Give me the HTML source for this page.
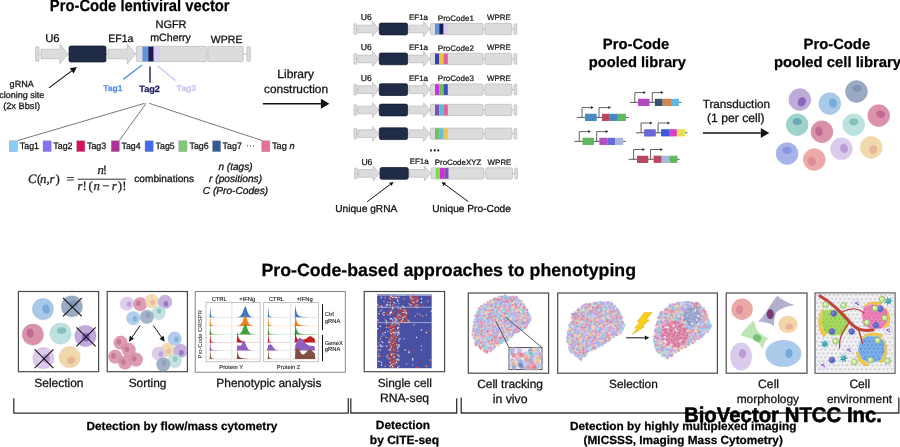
<!DOCTYPE html>
<html><head><meta charset="utf-8"><style>
html,body{margin:0;padding:0;background:#fff;width:900px;height:447px;overflow:hidden}
svg{display:block;will-change:transform}
text{paint-order:stroke;stroke-linejoin:round;text-rendering:geometricPrecision}
</style></head><body>
<svg width="900" height="447" viewBox="0 0 900 447">
<rect width="900" height="447" fill="#fff"/>
<text x="49.87" y="10.70" font-family="Liberation Sans" font-size="16.25" font-weight="bold" font-style="normal" text-anchor="start" fill="#000" stroke="#000" stroke-width="0.25"  textLength="179.73" lengthAdjust="spacingAndGlyphs">Pro-Code lentiviral vector</text>
<line x1="35.5" y1="54" x2="250.3" y2="54" stroke="#a4a4a4" stroke-width="0.8"/>
<rect x="35.5" y="46.685" width="3.5" height="14.629999999999999" rx="1.05" fill="#dcdcdc" stroke="#b2b2b2" stroke-width="0.6"/>
<path d="M41,49.2 L59.9,49.2 L59.9,44.0 L68,54 L59.9,64.0 L59.9,58.8 L41,58.8 Z" fill="#dcdcdc" stroke="#b2b2b2" stroke-width="0.6"/>
<rect x="69" y="45.992" width="37" height="16.016000000000002" rx="1.8" fill="#1f2b47" stroke="#0b1222" stroke-width="0.7"/>
<path d="M108,49.2 L127.25,49.2 L127.25,44.0 L135.5,54 L127.25,64.0 L127.25,58.8 L108,58.8 Z" fill="#dcdcdc" stroke="#b2b2b2" stroke-width="0.6"/>
<rect x="136.3" y="46.3" width="70.5" height="15.4" rx="1.5" fill="#dcdcdc" stroke="#b2b2b2" stroke-width="0.6"/>
<rect x="142.4" y="46.599999999999994" width="5.900000000000006" height="14.8" fill="#5e93de"/>
<rect x="148.3" y="46.599999999999994" width="5.399999999999977" height="14.8" fill="#1c1c4e"/>
<rect x="153.7" y="46.599999999999994" width="5.900000000000006" height="14.8" fill="#d6ccf6"/>
<rect x="207.9" y="46.3" width="35.29999999999998" height="15.4" rx="1.5" fill="#dcdcdc" stroke="#b2b2b2" stroke-width="0.6"/>
<rect x="246.8" y="46.685" width="3.5" height="14.629999999999999" rx="1.05" fill="#dcdcdc" stroke="#b2b2b2" stroke-width="0.6"/>
<text x="45.20" y="42.30" font-family="Liberation Sans" font-size="11.30" font-weight="normal" font-style="normal" text-anchor="start" fill="#111" stroke="#111" stroke-width="0.28"  textLength="14.45" lengthAdjust="spacingAndGlyphs">U6</text>
<text x="108.15" y="42.30" font-family="Liberation Sans" font-size="10.56" font-weight="normal" font-style="normal" text-anchor="start" fill="#111" stroke="#111" stroke-width="0.28"  textLength="25.25" lengthAdjust="spacingAndGlyphs">EF1a</text>
<text x="155.53" y="27.70" font-family="Liberation Sans" font-size="10.93" font-weight="normal" font-style="normal" text-anchor="start" fill="#111" stroke="#111" stroke-width="0.28"  textLength="30.95" lengthAdjust="spacingAndGlyphs">NGFR</text>
<text x="150.26" y="40.80" font-family="Liberation Sans" font-size="10.61" font-weight="normal" font-style="normal" text-anchor="start" fill="#111" stroke="#111" stroke-width="0.28"  textLength="40.68" lengthAdjust="spacingAndGlyphs">mCherry</text>
<text x="210.89" y="43.00" font-family="Liberation Sans" font-size="10.51" font-weight="normal" font-style="normal" text-anchor="start" fill="#111" stroke="#111" stroke-width="0.28"  textLength="31.53" lengthAdjust="spacingAndGlyphs">WPRE</text>
<text x="9.64" y="87.20" font-family="Liberation Sans" font-size="9.08" font-weight="normal" font-style="normal" text-anchor="start" fill="#111" stroke="#111" stroke-width="0.25"  textLength="24.23" lengthAdjust="spacingAndGlyphs">gRNA</text>
<text x="21.80" y="98.30" font-family="Liberation Sans" font-size="9.00" font-weight="normal" font-style="normal" text-anchor="middle" fill="#111" stroke="#111" stroke-width="0.25" >cloning site</text>
<text x="3.15" y="109.40" font-family="Liberation Sans" font-size="9.23" font-weight="normal" font-style="normal" text-anchor="start" fill="#111" stroke="#111" stroke-width="0.26"  textLength="36.92" lengthAdjust="spacingAndGlyphs">(2x BbsI)</text>
<line x1="49" y1="87.9" x2="71.69776333466581" y2="70.89701599661235" stroke="#111" stroke-width="1.15" />
<path d="M76.90,67.00 L73.65,73.50 L69.75,68.30 Z" fill="#111"/>
<line x1="123.3" y1="79.4" x2="142.2" y2="65" stroke="#5e93de" stroke-width="1.4" />
<line x1="150" y1="66.5" x2="150" y2="82.8" stroke="#1c1c4e" stroke-width="1.4" />
<line x1="157.3" y1="65.7" x2="175.5" y2="80.5" stroke="#cfc6f4" stroke-width="1.4" />
<text x="103.21" y="91.20" font-family="Liberation Sans" font-size="8.51" font-weight="bold" font-style="normal" text-anchor="start" fill="#5b90dc" stroke="#5b90dc" stroke-width="0.25"  textLength="19.24" lengthAdjust="spacingAndGlyphs">Tag1</text>
<text x="139.21" y="92.30" font-family="Liberation Sans" font-size="9.19" font-weight="bold" font-style="normal" text-anchor="start" fill="#1f1f5a" stroke="#1f1f5a" stroke-width="0.25"  textLength="20.76" lengthAdjust="spacingAndGlyphs">Tag2</text>
<text x="176.61" y="90.60" font-family="Liberation Sans" font-size="8.55" font-weight="bold" font-style="normal" text-anchor="start" fill="#cbc3f2" stroke="#cbc3f2" stroke-width="0.25"  textLength="19.33" lengthAdjust="spacingAndGlyphs">Tag3</text>
<line x1="144.6" y1="103.3" x2="17.5" y2="140.6" stroke="#555" stroke-width="0.8" />
<line x1="146.2" y1="103.3" x2="119.2" y2="140.6" stroke="#555" stroke-width="0.8" />
<line x1="149.2" y1="103.3" x2="262.5" y2="140.6" stroke="#555" stroke-width="0.8" />
<rect x="9.2" y="140.8" width="8.2" height="10.9" fill="#88ccf4" stroke="#999" stroke-width="0.4"/>
<text x="19.82" y="149.00" font-family="Liberation Sans" font-size="9.30" font-weight="normal" font-style="normal" text-anchor="start" fill="#111" stroke="#111" stroke-width="0.26"  textLength="19.21" lengthAdjust="spacingAndGlyphs">Tag1</text>
<rect x="43" y="140.8" width="8.2" height="10.9" fill="#8a6ff0" stroke="#999" stroke-width="0.4"/>
<text x="53.32" y="149.00" font-family="Liberation Sans" font-size="9.30" font-weight="normal" font-style="normal" text-anchor="start" fill="#111" stroke="#111" stroke-width="0.26"  textLength="19.21" lengthAdjust="spacingAndGlyphs">Tag2</text>
<rect x="76.7" y="140.8" width="8.2" height="10.9" fill="#d8105c" stroke="#999" stroke-width="0.4"/>
<text x="87.02" y="149.00" font-family="Liberation Sans" font-size="9.30" font-weight="normal" font-style="normal" text-anchor="start" fill="#111" stroke="#111" stroke-width="0.26"  textLength="19.21" lengthAdjust="spacingAndGlyphs">Tag3</text>
<rect x="111.2" y="140.8" width="8.2" height="10.9" fill="#b0309a" stroke="#999" stroke-width="0.4"/>
<text x="121.52" y="149.00" font-family="Liberation Sans" font-size="9.21" font-weight="normal" font-style="normal" text-anchor="start" fill="#111" stroke="#111" stroke-width="0.26"  textLength="19.03" lengthAdjust="spacingAndGlyphs">Tag4</text>
<rect x="145" y="140.8" width="8.2" height="10.9" fill="#4468f0" stroke="#999" stroke-width="0.4"/>
<text x="155.62" y="149.00" font-family="Liberation Sans" font-size="9.26" font-weight="normal" font-style="normal" text-anchor="start" fill="#111" stroke="#111" stroke-width="0.26"  textLength="19.12" lengthAdjust="spacingAndGlyphs">Tag5</text>
<rect x="178.8" y="140.8" width="8.2" height="10.9" fill="#80c878" stroke="#999" stroke-width="0.4"/>
<text x="189.52" y="149.00" font-family="Liberation Sans" font-size="9.30" font-weight="normal" font-style="normal" text-anchor="start" fill="#111" stroke="#111" stroke-width="0.26"  textLength="19.21" lengthAdjust="spacingAndGlyphs">Tag6</text>
<rect x="212.5" y="140.8" width="8.2" height="10.9" fill="#305c98" stroke="#999" stroke-width="0.4"/>
<text x="222.62" y="149.00" font-family="Liberation Sans" font-size="9.30" font-weight="normal" font-style="normal" text-anchor="start" fill="#111" stroke="#111" stroke-width="0.26"  textLength="19.21" lengthAdjust="spacingAndGlyphs">Tag7</text>
<text x="250.50" y="148.00" font-family="Liberation Sans" font-size="8.60" font-weight="normal" font-style="normal" text-anchor="middle" fill="#444" stroke="#444" stroke-width="0.05" >···</text>
<rect x="261.7" y="140.8" width="8.2" height="10.9" fill="#e67098" stroke="#999" stroke-width="0.4"/>
<text x="271.9" y="149.0" font-family="Liberation Sans" font-size="9.3" fill="#111" stroke="#111" stroke-width="0.26">Tag <tspan font-style="italic">n</tspan></text>
<text x="28.0" y="182.6" font-family="Liberation Serif" font-size="12.8" font-style="italic" fill="#222" stroke="#222" stroke-width="0.3">C</text><text x="37.0" y="182.6" font-family="Liberation Serif" font-size="12.8" font-style="normal" fill="#222" stroke="#222" stroke-width="0.3">(</text><text x="40.0" y="182.6" font-family="Liberation Serif" font-size="12.8" font-style="italic" fill="#222" stroke="#222" stroke-width="0.3">n</text><text x="46.6" y="182.6" font-family="Liberation Serif" font-size="12.8" font-style="normal" fill="#222" stroke="#222" stroke-width="0.3">,</text><text x="49.6" y="182.6" font-family="Liberation Serif" font-size="12.8" font-style="italic" fill="#222" stroke="#222" stroke-width="0.3">r</text><text x="55.6" y="182.6" font-family="Liberation Serif" font-size="12.8" font-style="normal" fill="#222" stroke="#222" stroke-width="0.3">)</text>
<text x="66.5" y="183.2" font-family="Liberation Serif" font-size="13" fill="#222" stroke="#222" stroke-width="0.3" textLength="8" lengthAdjust="spacingAndGlyphs">=</text>
<line x1="77.5" y1="179.2" x2="126.2" y2="179.2" stroke="#333" stroke-width="1.0" />
<text x="97.6" y="173.6" font-family="Liberation Serif" font-size="12.8" font-style="italic" fill="#222" stroke="#222" stroke-width="0.3">n</text><text x="102.8" y="173.6" font-family="Liberation Serif" font-size="12.8" font-style="normal" fill="#222" stroke="#222" stroke-width="0.3">!</text>
<text x="77.6" y="189.5" font-family="Liberation Serif" font-size="12.8" font-style="italic" fill="#222" stroke="#222" stroke-width="0.3">r</text><text x="82.4" y="189.5" font-family="Liberation Serif" font-size="12.8" font-style="normal" fill="#222" stroke="#222" stroke-width="0.3">!</text><text x="88.4" y="189.5" font-family="Liberation Serif" font-size="12.8" font-style="normal" fill="#222" stroke="#222" stroke-width="0.3">(</text><text x="93.6" y="189.5" font-family="Liberation Serif" font-size="12.8" font-style="italic" fill="#222" stroke="#222" stroke-width="0.3">n</text><text x="102.2" y="189.5" font-family="Liberation Serif" font-size="12.8" font-style="normal" fill="#222" stroke="#222" stroke-width="0.3">−</text><text x="111.8" y="189.5" font-family="Liberation Serif" font-size="12.8" font-style="italic" fill="#222" stroke="#222" stroke-width="0.3">r</text><text x="117.8" y="189.5" font-family="Liberation Serif" font-size="12.8" font-style="normal" fill="#222" stroke="#222" stroke-width="0.3">)</text><text x="122.3" y="189.5" font-family="Liberation Serif" font-size="12.8" font-style="normal" fill="#222" stroke="#222" stroke-width="0.3">!</text>
<text x="134.29" y="181.80" font-family="Liberation Sans" font-size="10.15" font-weight="normal" font-style="normal" text-anchor="start" fill="#111" stroke="#111" stroke-width="0.28"  textLength="59.83" lengthAdjust="spacingAndGlyphs">combinations</text>
<text x="218.40" y="170.10" font-family="Liberation Sans" font-size="10.09" font-weight="normal" font-style="italic" text-anchor="start" fill="#111" stroke="#111" stroke-width="0.28"  textLength="34.21" lengthAdjust="spacingAndGlyphs">n (tags)</text>
<text x="209.10" y="181.80" font-family="Liberation Sans" font-size="10.14" font-weight="normal" font-style="italic" text-anchor="start" fill="#111" stroke="#111" stroke-width="0.28"  textLength="52.95" lengthAdjust="spacingAndGlyphs">r (positions)</text>
<text x="202.79" y="193.90" font-family="Liberation Sans" font-size="10.14" font-weight="normal" font-style="italic" text-anchor="start" fill="#111" stroke="#111" stroke-width="0.28"  textLength="65.38" lengthAdjust="spacingAndGlyphs">C (Pro-Codes)</text>
<text x="277.34" y="78.20" font-family="Liberation Sans" font-size="12.02" font-weight="normal" font-style="normal" text-anchor="start" fill="#111" stroke="#111" stroke-width="0.28"  textLength="36.74" lengthAdjust="spacingAndGlyphs">Library</text>
<text x="264.03" y="92.60" font-family="Liberation Sans" font-size="11.87" font-weight="normal" font-style="normal" text-anchor="start" fill="#111" stroke="#111" stroke-width="0.28"  textLength="64.01" lengthAdjust="spacingAndGlyphs">construction</text>
<line x1="262.9" y1="103.7" x2="320.9" y2="103.7" stroke="#111" stroke-width="1.4" />
<path d="M329.40,103.70 L320.90,108.70 L320.90,98.70 Z" fill="#111"/>
<line x1="353.9" y1="29.0" x2="516.8" y2="29.0" stroke="#a4a4a4" stroke-width="0.8"/>
<rect x="353.9" y="23.6325" width="2.8000000000000114" height="10.735" rx="0.8400000000000034" fill="#dcdcdc" stroke="#b2b2b2" stroke-width="0.6"/>
<path d="M357.9,25.15 L372.53,25.15 L372.53,21.5 L378.8,29.0 L372.53,36.5 L372.53,32.85 L357.9,32.85 Z" fill="#dcdcdc" stroke="#b2b2b2" stroke-width="0.6"/>
<rect x="379.3" y="23.124" width="28.30000000000001" height="11.752" rx="1.8" fill="#1f2b47" stroke="#0b1222" stroke-width="0.7"/>
<path d="M409,25.15 L423.63,25.15 L423.63,21.5 L429.9,29.0 L423.63,36.5 L423.63,32.85 L409,32.85 Z" fill="#dcdcdc" stroke="#b2b2b2" stroke-width="0.6"/>
<rect x="430.3" y="23.35" width="52.89999999999998" height="11.3" rx="1.5" fill="#dcdcdc" stroke="#b2b2b2" stroke-width="0.6"/>
<rect x="435.0" y="23.650000000000002" width="4.300000000000011" height="10.700000000000001" fill="#5e93de"/>
<rect x="439.3" y="23.650000000000002" width="4.300000000000011" height="10.700000000000001" fill="#1c1c4e"/>
<rect x="443.6" y="23.650000000000002" width="4.199999999999989" height="10.700000000000001" fill="#d6ccf6"/>
<rect x="485" y="23.35" width="26.899999999999977" height="11.3" rx="1.5" fill="#dcdcdc" stroke="#b2b2b2" stroke-width="0.6"/>
<rect x="514.1" y="23.6325" width="2.699999999999932" height="10.735" rx="0.8099999999999795" fill="#dcdcdc" stroke="#b2b2b2" stroke-width="0.6"/>
<text x="360.71" y="20.30" font-family="Liberation Sans" font-size="8.61" font-weight="normal" font-style="normal" text-anchor="start" fill="#111" stroke="#111" stroke-width="0.24"  textLength="11.01" lengthAdjust="spacingAndGlyphs">U6</text>
<text x="408.96" y="20.00" font-family="Liberation Sans" font-size="7.97" font-weight="normal" font-style="normal" text-anchor="start" fill="#111" stroke="#111" stroke-width="0.22"  textLength="19.04" lengthAdjust="spacingAndGlyphs">EF1a</text>
<text x="437.86" y="20.70" font-family="Liberation Sans" font-size="8.01" font-weight="normal" font-style="normal" text-anchor="start" fill="#111" stroke="#111" stroke-width="0.22"  textLength="36.06" lengthAdjust="spacingAndGlyphs">ProCode1</text>
<text x="486.92" y="20.10" font-family="Liberation Sans" font-size="7.93" font-weight="normal" font-style="normal" text-anchor="start" fill="#111" stroke="#111" stroke-width="0.22"  textLength="23.80" lengthAdjust="spacingAndGlyphs">WPRE</text>
<line x1="353.9" y1="58.9" x2="516.8" y2="58.9" stroke="#a4a4a4" stroke-width="0.8"/>
<rect x="353.9" y="53.5325" width="2.8000000000000114" height="10.735" rx="0.8400000000000034" fill="#dcdcdc" stroke="#b2b2b2" stroke-width="0.6"/>
<path d="M357.9,55.05 L372.53,55.05 L372.53,51.4 L378.8,58.9 L372.53,66.4 L372.53,62.75 L357.9,62.75 Z" fill="#dcdcdc" stroke="#b2b2b2" stroke-width="0.6"/>
<rect x="379.3" y="53.024" width="28.30000000000001" height="11.752" rx="1.8" fill="#1f2b47" stroke="#0b1222" stroke-width="0.7"/>
<path d="M409,55.05 L423.63,55.05 L423.63,51.4 L429.9,58.9 L423.63,66.4 L423.63,62.75 L409,62.75 Z" fill="#dcdcdc" stroke="#b2b2b2" stroke-width="0.6"/>
<rect x="430.3" y="53.25" width="52.89999999999998" height="11.3" rx="1.5" fill="#dcdcdc" stroke="#b2b2b2" stroke-width="0.6"/>
<rect x="435.0" y="53.55" width="4.300000000000011" height="10.700000000000001" fill="#3045b0"/>
<rect x="439.3" y="53.55" width="4.300000000000011" height="10.700000000000001" fill="#f0c040"/>
<rect x="443.6" y="53.55" width="4.199999999999989" height="10.700000000000001" fill="#e2609a"/>
<rect x="485" y="53.25" width="26.899999999999977" height="11.3" rx="1.5" fill="#dcdcdc" stroke="#b2b2b2" stroke-width="0.6"/>
<rect x="514.1" y="53.5325" width="2.699999999999932" height="10.735" rx="0.8099999999999795" fill="#dcdcdc" stroke="#b2b2b2" stroke-width="0.6"/>
<text x="360.71" y="50.20" font-family="Liberation Sans" font-size="8.61" font-weight="normal" font-style="normal" text-anchor="start" fill="#111" stroke="#111" stroke-width="0.24"  textLength="11.01" lengthAdjust="spacingAndGlyphs">U6</text>
<text x="408.96" y="49.90" font-family="Liberation Sans" font-size="7.97" font-weight="normal" font-style="normal" text-anchor="start" fill="#111" stroke="#111" stroke-width="0.22"  textLength="19.04" lengthAdjust="spacingAndGlyphs">EF1a</text>
<text x="437.86" y="50.60" font-family="Liberation Sans" font-size="8.01" font-weight="normal" font-style="normal" text-anchor="start" fill="#111" stroke="#111" stroke-width="0.22"  textLength="36.06" lengthAdjust="spacingAndGlyphs">ProCode2</text>
<text x="486.92" y="50.00" font-family="Liberation Sans" font-size="7.93" font-weight="normal" font-style="normal" text-anchor="start" fill="#111" stroke="#111" stroke-width="0.22"  textLength="23.80" lengthAdjust="spacingAndGlyphs">WPRE</text>
<line x1="353.9" y1="89.6" x2="516.8" y2="89.6" stroke="#a4a4a4" stroke-width="0.8"/>
<rect x="353.9" y="84.23249999999999" width="2.8000000000000114" height="10.735" rx="0.8400000000000034" fill="#dcdcdc" stroke="#b2b2b2" stroke-width="0.6"/>
<path d="M357.9,85.75 L372.53,85.75 L372.53,82.1 L378.8,89.6 L372.53,97.1 L372.53,93.44999999999999 L357.9,93.44999999999999 Z" fill="#dcdcdc" stroke="#b2b2b2" stroke-width="0.6"/>
<rect x="379.3" y="83.72399999999999" width="28.30000000000001" height="11.752" rx="1.8" fill="#1f2b47" stroke="#0b1222" stroke-width="0.7"/>
<path d="M409,85.75 L423.63,85.75 L423.63,82.1 L429.9,89.6 L423.63,97.1 L423.63,93.44999999999999 L409,93.44999999999999 Z" fill="#dcdcdc" stroke="#b2b2b2" stroke-width="0.6"/>
<rect x="430.3" y="83.94999999999999" width="52.89999999999998" height="11.3" rx="1.5" fill="#dcdcdc" stroke="#b2b2b2" stroke-width="0.6"/>
<rect x="435.0" y="84.24999999999999" width="4.300000000000011" height="10.700000000000001" fill="#cc30e0"/>
<rect x="439.3" y="84.24999999999999" width="4.300000000000011" height="10.700000000000001" fill="#6cc058"/>
<rect x="443.6" y="84.24999999999999" width="4.199999999999989" height="10.700000000000001" fill="#3850b8"/>
<rect x="485" y="83.94999999999999" width="26.899999999999977" height="11.3" rx="1.5" fill="#dcdcdc" stroke="#b2b2b2" stroke-width="0.6"/>
<rect x="514.1" y="84.23249999999999" width="2.699999999999932" height="10.735" rx="0.8099999999999795" fill="#dcdcdc" stroke="#b2b2b2" stroke-width="0.6"/>
<text x="360.71" y="80.90" font-family="Liberation Sans" font-size="8.61" font-weight="normal" font-style="normal" text-anchor="start" fill="#111" stroke="#111" stroke-width="0.24"  textLength="11.01" lengthAdjust="spacingAndGlyphs">U6</text>
<text x="408.96" y="80.60" font-family="Liberation Sans" font-size="7.97" font-weight="normal" font-style="normal" text-anchor="start" fill="#111" stroke="#111" stroke-width="0.22"  textLength="19.04" lengthAdjust="spacingAndGlyphs">EF1a</text>
<text x="437.86" y="81.30" font-family="Liberation Sans" font-size="7.99" font-weight="normal" font-style="normal" text-anchor="start" fill="#111" stroke="#111" stroke-width="0.22"  textLength="35.98" lengthAdjust="spacingAndGlyphs">ProCode3</text>
<text x="486.92" y="80.70" font-family="Liberation Sans" font-size="7.93" font-weight="normal" font-style="normal" text-anchor="start" fill="#111" stroke="#111" stroke-width="0.22"  textLength="23.80" lengthAdjust="spacingAndGlyphs">WPRE</text>
<line x1="353.9" y1="110.0" x2="516.8" y2="110.0" stroke="#a4a4a4" stroke-width="0.8"/>
<rect x="353.9" y="104.6325" width="2.8000000000000114" height="10.735" rx="0.8400000000000034" fill="#dcdcdc" stroke="#b2b2b2" stroke-width="0.6"/>
<path d="M357.9,106.15 L372.53,106.15 L372.53,102.5 L378.8,110.0 L372.53,117.5 L372.53,113.85 L357.9,113.85 Z" fill="#dcdcdc" stroke="#b2b2b2" stroke-width="0.6"/>
<rect x="379.3" y="104.124" width="28.30000000000001" height="11.752" rx="1.8" fill="#1f2b47" stroke="#0b1222" stroke-width="0.7"/>
<path d="M409,106.15 L423.63,106.15 L423.63,102.5 L429.9,110.0 L423.63,117.5 L423.63,113.85 L409,113.85 Z" fill="#dcdcdc" stroke="#b2b2b2" stroke-width="0.6"/>
<rect x="430.3" y="104.35" width="52.89999999999998" height="11.3" rx="1.5" fill="#dcdcdc" stroke="#b2b2b2" stroke-width="0.6"/>
<rect x="435.0" y="104.64999999999999" width="4.300000000000011" height="10.700000000000001" fill="#8050b8"/>
<rect x="439.3" y="104.64999999999999" width="4.300000000000011" height="10.700000000000001" fill="#58c0d0"/>
<rect x="443.6" y="104.64999999999999" width="4.199999999999989" height="10.700000000000001" fill="#e2609a"/>
<rect x="485" y="104.35" width="26.899999999999977" height="11.3" rx="1.5" fill="#dcdcdc" stroke="#b2b2b2" stroke-width="0.6"/>
<rect x="514.1" y="104.6325" width="2.699999999999932" height="10.735" rx="0.8099999999999795" fill="#dcdcdc" stroke="#b2b2b2" stroke-width="0.6"/>
<line x1="353.9" y1="133.7" x2="516.8" y2="133.7" stroke="#a4a4a4" stroke-width="0.8"/>
<rect x="353.9" y="128.33249999999998" width="2.8000000000000114" height="10.735" rx="0.8400000000000034" fill="#dcdcdc" stroke="#b2b2b2" stroke-width="0.6"/>
<path d="M357.9,129.85 L372.53,129.85 L372.53,126.19999999999999 L378.8,133.7 L372.53,141.2 L372.53,137.54999999999998 L357.9,137.54999999999998 Z" fill="#dcdcdc" stroke="#b2b2b2" stroke-width="0.6"/>
<rect x="379.3" y="127.82399999999998" width="28.30000000000001" height="11.752" rx="1.8" fill="#1f2b47" stroke="#0b1222" stroke-width="0.7"/>
<path d="M409,129.85 L423.63,129.85 L423.63,126.19999999999999 L429.9,133.7 L423.63,141.2 L423.63,137.54999999999998 L409,137.54999999999998 Z" fill="#dcdcdc" stroke="#b2b2b2" stroke-width="0.6"/>
<rect x="430.3" y="128.04999999999998" width="52.89999999999998" height="11.3" rx="1.5" fill="#dcdcdc" stroke="#b2b2b2" stroke-width="0.6"/>
<rect x="435.0" y="128.35" width="4.300000000000011" height="10.700000000000001" fill="#70c060"/>
<rect x="439.3" y="128.35" width="4.300000000000011" height="10.700000000000001" fill="#60c0dc"/>
<rect x="443.6" y="128.35" width="4.199999999999989" height="10.700000000000001" fill="#f0c050"/>
<rect x="485" y="128.04999999999998" width="26.899999999999977" height="11.3" rx="1.5" fill="#dcdcdc" stroke="#b2b2b2" stroke-width="0.6"/>
<rect x="514.1" y="128.33249999999998" width="2.699999999999932" height="10.735" rx="0.8099999999999795" fill="#dcdcdc" stroke="#b2b2b2" stroke-width="0.6"/>
<line x1="354.59999999999997" y1="173.4" x2="517.5" y2="173.4" stroke="#a4a4a4" stroke-width="0.8"/>
<rect x="354.59999999999997" y="168.0325" width="2.8000000000000114" height="10.735" rx="0.8400000000000034" fill="#dcdcdc" stroke="#b2b2b2" stroke-width="0.6"/>
<path d="M358.59999999999997,169.55 L373.23,169.55 L373.23,165.9 L379.5,173.4 L373.23,180.9 L373.23,177.25 L358.59999999999997,177.25 Z" fill="#dcdcdc" stroke="#b2b2b2" stroke-width="0.6"/>
<rect x="380.0" y="167.524" width="28.30000000000001" height="11.752" rx="1.8" fill="#1f2b47" stroke="#0b1222" stroke-width="0.7"/>
<path d="M409.7,169.55 L424.33,169.55 L424.33,165.9 L430.59999999999997,173.4 L424.33,180.9 L424.33,177.25 L409.7,177.25 Z" fill="#dcdcdc" stroke="#b2b2b2" stroke-width="0.6"/>
<rect x="431.0" y="167.75" width="52.89999999999998" height="11.3" rx="1.5" fill="#dcdcdc" stroke="#b2b2b2" stroke-width="0.6"/>
<rect x="435.7" y="168.05" width="4.300000000000011" height="10.700000000000001" fill="#78e040"/>
<rect x="440.0" y="168.05" width="4.300000000000011" height="10.700000000000001" fill="#dc28dc"/>
<rect x="444.3" y="168.05" width="4.199999999999989" height="10.700000000000001" fill="#8050b8"/>
<rect x="485.7" y="167.75" width="26.900000000000034" height="11.3" rx="1.5" fill="#dcdcdc" stroke="#b2b2b2" stroke-width="0.6"/>
<rect x="514.8000000000001" y="168.0325" width="2.699999999999932" height="10.735" rx="0.8099999999999795" fill="#dcdcdc" stroke="#b2b2b2" stroke-width="0.6"/>
<text x="361.41" y="164.70" font-family="Liberation Sans" font-size="8.61" font-weight="normal" font-style="normal" text-anchor="start" fill="#111" stroke="#111" stroke-width="0.24"  textLength="11.01" lengthAdjust="spacingAndGlyphs">U6</text>
<text x="409.66" y="164.40" font-family="Liberation Sans" font-size="7.97" font-weight="normal" font-style="normal" text-anchor="start" fill="#111" stroke="#111" stroke-width="0.22"  textLength="19.04" lengthAdjust="spacingAndGlyphs">EF1a</text>
<text x="434.77" y="165.10" font-family="Liberation Sans" font-size="7.89" font-weight="normal" font-style="normal" text-anchor="start" fill="#111" stroke="#111" stroke-width="0.22"  textLength="46.48" lengthAdjust="spacingAndGlyphs">ProCodeXYZ</text>
<text x="487.62" y="164.50" font-family="Liberation Sans" font-size="7.93" font-weight="normal" font-style="normal" text-anchor="start" fill="#111" stroke="#111" stroke-width="0.22"  textLength="23.80" lengthAdjust="spacingAndGlyphs">WPRE</text>
<text x="435.00" y="153.60" font-family="Liberation Sans" font-size="11.00" font-weight="bold" font-style="normal" text-anchor="middle" fill="#111" stroke="#111" stroke-width="0.25" >···</text>
<line x1="367.2" y1="201.7" x2="390.3043795482993" y2="184.3058283248545" stroke="#111" stroke-width="1.0" />
<path d="M393.50,181.90 L391.51,185.90 L389.10,182.71 Z" fill="#111"/>
<line x1="468.3" y1="201.7" x2="444.81294928199975" y2="184.28263654620204" stroke="#111" stroke-width="1.0" />
<path d="M441.60,181.90 L446.00,182.68 L443.62,185.89 Z" fill="#111"/>
<text x="335.29" y="212.00" font-family="Liberation Sans" font-size="10.13" font-weight="normal" font-style="normal" text-anchor="start" fill="#111" stroke="#111" stroke-width="0.28"  textLength="61.95" lengthAdjust="spacingAndGlyphs">Unique gRNA</text>
<text x="432.18" y="212.00" font-family="Liberation Sans" font-size="10.20" font-weight="normal" font-style="normal" text-anchor="start" fill="#111" stroke="#111" stroke-width="0.28"  textLength="78.79" lengthAdjust="spacingAndGlyphs">Unique Pro-Code</text>
<text x="602.87" y="49.20" font-family="Liberation Sans" font-size="14.77" font-weight="bold" font-style="normal" text-anchor="start" fill="#000" stroke="#000" stroke-width="0.25"  textLength="66.48" lengthAdjust="spacingAndGlyphs">Pro-Code</text>
<text x="588.77" y="67.30" font-family="Liberation Sans" font-size="14.70" font-weight="bold" font-style="normal" text-anchor="start" fill="#000" stroke="#000" stroke-width="0.25"  textLength="97.21" lengthAdjust="spacingAndGlyphs">pooled library</text>
<text x="803.56" y="48.50" font-family="Liberation Sans" font-size="14.80" font-weight="bold" font-style="normal" text-anchor="start" fill="#000" stroke="#000" stroke-width="0.25"  textLength="66.58" lengthAdjust="spacingAndGlyphs">Pro-Code</text>
<text x="773.96" y="67.00" font-family="Liberation Sans" font-size="14.86" font-weight="bold" font-style="normal" text-anchor="start" fill="#000" stroke="#000" stroke-width="0.25"  textLength="127.16" lengthAdjust="spacingAndGlyphs">pooled cell library</text>
<line x1="629.8" y1="102.4" x2="681.4" y2="102.4" stroke="#333" stroke-width="0.8" />
<rect x="638" y="98.80000000000001" width="11.5" height="7.2" rx="0.6" fill="#b048c0"/>
<rect x="654.9" y="98.80000000000001" width="7.7000000000000455" height="7.2" fill="#3a5070"/>
<rect x="662.6" y="98.80000000000001" width="8.399999999999977" height="7.2" fill="#d08850"/>
<rect x="671" y="98.80000000000001" width="7.899999999999977" height="7.2" fill="#60b8e4"/>
<path d="M634.8,102.4 L634.8,92.60000000000001 L643.6,92.60000000000001" fill="none" stroke="#222" stroke-width="0.7"/>
<path d="M645.9,92.60000000000001 L643.3000000000001,91.10000000000001 L643.3000000000001,94.10000000000001 Z" fill="#222"/>
<path d="M652.2,102.4 L652.2,92.60000000000001 L661.1,92.60000000000001" fill="none" stroke="#222" stroke-width="0.7"/>
<path d="M663.4,92.60000000000001 L660.8000000000001,91.10000000000001 L660.8000000000001,94.10000000000001 Z" fill="#222"/>
<line x1="577" y1="117.4" x2="628.6" y2="117.4" stroke="#333" stroke-width="0.8" />
<rect x="585" y="113.80000000000001" width="11.700000000000045" height="7.2" rx="0.6" fill="#4a88c0"/>
<rect x="602" y="113.80000000000001" width="7.7999999999999545" height="7.2" fill="#b84860"/>
<rect x="609.8" y="113.80000000000001" width="8.0" height="7.2" fill="#4a88c0"/>
<rect x="617.8" y="113.80000000000001" width="8.100000000000023" height="7.2" fill="#60b860"/>
<path d="M582,117.4 L582,107.60000000000001 L591.3,107.60000000000001" fill="none" stroke="#222" stroke-width="0.7"/>
<path d="M593.5999999999999,107.60000000000001 L591.0,106.10000000000001 L591.0,109.10000000000001 Z" fill="#222"/>
<path d="M599,117.4 L599,107.60000000000001 L608.7,107.60000000000001" fill="none" stroke="#222" stroke-width="0.7"/>
<path d="M611.0,107.60000000000001 L608.4000000000001,106.10000000000001 L608.4000000000001,109.10000000000001 Z" fill="#222"/>
<line x1="574.3" y1="141.4" x2="625.9" y2="141.4" stroke="#333" stroke-width="0.8" />
<rect x="582.5" y="137.8" width="11.5" height="7.2" rx="0.6" fill="#60b860"/>
<rect x="599.4" y="137.8" width="8.0" height="7.2" fill="#b050c0"/>
<rect x="607.4" y="137.8" width="7.7000000000000455" height="7.2" fill="#6868d8"/>
<rect x="615.1" y="137.8" width="8.100000000000023" height="7.2" fill="#a8b8d8"/>
<path d="M579.3,141.4 L579.3,131.6 L588.6,131.6" fill="none" stroke="#222" stroke-width="0.7"/>
<path d="M590.9,131.6 L588.3000000000001,130.1 L588.3000000000001,133.1 Z" fill="#222"/>
<path d="M596.7,141.4 L596.7,131.6 L606,131.6" fill="none" stroke="#222" stroke-width="0.7"/>
<path d="M608.3,131.6 L605.7,130.1 L605.7,133.1 Z" fill="#222"/>
<line x1="636" y1="132.8" x2="687.6" y2="132.8" stroke="#333" stroke-width="0.8" />
<rect x="644.1" y="129.20000000000002" width="11.699999999999932" height="7.2" rx="0.6" fill="#6868d8"/>
<rect x="661.1" y="129.20000000000002" width="7.899999999999977" height="7.2" fill="#3858e0"/>
<rect x="669" y="129.20000000000002" width="7.899999999999977" height="7.2" fill="#d840c0"/>
<rect x="676.9" y="129.20000000000002" width="8.100000000000023" height="7.2" fill="#e8e050"/>
<path d="M641.1,132.8 L641.1,123.00000000000001 L650.2,123.00000000000001" fill="none" stroke="#222" stroke-width="0.7"/>
<path d="M652.5,123.00000000000001 L649.9000000000001,121.50000000000001 L649.9000000000001,124.50000000000001 Z" fill="#222"/>
<path d="M658.1,132.8 L658.1,123.00000000000001 L667.7,123.00000000000001" fill="none" stroke="#222" stroke-width="0.7"/>
<path d="M670.0,123.00000000000001 L667.4000000000001,121.50000000000001 L667.4000000000001,124.50000000000001 Z" fill="#222"/>
<line x1="628.6" y1="159.3" x2="679.6" y2="159.3" stroke="#333" stroke-width="0.8" />
<rect x="637" y="155.70000000000002" width="11.299999999999955" height="7.2" rx="0.6" fill="#b84860"/>
<rect x="653.6" y="155.70000000000002" width="8.100000000000023" height="7.2" fill="#b84860"/>
<rect x="661.7" y="155.70000000000002" width="7.699999999999932" height="7.2" fill="#a8b8d8"/>
<rect x="669.4" y="155.70000000000002" width="8.0" height="7.2" fill="#60b860"/>
<path d="M633.6,159.3 L633.6,149.5 L642.7,149.5" fill="none" stroke="#222" stroke-width="0.7"/>
<path d="M645.0,149.5 L642.4000000000001,148.0 L642.4000000000001,151.0 Z" fill="#222"/>
<path d="M650.6,159.3 L650.6,149.5 L660.6,149.5" fill="none" stroke="#222" stroke-width="0.7"/>
<path d="M662.9,149.5 L660.3000000000001,148.0 L660.3000000000001,151.0 Z" fill="#222"/>
<text x="702.67" y="107.50" font-family="Liberation Sans" font-size="11.73" font-weight="normal" font-style="normal" text-anchor="start" fill="#111" stroke="#111" stroke-width="0.28"  textLength="67.38" lengthAdjust="spacingAndGlyphs">Transduction</text>
<text x="707.07" y="121.70" font-family="Liberation Sans" font-size="12.17" font-weight="normal" font-style="normal" text-anchor="start" fill="#111" stroke="#111" stroke-width="0.28"  textLength="57.51" lengthAdjust="spacingAndGlyphs">(1 per cell)</text>
<line x1="702.9" y1="133.0" x2="760.8" y2="133.0" stroke="#111" stroke-width="1.4" />
<path d="M769.30,133.00 L760.80,138.00 L760.80,128.00 Z" fill="#111"/>
<circle cx="799.8" cy="99.6" r="10.8" fill="#c0aad9" stroke="#c0aad9" stroke-width="0.97" opacity="1"/>
<ellipse cx="801.9" cy="101.8" rx="4.0" ry="4.8" fill="#8a68be" transform="rotate(25 801.9 101.8)" opacity="1"/>
<circle cx="829.8" cy="103.6" r="10.8" fill="#a9c9e8" stroke="#a9c9e8" stroke-width="0.97" opacity="1"/>
<ellipse cx="833.0" cy="103.1" rx="4.0" ry="4.8" fill="#78acd8" transform="rotate(-20 833.0 103.1)" opacity="1"/>
<circle cx="856.5" cy="91.5" r="10.8" fill="#9aaac2" stroke="#9aaac2" stroke-width="0.97" opacity="1"/>
<ellipse cx="857.1" cy="88.5" rx="4.6" ry="3.6" fill="#8494b4" transform="rotate(0 857.1 88.5)" opacity="1"/>
<circle cx="797.2" cy="124.7" r="10.8" fill="#9fd3c9" stroke="#9fd3c9" stroke-width="0.97" opacity="1"/>
<ellipse cx="797.2" cy="121.7" rx="4.6" ry="3.6" fill="#6aaab2" transform="rotate(0 797.2 121.7)" opacity="1"/>
<circle cx="821.9" cy="131.7" r="10.8" fill="#d992aa" stroke="#d992aa" stroke-width="0.97" opacity="1"/>
<ellipse cx="818.9" cy="131.29999999999998" rx="3.8" ry="4.8" fill="#c46a92" transform="rotate(-10 818.9 131.29999999999998)" opacity="1"/>
<circle cx="853.7" cy="124.7" r="10.8" fill="#bde1df" stroke="#bde1df" stroke-width="0.97" opacity="1"/>
<ellipse cx="853.7" cy="121.9" rx="4.6" ry="3.6" fill="#86c2ba" transform="rotate(0 853.7 121.9)" opacity="1"/>
<circle cx="878.7" cy="115.6" r="10.8" fill="#d992aa" stroke="#d992aa" stroke-width="0.97" opacity="1"/>
<ellipse cx="880.7" cy="114.19999999999999" rx="4.6" ry="3.8" fill="#c46a92" transform="rotate(20 880.7 114.19999999999999)" opacity="1"/>
<circle cx="787.1" cy="153.5" r="10.8" fill="#a7b4ea" stroke="#a7b4ea" stroke-width="0.97" opacity="1"/>
<ellipse cx="787.1" cy="150.4" rx="4.6" ry="3.6" fill="#8896e2" transform="rotate(0 787.1 150.4)" opacity="1"/>
<circle cx="814.3" cy="159.5" r="10.8" fill="#eaaaa8" stroke="#eaaaa8" stroke-width="0.97" opacity="1"/>
<ellipse cx="811.6999999999999" cy="161.5" rx="4.0" ry="4.6" fill="#dc8c94" transform="rotate(-30 811.6999999999999 161.5)" opacity="1"/>
<circle cx="841.4" cy="148.8" r="10.8" fill="#dacaeb" stroke="#dacaeb" stroke-width="0.97" opacity="1"/>
<ellipse cx="844.1" cy="148.4" rx="3.8" ry="4.8" fill="#bb9cd4" transform="rotate(-15 844.1 148.4)" opacity="1"/>
<circle cx="871.2" cy="147.4" r="10.8" fill="#f2d9ab" stroke="#f2d9ab" stroke-width="0.97" opacity="1"/>
<ellipse cx="873.2" cy="149.4" rx="4.0" ry="4.6" fill="#eab49c" transform="rotate(30 873.2 149.4)" opacity="1"/>
<text x="261.46" y="276.10" font-family="Liberation Sans" font-size="17.74" font-weight="bold" font-style="normal" text-anchor="start" fill="#000" stroke="#000" stroke-width="0.25"  textLength="374.56" lengthAdjust="spacingAndGlyphs">Pro-Code-based approaches to phenotyping</text>
<rect x="18.4" y="291.5" width="80.19999999999999" height="80.19999999999999" fill="#fff" stroke="#4a4a4a" stroke-width="1.2"/>
<g opacity="1.0"><circle cx="43" cy="309.1" r="10.6" fill="#a9c9e8" stroke="#78acd8" stroke-opacity="0.25" stroke-width="1.06"/><ellipse cx="46.1" cy="309.1" rx="3.6" ry="4.5" fill="#78acd8" transform="rotate(-15 46.1 309.1)"/></g>
<g opacity="1.0"><circle cx="71.9" cy="306.4" r="10.6" fill="#9aaac2" stroke="#8494b4" stroke-opacity="0.25" stroke-width="1.06"/><ellipse cx="73.4" cy="303.7" rx="4.5" ry="3.5" fill="#8494b4" transform="rotate(0 73.4 303.7)"/></g>
<g opacity="1.0"><circle cx="32.9" cy="334.6" r="10.6" fill="#d992aa" stroke="#c46a92" stroke-opacity="0.25" stroke-width="1.06"/><ellipse cx="30.2" cy="333.1" rx="3.6" ry="4.6" fill="#c46a92" transform="rotate(-10 30.2 333.1)"/></g>
<g opacity="1.0"><circle cx="60.6" cy="333.6" r="10.6" fill="#bde1df" stroke="#86c2ba" stroke-opacity="0.25" stroke-width="1.06"/><ellipse cx="61.6" cy="330.6" rx="4.6" ry="3.4" fill="#86c2ba" transform="rotate(0 61.6 330.6)"/></g>
<g opacity="1.0"><circle cx="85.5" cy="336" r="10.6" fill="#c0aad9" stroke="#8a68be" stroke-opacity="0.25" stroke-width="1.06"/><ellipse cx="86.0" cy="337.3" rx="3.8" ry="4.2" fill="#8a68be" transform="rotate(0 86.0 337.3)"/></g>
<g opacity="1.0"><circle cx="43.4" cy="358.2" r="10.6" fill="#dacaeb" stroke="#bb9cd4" stroke-opacity="0.25" stroke-width="1.06"/><ellipse cx="46.1" cy="358.5" rx="3.6" ry="4.4" fill="#bb9cd4" transform="rotate(0 46.1 358.5)"/></g>
<g opacity="1.0"><circle cx="69.7" cy="357.2" r="10.6" fill="#f2d9ab" stroke="#eab49c" stroke-opacity="0.25" stroke-width="1.06"/><ellipse cx="71.2" cy="360.3" rx="4.2" ry="3.5" fill="#eab49c" transform="rotate(-20 71.2 360.3)"/></g>
<line x1="63" y1="297.9" x2="81.9" y2="316.4" stroke="#111" stroke-width="1.1" />
<line x1="81.9" y1="297.9" x2="63" y2="316.4" stroke="#111" stroke-width="1.1" />
<line x1="76.4" y1="327.3" x2="95.7" y2="346.4" stroke="#111" stroke-width="1.1" />
<line x1="95.7" y1="327.3" x2="76.4" y2="346.4" stroke="#111" stroke-width="1.1" />
<line x1="34.7" y1="349.4" x2="53.4" y2="368.1" stroke="#111" stroke-width="1.1" />
<line x1="53.4" y1="349.4" x2="34.7" y2="368.1" stroke="#111" stroke-width="1.1" />
<rect x="107.2" y="291.5" width="80.2" height="80.19999999999999" fill="#fff" stroke="#4a4a4a" stroke-width="1.2"/>
<g opacity="0.9"><circle cx="127" cy="303.7" r="6.9" fill="#dacaeb" stroke="#bb9cd4" stroke-opacity="0.25" stroke-width="0.69"/><ellipse cx="129.1" cy="304.09999999999997" rx="2.3" ry="2.8" fill="#bb9cd4" transform="rotate(0 129.1 304.09999999999997)"/></g>
<g opacity="0.9"><circle cx="140.2" cy="304.1" r="6.9" fill="#d992aa" stroke="#c46a92" stroke-opacity="0.25" stroke-width="0.69"/><ellipse cx="138.39999999999998" cy="303.3" rx="2.3" ry="2.8" fill="#c46a92" transform="rotate(0 138.39999999999998 303.3)"/></g>
<g opacity="0.9"><circle cx="151.8" cy="301" r="6.9" fill="#f2d9ab" stroke="#eab49c" stroke-opacity="0.25" stroke-width="0.69"/><ellipse cx="152.70000000000002" cy="302.3" rx="2.3" ry="2.8" fill="#eab49c" transform="rotate(0 152.70000000000002 302.3)"/></g>
<g opacity="0.9"><circle cx="165.1" cy="301.9" r="6.9" fill="#c0aad9" stroke="#8a68be" stroke-opacity="0.25" stroke-width="0.69"/><ellipse cx="166.0" cy="303.7" rx="2.3" ry="2.8" fill="#8a68be" transform="rotate(0 166.0 303.7)"/></g>
<g opacity="0.9"><circle cx="158.7" cy="312.8" r="6.9" fill="#bde1df" stroke="#86c2ba" stroke-opacity="0.25" stroke-width="0.69"/><ellipse cx="159.1" cy="311.0" rx="2.3" ry="2.8" fill="#86c2ba" transform="rotate(0 159.1 311.0)"/></g>
<g opacity="0.9"><circle cx="133.3" cy="318.2" r="6.9" fill="#a9c9e8" stroke="#78acd8" stroke-opacity="0.25" stroke-width="0.69"/><ellipse cx="135.10000000000002" cy="318.8" rx="2.3" ry="2.8" fill="#78acd8" transform="rotate(0 135.10000000000002 318.8)"/></g>
<g opacity="0.9"><circle cx="146.9" cy="316.8" r="6.9" fill="#9aaac2" stroke="#8494b4" stroke-opacity="0.25" stroke-width="0.69"/><ellipse cx="147.8" cy="315.1" rx="2.3" ry="2.8" fill="#8494b4" transform="rotate(0 147.8 315.1)"/></g>
<line x1="140.2" y1="325.5" x2="131.95218687064772" y2="337.2929257902142" stroke="#111" stroke-width="1.0" />
<path d="M128.80,341.80 L129.90,335.86 L134.00,338.73 Z" fill="#111"/>
<line x1="153.3" y1="325.5" x2="161.54781312935228" y2="337.2929257902142" stroke="#111" stroke-width="1.0" />
<path d="M164.70,341.80 L159.50,338.73 L163.60,335.86 Z" fill="#111"/>
<g opacity="0.9"><circle cx="120.6" cy="342.7" r="6.9" fill="#d992aa" stroke="#c46a92" stroke-opacity="0.25" stroke-width="0.69"/><ellipse cx="118.8" cy="341.9" rx="2.3" ry="2.8" fill="#c46a92" transform="rotate(0 118.8 341.9)"/></g>
<g opacity="0.9"><circle cx="128.8" cy="350" r="6.9" fill="#d992aa" stroke="#c46a92" stroke-opacity="0.25" stroke-width="0.69"/><ellipse cx="127.00000000000001" cy="349.2" rx="2.3" ry="2.8" fill="#c46a92" transform="rotate(0 127.00000000000001 349.2)"/></g>
<g opacity="0.9"><circle cx="115.2" cy="356.7" r="6.9" fill="#d992aa" stroke="#c46a92" stroke-opacity="0.25" stroke-width="0.69"/><ellipse cx="113.4" cy="355.9" rx="2.3" ry="2.8" fill="#c46a92" transform="rotate(0 113.4 355.9)"/></g>
<g opacity="0.9"><circle cx="125.1" cy="362.7" r="6.9" fill="#d992aa" stroke="#c46a92" stroke-opacity="0.25" stroke-width="0.69"/><ellipse cx="123.3" cy="361.9" rx="2.3" ry="2.8" fill="#c46a92" transform="rotate(0 123.3 361.9)"/></g>
<g opacity="0.9"><circle cx="136" cy="359.6" r="6.9" fill="#d992aa" stroke="#c46a92" stroke-opacity="0.25" stroke-width="0.69"/><ellipse cx="134.2" cy="358.8" rx="2.3" ry="2.8" fill="#c46a92" transform="rotate(0 134.2 358.8)"/></g>
<g opacity="0.9"><circle cx="174.7" cy="338.7" r="6.9" fill="#a9c9e8" stroke="#78acd8" stroke-opacity="0.25" stroke-width="0.69"/><ellipse cx="176.5" cy="339.3" rx="2.3" ry="2.8" fill="#78acd8" transform="rotate(0 176.5 339.3)"/></g>
<g opacity="0.9"><circle cx="167.8" cy="350" r="6.9" fill="#f2d9ab" stroke="#eab49c" stroke-opacity="0.25" stroke-width="0.69"/><ellipse cx="168.70000000000002" cy="351.3" rx="2.3" ry="2.8" fill="#eab49c" transform="rotate(0 168.70000000000002 351.3)"/></g>
<g opacity="0.9"><circle cx="180.5" cy="350.9" r="6.9" fill="#c0aad9" stroke="#8a68be" stroke-opacity="0.25" stroke-width="0.69"/><ellipse cx="181.4" cy="352.7" rx="2.3" ry="2.8" fill="#8a68be" transform="rotate(0 181.4 352.7)"/></g>
<g opacity="0.9"><circle cx="158.7" cy="353.6" r="6.9" fill="#dacaeb" stroke="#bb9cd4" stroke-opacity="0.25" stroke-width="0.69"/><ellipse cx="160.79999999999998" cy="354.0" rx="2.3" ry="2.8" fill="#bb9cd4" transform="rotate(0 160.79999999999998 354.0)"/></g>
<g opacity="0.9"><circle cx="174.7" cy="360.9" r="6.9" fill="#bde1df" stroke="#86c2ba" stroke-opacity="0.25" stroke-width="0.69"/><ellipse cx="175.1" cy="359.09999999999997" rx="2.3" ry="2.8" fill="#86c2ba" transform="rotate(0 175.1 359.09999999999997)"/></g>
<g opacity="0.9"><circle cx="163.3" cy="364.5" r="6.9" fill="#9aaac2" stroke="#8494b4" stroke-opacity="0.25" stroke-width="0.69"/><ellipse cx="164.20000000000002" cy="362.8" rx="2.3" ry="2.8" fill="#8494b4" transform="rotate(0 164.20000000000002 362.8)"/></g>
<text x="34.30" y="386.70" font-family="Liberation Sans" font-size="11.95" font-weight="normal" font-style="normal" text-anchor="start" fill="#111" stroke="#111" stroke-width="0.28"  textLength="49.16" lengthAdjust="spacingAndGlyphs">Selection</text>
<text x="128.70" y="386.70" font-family="Liberation Sans" font-size="11.90" font-weight="normal" font-style="normal" text-anchor="start" fill="#111" stroke="#111" stroke-width="0.28"  textLength="37.71" lengthAdjust="spacingAndGlyphs">Sorting</text>
<text x="216.35" y="386.70" font-family="Liberation Sans" font-size="11.89" font-weight="normal" font-style="normal" text-anchor="start" fill="#111" stroke="#111" stroke-width="0.28"  textLength="105.11" lengthAdjust="spacingAndGlyphs">Phenotypic analysis</text>
<text x="377.71" y="386.70" font-family="Liberation Sans" font-size="11.87" font-weight="normal" font-style="normal" text-anchor="start" fill="#111" stroke="#111" stroke-width="0.28"  textLength="54.10" lengthAdjust="spacingAndGlyphs">Single cell</text>
<text x="380.03" y="401.70" font-family="Liberation Sans" font-size="12.10" font-weight="normal" font-style="normal" text-anchor="start" fill="#111" stroke="#111" stroke-width="0.28"  textLength="49.07" lengthAdjust="spacingAndGlyphs">RNA-seq</text>
<text x="477.20" y="388.00" font-family="Liberation Sans" font-size="11.95" font-weight="normal" font-style="normal" text-anchor="start" fill="#111" stroke="#111" stroke-width="0.28"  textLength="65.74" lengthAdjust="spacingAndGlyphs">Cell tracking</text>
<text x="492.74" y="402.80" font-family="Liberation Sans" font-size="12.28" font-weight="normal" font-style="normal" text-anchor="start" fill="#111" stroke="#111" stroke-width="0.28"  textLength="34.81" lengthAdjust="spacingAndGlyphs">in vivo</text>
<text x="609.11" y="388.00" font-family="Liberation Sans" font-size="11.82" font-weight="normal" font-style="normal" text-anchor="start" fill="#111" stroke="#111" stroke-width="0.28"  textLength="48.65" lengthAdjust="spacingAndGlyphs">Selection</text>
<text x="758.09" y="387.60" font-family="Liberation Sans" font-size="12.17" font-weight="normal" font-style="normal" text-anchor="start" fill="#111" stroke="#111" stroke-width="0.28"  textLength="20.97" lengthAdjust="spacingAndGlyphs">Cell</text>
<text x="736.66" y="403.00" font-family="Liberation Sans" font-size="11.94" font-weight="normal" font-style="normal" text-anchor="start" fill="#111" stroke="#111" stroke-width="0.28"  textLength="62.40" lengthAdjust="spacingAndGlyphs">morphology</text>
<text x="849.39" y="387.60" font-family="Liberation Sans" font-size="12.11" font-weight="normal" font-style="normal" text-anchor="start" fill="#111" stroke="#111" stroke-width="0.28"  textLength="20.86" lengthAdjust="spacingAndGlyphs">Cell</text>
<text x="826.93" y="403.00" font-family="Liberation Sans" font-size="11.83" font-weight="normal" font-style="normal" text-anchor="start" fill="#111" stroke="#111" stroke-width="0.28"  textLength="65.11" lengthAdjust="spacingAndGlyphs">environment</text>
<path d="M13.8,398.2 L13.8,413.2 L348.3,413.2 L348.3,398.2" fill="none" stroke="#333" stroke-width="1.3"/>
<path d="M350.8,398.2 L350.8,413.0 L456.7,413.0 L456.7,398.2" fill="none" stroke="#333" stroke-width="1.3"/>
<path d="M461.2,397.6 L461.2,413.0 L898.8,413.0 L898.8,397.6" fill="none" stroke="#333" stroke-width="1.3"/>
<text x="86.47" y="430.00" font-family="Liberation Sans" font-size="11.81" font-weight="bold" font-style="normal" text-anchor="start" fill="#000" stroke="#000" stroke-width="0.25"  textLength="190.96" lengthAdjust="spacingAndGlyphs">Detection by flow/mass cytometry</text>
<text x="375.87" y="429.30" font-family="Liberation Sans" font-size="11.90" font-weight="bold" font-style="normal" text-anchor="start" fill="#000" stroke="#000" stroke-width="0.25"  textLength="54.22" lengthAdjust="spacingAndGlyphs">Detection</text>
<text x="369.86" y="444.00" font-family="Liberation Sans" font-size="11.99" font-weight="bold" font-style="normal" text-anchor="start" fill="#000" stroke="#000" stroke-width="0.25"  textLength="69.26" lengthAdjust="spacingAndGlyphs">by CITE-seq</text>
<text x="569.97" y="429.70" font-family="Liberation Sans" font-size="11.81" font-weight="bold" font-style="normal" text-anchor="start" fill="#000" stroke="#000" stroke-width="0.25"  textLength="226.44" lengthAdjust="spacingAndGlyphs">Detection by highly multiplexed imaging</text>
<text x="583.61" y="444.40" font-family="Liberation Sans" font-size="11.79" font-weight="bold" font-style="normal" text-anchor="start" fill="#000" stroke="#000" stroke-width="0.25"  textLength="199.21" lengthAdjust="spacingAndGlyphs">(MICSSS, Imaging Mass Cytometry)</text>
<rect x="195.2" y="291.5" width="150.10000000000002" height="80.69999999999999" fill="#fff" stroke="#777" stroke-width="0.9"/>
<rect x="206" y="302.6" width="54.10000000000002" height="59.2" fill="none" stroke="#aaa" stroke-width="0.7"/>
<line x1="231.9" y1="302.6" x2="231.9" y2="361.8" stroke="#ccc" stroke-width="0.6" />
<rect x="263.7" y="302.6" width="54.60000000000002" height="59.2" fill="none" stroke="#aaa" stroke-width="0.7"/>
<line x1="290.7" y1="302.6" x2="290.7" y2="361.8" stroke="#ccc" stroke-width="0.6" />
<line x1="208" y1="317.3" x2="231" y2="317.3" stroke="#3a78c0" stroke-width="0.5" stroke-opacity="0.35"/>
<line x1="233" y1="317.3" x2="259" y2="317.3" stroke="#3a78c0" stroke-width="0.5" stroke-opacity="0.35"/>
<line x1="265" y1="317.3" x2="290" y2="317.3" stroke="#3a78c0" stroke-width="0.5" stroke-opacity="0.35"/>
<line x1="292" y1="317.3" x2="317" y2="317.3" stroke="#3a78c0" stroke-width="0.5" stroke-opacity="0.35"/>
<line x1="208" y1="326.0" x2="231" y2="326.0" stroke="#f08020" stroke-width="0.5" stroke-opacity="0.35"/>
<line x1="233" y1="326.0" x2="259" y2="326.0" stroke="#f08020" stroke-width="0.5" stroke-opacity="0.35"/>
<line x1="265" y1="326.0" x2="290" y2="326.0" stroke="#f08020" stroke-width="0.5" stroke-opacity="0.35"/>
<line x1="292" y1="326.0" x2="317" y2="326.0" stroke="#f08020" stroke-width="0.5" stroke-opacity="0.35"/>
<line x1="208" y1="334.4" x2="231" y2="334.4" stroke="#40a040" stroke-width="0.5" stroke-opacity="0.35"/>
<line x1="233" y1="334.4" x2="259" y2="334.4" stroke="#40a040" stroke-width="0.5" stroke-opacity="0.35"/>
<line x1="265" y1="334.4" x2="290" y2="334.4" stroke="#40a040" stroke-width="0.5" stroke-opacity="0.35"/>
<line x1="292" y1="334.4" x2="317" y2="334.4" stroke="#40a040" stroke-width="0.5" stroke-opacity="0.35"/>
<line x1="208" y1="342.5" x2="231" y2="342.5" stroke="#c02020" stroke-width="0.5" stroke-opacity="0.35"/>
<line x1="233" y1="342.5" x2="259" y2="342.5" stroke="#c02020" stroke-width="0.5" stroke-opacity="0.35"/>
<line x1="265" y1="342.5" x2="290" y2="342.5" stroke="#c02020" stroke-width="0.5" stroke-opacity="0.35"/>
<line x1="292" y1="342.5" x2="317" y2="342.5" stroke="#c02020" stroke-width="0.5" stroke-opacity="0.35"/>
<line x1="208" y1="350.4" x2="231" y2="350.4" stroke="#9060c0" stroke-width="0.5" stroke-opacity="0.35"/>
<line x1="233" y1="350.4" x2="259" y2="350.4" stroke="#9060c0" stroke-width="0.5" stroke-opacity="0.35"/>
<line x1="265" y1="350.4" x2="290" y2="350.4" stroke="#9060c0" stroke-width="0.5" stroke-opacity="0.35"/>
<line x1="292" y1="350.4" x2="317" y2="350.4" stroke="#9060c0" stroke-width="0.5" stroke-opacity="0.35"/>
<line x1="208" y1="359.1" x2="231" y2="359.1" stroke="#805040" stroke-width="0.5" stroke-opacity="0.35"/>
<line x1="233" y1="359.1" x2="259" y2="359.1" stroke="#805040" stroke-width="0.5" stroke-opacity="0.35"/>
<line x1="265" y1="359.1" x2="290" y2="359.1" stroke="#805040" stroke-width="0.5" stroke-opacity="0.35"/>
<line x1="292" y1="359.1" x2="317" y2="359.1" stroke="#805040" stroke-width="0.5" stroke-opacity="0.35"/>
<path d="M209.5,317.3 L209.50,317.30 L209.75,316.18 L210.00,310.28 L210.25,306.54 L210.50,311.12 L210.75,313.71 L211.00,315.05 L211.25,315.76 L211.50,316.16 L211.75,316.40 L212.00,316.56 L212.25,316.67 L212.50,316.76 L212.75,316.83 L213.00,316.89 L213.25,316.94 L213.50,316.98 L213.75,317.02 L214.00,317.05 L214.25,317.08 L214.50,317.11 L214.75,317.13 L215.00,317.15 L215.25,317.17 L215.50,317.18 L215.75,317.20 L216.00,317.21 L216.25,317.22 L216.50,317.23 L216.75,317.24 L217.00,317.24 L217.25,317.25 L217.50,317.26 L217.75,317.26 L218.00,317.27 L218.25,317.27 L218.50,317.27 L218.75,317.28 L219.00,317.28 L219.25,317.28 L219.50,317.28 L219.75,317.29 L220.00,317.29 L220.25,317.29 L220.50,317.29 L220.75,317.29 L221.00,317.29 L221.25,317.29 L221.50,317.29 L221.75,317.29 L222.00,317.30 L222,317.3 Z" fill="#3a78c0"/>
<path d="M209.5,326.0 L209.50,326.00 L209.75,324.88 L210.00,318.98 L210.25,315.24 L210.50,319.82 L210.75,322.41 L211.00,323.75 L211.25,324.46 L211.50,324.86 L211.75,325.10 L212.00,325.26 L212.25,325.37 L212.50,325.46 L212.75,325.53 L213.00,325.59 L213.25,325.64 L213.50,325.68 L213.75,325.72 L214.00,325.75 L214.25,325.78 L214.50,325.81 L214.75,325.83 L215.00,325.85 L215.25,325.87 L215.50,325.88 L215.75,325.90 L216.00,325.91 L216.25,325.92 L216.50,325.93 L216.75,325.94 L217.00,325.94 L217.25,325.95 L217.50,325.96 L217.75,325.96 L218.00,325.97 L218.25,325.97 L218.50,325.97 L218.75,325.98 L219.00,325.98 L219.25,325.98 L219.50,325.98 L219.75,325.99 L220.00,325.99 L220.25,325.99 L220.50,325.99 L220.75,325.99 L221.00,325.99 L221.25,325.99 L221.50,325.99 L221.75,325.99 L222.00,326.00 L222,326.0 Z" fill="#f08020"/>
<path d="M209.5,334.4 L209.50,334.40 L209.75,333.28 L210.00,327.38 L210.25,323.64 L210.50,328.22 L210.75,330.81 L211.00,332.15 L211.25,332.86 L211.50,333.26 L211.75,333.50 L212.00,333.66 L212.25,333.77 L212.50,333.86 L212.75,333.93 L213.00,333.99 L213.25,334.04 L213.50,334.08 L213.75,334.12 L214.00,334.15 L214.25,334.18 L214.50,334.21 L214.75,334.23 L215.00,334.25 L215.25,334.27 L215.50,334.28 L215.75,334.30 L216.00,334.31 L216.25,334.32 L216.50,334.33 L216.75,334.34 L217.00,334.34 L217.25,334.35 L217.50,334.36 L217.75,334.36 L218.00,334.37 L218.25,334.37 L218.50,334.37 L218.75,334.38 L219.00,334.38 L219.25,334.38 L219.50,334.38 L219.75,334.39 L220.00,334.39 L220.25,334.39 L220.50,334.39 L220.75,334.39 L221.00,334.39 L221.25,334.39 L221.50,334.39 L221.75,334.39 L222.00,334.40 L222,334.4 Z" fill="#40a040"/>
<path d="M209.5,342.5 L209.50,342.50 L209.75,341.38 L210.00,335.48 L210.25,331.74 L210.50,336.32 L210.75,338.91 L211.00,340.25 L211.25,340.96 L211.50,341.36 L211.75,341.60 L212.00,341.76 L212.25,341.87 L212.50,341.96 L212.75,342.03 L213.00,342.09 L213.25,342.14 L213.50,342.18 L213.75,342.22 L214.00,342.25 L214.25,342.28 L214.50,342.31 L214.75,342.33 L215.00,342.35 L215.25,342.37 L215.50,342.38 L215.75,342.40 L216.00,342.41 L216.25,342.42 L216.50,342.43 L216.75,342.44 L217.00,342.44 L217.25,342.45 L217.50,342.46 L217.75,342.46 L218.00,342.47 L218.25,342.47 L218.50,342.47 L218.75,342.48 L219.00,342.48 L219.25,342.48 L219.50,342.48 L219.75,342.49 L220.00,342.49 L220.25,342.49 L220.50,342.49 L220.75,342.49 L221.00,342.49 L221.25,342.49 L221.50,342.49 L221.75,342.49 L222.00,342.50 L222,342.5 Z" fill="#c02020"/>
<path d="M209.5,350.4 L209.50,350.40 L209.75,349.28 L210.00,343.38 L210.25,339.64 L210.50,344.22 L210.75,346.81 L211.00,348.15 L211.25,348.86 L211.50,349.26 L211.75,349.50 L212.00,349.66 L212.25,349.77 L212.50,349.86 L212.75,349.93 L213.00,349.99 L213.25,350.04 L213.50,350.08 L213.75,350.12 L214.00,350.15 L214.25,350.18 L214.50,350.21 L214.75,350.23 L215.00,350.25 L215.25,350.27 L215.50,350.28 L215.75,350.30 L216.00,350.31 L216.25,350.32 L216.50,350.33 L216.75,350.34 L217.00,350.34 L217.25,350.35 L217.50,350.36 L217.75,350.36 L218.00,350.37 L218.25,350.37 L218.50,350.37 L218.75,350.38 L219.00,350.38 L219.25,350.38 L219.50,350.38 L219.75,350.39 L220.00,350.39 L220.25,350.39 L220.50,350.39 L220.75,350.39 L221.00,350.39 L221.25,350.39 L221.50,350.39 L221.75,350.39 L222.00,350.40 L222,350.4 Z" fill="#9060c0"/>
<path d="M209.5,359.1 L209.50,359.10 L209.75,357.98 L210.00,352.08 L210.25,348.34 L210.50,352.92 L210.75,355.51 L211.00,356.85 L211.25,357.56 L211.50,357.96 L211.75,358.20 L212.00,358.36 L212.25,358.47 L212.50,358.56 L212.75,358.63 L213.00,358.69 L213.25,358.74 L213.50,358.78 L213.75,358.82 L214.00,358.85 L214.25,358.88 L214.50,358.91 L214.75,358.93 L215.00,358.95 L215.25,358.97 L215.50,358.98 L215.75,359.00 L216.00,359.01 L216.25,359.02 L216.50,359.03 L216.75,359.04 L217.00,359.04 L217.25,359.05 L217.50,359.06 L217.75,359.06 L218.00,359.07 L218.25,359.07 L218.50,359.07 L218.75,359.08 L219.00,359.08 L219.25,359.08 L219.50,359.08 L219.75,359.09 L220.00,359.09 L220.25,359.09 L220.50,359.09 L220.75,359.09 L221.00,359.09 L221.25,359.09 L221.50,359.09 L221.75,359.09 L222.00,359.10 L222,359.1 Z" fill="#805040"/>
<path d="M235,317.3 L235.00,317.28 L235.25,317.28 L235.50,317.28 L235.75,317.27 L236.00,317.26 L236.25,317.25 L236.50,317.24 L236.75,317.22 L237.00,317.20 L237.25,317.18 L237.50,317.15 L237.75,317.12 L238.00,317.08 L238.25,317.03 L238.50,316.97 L238.75,316.89 L239.00,316.81 L239.25,316.71 L239.50,316.59 L239.75,316.45 L240.00,316.29 L240.25,316.10 L240.50,315.88 L240.75,315.63 L241.00,315.34 L241.25,315.02 L241.50,314.65 L241.75,314.24 L242.00,313.79 L242.25,313.29 L242.50,312.74 L242.75,312.15 L243.00,311.52 L243.25,310.85 L243.50,310.15 L243.75,309.44 L244.00,308.72 L244.25,308.01 L244.50,307.35 L244.75,306.76 L245.00,306.30 L245.25,306.13 L245.50,306.47 L245.75,306.99 L246.00,307.61 L246.25,308.29 L246.50,309.00 L246.75,309.72 L247.00,310.43 L247.25,311.12 L247.50,311.77 L247.75,312.39 L248.00,312.96 L248.25,313.49 L248.50,313.97 L248.75,314.41 L249.00,314.80 L249.25,315.15 L249.50,315.46 L249.75,315.73 L250.00,315.97 L250.25,316.17 L250.50,316.35 L250.75,316.51 L251.00,316.64 L251.25,316.75 L251.50,316.84 L251.75,316.92 L252.00,316.99 L252.25,317.05 L252.50,317.09 L252.75,317.13 L253.00,317.16 L253.25,317.19 L253.50,317.21 L253.75,317.23 L254.00,317.24 L254.25,317.25 L254.50,317.26 L254.75,317.27 L255.00,317.28 L255,317.3 Z" fill="#3a78c0"/>
<path d="M235,326.0 L235.00,325.98 L235.25,325.98 L235.50,325.98 L235.75,325.97 L236.00,325.96 L236.25,325.95 L236.50,325.94 L236.75,325.92 L237.00,325.90 L237.25,325.88 L237.50,325.85 L237.75,325.82 L238.00,325.78 L238.25,325.73 L238.50,325.67 L238.75,325.59 L239.00,325.51 L239.25,325.41 L239.50,325.29 L239.75,325.15 L240.00,324.99 L240.25,324.80 L240.50,324.58 L240.75,324.33 L241.00,324.04 L241.25,323.72 L241.50,323.35 L241.75,322.94 L242.00,322.49 L242.25,321.99 L242.50,321.44 L242.75,320.85 L243.00,320.22 L243.25,319.55 L243.50,318.85 L243.75,318.14 L244.00,317.42 L244.25,316.71 L244.50,316.05 L244.75,315.46 L245.00,315.00 L245.25,314.83 L245.50,315.17 L245.75,315.69 L246.00,316.31 L246.25,316.99 L246.50,317.70 L246.75,318.42 L247.00,319.13 L247.25,319.82 L247.50,320.47 L247.75,321.09 L248.00,321.66 L248.25,322.19 L248.50,322.67 L248.75,323.11 L249.00,323.50 L249.25,323.85 L249.50,324.16 L249.75,324.43 L250.00,324.67 L250.25,324.87 L250.50,325.05 L250.75,325.21 L251.00,325.34 L251.25,325.45 L251.50,325.54 L251.75,325.62 L252.00,325.69 L252.25,325.75 L252.50,325.79 L252.75,325.83 L253.00,325.86 L253.25,325.89 L253.50,325.91 L253.75,325.93 L254.00,325.94 L254.25,325.95 L254.50,325.96 L254.75,325.97 L255.00,325.98 L255,326.0 Z" fill="#f08020"/>
<path d="M235,334.4 L235.00,334.38 L235.25,334.38 L235.50,334.38 L235.75,334.37 L236.00,334.36 L236.25,334.35 L236.50,334.34 L236.75,334.32 L237.00,334.30 L237.25,334.28 L237.50,334.25 L237.75,334.22 L238.00,334.18 L238.25,334.13 L238.50,334.07 L238.75,333.99 L239.00,333.91 L239.25,333.81 L239.50,333.69 L239.75,333.55 L240.00,333.39 L240.25,333.20 L240.50,332.98 L240.75,332.73 L241.00,332.44 L241.25,332.12 L241.50,331.75 L241.75,331.34 L242.00,330.89 L242.25,330.39 L242.50,329.84 L242.75,329.25 L243.00,328.62 L243.25,327.95 L243.50,327.25 L243.75,326.54 L244.00,325.82 L244.25,325.11 L244.50,324.45 L244.75,323.86 L245.00,323.40 L245.25,323.23 L245.50,323.57 L245.75,324.09 L246.00,324.71 L246.25,325.39 L246.50,326.10 L246.75,326.82 L247.00,327.53 L247.25,328.22 L247.50,328.87 L247.75,329.49 L248.00,330.06 L248.25,330.59 L248.50,331.07 L248.75,331.51 L249.00,331.90 L249.25,332.25 L249.50,332.56 L249.75,332.83 L250.00,333.07 L250.25,333.27 L250.50,333.45 L250.75,333.61 L251.00,333.74 L251.25,333.85 L251.50,333.94 L251.75,334.02 L252.00,334.09 L252.25,334.15 L252.50,334.19 L252.75,334.23 L253.00,334.26 L253.25,334.29 L253.50,334.31 L253.75,334.33 L254.00,334.34 L254.25,334.35 L254.50,334.36 L254.75,334.37 L255.00,334.38 L255,334.4 Z" fill="#40a040"/>
<path d="M236.5,342.5 L236.50,342.50 L236.75,342.50 L237.00,339.30 L237.25,331.50 L237.50,332.70 L237.75,334.53 L238.00,335.85 L238.25,336.81 L238.50,337.52 L238.75,338.07 L239.00,338.50 L239.25,338.86 L239.50,339.16 L239.75,339.43 L240.00,339.68 L240.25,339.91 L240.50,340.13 L240.75,340.33 L241.00,340.53 L241.25,340.71 L241.50,340.89 L241.75,341.06 L242.00,341.21 L242.25,341.36 L242.50,341.50 L242.75,341.62 L243.00,341.73 L243.25,341.84 L243.50,341.93 L243.75,342.01 L244.00,342.09 L244.25,342.15 L244.50,342.21 L244.75,342.25 L245.00,342.30 L245.25,342.33 L245.50,342.36 L245.75,342.39 L246.00,342.41 L246.25,342.43 L246.50,342.44 L246.75,342.45 L247.00,342.46 L247.25,342.47 L247.50,342.48 L247.75,342.48 L248.00,342.49 L248.25,342.49 L248.50,342.49 L248.75,342.49 L249.00,342.50 L249.25,342.50 L249.50,342.50 L249.75,342.50 L250.00,342.50 L250.25,342.50 L250.50,342.50 L250.75,342.50 L251.00,342.50 L251.25,342.50 L251.50,342.50 L251.75,342.50 L252.00,342.50 L252,342.5 Z" fill="#c02020"/>
<path d="M236.5,350.4 L236.50,350.40 L236.75,350.40 L237.00,347.72 L237.25,344.37 L237.50,345.40 L237.75,345.40 L238.00,345.40 L238.25,345.40 L238.50,345.40 L238.75,345.40 L239.00,345.40 L239.25,345.40 L239.50,345.40 L239.75,345.40 L240.00,345.40 L240.25,345.40 L240.50,345.40 L240.75,345.40 L241.00,345.40 L241.25,345.40 L241.50,345.25 L241.75,344.33 L242.00,343.43 L242.25,342.58 L242.50,341.84 L242.75,341.26 L243.00,340.87 L243.25,340.70 L243.50,340.73 L243.75,340.85 L244.00,341.06 L244.25,341.35 L244.50,341.72 L244.75,342.15 L245.00,342.64 L245.25,343.17 L245.50,343.72 L245.75,344.30 L246.00,344.87 L246.25,345.44 L246.50,346.00 L246.75,346.53 L247.00,347.03 L247.25,347.49 L247.50,347.91 L247.75,348.30 L248.00,348.64 L248.25,348.94 L248.50,349.20 L248.75,349.42 L249.00,349.61 L249.25,349.77 L249.50,349.90 L249.75,350.01 L250.00,350.10 L250.25,350.17 L250.50,350.22 L250.75,350.27 L251.00,350.30 L251.25,350.33 L251.50,350.35 L251.75,350.36 L252.00,350.37 L252,350.4 Z" fill="#9060c0"/>
<path d="M236.5,359.1 L236.50,359.10 L236.75,359.10 L237.00,356.50 L237.25,350.42 L237.50,351.36 L237.75,352.86 L238.00,353.99 L238.25,354.85 L238.50,355.51 L238.75,356.01 L239.00,356.40 L239.25,356.72 L239.50,356.97 L239.75,357.17 L240.00,357.34 L240.25,357.48 L240.50,357.61 L240.75,357.71 L241.00,357.81 L241.25,357.89 L241.50,357.96 L241.75,358.03 L242.00,358.10 L242.25,358.15 L242.50,358.21 L242.75,358.26 L243.00,358.31 L243.25,358.35 L243.50,358.39 L243.75,358.43 L244.00,358.47 L244.25,358.50 L244.50,358.53 L244.75,358.56 L245.00,358.59 L245.25,358.62 L245.50,358.65 L245.75,358.67 L246.00,358.69 L246.25,358.72 L246.50,358.74 L246.75,358.76 L247.00,358.78 L247.25,358.79 L247.50,358.81 L247.75,358.83 L248.00,358.84 L248.25,358.85 L248.50,358.87 L248.75,358.88 L249.00,358.89 L249.25,358.90 L249.50,358.91 L249.75,358.92 L250.00,358.93 L250.25,358.94 L250.50,358.95 L250.75,358.96 L251.00,358.97 L251.25,358.97 L251.50,358.98 L251.75,358.99 L252.00,358.99 L252,359.1 Z" fill="#805040"/>
<path d="M267.5,317.3 L267.50,317.30 L267.75,317.30 L268.00,312.70 L268.25,306.60 L268.50,309.87 L268.75,313.14 L269.00,314.80 L269.25,315.67 L269.50,316.14 L269.75,316.42 L270.00,316.59 L270.25,316.70 L270.50,316.79 L270.75,316.86 L271.00,316.91 L271.25,316.96 L271.50,317.00 L271.75,317.04 L272.00,317.07 L272.25,317.10 L272.50,317.12 L272.75,317.14 L273.00,317.16 L273.25,317.18 L273.50,317.19 L273.75,317.20 L274.00,317.21 L274.25,317.22 L274.50,317.23 L274.75,317.24 L275.00,317.25 L275.25,317.25 L275.50,317.26 L275.75,317.26 L276.00,317.27 L276.25,317.27 L276.50,317.28 L276.75,317.28 L277.00,317.28 L277.25,317.28 L277.50,317.29 L277.75,317.29 L278.00,317.29 L278.25,317.29 L278.50,317.29 L278.75,317.29 L279.00,317.29 L279.25,317.29 L279.50,317.29 L279.75,317.30 L280.00,317.30 L280,317.3 Z" fill="#3a78c0"/>
<path d="M267.5,326.0 L267.50,326.00 L267.75,326.00 L268.00,321.40 L268.25,315.30 L268.50,318.57 L268.75,321.84 L269.00,323.50 L269.25,324.37 L269.50,324.84 L269.75,325.12 L270.00,325.29 L270.25,325.40 L270.50,325.49 L270.75,325.56 L271.00,325.61 L271.25,325.66 L271.50,325.70 L271.75,325.74 L272.00,325.77 L272.25,325.80 L272.50,325.82 L272.75,325.84 L273.00,325.86 L273.25,325.88 L273.50,325.89 L273.75,325.90 L274.00,325.91 L274.25,325.92 L274.50,325.93 L274.75,325.94 L275.00,325.95 L275.25,325.95 L275.50,325.96 L275.75,325.96 L276.00,325.97 L276.25,325.97 L276.50,325.98 L276.75,325.98 L277.00,325.98 L277.25,325.98 L277.50,325.99 L277.75,325.99 L278.00,325.99 L278.25,325.99 L278.50,325.99 L278.75,325.99 L279.00,325.99 L279.25,325.99 L279.50,325.99 L279.75,326.00 L280.00,326.00 L280,326.0 Z" fill="#f08020"/>
<path d="M267.5,334.4 L267.50,334.40 L267.75,334.40 L268.00,329.80 L268.25,323.70 L268.50,326.97 L268.75,330.24 L269.00,331.90 L269.25,332.77 L269.50,333.24 L269.75,333.52 L270.00,333.69 L270.25,333.80 L270.50,333.89 L270.75,333.96 L271.00,334.01 L271.25,334.06 L271.50,334.10 L271.75,334.14 L272.00,334.17 L272.25,334.20 L272.50,334.22 L272.75,334.24 L273.00,334.26 L273.25,334.28 L273.50,334.29 L273.75,334.30 L274.00,334.31 L274.25,334.32 L274.50,334.33 L274.75,334.34 L275.00,334.35 L275.25,334.35 L275.50,334.36 L275.75,334.36 L276.00,334.37 L276.25,334.37 L276.50,334.38 L276.75,334.38 L277.00,334.38 L277.25,334.38 L277.50,334.39 L277.75,334.39 L278.00,334.39 L278.25,334.39 L278.50,334.39 L278.75,334.39 L279.00,334.39 L279.25,334.39 L279.50,334.39 L279.75,334.40 L280.00,334.40 L280,334.4 Z" fill="#40a040"/>
<path d="M267.5,342.5 L267.50,342.50 L267.75,342.50 L268.00,337.90 L268.25,331.80 L268.50,335.07 L268.75,338.34 L269.00,340.00 L269.25,340.87 L269.50,341.34 L269.75,341.62 L270.00,341.79 L270.25,341.90 L270.50,341.99 L270.75,342.06 L271.00,342.11 L271.25,342.16 L271.50,342.20 L271.75,342.24 L272.00,342.27 L272.25,342.30 L272.50,342.32 L272.75,342.34 L273.00,342.36 L273.25,342.38 L273.50,342.39 L273.75,342.40 L274.00,342.41 L274.25,342.42 L274.50,342.43 L274.75,342.44 L275.00,342.45 L275.25,342.45 L275.50,342.46 L275.75,342.46 L276.00,342.47 L276.25,342.47 L276.50,342.48 L276.75,342.48 L277.00,342.48 L277.25,342.48 L277.50,342.49 L277.75,342.49 L278.00,342.49 L278.25,342.49 L278.50,342.49 L278.75,342.49 L279.00,342.49 L279.25,342.49 L279.50,342.49 L279.75,342.50 L280.00,342.50 L280,342.5 Z" fill="#c02020"/>
<path d="M267,350.4 L267.00,349.39 L267.25,349.10 L267.50,348.76 L267.75,347.97 L268.00,345.53 L268.25,343.84 L268.50,344.77 L268.75,345.13 L269.00,345.16 L269.25,345.02 L269.50,344.81 L269.75,344.60 L270.00,344.44 L270.25,344.35 L270.50,344.36 L270.75,344.43 L271.00,344.55 L271.25,344.72 L271.50,344.93 L271.75,345.18 L272.00,345.47 L272.25,345.79 L272.50,346.13 L272.75,346.48 L273.00,346.84 L273.25,347.19 L273.50,347.54 L273.75,347.88 L274.00,348.19 L274.25,348.49 L274.50,348.76 L274.75,349.01 L275.00,349.23 L275.25,349.42 L275.50,349.59 L275.75,349.74 L276.00,349.87 L276.25,349.97 L276.50,350.06 L276.75,350.13 L277.00,350.19 L277.25,350.24 L277.50,350.28 L277.75,350.31 L278.00,350.33 L278.25,350.35 L278.50,350.36 L278.75,350.37 L279.00,350.38 L279.25,350.39 L279.50,350.39 L279.75,350.39 L280.00,350.40 L280,350.4 Z" fill="#9060c0"/>
<path d="M267.5,359.1 L267.50,359.10 L267.75,359.10 L268.00,354.50 L268.25,348.40 L268.50,351.67 L268.75,354.94 L269.00,356.60 L269.25,357.47 L269.50,357.94 L269.75,358.22 L270.00,358.39 L270.25,358.50 L270.50,358.59 L270.75,358.66 L271.00,358.71 L271.25,358.76 L271.50,358.80 L271.75,358.84 L272.00,358.87 L272.25,358.90 L272.50,358.92 L272.75,358.94 L273.00,358.96 L273.25,358.98 L273.50,358.99 L273.75,359.00 L274.00,359.01 L274.25,359.02 L274.50,359.03 L274.75,359.04 L275.00,359.05 L275.25,359.05 L275.50,359.06 L275.75,359.06 L276.00,359.07 L276.25,359.07 L276.50,359.08 L276.75,359.08 L277.00,359.08 L277.25,359.08 L277.50,359.09 L277.75,359.09 L278.00,359.09 L278.25,359.09 L278.50,359.09 L278.75,359.09 L279.00,359.09 L279.25,359.09 L279.50,359.09 L279.75,359.10 L280.00,359.10 L280,359.1 Z" fill="#805040"/>
<path d="M294.5,317.3 L294.50,317.30 L294.75,316.18 L295.00,310.58 L295.25,304.58 L295.50,306.69 L295.75,308.43 L296.00,309.85 L296.25,311.01 L296.50,311.97 L296.75,312.76 L297.00,313.41 L297.25,313.94 L297.50,314.39 L297.75,314.76 L298.00,315.07 L298.25,315.33 L298.50,315.55 L298.75,315.74 L299.00,315.89 L299.25,316.03 L299.50,316.14 L299.75,316.24 L300.00,316.33 L300.25,316.41 L300.50,316.47 L300.75,316.53 L301.00,316.58 L301.25,316.63 L301.50,316.67 L301.75,316.71 L302.00,316.75 L302.25,316.78 L302.50,316.81 L302.75,316.84 L303.00,316.86 L303.25,316.89 L303.50,316.91 L303.75,316.93 L304.00,316.95 L304.25,316.97 L304.50,316.98 L304.75,317.00 L305.00,317.02 L305.25,317.03 L305.50,317.04 L305.75,317.06 L306.00,317.07 L306.25,317.08 L306.50,317.09 L306.75,317.10 L307.00,317.11 L307.25,317.12 L307.50,317.13 L307.75,317.14 L308.00,317.15 L308.25,317.15 L308.50,317.16 L308.75,317.17 L309.00,317.17 L309.25,317.18 L309.50,317.19 L309.75,317.19 L310.00,317.20 L310.25,317.20 L310.50,317.21 L310.75,317.21 L311.00,317.22 L311.25,317.22 L311.50,317.22 L311.75,317.23 L312.00,317.23 L312.25,317.23 L312.50,317.24 L312.75,317.24 L313.00,317.24 L313.25,317.25 L313.50,317.25 L313.75,317.25 L314.00,317.25 L314.25,317.26 L314.50,317.26 L314.75,317.26 L315.00,317.26 L315.25,317.26 L315.50,317.27 L315.75,317.27 L316.00,317.27 L316,317.3 Z" fill="#3a78c0"/>
<path d="M294.5,326.0 L294.50,326.00 L294.75,324.88 L295.00,319.28 L295.25,313.28 L295.50,315.39 L295.75,317.13 L296.00,318.55 L296.25,319.71 L296.50,320.67 L296.75,321.46 L297.00,322.11 L297.25,322.64 L297.50,323.09 L297.75,323.46 L298.00,323.77 L298.25,324.03 L298.50,324.25 L298.75,324.44 L299.00,324.59 L299.25,324.73 L299.50,324.84 L299.75,324.94 L300.00,325.03 L300.25,325.11 L300.50,325.17 L300.75,325.23 L301.00,325.28 L301.25,325.33 L301.50,325.37 L301.75,325.41 L302.00,325.45 L302.25,325.48 L302.50,325.51 L302.75,325.54 L303.00,325.56 L303.25,325.59 L303.50,325.61 L303.75,325.63 L304.00,325.65 L304.25,325.67 L304.50,325.68 L304.75,325.70 L305.00,325.72 L305.25,325.73 L305.50,325.74 L305.75,325.76 L306.00,325.77 L306.25,325.78 L306.50,325.79 L306.75,325.80 L307.00,325.81 L307.25,325.82 L307.50,325.83 L307.75,325.84 L308.00,325.85 L308.25,325.85 L308.50,325.86 L308.75,325.87 L309.00,325.87 L309.25,325.88 L309.50,325.89 L309.75,325.89 L310.00,325.90 L310.25,325.90 L310.50,325.91 L310.75,325.91 L311.00,325.92 L311.25,325.92 L311.50,325.92 L311.75,325.93 L312.00,325.93 L312.25,325.93 L312.50,325.94 L312.75,325.94 L313.00,325.94 L313.25,325.95 L313.50,325.95 L313.75,325.95 L314.00,325.95 L314.25,325.96 L314.50,325.96 L314.75,325.96 L315.00,325.96 L315.25,325.96 L315.50,325.97 L315.75,325.97 L316.00,325.97 L316,326.0 Z" fill="#f08020"/>
<path d="M294.5,334.4 L294.50,334.40 L294.75,333.28 L295.00,327.68 L295.25,321.68 L295.50,323.79 L295.75,325.53 L296.00,326.95 L296.25,328.11 L296.50,329.07 L296.75,329.86 L297.00,330.51 L297.25,331.04 L297.50,331.49 L297.75,331.86 L298.00,332.17 L298.25,332.43 L298.50,332.65 L298.75,332.84 L299.00,332.99 L299.25,333.13 L299.50,333.24 L299.75,333.34 L300.00,333.43 L300.25,333.51 L300.50,333.57 L300.75,333.63 L301.00,333.68 L301.25,333.73 L301.50,333.77 L301.75,333.81 L302.00,333.85 L302.25,333.88 L302.50,333.91 L302.75,333.94 L303.00,333.96 L303.25,333.99 L303.50,334.01 L303.75,334.03 L304.00,334.05 L304.25,334.07 L304.50,334.08 L304.75,334.10 L305.00,334.12 L305.25,334.13 L305.50,334.14 L305.75,334.16 L306.00,334.17 L306.25,334.18 L306.50,334.19 L306.75,334.20 L307.00,334.21 L307.25,334.22 L307.50,334.23 L307.75,334.24 L308.00,334.25 L308.25,334.25 L308.50,334.26 L308.75,334.27 L309.00,334.27 L309.25,334.28 L309.50,334.29 L309.75,334.29 L310.00,334.30 L310.25,334.30 L310.50,334.31 L310.75,334.31 L311.00,334.32 L311.25,334.32 L311.50,334.32 L311.75,334.33 L312.00,334.33 L312.25,334.33 L312.50,334.34 L312.75,334.34 L313.00,334.34 L313.25,334.35 L313.50,334.35 L313.75,334.35 L314.00,334.35 L314.25,334.36 L314.50,334.36 L314.75,334.36 L315.00,334.36 L315.25,334.36 L315.50,334.37 L315.75,334.37 L316.00,334.37 L316,334.4 Z" fill="#40a040"/>
<path d="M294.5,342.5 L294.50,342.50 L294.75,341.40 L295.00,335.90 L295.25,329.17 L295.50,331.94 L295.75,333.97 L296.00,335.45 L296.25,336.54 L296.50,337.33 L296.75,337.92 L297.00,338.34 L297.25,338.65 L297.50,338.88 L297.75,339.05 L298.00,339.17 L298.25,339.26 L298.50,339.32 L298.75,339.37 L299.00,339.40 L299.25,339.43 L299.50,339.45 L299.75,339.46 L300.00,339.47 L300.25,339.48 L300.50,339.48 L300.75,339.49 L301.00,339.49 L301.25,339.49 L301.50,339.49 L301.75,339.49 L302.00,339.48 L302.25,339.48 L302.50,339.47 L302.75,339.46 L303.00,339.45 L303.25,339.44 L303.50,339.42 L303.75,339.39 L304.00,339.36 L304.25,339.32 L304.50,339.28 L304.75,339.22 L305.00,339.15 L305.25,339.07 L305.50,338.98 L305.75,338.87 L306.00,338.75 L306.25,338.61 L306.50,338.46 L306.75,338.30 L307.00,338.12 L307.25,337.93 L307.50,337.74 L307.75,337.54 L308.00,337.34 L308.25,337.14 L308.50,336.95 L308.75,336.78 L309.00,336.62 L309.25,336.48 L309.50,336.36 L309.75,336.28 L310.00,336.22 L310.25,336.20 L310.50,336.21 L310.75,336.25 L311.00,336.33 L311.25,336.43 L311.50,336.56 L311.75,336.71 L312.00,336.88 L312.25,337.07 L312.50,337.26 L312.75,337.46 L313.00,337.66 L313.25,337.86 L313.50,338.05 L313.75,338.23 L314.00,338.40 L314.25,338.55 L314.50,338.70 L314.75,338.82 L315.00,342.50 L315.25,342.50 L315.50,342.50 L315.75,342.50 L316.00,342.50 L316,342.5 Z" fill="#c02020"/>
<path d="M294.5,350.4 L294.50,349.25 L294.75,348.97 L295.00,348.63 L295.25,345.25 L295.50,344.82 L295.75,344.35 L296.00,343.83 L296.25,343.29 L296.50,342.71 L296.75,342.13 L297.00,341.55 L297.25,340.98 L297.50,340.46 L297.75,339.99 L298.00,339.58 L298.25,339.26 L298.50,339.04 L298.75,338.92 L299.00,338.90 L299.25,337.62 L299.50,337.67 L299.75,337.74 L300.00,337.84 L300.25,337.96 L300.50,338.10 L300.75,338.26 L301.00,338.44 L301.25,338.64 L301.50,338.86 L301.75,339.09 L302.00,339.33 L302.25,339.58 L302.50,339.85 L302.75,340.12 L303.00,340.39 L303.25,340.67 L303.50,340.95 L303.75,341.23 L304.00,341.51 L304.25,341.78 L304.50,342.05 L304.75,342.32 L305.00,342.58 L305.25,342.83 L305.50,343.07 L305.75,343.30 L306.00,343.52 L306.25,343.73 L306.50,343.93 L306.75,344.12 L307.00,344.30 L307.25,344.47 L307.50,344.62 L307.75,344.77 L308.00,344.90 L308.25,345.03 L308.50,345.14 L308.75,345.24 L309.00,345.34 L309.25,345.43 L309.50,345.51 L309.75,345.58 L310.00,345.64 L310.25,345.70 L310.50,345.75 L310.75,345.79 L311.00,345.83 L311.25,345.87 L311.50,345.90 L311.75,345.93 L312.00,345.95 L312.25,345.97 L312.50,345.99 L312.75,346.01 L313.00,346.02 L313.25,346.04 L313.50,346.05 L313.75,346.05 L314.00,346.06 L314.25,346.07 L314.50,347.37 L314.75,347.38 L315.00,350.38 L315.25,350.38 L315.50,350.39 L315.75,350.39 L316.00,350.39 L316,350.4 Z" fill="#9060c0"/>
<path d="M294.5,359.1 L294.50,359.10 L294.75,359.10 L295.00,359.10 L295.25,351.62 L295.50,351.03 L295.75,350.43 L296.00,349.83 L296.25,349.25 L296.50,348.72 L296.75,348.25 L297.00,347.87 L297.25,347.60 L297.50,347.44 L297.75,347.40 L298.00,347.48 L298.25,347.69 L298.50,348.00 L298.75,348.41 L299.00,348.90 L299.25,349.45 L299.50,350.03 L299.75,350.63 L300.00,351.22 L300.25,351.78 L300.50,352.31 L300.75,352.79 L301.00,353.21 L301.25,353.58 L301.50,353.88 L301.75,354.12 L302.00,354.30 L302.25,354.43 L302.50,354.51 L302.75,354.54 L303.00,354.53 L303.25,354.49 L303.50,354.42 L303.75,354.31 L304.00,354.18 L304.25,354.03 L304.50,353.85 L304.75,353.66 L305.00,353.44 L305.25,353.21 L305.50,352.96 L305.75,352.70 L306.00,352.43 L306.25,352.16 L306.50,351.87 L306.75,351.59 L307.00,351.31 L307.25,351.03 L307.50,350.77 L307.75,350.51 L308.00,350.28 L308.25,350.06 L308.50,349.88 L308.75,349.71 L309.00,349.58 L309.25,349.49 L309.50,349.43 L309.75,349.40 L310.00,349.41 L310.25,349.46 L310.50,349.54 L310.75,349.66 L311.00,349.81 L311.25,349.99 L311.50,350.19 L311.75,350.42 L312.00,350.66 L312.25,350.92 L312.50,351.20 L312.75,351.48 L313.00,351.76 L313.25,352.04 L313.50,352.33 L313.75,352.60 L314.00,352.86 L314.25,353.12 L314.50,353.36 L314.75,353.59 L315.00,353.80 L315.25,359.10 L315.50,359.10 L315.75,359.10 L316.00,359.10 L316,359.1 Z" fill="#805040"/>
<text x="219.20" y="300.70" font-family="Liberation Sans" font-size="5.80" font-weight="normal" font-style="normal" text-anchor="middle" fill="#111" stroke="#111" stroke-width="0.10" >CTRL</text>
<text x="247.30" y="300.70" font-family="Liberation Sans" font-size="5.80" font-weight="normal" font-style="normal" text-anchor="middle" fill="#111" stroke="#111" stroke-width="0.10" >+IFNg</text>
<text x="276.50" y="300.70" font-family="Liberation Sans" font-size="5.80" font-weight="normal" font-style="normal" text-anchor="middle" fill="#111" stroke="#111" stroke-width="0.10" >CTRL</text>
<text x="304.70" y="300.70" font-family="Liberation Sans" font-size="5.80" font-weight="normal" font-style="normal" text-anchor="middle" fill="#111" stroke="#111" stroke-width="0.10" >+IFNg</text>
<text x="324.80" y="316.20" font-family="Liberation Sans" font-size="5.80" font-weight="normal" font-style="normal" text-anchor="start" fill="#111" stroke="#111" stroke-width="0.10" >Ctrl</text>
<text x="324.80" y="323.20" font-family="Liberation Sans" font-size="5.80" font-weight="normal" font-style="normal" text-anchor="start" fill="#111" stroke="#111" stroke-width="0.10" >gRNA</text>
<text x="324.80" y="344.60" font-family="Liberation Sans" font-size="5.80" font-weight="normal" font-style="normal" text-anchor="start" fill="#111" stroke="#111" stroke-width="0.10" >GeneX</text>
<text x="324.80" y="351.40" font-family="Liberation Sans" font-size="5.80" font-weight="normal" font-style="normal" text-anchor="start" fill="#111" stroke="#111" stroke-width="0.10" >gRNA</text>
<text x="231.20" y="369.10" font-family="Liberation Sans" font-size="5.80" font-weight="normal" font-style="normal" text-anchor="middle" fill="#111" stroke="#111" stroke-width="0.10" >Protein Y</text>
<text x="288.60" y="369.10" font-family="Liberation Sans" font-size="5.80" font-weight="normal" font-style="normal" text-anchor="middle" fill="#111" stroke="#111" stroke-width="0.10" >Protein Z</text>
<text x="0" y="0" font-family="Liberation Sans" font-size="5.8" text-anchor="middle" fill="#111" transform="translate(202.2 334.3) rotate(-90)">Pro-Code CRISPR</text>
<line x1="322.5" y1="304.2" x2="322.5" y2="330.2" stroke="#111" stroke-width="1.0" />
<line x1="322.5" y1="334.9" x2="322.5" y2="361.2" stroke="#111" stroke-width="1.0" />
<rect x="364.2" y="291.5" width="80.40000000000003" height="80.19999999999999" fill="#fff" stroke="#4a4a4a" stroke-width="1.2"/>
<rect x="377.1" y="295.6" width="54.599999999999966" height="72.59999999999997" fill="#4850a4"/>
<rect x="377.1" y="294.3" width="54.599999999999966" height="1.3" fill="#6a72b4"/>
<rect x="396" y="294.3" width="10.7" height="1.3" fill="#a9c3e6"/>
<rect x="409" y="294.3" width="22.7" height="1.3" fill="#a9b6e0"/>
<rect x="389.60" y="295.60" width="1.25" height="1.25" fill="#eea58e"/><rect x="390.85" y="295.60" width="1.25" height="1.25" fill="#f6f2f2"/><rect x="393.35" y="295.60" width="1.25" height="1.25" fill="#a8b0dc"/><rect x="398.35" y="295.60" width="1.25" height="1.25" fill="#cf4a3c"/><rect x="409.60" y="295.60" width="1.25" height="1.25" fill="#ec9a84"/><rect x="410.85" y="295.60" width="1.25" height="1.25" fill="#ec9a84"/><rect x="412.10" y="295.60" width="1.25" height="1.25" fill="#cc4236"/><rect x="417.10" y="295.60" width="1.25" height="1.25" fill="#cc4236"/><rect x="429.60" y="295.60" width="1.25" height="1.25" fill="#cf4a3c"/><rect x="380.85" y="296.85" width="1.25" height="1.25" fill="#f6f2f2"/><rect x="384.60" y="296.85" width="1.25" height="1.25" fill="#eea58e"/><rect x="388.35" y="296.85" width="1.25" height="1.25" fill="#cf4a3c"/><rect x="389.60" y="296.85" width="1.25" height="1.25" fill="#cf4a3c"/><rect x="392.10" y="296.85" width="1.25" height="1.25" fill="#f6f2f2"/><rect x="394.60" y="296.85" width="1.25" height="1.25" fill="#f6f2f2"/><rect x="395.85" y="296.85" width="1.25" height="1.25" fill="#f6f2f2"/><rect x="397.10" y="296.85" width="1.25" height="1.25" fill="#eea58e"/><rect x="398.35" y="296.85" width="1.25" height="1.25" fill="#eea58e"/><rect x="409.60" y="296.85" width="1.25" height="1.25" fill="#a8b0dc"/><rect x="410.85" y="296.85" width="1.25" height="1.25" fill="#cc4236"/><rect x="412.10" y="296.85" width="1.25" height="1.25" fill="#cc4236"/><rect x="413.35" y="296.85" width="1.25" height="1.25" fill="#cc4236"/><rect x="414.60" y="296.85" width="1.25" height="1.25" fill="#cc4236"/><rect x="415.85" y="296.85" width="1.25" height="1.25" fill="#cc4236"/><rect x="417.10" y="296.85" width="1.25" height="1.25" fill="#cc4236"/><rect x="384.60" y="298.10" width="1.25" height="1.25" fill="#cf4a3c"/><rect x="389.60" y="298.10" width="1.25" height="1.25" fill="#f6f2f2"/><rect x="392.10" y="298.10" width="1.25" height="1.25" fill="#cf4a3c"/><rect x="394.60" y="298.10" width="1.25" height="1.25" fill="#cf4a3c"/><rect x="403.35" y="298.10" width="1.25" height="1.25" fill="#eea58e"/><rect x="409.60" y="298.10" width="1.25" height="1.25" fill="#cc4236"/><rect x="410.85" y="298.10" width="1.25" height="1.25" fill="#f6f2f2"/><rect x="413.35" y="298.10" width="1.25" height="1.25" fill="#ec9a84"/><rect x="414.60" y="298.10" width="1.25" height="1.25" fill="#cc4236"/><rect x="415.85" y="298.10" width="1.25" height="1.25" fill="#cc4236"/><rect x="420.85" y="298.10" width="1.25" height="1.25" fill="#f6f2f2"/><rect x="397.10" y="299.35" width="1.25" height="1.25" fill="#f6f2f2"/><rect x="409.60" y="299.35" width="1.25" height="1.25" fill="#cc4236"/><rect x="410.85" y="299.35" width="1.25" height="1.25" fill="#cc4236"/><rect x="412.10" y="299.35" width="1.25" height="1.25" fill="#ec9a84"/><rect x="413.35" y="299.35" width="1.25" height="1.25" fill="#cc4236"/><rect x="415.85" y="299.35" width="1.25" height="1.25" fill="#cc4236"/><rect x="417.10" y="299.35" width="1.25" height="1.25" fill="#ec9a84"/><rect x="383.35" y="300.60" width="1.25" height="1.25" fill="#eea58e"/><rect x="389.60" y="300.60" width="1.25" height="1.25" fill="#cf4a3c"/><rect x="392.10" y="300.60" width="1.25" height="1.25" fill="#cf4a3c"/><rect x="397.10" y="300.60" width="1.25" height="1.25" fill="#f6f2f2"/><rect x="410.85" y="300.60" width="1.25" height="1.25" fill="#cc4236"/><rect x="412.10" y="300.60" width="1.25" height="1.25" fill="#cc4236"/><rect x="414.60" y="300.60" width="1.25" height="1.25" fill="#cc4236"/><rect x="415.85" y="300.60" width="1.25" height="1.25" fill="#ec9a84"/><rect x="417.10" y="300.60" width="1.25" height="1.25" fill="#ec9a84"/><rect x="427.10" y="300.60" width="1.25" height="1.25" fill="#eea58e"/><rect x="387.10" y="301.85" width="1.25" height="1.25" fill="#a8b0dc"/><rect x="389.60" y="301.85" width="1.25" height="1.25" fill="#eea58e"/><rect x="393.35" y="301.85" width="1.25" height="1.25" fill="#f6f2f2"/><rect x="412.10" y="301.85" width="1.25" height="1.25" fill="#ec9a84"/><rect x="413.35" y="301.85" width="1.25" height="1.25" fill="#f6f2f2"/><rect x="415.85" y="301.85" width="1.25" height="1.25" fill="#cc4236"/><rect x="417.10" y="301.85" width="1.25" height="1.25" fill="#cc4236"/><rect x="420.85" y="301.85" width="1.25" height="1.25" fill="#f6f2f2"/><rect x="384.60" y="303.10" width="1.25" height="1.25" fill="#cf4a3c"/><rect x="394.60" y="303.10" width="1.25" height="1.25" fill="#eea58e"/><rect x="398.35" y="303.10" width="1.25" height="1.25" fill="#a8b0dc"/><rect x="408.35" y="303.10" width="1.25" height="1.25" fill="#a8b0dc"/><rect x="409.60" y="303.10" width="1.25" height="1.25" fill="#cc4236"/><rect x="412.10" y="303.10" width="1.25" height="1.25" fill="#cc4236"/><rect x="413.35" y="303.10" width="1.25" height="1.25" fill="#cc4236"/><rect x="414.60" y="303.10" width="1.25" height="1.25" fill="#cc4236"/><rect x="377.10" y="304.35" width="1.25" height="1.25" fill="#f6f2f2"/><rect x="378.35" y="304.35" width="1.25" height="1.25" fill="#cf4a3c"/><rect x="385.85" y="304.35" width="1.25" height="1.25" fill="#f6f2f2"/><rect x="387.10" y="304.35" width="1.25" height="1.25" fill="#f6f2f2"/><rect x="389.60" y="304.35" width="1.25" height="1.25" fill="#f6f2f2"/><rect x="392.10" y="304.35" width="1.25" height="1.25" fill="#eea58e"/><rect x="394.60" y="304.35" width="1.25" height="1.25" fill="#cf4a3c"/><rect x="409.60" y="304.35" width="1.25" height="1.25" fill="#f6f2f2"/><rect x="410.85" y="304.35" width="1.25" height="1.25" fill="#a8b0dc"/><rect x="413.35" y="304.35" width="1.25" height="1.25" fill="#cc4236"/><rect x="414.60" y="304.35" width="1.25" height="1.25" fill="#cc4236"/><rect x="415.85" y="304.35" width="1.25" height="1.25" fill="#ec9a84"/><rect x="417.10" y="304.35" width="1.25" height="1.25" fill="#ec9a84"/><rect x="422.10" y="304.35" width="1.25" height="1.25" fill="#cf4a3c"/><rect x="379.60" y="305.60" width="1.25" height="1.25" fill="#cf4a3c"/><rect x="380.85" y="305.60" width="1.25" height="1.25" fill="#f6f2f2"/><rect x="392.10" y="305.60" width="1.25" height="1.25" fill="#cf4a3c"/><rect x="397.10" y="305.60" width="1.25" height="1.25" fill="#eea58e"/><rect x="402.10" y="305.60" width="1.25" height="1.25" fill="#f6f2f2"/><rect x="409.60" y="305.60" width="1.25" height="1.25" fill="#cc4236"/><rect x="410.85" y="305.60" width="1.25" height="1.25" fill="#cc4236"/><rect x="414.60" y="305.60" width="1.25" height="1.25" fill="#ec9a84"/><rect x="415.85" y="305.60" width="1.25" height="1.25" fill="#cc4236"/><rect x="417.10" y="305.60" width="1.25" height="1.25" fill="#cc4236"/><rect x="382.10" y="306.85" width="1.25" height="1.25" fill="#eea58e"/><rect x="384.60" y="306.85" width="1.25" height="1.25" fill="#eea58e"/><rect x="392.10" y="306.85" width="1.25" height="1.25" fill="#f6f2f2"/><rect x="403.35" y="306.85" width="1.25" height="1.25" fill="#f6f2f2"/><rect x="409.60" y="306.85" width="1.25" height="1.25" fill="#cc4236"/><rect x="410.85" y="306.85" width="1.25" height="1.25" fill="#cc4236"/><rect x="413.35" y="306.85" width="1.25" height="1.25" fill="#cc4236"/><rect x="415.85" y="306.85" width="1.25" height="1.25" fill="#a8b0dc"/><rect x="417.10" y="306.85" width="1.25" height="1.25" fill="#ec9a84"/><rect x="389.60" y="308.10" width="1.25" height="1.25" fill="#cf4a3c"/><rect x="390.85" y="308.10" width="1.25" height="1.25" fill="#cf4a3c"/><rect x="392.10" y="308.10" width="1.25" height="1.25" fill="#f6f2f2"/><rect x="397.10" y="308.10" width="1.25" height="1.25" fill="#a8b0dc"/><rect x="399.60" y="308.10" width="1.25" height="1.25" fill="#f6f2f2"/><rect x="400.85" y="308.10" width="1.25" height="1.25" fill="#cc4236"/><rect x="403.35" y="308.10" width="1.25" height="1.25" fill="#cc4236"/><rect x="380.85" y="309.35" width="1.25" height="1.25" fill="#a8b0dc"/><rect x="393.35" y="309.35" width="1.25" height="1.25" fill="#cf4a3c"/><rect x="398.35" y="309.35" width="1.25" height="1.25" fill="#cc4236"/><rect x="399.60" y="309.35" width="1.25" height="1.25" fill="#cc4236"/><rect x="400.85" y="309.35" width="1.25" height="1.25" fill="#cc4236"/><rect x="402.10" y="309.35" width="1.25" height="1.25" fill="#cc4236"/><rect x="403.35" y="309.35" width="1.25" height="1.25" fill="#ec9a84"/><rect x="404.60" y="309.35" width="1.25" height="1.25" fill="#ec9a84"/><rect x="405.85" y="309.35" width="1.25" height="1.25" fill="#cc4236"/><rect x="379.60" y="310.60" width="1.25" height="1.25" fill="#a8b0dc"/><rect x="380.85" y="310.60" width="1.25" height="1.25" fill="#cf4a3c"/><rect x="388.35" y="310.60" width="1.25" height="1.25" fill="#cf4a3c"/><rect x="390.85" y="310.60" width="1.25" height="1.25" fill="#eea58e"/><rect x="394.60" y="310.60" width="1.25" height="1.25" fill="#cf4a3c"/><rect x="398.35" y="310.60" width="1.25" height="1.25" fill="#cc4236"/><rect x="399.60" y="310.60" width="1.25" height="1.25" fill="#cc4236"/><rect x="404.60" y="310.60" width="1.25" height="1.25" fill="#ec9a84"/><rect x="405.85" y="310.60" width="1.25" height="1.25" fill="#cc4236"/><rect x="430.85" y="310.60" width="1.25" height="1.25" fill="#f6f2f2"/><rect x="383.35" y="311.85" width="1.25" height="1.25" fill="#f6f2f2"/><rect x="385.85" y="311.85" width="1.25" height="1.25" fill="#cf4a3c"/><rect x="389.60" y="311.85" width="1.25" height="1.25" fill="#f6f2f2"/><rect x="390.85" y="311.85" width="1.25" height="1.25" fill="#f6f2f2"/><rect x="393.35" y="311.85" width="1.25" height="1.25" fill="#cf4a3c"/><rect x="398.35" y="311.85" width="1.25" height="1.25" fill="#cc4236"/><rect x="400.85" y="311.85" width="1.25" height="1.25" fill="#cc4236"/><rect x="402.10" y="311.85" width="1.25" height="1.25" fill="#ec9a84"/><rect x="403.35" y="311.85" width="1.25" height="1.25" fill="#f6f2f2"/><rect x="404.60" y="311.85" width="1.25" height="1.25" fill="#ec9a84"/><rect x="405.85" y="311.85" width="1.25" height="1.25" fill="#ec9a84"/><rect x="378.35" y="313.10" width="1.25" height="1.25" fill="#f6f2f2"/><rect x="382.10" y="313.10" width="1.25" height="1.25" fill="#eea58e"/><rect x="385.85" y="313.10" width="1.25" height="1.25" fill="#cf4a3c"/><rect x="389.60" y="313.10" width="1.25" height="1.25" fill="#f6f2f2"/><rect x="392.10" y="313.10" width="1.25" height="1.25" fill="#cf4a3c"/><rect x="393.35" y="313.10" width="1.25" height="1.25" fill="#cf4a3c"/><rect x="397.10" y="313.10" width="1.25" height="1.25" fill="#ec9a84"/><rect x="398.35" y="313.10" width="1.25" height="1.25" fill="#cc4236"/><rect x="402.10" y="313.10" width="1.25" height="1.25" fill="#cc4236"/><rect x="404.60" y="313.10" width="1.25" height="1.25" fill="#cc4236"/><rect x="405.85" y="313.10" width="1.25" height="1.25" fill="#f6f2f2"/><rect x="417.10" y="313.10" width="1.25" height="1.25" fill="#eea58e"/><rect x="383.35" y="314.35" width="1.25" height="1.25" fill="#f6f2f2"/><rect x="387.10" y="314.35" width="1.25" height="1.25" fill="#eea58e"/><rect x="389.60" y="314.35" width="1.25" height="1.25" fill="#eea58e"/><rect x="398.35" y="314.35" width="1.25" height="1.25" fill="#f6f2f2"/><rect x="399.60" y="314.35" width="1.25" height="1.25" fill="#ec9a84"/><rect x="400.85" y="314.35" width="1.25" height="1.25" fill="#cc4236"/><rect x="402.10" y="314.35" width="1.25" height="1.25" fill="#cc4236"/><rect x="404.60" y="314.35" width="1.25" height="1.25" fill="#cc4236"/><rect x="405.85" y="314.35" width="1.25" height="1.25" fill="#cc4236"/><rect x="419.60" y="314.35" width="1.25" height="1.25" fill="#eea58e"/><rect x="425.85" y="314.35" width="1.25" height="1.25" fill="#a8b0dc"/><rect x="395.85" y="315.60" width="1.25" height="1.25" fill="#cf4a3c"/><rect x="397.10" y="315.60" width="1.25" height="1.25" fill="#ec9a84"/><rect x="398.35" y="315.60" width="1.25" height="1.25" fill="#cc4236"/><rect x="399.60" y="315.60" width="1.25" height="1.25" fill="#ec9a84"/><rect x="400.85" y="315.60" width="1.25" height="1.25" fill="#cc4236"/><rect x="402.10" y="315.60" width="1.25" height="1.25" fill="#cc4236"/><rect x="403.35" y="315.60" width="1.25" height="1.25" fill="#cc4236"/><rect x="404.60" y="315.60" width="1.25" height="1.25" fill="#f6f2f2"/><rect x="405.85" y="315.60" width="1.25" height="1.25" fill="#cc4236"/><rect x="414.60" y="315.60" width="1.25" height="1.25" fill="#eea58e"/><rect x="422.10" y="315.60" width="1.25" height="1.25" fill="#eea58e"/><rect x="393.35" y="316.85" width="1.25" height="1.25" fill="#a8b0dc"/><rect x="395.85" y="316.85" width="1.25" height="1.25" fill="#cf4a3c"/><rect x="397.10" y="316.85" width="1.25" height="1.25" fill="#cc4236"/><rect x="398.35" y="316.85" width="1.25" height="1.25" fill="#cc4236"/><rect x="400.85" y="316.85" width="1.25" height="1.25" fill="#cc4236"/><rect x="402.10" y="316.85" width="1.25" height="1.25" fill="#a8b0dc"/><rect x="403.35" y="316.85" width="1.25" height="1.25" fill="#f6f2f2"/><rect x="404.60" y="316.85" width="1.25" height="1.25" fill="#cc4236"/><rect x="405.85" y="316.85" width="1.25" height="1.25" fill="#cc4236"/><rect x="383.35" y="318.10" width="1.25" height="1.25" fill="#cf4a3c"/><rect x="389.60" y="318.10" width="1.25" height="1.25" fill="#f6f2f2"/><rect x="390.85" y="318.10" width="1.25" height="1.25" fill="#f6f2f2"/><rect x="394.60" y="318.10" width="1.25" height="1.25" fill="#f6f2f2"/><rect x="395.85" y="318.10" width="1.25" height="1.25" fill="#a8b0dc"/><rect x="397.10" y="318.10" width="1.25" height="1.25" fill="#cc4236"/><rect x="398.35" y="318.10" width="1.25" height="1.25" fill="#ec9a84"/><rect x="399.60" y="318.10" width="1.25" height="1.25" fill="#ec9a84"/><rect x="402.10" y="318.10" width="1.25" height="1.25" fill="#a8b0dc"/><rect x="405.85" y="318.10" width="1.25" height="1.25" fill="#cc4236"/><rect x="377.10" y="319.35" width="1.25" height="1.25" fill="#f6f2f2"/><rect x="384.60" y="319.35" width="1.25" height="1.25" fill="#a8b0dc"/><rect x="392.10" y="319.35" width="1.25" height="1.25" fill="#f6f2f2"/><rect x="395.85" y="319.35" width="1.25" height="1.25" fill="#f6f2f2"/><rect x="397.10" y="319.35" width="1.25" height="1.25" fill="#cc4236"/><rect x="399.60" y="319.35" width="1.25" height="1.25" fill="#cc4236"/><rect x="400.85" y="319.35" width="1.25" height="1.25" fill="#cc4236"/><rect x="402.10" y="319.35" width="1.25" height="1.25" fill="#f6f2f2"/><rect x="404.60" y="319.35" width="1.25" height="1.25" fill="#cc4236"/><rect x="405.85" y="319.35" width="1.25" height="1.25" fill="#cc4236"/><rect x="407.10" y="319.35" width="1.25" height="1.25" fill="#a8b0dc"/><rect x="378.35" y="320.60" width="1.25" height="1.25" fill="#cf4a3c"/><rect x="385.85" y="320.60" width="1.25" height="1.25" fill="#f6f2f2"/><rect x="389.60" y="320.60" width="1.25" height="1.25" fill="#cf4a3c"/><rect x="393.35" y="320.60" width="1.25" height="1.25" fill="#cf4a3c"/><rect x="394.60" y="320.60" width="1.25" height="1.25" fill="#f6f2f2"/><rect x="397.10" y="320.60" width="1.25" height="1.25" fill="#ec9a84"/><rect x="399.60" y="320.60" width="1.25" height="1.25" fill="#cc4236"/><rect x="400.85" y="320.60" width="1.25" height="1.25" fill="#f6f2f2"/><rect x="402.10" y="320.60" width="1.25" height="1.25" fill="#cc4236"/><rect x="403.35" y="320.60" width="1.25" height="1.25" fill="#cc4236"/><rect x="405.85" y="320.60" width="1.25" height="1.25" fill="#cc4236"/><rect x="408.35" y="320.60" width="1.25" height="1.25" fill="#f6f2f2"/><rect x="392.10" y="321.85" width="1.25" height="1.25" fill="#f6f2f2"/><rect x="393.35" y="321.85" width="1.25" height="1.25" fill="#f6f2f2"/><rect x="394.60" y="321.85" width="1.25" height="1.25" fill="#eea58e"/><rect x="399.60" y="321.85" width="1.25" height="1.25" fill="#cc4236"/><rect x="400.85" y="321.85" width="1.25" height="1.25" fill="#cc4236"/><rect x="402.10" y="321.85" width="1.25" height="1.25" fill="#cc4236"/><rect x="403.35" y="321.85" width="1.25" height="1.25" fill="#ec9a84"/><rect x="404.60" y="321.85" width="1.25" height="1.25" fill="#ec9a84"/><rect x="405.85" y="321.85" width="1.25" height="1.25" fill="#cc4236"/><rect x="407.10" y="321.85" width="1.25" height="1.25" fill="#eea58e"/><rect x="385.85" y="323.10" width="1.25" height="1.25" fill="#eea58e"/><rect x="390.85" y="323.10" width="1.25" height="1.25" fill="#cc4236"/><rect x="392.10" y="323.10" width="1.25" height="1.25" fill="#a8b0dc"/><rect x="393.35" y="323.10" width="1.25" height="1.25" fill="#cc4236"/><rect x="394.60" y="323.10" width="1.25" height="1.25" fill="#cc4236"/><rect x="395.85" y="323.10" width="1.25" height="1.25" fill="#a8b0dc"/><rect x="397.10" y="323.10" width="1.25" height="1.25" fill="#eea58e"/><rect x="398.35" y="323.10" width="1.25" height="1.25" fill="#eea58e"/><rect x="389.60" y="324.35" width="1.25" height="1.25" fill="#cc4236"/><rect x="390.85" y="324.35" width="1.25" height="1.25" fill="#a8b0dc"/><rect x="392.10" y="324.35" width="1.25" height="1.25" fill="#ec9a84"/><rect x="393.35" y="324.35" width="1.25" height="1.25" fill="#cc4236"/><rect x="394.60" y="324.35" width="1.25" height="1.25" fill="#ec9a84"/><rect x="397.10" y="324.35" width="1.25" height="1.25" fill="#cf4a3c"/><rect x="398.35" y="324.35" width="1.25" height="1.25" fill="#eea58e"/><rect x="413.35" y="324.35" width="1.25" height="1.25" fill="#eea58e"/><rect x="379.60" y="325.60" width="1.25" height="1.25" fill="#f6f2f2"/><rect x="389.60" y="325.60" width="1.25" height="1.25" fill="#cc4236"/><rect x="392.10" y="325.60" width="1.25" height="1.25" fill="#cc4236"/><rect x="393.35" y="325.60" width="1.25" height="1.25" fill="#cc4236"/><rect x="394.60" y="325.60" width="1.25" height="1.25" fill="#cc4236"/><rect x="385.85" y="326.85" width="1.25" height="1.25" fill="#eea58e"/><rect x="388.35" y="326.85" width="1.25" height="1.25" fill="#eea58e"/><rect x="389.60" y="326.85" width="1.25" height="1.25" fill="#cc4236"/><rect x="390.85" y="326.85" width="1.25" height="1.25" fill="#cc4236"/><rect x="392.10" y="326.85" width="1.25" height="1.25" fill="#cc4236"/><rect x="393.35" y="326.85" width="1.25" height="1.25" fill="#cc4236"/><rect x="397.10" y="326.85" width="1.25" height="1.25" fill="#f6f2f2"/><rect x="398.35" y="326.85" width="1.25" height="1.25" fill="#eea58e"/><rect x="377.10" y="328.10" width="1.25" height="1.25" fill="#f6f2f2"/><rect x="389.60" y="328.10" width="1.25" height="1.25" fill="#cc4236"/><rect x="392.10" y="328.10" width="1.25" height="1.25" fill="#ec9a84"/><rect x="393.35" y="328.10" width="1.25" height="1.25" fill="#ec9a84"/><rect x="397.10" y="328.10" width="1.25" height="1.25" fill="#f6f2f2"/><rect x="389.60" y="329.35" width="1.25" height="1.25" fill="#ec9a84"/><rect x="390.85" y="329.35" width="1.25" height="1.25" fill="#ec9a84"/><rect x="393.35" y="329.35" width="1.25" height="1.25" fill="#cc4236"/><rect x="394.60" y="329.35" width="1.25" height="1.25" fill="#cc4236"/><rect x="395.85" y="329.35" width="1.25" height="1.25" fill="#cf4a3c"/><rect x="420.85" y="329.35" width="1.25" height="1.25" fill="#f6f2f2"/><rect x="387.10" y="330.60" width="1.25" height="1.25" fill="#a8b0dc"/><rect x="389.60" y="330.60" width="1.25" height="1.25" fill="#cc4236"/><rect x="390.85" y="330.60" width="1.25" height="1.25" fill="#cc4236"/><rect x="392.10" y="330.60" width="1.25" height="1.25" fill="#cc4236"/><rect x="393.35" y="330.60" width="1.25" height="1.25" fill="#cc4236"/><rect x="394.60" y="330.60" width="1.25" height="1.25" fill="#cc4236"/><rect x="397.10" y="330.60" width="1.25" height="1.25" fill="#cf4a3c"/><rect x="398.35" y="330.60" width="1.25" height="1.25" fill="#a8b0dc"/><rect x="428.35" y="330.60" width="1.25" height="1.25" fill="#cf4a3c"/><rect x="382.10" y="331.85" width="1.25" height="1.25" fill="#cf4a3c"/><rect x="384.60" y="331.85" width="1.25" height="1.25" fill="#f6f2f2"/><rect x="389.60" y="331.85" width="1.25" height="1.25" fill="#ec9a84"/><rect x="392.10" y="331.85" width="1.25" height="1.25" fill="#a8b0dc"/><rect x="393.35" y="331.85" width="1.25" height="1.25" fill="#f6f2f2"/><rect x="394.60" y="331.85" width="1.25" height="1.25" fill="#ec9a84"/><rect x="395.85" y="331.85" width="1.25" height="1.25" fill="#a8b0dc"/><rect x="397.10" y="331.85" width="1.25" height="1.25" fill="#f6f2f2"/><rect x="398.35" y="331.85" width="1.25" height="1.25" fill="#eea58e"/><rect x="425.85" y="331.85" width="1.25" height="1.25" fill="#f6f2f2"/><rect x="382.10" y="333.10" width="1.25" height="1.25" fill="#a8b0dc"/><rect x="389.60" y="333.10" width="1.25" height="1.25" fill="#cc4236"/><rect x="390.85" y="333.10" width="1.25" height="1.25" fill="#f6f2f2"/><rect x="392.10" y="333.10" width="1.25" height="1.25" fill="#cc4236"/><rect x="393.35" y="333.10" width="1.25" height="1.25" fill="#a8b0dc"/><rect x="394.60" y="333.10" width="1.25" height="1.25" fill="#ec9a84"/><rect x="398.35" y="333.10" width="1.25" height="1.25" fill="#f6f2f2"/><rect x="383.35" y="334.35" width="1.25" height="1.25" fill="#a8b0dc"/><rect x="392.10" y="334.35" width="1.25" height="1.25" fill="#cc4236"/><rect x="394.60" y="334.35" width="1.25" height="1.25" fill="#ec9a84"/><rect x="397.10" y="334.35" width="1.25" height="1.25" fill="#f6f2f2"/><rect x="380.85" y="335.60" width="1.25" height="1.25" fill="#a8b0dc"/><rect x="389.60" y="335.60" width="1.25" height="1.25" fill="#cc4236"/><rect x="390.85" y="335.60" width="1.25" height="1.25" fill="#cc4236"/><rect x="392.10" y="335.60" width="1.25" height="1.25" fill="#cc4236"/><rect x="393.35" y="335.60" width="1.25" height="1.25" fill="#ec9a84"/><rect x="394.60" y="335.60" width="1.25" height="1.25" fill="#cc4236"/><rect x="398.35" y="335.60" width="1.25" height="1.25" fill="#cf4a3c"/><rect x="385.85" y="336.85" width="1.25" height="1.25" fill="#eea58e"/><rect x="390.85" y="336.85" width="1.25" height="1.25" fill="#ec9a84"/><rect x="392.10" y="336.85" width="1.25" height="1.25" fill="#cc4236"/><rect x="393.35" y="336.85" width="1.25" height="1.25" fill="#cc4236"/><rect x="395.85" y="336.85" width="1.25" height="1.25" fill="#eea58e"/><rect x="415.85" y="336.85" width="1.25" height="1.25" fill="#f6f2f2"/><rect x="379.60" y="338.10" width="1.25" height="1.25" fill="#eea58e"/><rect x="389.60" y="338.10" width="1.25" height="1.25" fill="#ec9a84"/><rect x="390.85" y="338.10" width="1.25" height="1.25" fill="#cc4236"/><rect x="392.10" y="338.10" width="1.25" height="1.25" fill="#ec9a84"/><rect x="393.35" y="338.10" width="1.25" height="1.25" fill="#cc4236"/><rect x="398.35" y="338.10" width="1.25" height="1.25" fill="#eea58e"/><rect x="399.60" y="338.10" width="1.25" height="1.25" fill="#a8b0dc"/><rect x="403.35" y="338.10" width="1.25" height="1.25" fill="#eea58e"/><rect x="388.35" y="339.35" width="1.25" height="1.25" fill="#cf4a3c"/><rect x="390.85" y="339.35" width="1.25" height="1.25" fill="#ec9a84"/><rect x="392.10" y="339.35" width="1.25" height="1.25" fill="#cc4236"/><rect x="393.35" y="339.35" width="1.25" height="1.25" fill="#cc4236"/><rect x="394.60" y="339.35" width="1.25" height="1.25" fill="#a8b0dc"/><rect x="398.35" y="339.35" width="1.25" height="1.25" fill="#eea58e"/><rect x="380.85" y="340.60" width="1.25" height="1.25" fill="#eea58e"/><rect x="388.35" y="340.60" width="1.25" height="1.25" fill="#eea58e"/><rect x="390.85" y="340.60" width="1.25" height="1.25" fill="#cc4236"/><rect x="393.35" y="340.60" width="1.25" height="1.25" fill="#cc4236"/><rect x="394.60" y="340.60" width="1.25" height="1.25" fill="#cc4236"/><rect x="398.35" y="340.60" width="1.25" height="1.25" fill="#eea58e"/><rect x="378.35" y="341.85" width="1.25" height="1.25" fill="#a8b0dc"/><rect x="382.10" y="341.85" width="1.25" height="1.25" fill="#f6f2f2"/><rect x="388.35" y="341.85" width="1.25" height="1.25" fill="#f6f2f2"/><rect x="389.60" y="341.85" width="1.25" height="1.25" fill="#ec9a84"/><rect x="390.85" y="341.85" width="1.25" height="1.25" fill="#cc4236"/><rect x="392.10" y="341.85" width="1.25" height="1.25" fill="#cc4236"/><rect x="393.35" y="341.85" width="1.25" height="1.25" fill="#ec9a84"/><rect x="394.60" y="341.85" width="1.25" height="1.25" fill="#cc4236"/><rect x="389.60" y="343.10" width="1.25" height="1.25" fill="#cc4236"/><rect x="392.10" y="343.10" width="1.25" height="1.25" fill="#ec9a84"/><rect x="393.35" y="343.10" width="1.25" height="1.25" fill="#cc4236"/><rect x="394.60" y="343.10" width="1.25" height="1.25" fill="#cc4236"/><rect x="395.85" y="343.10" width="1.25" height="1.25" fill="#cf4a3c"/><rect x="379.60" y="344.35" width="1.25" height="1.25" fill="#f6f2f2"/><rect x="389.60" y="344.35" width="1.25" height="1.25" fill="#ec9a84"/><rect x="390.85" y="344.35" width="1.25" height="1.25" fill="#cc4236"/><rect x="392.10" y="344.35" width="1.25" height="1.25" fill="#cc4236"/><rect x="393.35" y="344.35" width="1.25" height="1.25" fill="#cc4236"/><rect x="394.60" y="344.35" width="1.25" height="1.25" fill="#cc4236"/><rect x="395.85" y="344.35" width="1.25" height="1.25" fill="#eea58e"/><rect x="397.10" y="344.35" width="1.25" height="1.25" fill="#eea58e"/><rect x="398.35" y="344.35" width="1.25" height="1.25" fill="#f6f2f2"/><rect x="377.10" y="345.60" width="1.25" height="1.25" fill="#a8b0dc"/><rect x="379.60" y="345.60" width="1.25" height="1.25" fill="#a8b0dc"/><rect x="380.85" y="345.60" width="1.25" height="1.25" fill="#f6f2f2"/><rect x="382.10" y="345.60" width="1.25" height="1.25" fill="#a8b0dc"/><rect x="385.85" y="345.60" width="1.25" height="1.25" fill="#f6f2f2"/><rect x="387.10" y="345.60" width="1.25" height="1.25" fill="#cf4a3c"/><rect x="390.85" y="345.60" width="1.25" height="1.25" fill="#ec9a84"/><rect x="392.10" y="345.60" width="1.25" height="1.25" fill="#cc4236"/><rect x="393.35" y="345.60" width="1.25" height="1.25" fill="#cc4236"/><rect x="394.60" y="345.60" width="1.25" height="1.25" fill="#cc4236"/><rect x="398.35" y="345.60" width="1.25" height="1.25" fill="#f6f2f2"/><rect x="420.85" y="345.60" width="1.25" height="1.25" fill="#eea58e"/><rect x="377.10" y="346.85" width="1.25" height="1.25" fill="#cf4a3c"/><rect x="380.85" y="346.85" width="1.25" height="1.25" fill="#cf4a3c"/><rect x="389.60" y="346.85" width="1.25" height="1.25" fill="#cc4236"/><rect x="390.85" y="346.85" width="1.25" height="1.25" fill="#a8b0dc"/><rect x="393.35" y="346.85" width="1.25" height="1.25" fill="#cc4236"/><rect x="394.60" y="346.85" width="1.25" height="1.25" fill="#cc4236"/><rect x="397.10" y="346.85" width="1.25" height="1.25" fill="#f6f2f2"/><rect x="389.60" y="348.10" width="1.25" height="1.25" fill="#ec9a84"/><rect x="390.85" y="348.10" width="1.25" height="1.25" fill="#cc4236"/><rect x="392.10" y="348.10" width="1.25" height="1.25" fill="#cc4236"/><rect x="393.35" y="348.10" width="1.25" height="1.25" fill="#cc4236"/><rect x="394.60" y="348.10" width="1.25" height="1.25" fill="#cc4236"/><rect x="397.10" y="348.10" width="1.25" height="1.25" fill="#eea58e"/><rect x="377.10" y="349.35" width="1.25" height="1.25" fill="#eea58e"/><rect x="379.60" y="349.35" width="1.25" height="1.25" fill="#f6f2f2"/><rect x="387.10" y="349.35" width="1.25" height="1.25" fill="#cf4a3c"/><rect x="388.35" y="349.35" width="1.25" height="1.25" fill="#eea58e"/><rect x="389.60" y="349.35" width="1.25" height="1.25" fill="#f6f2f2"/><rect x="390.85" y="349.35" width="1.25" height="1.25" fill="#cc4236"/><rect x="392.10" y="349.35" width="1.25" height="1.25" fill="#cc4236"/><rect x="393.35" y="349.35" width="1.25" height="1.25" fill="#ec9a84"/><rect x="404.60" y="349.35" width="1.25" height="1.25" fill="#f6f2f2"/><rect x="413.35" y="349.35" width="1.25" height="1.25" fill="#cf4a3c"/><rect x="420.85" y="349.35" width="1.25" height="1.25" fill="#eea58e"/><rect x="390.85" y="350.60" width="1.25" height="1.25" fill="#cc4236"/><rect x="393.35" y="350.60" width="1.25" height="1.25" fill="#cc4236"/><rect x="394.60" y="350.60" width="1.25" height="1.25" fill="#cc4236"/><rect x="397.10" y="350.60" width="1.25" height="1.25" fill="#a8b0dc"/><rect x="398.35" y="350.60" width="1.25" height="1.25" fill="#cf4a3c"/><rect x="408.35" y="350.60" width="1.25" height="1.25" fill="#eea58e"/><rect x="389.60" y="351.85" width="1.25" height="1.25" fill="#cc4236"/><rect x="408.35" y="351.85" width="1.25" height="1.25" fill="#f6f2f2"/><rect x="378.35" y="353.10" width="1.25" height="1.25" fill="#a8b0dc"/><rect x="389.60" y="353.10" width="1.25" height="1.25" fill="#cc4236"/><rect x="390.85" y="353.10" width="1.25" height="1.25" fill="#ec9a84"/><rect x="392.10" y="353.10" width="1.25" height="1.25" fill="#ec9a84"/><rect x="393.35" y="353.10" width="1.25" height="1.25" fill="#ec9a84"/><rect x="394.60" y="353.10" width="1.25" height="1.25" fill="#cc4236"/><rect x="395.85" y="353.10" width="1.25" height="1.25" fill="#cf4a3c"/><rect x="387.10" y="354.35" width="1.25" height="1.25" fill="#eea58e"/><rect x="389.60" y="354.35" width="1.25" height="1.25" fill="#cc4236"/><rect x="390.85" y="354.35" width="1.25" height="1.25" fill="#f6f2f2"/><rect x="393.35" y="354.35" width="1.25" height="1.25" fill="#cc4236"/><rect x="397.10" y="354.35" width="1.25" height="1.25" fill="#f6f2f2"/><rect x="398.35" y="354.35" width="1.25" height="1.25" fill="#cf4a3c"/><rect x="378.35" y="355.60" width="1.25" height="1.25" fill="#f6f2f2"/><rect x="379.60" y="355.60" width="1.25" height="1.25" fill="#cf4a3c"/><rect x="382.10" y="355.60" width="1.25" height="1.25" fill="#cf4a3c"/><rect x="385.85" y="355.60" width="1.25" height="1.25" fill="#a8b0dc"/><rect x="389.60" y="355.60" width="1.25" height="1.25" fill="#cc4236"/><rect x="392.10" y="355.60" width="1.25" height="1.25" fill="#cc4236"/><rect x="393.35" y="355.60" width="1.25" height="1.25" fill="#ec9a84"/><rect x="394.60" y="355.60" width="1.25" height="1.25" fill="#cc4236"/><rect x="398.35" y="355.60" width="1.25" height="1.25" fill="#f6f2f2"/><rect x="387.10" y="356.85" width="1.25" height="1.25" fill="#eea58e"/><rect x="389.60" y="356.85" width="1.25" height="1.25" fill="#cc4236"/><rect x="390.85" y="356.85" width="1.25" height="1.25" fill="#cc4236"/><rect x="393.35" y="356.85" width="1.25" height="1.25" fill="#f6f2f2"/><rect x="394.60" y="356.85" width="1.25" height="1.25" fill="#cc4236"/><rect x="388.35" y="358.10" width="1.25" height="1.25" fill="#eea58e"/><rect x="389.60" y="358.10" width="1.25" height="1.25" fill="#ec9a84"/><rect x="392.10" y="358.10" width="1.25" height="1.25" fill="#cc4236"/><rect x="393.35" y="358.10" width="1.25" height="1.25" fill="#cc4236"/><rect x="394.60" y="358.10" width="1.25" height="1.25" fill="#cc4236"/><rect x="397.10" y="358.10" width="1.25" height="1.25" fill="#eea58e"/><rect x="412.10" y="358.10" width="1.25" height="1.25" fill="#f6f2f2"/><rect x="389.60" y="359.35" width="1.25" height="1.25" fill="#cc4236"/><rect x="390.85" y="359.35" width="1.25" height="1.25" fill="#cc4236"/><rect x="394.60" y="359.35" width="1.25" height="1.25" fill="#cc4236"/><rect x="395.85" y="359.35" width="1.25" height="1.25" fill="#f6f2f2"/><rect x="397.10" y="359.35" width="1.25" height="1.25" fill="#f6f2f2"/><rect x="398.35" y="359.35" width="1.25" height="1.25" fill="#f6f2f2"/><rect x="412.10" y="359.35" width="1.25" height="1.25" fill="#f6f2f2"/><rect x="429.60" y="359.35" width="1.25" height="1.25" fill="#eea58e"/><rect x="378.35" y="360.60" width="1.25" height="1.25" fill="#f6f2f2"/><rect x="389.60" y="360.60" width="1.25" height="1.25" fill="#cc4236"/><rect x="390.85" y="360.60" width="1.25" height="1.25" fill="#cc4236"/><rect x="392.10" y="360.60" width="1.25" height="1.25" fill="#cc4236"/><rect x="393.35" y="360.60" width="1.25" height="1.25" fill="#ec9a84"/><rect x="395.85" y="360.60" width="1.25" height="1.25" fill="#cf4a3c"/><rect x="397.10" y="360.60" width="1.25" height="1.25" fill="#cf4a3c"/><rect x="377.10" y="361.85" width="1.25" height="1.25" fill="#cf4a3c"/><rect x="380.85" y="361.85" width="1.25" height="1.25" fill="#f6f2f2"/><rect x="389.60" y="361.85" width="1.25" height="1.25" fill="#f6f2f2"/><rect x="390.85" y="361.85" width="1.25" height="1.25" fill="#cc4236"/><rect x="392.10" y="361.85" width="1.25" height="1.25" fill="#cc4236"/><rect x="393.35" y="361.85" width="1.25" height="1.25" fill="#cc4236"/><rect x="394.60" y="361.85" width="1.25" height="1.25" fill="#cc4236"/><rect x="395.85" y="361.85" width="1.25" height="1.25" fill="#f6f2f2"/><rect x="397.10" y="361.85" width="1.25" height="1.25" fill="#cf4a3c"/><rect x="417.10" y="361.85" width="1.25" height="1.25" fill="#cf4a3c"/><rect x="389.60" y="363.10" width="1.25" height="1.25" fill="#cc4236"/><rect x="390.85" y="363.10" width="1.25" height="1.25" fill="#cc4236"/><rect x="392.10" y="363.10" width="1.25" height="1.25" fill="#ec9a84"/><rect x="393.35" y="363.10" width="1.25" height="1.25" fill="#a8b0dc"/><rect x="394.60" y="363.10" width="1.25" height="1.25" fill="#ec9a84"/><rect x="405.85" y="363.10" width="1.25" height="1.25" fill="#a8b0dc"/><rect x="380.85" y="364.35" width="1.25" height="1.25" fill="#f6f2f2"/><rect x="384.60" y="364.35" width="1.25" height="1.25" fill="#cf4a3c"/><rect x="388.35" y="364.35" width="1.25" height="1.25" fill="#cf4a3c"/><rect x="390.85" y="364.35" width="1.25" height="1.25" fill="#f6f2f2"/><rect x="392.10" y="364.35" width="1.25" height="1.25" fill="#cc4236"/><rect x="393.35" y="364.35" width="1.25" height="1.25" fill="#cc4236"/><rect x="394.60" y="364.35" width="1.25" height="1.25" fill="#cc4236"/><rect x="397.10" y="364.35" width="1.25" height="1.25" fill="#cf4a3c"/><rect x="412.10" y="364.35" width="1.25" height="1.25" fill="#a8b0dc"/><rect x="384.60" y="365.60" width="1.25" height="1.25" fill="#a8b0dc"/><rect x="389.60" y="365.60" width="1.25" height="1.25" fill="#f6f2f2"/><rect x="392.10" y="365.60" width="1.25" height="1.25" fill="#f6f2f2"/><rect x="398.35" y="365.60" width="1.25" height="1.25" fill="#eea58e"/><rect x="424.60" y="365.60" width="1.25" height="1.25" fill="#cf4a3c"/><rect x="425.85" y="365.60" width="1.25" height="1.25" fill="#eea58e"/><rect x="389.60" y="366.85" width="1.25" height="1.25" fill="#cc4236"/><rect x="390.85" y="366.85" width="1.25" height="1.25" fill="#cc4236"/><rect x="392.10" y="366.85" width="1.25" height="1.25" fill="#a8b0dc"/><rect x="393.35" y="366.85" width="1.25" height="1.25" fill="#cc4236"/><rect x="394.60" y="366.85" width="1.25" height="1.25" fill="#cc4236"/><rect x="397.10" y="366.85" width="1.25" height="1.25" fill="#f6f2f2"/><rect x="415.85" y="366.85" width="1.25" height="1.25" fill="#cf4a3c"/><rect x="417.10" y="366.85" width="1.25" height="1.25" fill="#cf4a3c"/>
<line x1="377.1" y1="307.2" x2="431.7" y2="307.2" stroke="#b4bbe2" stroke-width="0.8" />
<line x1="377.1" y1="322.6" x2="431.7" y2="322.6" stroke="#b4bbe2" stroke-width="0.8" />
<rect x="468.3" y="293.0" width="80.30000000000001" height="80.19999999999999" fill="#fff" stroke="#4a4a4a" stroke-width="1.2"/>
<path d="M471.8,330.6 L475.4,314.5 L480.7,305.5 L489.7,300.2 L504.0,295.1 L518.3,297.5 L527.3,307.3 L531.7,319.8 L525.5,327.9 L514.7,334.2 L508.5,340.4 L496.8,346.7 L486.1,353.9 L475.4,344.9 L471.8,336.0 Z" fill="#f0ecf2"/><circle cx="505.19" cy="295.40" r="0.95" fill="#a994dc" fill-opacity="0.7" stroke="#a994dc" stroke-width="0.45"/><circle cx="499.19" cy="296.85" r="0.95" fill="#9cbcf0" fill-opacity="0.7" stroke="#9cbcf0" stroke-width="0.45"/><circle cx="501.86" cy="296.69" r="0.95" fill="#e0707e" fill-opacity="0.7" stroke="#e0707e" stroke-width="0.45"/><circle cx="503.71" cy="296.90" r="0.95" fill="#7ccfca" fill-opacity="0.7" stroke="#7ccfca" stroke-width="0.45"/><circle cx="505.77" cy="297.35" r="0.95" fill="#8ca6ea" fill-opacity="0.7" stroke="#8ca6ea" stroke-width="0.45"/><circle cx="507.95" cy="296.87" r="0.95" fill="#7ccfca" fill-opacity="0.7" stroke="#7ccfca" stroke-width="0.45"/><circle cx="510.54" cy="297.12" r="0.95" fill="#a994dc" fill-opacity="0.7" stroke="#a994dc" stroke-width="0.45"/><circle cx="512.90" cy="296.74" r="0.95" fill="#e88aa0" fill-opacity="0.7" stroke="#e88aa0" stroke-width="0.45"/><circle cx="514.36" cy="297.09" r="0.95" fill="#9cbcf0" fill-opacity="0.7" stroke="#9cbcf0" stroke-width="0.45"/><circle cx="516.53" cy="297.21" r="0.95" fill="#e0707e" fill-opacity="0.7" stroke="#e0707e" stroke-width="0.45"/><circle cx="493.90" cy="298.93" r="0.95" fill="#e0707e" fill-opacity="0.7" stroke="#e0707e" stroke-width="0.45"/><circle cx="495.74" cy="298.92" r="0.95" fill="#e0707e" fill-opacity="0.7" stroke="#e0707e" stroke-width="0.45"/><circle cx="497.85" cy="299.16" r="0.95" fill="#e0707e" fill-opacity="0.7" stroke="#e0707e" stroke-width="0.45"/><circle cx="500.56" cy="299.06" r="0.95" fill="#a994dc" fill-opacity="0.7" stroke="#a994dc" stroke-width="0.45"/><circle cx="502.49" cy="299.09" r="0.95" fill="#a994dc" fill-opacity="0.7" stroke="#a994dc" stroke-width="0.45"/><circle cx="505.07" cy="298.74" r="0.95" fill="#a994dc" fill-opacity="0.7" stroke="#a994dc" stroke-width="0.45"/><circle cx="507.37" cy="298.80" r="0.95" fill="#7ccfca" fill-opacity="0.7" stroke="#7ccfca" stroke-width="0.45"/><circle cx="509.26" cy="298.54" r="0.95" fill="#a994dc" fill-opacity="0.7" stroke="#a994dc" stroke-width="0.45"/><circle cx="511.26" cy="298.75" r="0.95" fill="#a994dc" fill-opacity="0.7" stroke="#a994dc" stroke-width="0.45"/><circle cx="513.85" cy="299.05" r="0.95" fill="#e0707e" fill-opacity="0.7" stroke="#e0707e" stroke-width="0.45"/><circle cx="515.68" cy="299.04" r="0.95" fill="#9cbcf0" fill-opacity="0.7" stroke="#9cbcf0" stroke-width="0.45"/><circle cx="517.88" cy="299.20" r="0.95" fill="#c0a4e4" fill-opacity="0.7" stroke="#c0a4e4" stroke-width="0.45"/><circle cx="490.48" cy="300.62" r="0.95" fill="#e88aa0" fill-opacity="0.7" stroke="#e88aa0" stroke-width="0.45"/><circle cx="493.01" cy="300.53" r="0.95" fill="#7ccfca" fill-opacity="0.7" stroke="#7ccfca" stroke-width="0.45"/><circle cx="494.89" cy="300.88" r="0.95" fill="#9cbcf0" fill-opacity="0.7" stroke="#9cbcf0" stroke-width="0.45"/><circle cx="497.07" cy="300.75" r="0.95" fill="#8ca6ea" fill-opacity="0.7" stroke="#8ca6ea" stroke-width="0.45"/><circle cx="499.37" cy="300.63" r="0.95" fill="#e0707e" fill-opacity="0.7" stroke="#e0707e" stroke-width="0.45"/><circle cx="501.10" cy="300.77" r="0.95" fill="#a994dc" fill-opacity="0.7" stroke="#a994dc" stroke-width="0.45"/><circle cx="503.98" cy="301.14" r="0.95" fill="#e0707e" fill-opacity="0.7" stroke="#e0707e" stroke-width="0.45"/><circle cx="506.27" cy="300.88" r="0.95" fill="#a994dc" fill-opacity="0.7" stroke="#a994dc" stroke-width="0.45"/><circle cx="507.78" cy="300.88" r="0.95" fill="#e0707e" fill-opacity="0.7" stroke="#e0707e" stroke-width="0.45"/><circle cx="510.66" cy="300.68" r="0.95" fill="#e0707e" fill-opacity="0.7" stroke="#e0707e" stroke-width="0.45"/><circle cx="512.75" cy="300.78" r="0.95" fill="#e0707e" fill-opacity="0.7" stroke="#e0707e" stroke-width="0.45"/><circle cx="514.67" cy="300.57" r="0.95" fill="#9cbcf0" fill-opacity="0.7" stroke="#9cbcf0" stroke-width="0.45"/><circle cx="516.95" cy="301.21" r="0.95" fill="#7ccfca" fill-opacity="0.7" stroke="#7ccfca" stroke-width="0.45"/><circle cx="519.19" cy="300.72" r="0.95" fill="#e88aa0" fill-opacity="0.7" stroke="#e88aa0" stroke-width="0.45"/><circle cx="521.21" cy="300.70" r="0.95" fill="#7ccfca" fill-opacity="0.7" stroke="#7ccfca" stroke-width="0.45"/><circle cx="487.57" cy="302.55" r="0.95" fill="#e88aa0" fill-opacity="0.7" stroke="#e88aa0" stroke-width="0.45"/><circle cx="489.63" cy="303.02" r="0.95" fill="#e88aa0" fill-opacity="0.7" stroke="#e88aa0" stroke-width="0.45"/><circle cx="491.58" cy="302.80" r="0.95" fill="#f2c898" fill-opacity="0.7" stroke="#f2c898" stroke-width="0.45"/><circle cx="494.15" cy="302.98" r="0.95" fill="#f2c898" fill-opacity="0.7" stroke="#f2c898" stroke-width="0.45"/><circle cx="495.99" cy="303.03" r="0.95" fill="#a994dc" fill-opacity="0.7" stroke="#a994dc" stroke-width="0.45"/><circle cx="498.03" cy="302.84" r="0.95" fill="#c0a4e4" fill-opacity="0.7" stroke="#c0a4e4" stroke-width="0.45"/><circle cx="500.41" cy="303.05" r="0.95" fill="#8ca6ea" fill-opacity="0.7" stroke="#8ca6ea" stroke-width="0.45"/><circle cx="502.21" cy="302.46" r="0.95" fill="#a994dc" fill-opacity="0.7" stroke="#a994dc" stroke-width="0.45"/><circle cx="504.83" cy="302.62" r="0.95" fill="#a994dc" fill-opacity="0.7" stroke="#a994dc" stroke-width="0.45"/><circle cx="507.19" cy="302.38" r="0.95" fill="#e0707e" fill-opacity="0.7" stroke="#e0707e" stroke-width="0.45"/><circle cx="509.09" cy="302.95" r="0.95" fill="#7ccfca" fill-opacity="0.7" stroke="#7ccfca" stroke-width="0.45"/><circle cx="511.03" cy="302.56" r="0.95" fill="#c0a4e4" fill-opacity="0.7" stroke="#c0a4e4" stroke-width="0.45"/><circle cx="513.75" cy="302.44" r="0.95" fill="#f2c898" fill-opacity="0.7" stroke="#f2c898" stroke-width="0.45"/><circle cx="515.41" cy="302.98" r="0.95" fill="#9cbcf0" fill-opacity="0.7" stroke="#9cbcf0" stroke-width="0.45"/><circle cx="518.08" cy="302.91" r="0.95" fill="#c0a4e4" fill-opacity="0.7" stroke="#c0a4e4" stroke-width="0.45"/><circle cx="520.49" cy="303.03" r="0.95" fill="#c0a4e4" fill-opacity="0.7" stroke="#c0a4e4" stroke-width="0.45"/><circle cx="522.31" cy="303.04" r="0.95" fill="#f2c898" fill-opacity="0.7" stroke="#f2c898" stroke-width="0.45"/><circle cx="484.09" cy="304.48" r="0.95" fill="#8ca6ea" fill-opacity="0.7" stroke="#8ca6ea" stroke-width="0.45"/><circle cx="486.33" cy="304.80" r="0.95" fill="#e88aa0" fill-opacity="0.7" stroke="#e88aa0" stroke-width="0.45"/><circle cx="488.17" cy="304.61" r="0.95" fill="#8ca6ea" fill-opacity="0.7" stroke="#8ca6ea" stroke-width="0.45"/><circle cx="490.90" cy="304.83" r="0.95" fill="#e88aa0" fill-opacity="0.7" stroke="#e88aa0" stroke-width="0.45"/><circle cx="492.40" cy="304.37" r="0.95" fill="#8ca6ea" fill-opacity="0.7" stroke="#8ca6ea" stroke-width="0.45"/><circle cx="495.07" cy="304.38" r="0.95" fill="#a994dc" fill-opacity="0.7" stroke="#a994dc" stroke-width="0.45"/><circle cx="497.26" cy="304.62" r="0.95" fill="#7ccfca" fill-opacity="0.7" stroke="#7ccfca" stroke-width="0.45"/><circle cx="499.39" cy="304.60" r="0.95" fill="#7ccfca" fill-opacity="0.7" stroke="#7ccfca" stroke-width="0.45"/><circle cx="501.15" cy="304.44" r="0.95" fill="#8ca6ea" fill-opacity="0.7" stroke="#8ca6ea" stroke-width="0.45"/><circle cx="503.83" cy="304.87" r="0.95" fill="#a994dc" fill-opacity="0.7" stroke="#a994dc" stroke-width="0.45"/><circle cx="505.55" cy="304.73" r="0.95" fill="#9cbcf0" fill-opacity="0.7" stroke="#9cbcf0" stroke-width="0.45"/><circle cx="508.40" cy="304.38" r="0.95" fill="#9cbcf0" fill-opacity="0.7" stroke="#9cbcf0" stroke-width="0.45"/><circle cx="509.97" cy="304.82" r="0.95" fill="#c0a4e4" fill-opacity="0.7" stroke="#c0a4e4" stroke-width="0.45"/><circle cx="512.49" cy="305.02" r="0.95" fill="#e0707e" fill-opacity="0.7" stroke="#e0707e" stroke-width="0.45"/><circle cx="515.03" cy="304.38" r="0.95" fill="#a994dc" fill-opacity="0.7" stroke="#a994dc" stroke-width="0.45"/><circle cx="516.62" cy="304.78" r="0.95" fill="#a994dc" fill-opacity="0.7" stroke="#a994dc" stroke-width="0.45"/><circle cx="519.43" cy="304.71" r="0.95" fill="#f2c898" fill-opacity="0.7" stroke="#f2c898" stroke-width="0.45"/><circle cx="521.11" cy="304.71" r="0.95" fill="#a994dc" fill-opacity="0.7" stroke="#a994dc" stroke-width="0.45"/><circle cx="523.77" cy="304.50" r="0.95" fill="#7ccfca" fill-opacity="0.7" stroke="#7ccfca" stroke-width="0.45"/><circle cx="480.97" cy="306.27" r="0.95" fill="#e88aa0" fill-opacity="0.7" stroke="#e88aa0" stroke-width="0.45"/><circle cx="482.83" cy="306.49" r="0.95" fill="#7ccfca" fill-opacity="0.7" stroke="#7ccfca" stroke-width="0.45"/><circle cx="485.36" cy="306.53" r="0.95" fill="#f2c898" fill-opacity="0.7" stroke="#f2c898" stroke-width="0.45"/><circle cx="487.40" cy="306.25" r="0.95" fill="#c0a4e4" fill-opacity="0.7" stroke="#c0a4e4" stroke-width="0.45"/><circle cx="489.66" cy="306.30" r="0.95" fill="#9cbcf0" fill-opacity="0.7" stroke="#9cbcf0" stroke-width="0.45"/><circle cx="491.48" cy="306.37" r="0.95" fill="#e0707e" fill-opacity="0.7" stroke="#e0707e" stroke-width="0.45"/><circle cx="494.14" cy="306.75" r="0.95" fill="#9cbcf0" fill-opacity="0.7" stroke="#9cbcf0" stroke-width="0.45"/><circle cx="495.90" cy="306.76" r="0.95" fill="#e0707e" fill-opacity="0.7" stroke="#e0707e" stroke-width="0.45"/><circle cx="498.32" cy="306.83" r="0.95" fill="#9cbcf0" fill-opacity="0.7" stroke="#9cbcf0" stroke-width="0.45"/><circle cx="500.77" cy="306.47" r="0.95" fill="#e88aa0" fill-opacity="0.7" stroke="#e88aa0" stroke-width="0.45"/><circle cx="502.67" cy="306.64" r="0.95" fill="#7ccfca" fill-opacity="0.7" stroke="#7ccfca" stroke-width="0.45"/><circle cx="504.72" cy="306.26" r="0.95" fill="#e88aa0" fill-opacity="0.7" stroke="#e88aa0" stroke-width="0.45"/><circle cx="506.75" cy="306.34" r="0.95" fill="#c0a4e4" fill-opacity="0.7" stroke="#c0a4e4" stroke-width="0.45"/><circle cx="509.51" cy="306.57" r="0.95" fill="#e0707e" fill-opacity="0.7" stroke="#e0707e" stroke-width="0.45"/><circle cx="511.00" cy="306.56" r="0.95" fill="#9cbcf0" fill-opacity="0.7" stroke="#9cbcf0" stroke-width="0.45"/><circle cx="513.46" cy="306.55" r="0.95" fill="#f2c898" fill-opacity="0.7" stroke="#f2c898" stroke-width="0.45"/><circle cx="515.52" cy="306.31" r="0.95" fill="#e0707e" fill-opacity="0.7" stroke="#e0707e" stroke-width="0.45"/><circle cx="518.30" cy="306.88" r="0.95" fill="#c0a4e4" fill-opacity="0.7" stroke="#c0a4e4" stroke-width="0.45"/><circle cx="519.92" cy="306.39" r="0.95" fill="#a994dc" fill-opacity="0.7" stroke="#a994dc" stroke-width="0.45"/><circle cx="522.65" cy="306.78" r="0.95" fill="#f2c898" fill-opacity="0.7" stroke="#f2c898" stroke-width="0.45"/><circle cx="524.23" cy="306.90" r="0.95" fill="#e0707e" fill-opacity="0.7" stroke="#e0707e" stroke-width="0.45"/><circle cx="479.23" cy="308.26" r="0.95" fill="#e88aa0" fill-opacity="0.7" stroke="#e88aa0" stroke-width="0.45"/><circle cx="481.76" cy="308.62" r="0.95" fill="#9cbcf0" fill-opacity="0.7" stroke="#9cbcf0" stroke-width="0.45"/><circle cx="484.23" cy="308.66" r="0.95" fill="#a994dc" fill-opacity="0.7" stroke="#a994dc" stroke-width="0.45"/><circle cx="485.85" cy="308.39" r="0.95" fill="#8ca6ea" fill-opacity="0.7" stroke="#8ca6ea" stroke-width="0.45"/><circle cx="488.49" cy="308.67" r="0.95" fill="#7ccfca" fill-opacity="0.7" stroke="#7ccfca" stroke-width="0.45"/><circle cx="490.72" cy="308.24" r="0.95" fill="#f2c898" fill-opacity="0.7" stroke="#f2c898" stroke-width="0.45"/><circle cx="493.05" cy="308.61" r="0.95" fill="#9cbcf0" fill-opacity="0.7" stroke="#9cbcf0" stroke-width="0.45"/><circle cx="495.08" cy="308.31" r="0.95" fill="#c0a4e4" fill-opacity="0.7" stroke="#c0a4e4" stroke-width="0.45"/><circle cx="496.75" cy="308.72" r="0.95" fill="#9cbcf0" fill-opacity="0.7" stroke="#9cbcf0" stroke-width="0.45"/><circle cx="499.04" cy="308.12" r="0.95" fill="#e0707e" fill-opacity="0.7" stroke="#e0707e" stroke-width="0.45"/><circle cx="501.85" cy="308.67" r="0.95" fill="#f2c898" fill-opacity="0.7" stroke="#f2c898" stroke-width="0.45"/><circle cx="504.02" cy="308.49" r="0.95" fill="#c0a4e4" fill-opacity="0.7" stroke="#c0a4e4" stroke-width="0.45"/><circle cx="505.54" cy="308.29" r="0.95" fill="#e88aa0" fill-opacity="0.7" stroke="#e88aa0" stroke-width="0.45"/><circle cx="508.10" cy="308.72" r="0.95" fill="#e88aa0" fill-opacity="0.7" stroke="#e88aa0" stroke-width="0.45"/><circle cx="510.10" cy="308.42" r="0.95" fill="#a994dc" fill-opacity="0.7" stroke="#a994dc" stroke-width="0.45"/><circle cx="512.61" cy="308.80" r="0.95" fill="#f2c898" fill-opacity="0.7" stroke="#f2c898" stroke-width="0.45"/><circle cx="514.44" cy="308.50" r="0.95" fill="#9cbcf0" fill-opacity="0.7" stroke="#9cbcf0" stroke-width="0.45"/><circle cx="516.65" cy="308.28" r="0.95" fill="#e0707e" fill-opacity="0.7" stroke="#e0707e" stroke-width="0.45"/><circle cx="519.33" cy="308.17" r="0.95" fill="#7ccfca" fill-opacity="0.7" stroke="#7ccfca" stroke-width="0.45"/><circle cx="521.38" cy="308.78" r="0.95" fill="#f2c898" fill-opacity="0.7" stroke="#f2c898" stroke-width="0.45"/><circle cx="523.60" cy="308.45" r="0.95" fill="#e0707e" fill-opacity="0.7" stroke="#e0707e" stroke-width="0.45"/><circle cx="525.69" cy="308.56" r="0.95" fill="#9cbcf0" fill-opacity="0.7" stroke="#9cbcf0" stroke-width="0.45"/><circle cx="478.62" cy="310.22" r="0.95" fill="#9cbcf0" fill-opacity="0.7" stroke="#9cbcf0" stroke-width="0.45"/><circle cx="480.45" cy="310.12" r="0.95" fill="#8ca6ea" fill-opacity="0.7" stroke="#8ca6ea" stroke-width="0.45"/><circle cx="482.78" cy="310.57" r="0.95" fill="#9cbcf0" fill-opacity="0.7" stroke="#9cbcf0" stroke-width="0.45"/><circle cx="485.37" cy="310.55" r="0.95" fill="#a994dc" fill-opacity="0.7" stroke="#a994dc" stroke-width="0.45"/><circle cx="486.85" cy="310.57" r="0.95" fill="#e88aa0" fill-opacity="0.7" stroke="#e88aa0" stroke-width="0.45"/><circle cx="489.56" cy="310.65" r="0.95" fill="#e0707e" fill-opacity="0.7" stroke="#e0707e" stroke-width="0.45"/><circle cx="491.91" cy="310.07" r="0.95" fill="#e0707e" fill-opacity="0.7" stroke="#e0707e" stroke-width="0.45"/><circle cx="493.70" cy="310.63" r="0.95" fill="#e88aa0" fill-opacity="0.7" stroke="#e88aa0" stroke-width="0.45"/><circle cx="496.32" cy="310.54" r="0.95" fill="#7ccfca" fill-opacity="0.7" stroke="#7ccfca" stroke-width="0.45"/><circle cx="498.26" cy="310.37" r="0.95" fill="#e88aa0" fill-opacity="0.7" stroke="#e88aa0" stroke-width="0.45"/><circle cx="500.58" cy="310.57" r="0.95" fill="#a994dc" fill-opacity="0.7" stroke="#a994dc" stroke-width="0.45"/><circle cx="502.29" cy="310.66" r="0.95" fill="#7ccfca" fill-opacity="0.7" stroke="#7ccfca" stroke-width="0.45"/><circle cx="504.66" cy="310.26" r="0.95" fill="#7ccfca" fill-opacity="0.7" stroke="#7ccfca" stroke-width="0.45"/><circle cx="506.81" cy="310.55" r="0.95" fill="#a994dc" fill-opacity="0.7" stroke="#a994dc" stroke-width="0.45"/><circle cx="508.83" cy="310.45" r="0.95" fill="#e88aa0" fill-opacity="0.7" stroke="#e88aa0" stroke-width="0.45"/><circle cx="511.02" cy="310.05" r="0.95" fill="#7ccfca" fill-opacity="0.7" stroke="#7ccfca" stroke-width="0.45"/><circle cx="513.86" cy="310.36" r="0.95" fill="#a994dc" fill-opacity="0.7" stroke="#a994dc" stroke-width="0.45"/><circle cx="516.16" cy="310.50" r="0.95" fill="#f2c898" fill-opacity="0.7" stroke="#f2c898" stroke-width="0.45"/><circle cx="518.02" cy="310.11" r="0.95" fill="#f2c898" fill-opacity="0.7" stroke="#f2c898" stroke-width="0.45"/><circle cx="520.06" cy="310.02" r="0.95" fill="#7ccfca" fill-opacity="0.7" stroke="#7ccfca" stroke-width="0.45"/><circle cx="522.58" cy="310.09" r="0.95" fill="#7ccfca" fill-opacity="0.7" stroke="#7ccfca" stroke-width="0.45"/><circle cx="524.70" cy="310.13" r="0.95" fill="#9cbcf0" fill-opacity="0.7" stroke="#9cbcf0" stroke-width="0.45"/><circle cx="527.04" cy="310.11" r="0.95" fill="#e0707e" fill-opacity="0.7" stroke="#e0707e" stroke-width="0.45"/><circle cx="477.29" cy="311.93" r="0.95" fill="#7ccfca" fill-opacity="0.7" stroke="#7ccfca" stroke-width="0.45"/><circle cx="479.75" cy="312.26" r="0.95" fill="#e88aa0" fill-opacity="0.7" stroke="#e88aa0" stroke-width="0.45"/><circle cx="481.47" cy="311.93" r="0.95" fill="#f2c898" fill-opacity="0.7" stroke="#f2c898" stroke-width="0.45"/><circle cx="483.89" cy="312.63" r="0.95" fill="#9cbcf0" fill-opacity="0.7" stroke="#9cbcf0" stroke-width="0.45"/><circle cx="486.07" cy="312.09" r="0.95" fill="#f2c898" fill-opacity="0.7" stroke="#f2c898" stroke-width="0.45"/><circle cx="488.14" cy="312.34" r="0.95" fill="#f2c898" fill-opacity="0.7" stroke="#f2c898" stroke-width="0.45"/><circle cx="490.39" cy="312.57" r="0.95" fill="#e88aa0" fill-opacity="0.7" stroke="#e88aa0" stroke-width="0.45"/><circle cx="492.79" cy="312.25" r="0.95" fill="#7ccfca" fill-opacity="0.7" stroke="#7ccfca" stroke-width="0.45"/><circle cx="494.61" cy="312.12" r="0.95" fill="#9cbcf0" fill-opacity="0.7" stroke="#9cbcf0" stroke-width="0.45"/><circle cx="496.73" cy="312.06" r="0.95" fill="#8ca6ea" fill-opacity="0.7" stroke="#8ca6ea" stroke-width="0.45"/><circle cx="499.50" cy="312.15" r="0.95" fill="#f2c898" fill-opacity="0.7" stroke="#f2c898" stroke-width="0.45"/><circle cx="501.74" cy="312.53" r="0.95" fill="#c0a4e4" fill-opacity="0.7" stroke="#c0a4e4" stroke-width="0.45"/><circle cx="503.85" cy="312.62" r="0.95" fill="#8ca6ea" fill-opacity="0.7" stroke="#8ca6ea" stroke-width="0.45"/><circle cx="506.14" cy="312.23" r="0.95" fill="#e88aa0" fill-opacity="0.7" stroke="#e88aa0" stroke-width="0.45"/><circle cx="507.78" cy="312.41" r="0.95" fill="#7ccfca" fill-opacity="0.7" stroke="#7ccfca" stroke-width="0.45"/><circle cx="510.55" cy="311.94" r="0.95" fill="#e88aa0" fill-opacity="0.7" stroke="#e88aa0" stroke-width="0.45"/><circle cx="512.59" cy="312.34" r="0.95" fill="#c0a4e4" fill-opacity="0.7" stroke="#c0a4e4" stroke-width="0.45"/><circle cx="514.74" cy="312.48" r="0.95" fill="#c0a4e4" fill-opacity="0.7" stroke="#c0a4e4" stroke-width="0.45"/><circle cx="517.29" cy="312.58" r="0.95" fill="#e88aa0" fill-opacity="0.7" stroke="#e88aa0" stroke-width="0.45"/><circle cx="519.13" cy="312.56" r="0.95" fill="#e0707e" fill-opacity="0.7" stroke="#e0707e" stroke-width="0.45"/><circle cx="521.67" cy="311.94" r="0.95" fill="#f2c898" fill-opacity="0.7" stroke="#f2c898" stroke-width="0.45"/><circle cx="523.33" cy="311.99" r="0.95" fill="#8ca6ea" fill-opacity="0.7" stroke="#8ca6ea" stroke-width="0.45"/><circle cx="525.92" cy="312.41" r="0.95" fill="#9cbcf0" fill-opacity="0.7" stroke="#9cbcf0" stroke-width="0.45"/><circle cx="527.75" cy="312.67" r="0.95" fill="#a994dc" fill-opacity="0.7" stroke="#a994dc" stroke-width="0.45"/><circle cx="476.08" cy="314.48" r="0.95" fill="#f2c898" fill-opacity="0.7" stroke="#f2c898" stroke-width="0.45"/><circle cx="478.39" cy="313.91" r="0.95" fill="#8ca6ea" fill-opacity="0.7" stroke="#8ca6ea" stroke-width="0.45"/><circle cx="480.39" cy="314.62" r="0.95" fill="#9cbcf0" fill-opacity="0.7" stroke="#9cbcf0" stroke-width="0.45"/><circle cx="482.71" cy="313.84" r="0.95" fill="#9cbcf0" fill-opacity="0.7" stroke="#9cbcf0" stroke-width="0.45"/><circle cx="484.90" cy="314.44" r="0.95" fill="#f2c898" fill-opacity="0.7" stroke="#f2c898" stroke-width="0.45"/><circle cx="487.53" cy="314.33" r="0.95" fill="#9cbcf0" fill-opacity="0.7" stroke="#9cbcf0" stroke-width="0.45"/><circle cx="489.26" cy="314.51" r="0.95" fill="#e0707e" fill-opacity="0.7" stroke="#e0707e" stroke-width="0.45"/><circle cx="491.40" cy="313.92" r="0.95" fill="#a994dc" fill-opacity="0.7" stroke="#a994dc" stroke-width="0.45"/><circle cx="493.64" cy="314.05" r="0.95" fill="#8ca6ea" fill-opacity="0.7" stroke="#8ca6ea" stroke-width="0.45"/><circle cx="496.32" cy="313.97" r="0.95" fill="#9cbcf0" fill-opacity="0.7" stroke="#9cbcf0" stroke-width="0.45"/><circle cx="498.41" cy="314.02" r="0.95" fill="#8ca6ea" fill-opacity="0.7" stroke="#8ca6ea" stroke-width="0.45"/><circle cx="500.46" cy="314.34" r="0.95" fill="#9cbcf0" fill-opacity="0.7" stroke="#9cbcf0" stroke-width="0.45"/><circle cx="502.53" cy="314.18" r="0.95" fill="#f2c898" fill-opacity="0.7" stroke="#f2c898" stroke-width="0.45"/><circle cx="504.64" cy="314.06" r="0.95" fill="#e0707e" fill-opacity="0.7" stroke="#e0707e" stroke-width="0.45"/><circle cx="506.75" cy="313.86" r="0.95" fill="#8ca6ea" fill-opacity="0.7" stroke="#8ca6ea" stroke-width="0.45"/><circle cx="509.04" cy="314.28" r="0.95" fill="#7ccfca" fill-opacity="0.7" stroke="#7ccfca" stroke-width="0.45"/><circle cx="511.35" cy="314.10" r="0.95" fill="#8ca6ea" fill-opacity="0.7" stroke="#8ca6ea" stroke-width="0.45"/><circle cx="513.72" cy="314.39" r="0.95" fill="#8ca6ea" fill-opacity="0.7" stroke="#8ca6ea" stroke-width="0.45"/><circle cx="515.45" cy="314.23" r="0.95" fill="#8ca6ea" fill-opacity="0.7" stroke="#8ca6ea" stroke-width="0.45"/><circle cx="517.85" cy="314.52" r="0.95" fill="#9cbcf0" fill-opacity="0.7" stroke="#9cbcf0" stroke-width="0.45"/><circle cx="520.54" cy="314.02" r="0.95" fill="#c0a4e4" fill-opacity="0.7" stroke="#c0a4e4" stroke-width="0.45"/><circle cx="522.67" cy="313.84" r="0.95" fill="#7ccfca" fill-opacity="0.7" stroke="#7ccfca" stroke-width="0.45"/><circle cx="524.29" cy="314.11" r="0.95" fill="#e0707e" fill-opacity="0.7" stroke="#e0707e" stroke-width="0.45"/><circle cx="526.89" cy="313.92" r="0.95" fill="#c0a4e4" fill-opacity="0.7" stroke="#c0a4e4" stroke-width="0.45"/><circle cx="529.19" cy="314.49" r="0.95" fill="#7ccfca" fill-opacity="0.7" stroke="#7ccfca" stroke-width="0.45"/><circle cx="475.47" cy="315.84" r="0.95" fill="#8ca6ea" fill-opacity="0.7" stroke="#8ca6ea" stroke-width="0.45"/><circle cx="477.55" cy="315.91" r="0.95" fill="#e0707e" fill-opacity="0.7" stroke="#e0707e" stroke-width="0.45"/><circle cx="479.40" cy="316.12" r="0.95" fill="#8ca6ea" fill-opacity="0.7" stroke="#8ca6ea" stroke-width="0.45"/><circle cx="481.50" cy="316.51" r="0.95" fill="#c0a4e4" fill-opacity="0.7" stroke="#c0a4e4" stroke-width="0.45"/><circle cx="483.80" cy="315.85" r="0.95" fill="#e0707e" fill-opacity="0.7" stroke="#e0707e" stroke-width="0.45"/><circle cx="485.81" cy="315.76" r="0.95" fill="#9cbcf0" fill-opacity="0.7" stroke="#9cbcf0" stroke-width="0.45"/><circle cx="488.67" cy="316.51" r="0.95" fill="#8ca6ea" fill-opacity="0.7" stroke="#8ca6ea" stroke-width="0.45"/><circle cx="490.49" cy="316.50" r="0.95" fill="#a994dc" fill-opacity="0.7" stroke="#a994dc" stroke-width="0.45"/><circle cx="492.31" cy="316.40" r="0.95" fill="#e0707e" fill-opacity="0.7" stroke="#e0707e" stroke-width="0.45"/><circle cx="495.10" cy="315.91" r="0.95" fill="#e0707e" fill-opacity="0.7" stroke="#e0707e" stroke-width="0.45"/><circle cx="497.01" cy="315.99" r="0.95" fill="#c0a4e4" fill-opacity="0.7" stroke="#c0a4e4" stroke-width="0.45"/><circle cx="499.41" cy="316.37" r="0.95" fill="#8ca6ea" fill-opacity="0.7" stroke="#8ca6ea" stroke-width="0.45"/><circle cx="501.56" cy="315.99" r="0.95" fill="#e0707e" fill-opacity="0.7" stroke="#e0707e" stroke-width="0.45"/><circle cx="504.05" cy="315.80" r="0.95" fill="#9cbcf0" fill-opacity="0.7" stroke="#9cbcf0" stroke-width="0.45"/><circle cx="505.54" cy="316.09" r="0.95" fill="#f2c898" fill-opacity="0.7" stroke="#f2c898" stroke-width="0.45"/><circle cx="507.92" cy="316.33" r="0.95" fill="#7ccfca" fill-opacity="0.7" stroke="#7ccfca" stroke-width="0.45"/><circle cx="510.12" cy="315.83" r="0.95" fill="#c0a4e4" fill-opacity="0.7" stroke="#c0a4e4" stroke-width="0.45"/><circle cx="512.45" cy="315.90" r="0.95" fill="#9cbcf0" fill-opacity="0.7" stroke="#9cbcf0" stroke-width="0.45"/><circle cx="514.98" cy="315.95" r="0.95" fill="#c0a4e4" fill-opacity="0.7" stroke="#c0a4e4" stroke-width="0.45"/><circle cx="516.78" cy="316.40" r="0.95" fill="#e88aa0" fill-opacity="0.7" stroke="#e88aa0" stroke-width="0.45"/><circle cx="519.35" cy="315.87" r="0.95" fill="#e88aa0" fill-opacity="0.7" stroke="#e88aa0" stroke-width="0.45"/><circle cx="520.92" cy="316.20" r="0.95" fill="#9cbcf0" fill-opacity="0.7" stroke="#9cbcf0" stroke-width="0.45"/><circle cx="523.79" cy="315.82" r="0.95" fill="#f2c898" fill-opacity="0.7" stroke="#f2c898" stroke-width="0.45"/><circle cx="525.46" cy="316.40" r="0.95" fill="#e88aa0" fill-opacity="0.7" stroke="#e88aa0" stroke-width="0.45"/><circle cx="527.88" cy="315.82" r="0.95" fill="#a994dc" fill-opacity="0.7" stroke="#a994dc" stroke-width="0.45"/><circle cx="530.18" cy="316.43" r="0.95" fill="#c0a4e4" fill-opacity="0.7" stroke="#c0a4e4" stroke-width="0.45"/><circle cx="476.15" cy="318.14" r="0.95" fill="#e88aa0" fill-opacity="0.7" stroke="#e88aa0" stroke-width="0.45"/><circle cx="478.17" cy="318.01" r="0.95" fill="#9cbcf0" fill-opacity="0.7" stroke="#9cbcf0" stroke-width="0.45"/><circle cx="480.85" cy="318.33" r="0.95" fill="#9cbcf0" fill-opacity="0.7" stroke="#9cbcf0" stroke-width="0.45"/><circle cx="483.13" cy="317.97" r="0.95" fill="#7ccfca" fill-opacity="0.7" stroke="#7ccfca" stroke-width="0.45"/><circle cx="485.31" cy="317.79" r="0.95" fill="#f2c898" fill-opacity="0.7" stroke="#f2c898" stroke-width="0.45"/><circle cx="487.14" cy="318.45" r="0.95" fill="#e0707e" fill-opacity="0.7" stroke="#e0707e" stroke-width="0.45"/><circle cx="489.17" cy="318.01" r="0.95" fill="#a994dc" fill-opacity="0.7" stroke="#a994dc" stroke-width="0.45"/><circle cx="491.31" cy="317.96" r="0.95" fill="#e88aa0" fill-opacity="0.7" stroke="#e88aa0" stroke-width="0.45"/><circle cx="493.93" cy="317.77" r="0.95" fill="#7ccfca" fill-opacity="0.7" stroke="#7ccfca" stroke-width="0.45"/><circle cx="496.21" cy="317.73" r="0.95" fill="#9cbcf0" fill-opacity="0.7" stroke="#9cbcf0" stroke-width="0.45"/><circle cx="497.83" cy="318.00" r="0.95" fill="#7ccfca" fill-opacity="0.7" stroke="#7ccfca" stroke-width="0.45"/><circle cx="500.16" cy="317.68" r="0.95" fill="#c0a4e4" fill-opacity="0.7" stroke="#c0a4e4" stroke-width="0.45"/><circle cx="502.97" cy="318.15" r="0.95" fill="#7ccfca" fill-opacity="0.7" stroke="#7ccfca" stroke-width="0.45"/><circle cx="504.77" cy="317.73" r="0.95" fill="#e0707e" fill-opacity="0.7" stroke="#e0707e" stroke-width="0.45"/><circle cx="507.35" cy="317.69" r="0.95" fill="#7ccfca" fill-opacity="0.7" stroke="#7ccfca" stroke-width="0.45"/><circle cx="509.45" cy="317.74" r="0.95" fill="#7ccfca" fill-opacity="0.7" stroke="#7ccfca" stroke-width="0.45"/><circle cx="511.60" cy="317.97" r="0.95" fill="#f2c898" fill-opacity="0.7" stroke="#f2c898" stroke-width="0.45"/><circle cx="513.32" cy="318.08" r="0.95" fill="#8ca6ea" fill-opacity="0.7" stroke="#8ca6ea" stroke-width="0.45"/><circle cx="515.63" cy="317.75" r="0.95" fill="#9cbcf0" fill-opacity="0.7" stroke="#9cbcf0" stroke-width="0.45"/><circle cx="517.90" cy="317.96" r="0.95" fill="#c0a4e4" fill-opacity="0.7" stroke="#c0a4e4" stroke-width="0.45"/><circle cx="520.24" cy="318.02" r="0.95" fill="#f2c898" fill-opacity="0.7" stroke="#f2c898" stroke-width="0.45"/><circle cx="522.77" cy="317.78" r="0.95" fill="#e88aa0" fill-opacity="0.7" stroke="#e88aa0" stroke-width="0.45"/><circle cx="524.64" cy="318.25" r="0.95" fill="#7ccfca" fill-opacity="0.7" stroke="#7ccfca" stroke-width="0.45"/><circle cx="526.59" cy="318.20" r="0.95" fill="#e88aa0" fill-opacity="0.7" stroke="#e88aa0" stroke-width="0.45"/><circle cx="528.61" cy="318.28" r="0.95" fill="#9cbcf0" fill-opacity="0.7" stroke="#9cbcf0" stroke-width="0.45"/><circle cx="530.99" cy="318.24" r="0.95" fill="#f2c898" fill-opacity="0.7" stroke="#f2c898" stroke-width="0.45"/><circle cx="475.10" cy="319.61" r="0.95" fill="#9cbcf0" fill-opacity="0.7" stroke="#9cbcf0" stroke-width="0.45"/><circle cx="477.61" cy="320.20" r="0.95" fill="#a994dc" fill-opacity="0.7" stroke="#a994dc" stroke-width="0.45"/><circle cx="479.45" cy="319.66" r="0.95" fill="#8ca6ea" fill-opacity="0.7" stroke="#8ca6ea" stroke-width="0.45"/><circle cx="482.04" cy="319.88" r="0.95" fill="#a994dc" fill-opacity="0.7" stroke="#a994dc" stroke-width="0.45"/><circle cx="484.07" cy="320.33" r="0.95" fill="#9cbcf0" fill-opacity="0.7" stroke="#9cbcf0" stroke-width="0.45"/><circle cx="486.49" cy="319.82" r="0.95" fill="#7ccfca" fill-opacity="0.7" stroke="#7ccfca" stroke-width="0.45"/><circle cx="488.37" cy="320.13" r="0.95" fill="#c0a4e4" fill-opacity="0.7" stroke="#c0a4e4" stroke-width="0.45"/><circle cx="490.14" cy="319.75" r="0.95" fill="#9cbcf0" fill-opacity="0.7" stroke="#9cbcf0" stroke-width="0.45"/><circle cx="492.38" cy="319.99" r="0.95" fill="#e0707e" fill-opacity="0.7" stroke="#e0707e" stroke-width="0.45"/><circle cx="495.16" cy="319.69" r="0.95" fill="#e0707e" fill-opacity="0.7" stroke="#e0707e" stroke-width="0.45"/><circle cx="496.75" cy="319.59" r="0.95" fill="#f2c898" fill-opacity="0.7" stroke="#f2c898" stroke-width="0.45"/><circle cx="499.35" cy="319.62" r="0.95" fill="#8ca6ea" fill-opacity="0.7" stroke="#8ca6ea" stroke-width="0.45"/><circle cx="501.19" cy="320.29" r="0.95" fill="#e0707e" fill-opacity="0.7" stroke="#e0707e" stroke-width="0.45"/><circle cx="504.07" cy="319.79" r="0.95" fill="#a994dc" fill-opacity="0.7" stroke="#a994dc" stroke-width="0.45"/><circle cx="505.89" cy="319.70" r="0.95" fill="#8ca6ea" fill-opacity="0.7" stroke="#8ca6ea" stroke-width="0.45"/><circle cx="507.91" cy="320.25" r="0.95" fill="#a994dc" fill-opacity="0.7" stroke="#a994dc" stroke-width="0.45"/><circle cx="510.21" cy="320.09" r="0.95" fill="#f2c898" fill-opacity="0.7" stroke="#f2c898" stroke-width="0.45"/><circle cx="512.66" cy="320.06" r="0.95" fill="#c0a4e4" fill-opacity="0.7" stroke="#c0a4e4" stroke-width="0.45"/><circle cx="515.03" cy="320.25" r="0.95" fill="#7ccfca" fill-opacity="0.7" stroke="#7ccfca" stroke-width="0.45"/><circle cx="516.95" cy="320.30" r="0.95" fill="#e0707e" fill-opacity="0.7" stroke="#e0707e" stroke-width="0.45"/><circle cx="519.15" cy="319.59" r="0.95" fill="#e88aa0" fill-opacity="0.7" stroke="#e88aa0" stroke-width="0.45"/><circle cx="521.45" cy="320.07" r="0.95" fill="#e88aa0" fill-opacity="0.7" stroke="#e88aa0" stroke-width="0.45"/><circle cx="523.12" cy="319.91" r="0.95" fill="#9cbcf0" fill-opacity="0.7" stroke="#9cbcf0" stroke-width="0.45"/><circle cx="525.88" cy="320.07" r="0.95" fill="#f2c898" fill-opacity="0.7" stroke="#f2c898" stroke-width="0.45"/><circle cx="527.93" cy="320.14" r="0.95" fill="#8ca6ea" fill-opacity="0.7" stroke="#8ca6ea" stroke-width="0.45"/><circle cx="530.28" cy="320.06" r="0.95" fill="#e88aa0" fill-opacity="0.7" stroke="#e88aa0" stroke-width="0.45"/><circle cx="474.12" cy="322.21" r="0.95" fill="#8ca6ea" fill-opacity="0.7" stroke="#8ca6ea" stroke-width="0.45"/><circle cx="476.57" cy="322.04" r="0.95" fill="#a994dc" fill-opacity="0.7" stroke="#a994dc" stroke-width="0.45"/><circle cx="478.10" cy="322.10" r="0.95" fill="#a994dc" fill-opacity="0.7" stroke="#a994dc" stroke-width="0.45"/><circle cx="480.56" cy="321.74" r="0.95" fill="#e0707e" fill-opacity="0.7" stroke="#e0707e" stroke-width="0.45"/><circle cx="482.81" cy="322.22" r="0.95" fill="#c0a4e4" fill-opacity="0.7" stroke="#c0a4e4" stroke-width="0.45"/><circle cx="484.90" cy="322.02" r="0.95" fill="#a994dc" fill-opacity="0.7" stroke="#a994dc" stroke-width="0.45"/><circle cx="487.05" cy="321.99" r="0.95" fill="#c0a4e4" fill-opacity="0.7" stroke="#c0a4e4" stroke-width="0.45"/><circle cx="489.07" cy="321.78" r="0.95" fill="#8ca6ea" fill-opacity="0.7" stroke="#8ca6ea" stroke-width="0.45"/><circle cx="491.71" cy="321.85" r="0.95" fill="#9cbcf0" fill-opacity="0.7" stroke="#9cbcf0" stroke-width="0.45"/><circle cx="493.54" cy="321.61" r="0.95" fill="#c0a4e4" fill-opacity="0.7" stroke="#c0a4e4" stroke-width="0.45"/><circle cx="495.74" cy="321.90" r="0.95" fill="#e0707e" fill-opacity="0.7" stroke="#e0707e" stroke-width="0.45"/><circle cx="498.53" cy="321.61" r="0.95" fill="#a994dc" fill-opacity="0.7" stroke="#a994dc" stroke-width="0.45"/><circle cx="500.45" cy="321.90" r="0.95" fill="#f2c898" fill-opacity="0.7" stroke="#f2c898" stroke-width="0.45"/><circle cx="502.64" cy="322.03" r="0.95" fill="#9cbcf0" fill-opacity="0.7" stroke="#9cbcf0" stroke-width="0.45"/><circle cx="504.84" cy="321.70" r="0.95" fill="#e0707e" fill-opacity="0.7" stroke="#e0707e" stroke-width="0.45"/><circle cx="506.83" cy="321.58" r="0.95" fill="#a994dc" fill-opacity="0.7" stroke="#a994dc" stroke-width="0.45"/><circle cx="509.14" cy="322.17" r="0.95" fill="#a994dc" fill-opacity="0.7" stroke="#a994dc" stroke-width="0.45"/><circle cx="511.39" cy="322.06" r="0.95" fill="#8ca6ea" fill-opacity="0.7" stroke="#8ca6ea" stroke-width="0.45"/><circle cx="513.96" cy="321.59" r="0.95" fill="#8ca6ea" fill-opacity="0.7" stroke="#8ca6ea" stroke-width="0.45"/><circle cx="515.67" cy="321.58" r="0.95" fill="#a994dc" fill-opacity="0.7" stroke="#a994dc" stroke-width="0.45"/><circle cx="518.28" cy="321.96" r="0.95" fill="#e88aa0" fill-opacity="0.7" stroke="#e88aa0" stroke-width="0.45"/><circle cx="520.42" cy="321.93" r="0.95" fill="#7ccfca" fill-opacity="0.7" stroke="#7ccfca" stroke-width="0.45"/><circle cx="522.51" cy="322.08" r="0.95" fill="#a994dc" fill-opacity="0.7" stroke="#a994dc" stroke-width="0.45"/><circle cx="524.28" cy="322.18" r="0.95" fill="#8ca6ea" fill-opacity="0.7" stroke="#8ca6ea" stroke-width="0.45"/><circle cx="526.65" cy="321.73" r="0.95" fill="#e0707e" fill-opacity="0.7" stroke="#e0707e" stroke-width="0.45"/><circle cx="528.93" cy="322.19" r="0.95" fill="#8ca6ea" fill-opacity="0.7" stroke="#8ca6ea" stroke-width="0.45"/><circle cx="475.29" cy="324.18" r="0.95" fill="#9cbcf0" fill-opacity="0.7" stroke="#9cbcf0" stroke-width="0.45"/><circle cx="476.98" cy="323.74" r="0.95" fill="#f2c898" fill-opacity="0.7" stroke="#f2c898" stroke-width="0.45"/><circle cx="479.44" cy="324.16" r="0.95" fill="#a994dc" fill-opacity="0.7" stroke="#a994dc" stroke-width="0.45"/><circle cx="481.82" cy="323.96" r="0.95" fill="#e0707e" fill-opacity="0.7" stroke="#e0707e" stroke-width="0.45"/><circle cx="484.25" cy="324.17" r="0.95" fill="#c0a4e4" fill-opacity="0.7" stroke="#c0a4e4" stroke-width="0.45"/><circle cx="486.00" cy="323.55" r="0.95" fill="#f2c898" fill-opacity="0.7" stroke="#f2c898" stroke-width="0.45"/><circle cx="487.99" cy="323.84" r="0.95" fill="#8ca6ea" fill-opacity="0.7" stroke="#8ca6ea" stroke-width="0.45"/><circle cx="490.62" cy="323.94" r="0.95" fill="#9cbcf0" fill-opacity="0.7" stroke="#9cbcf0" stroke-width="0.45"/><circle cx="492.65" cy="323.63" r="0.95" fill="#c0a4e4" fill-opacity="0.7" stroke="#c0a4e4" stroke-width="0.45"/><circle cx="495.28" cy="323.75" r="0.95" fill="#f2c898" fill-opacity="0.7" stroke="#f2c898" stroke-width="0.45"/><circle cx="497.41" cy="324.20" r="0.95" fill="#7ccfca" fill-opacity="0.7" stroke="#7ccfca" stroke-width="0.45"/><circle cx="499.21" cy="323.92" r="0.95" fill="#f2c898" fill-opacity="0.7" stroke="#f2c898" stroke-width="0.45"/><circle cx="501.36" cy="324.06" r="0.95" fill="#8ca6ea" fill-opacity="0.7" stroke="#8ca6ea" stroke-width="0.45"/><circle cx="503.41" cy="323.45" r="0.95" fill="#c0a4e4" fill-opacity="0.7" stroke="#c0a4e4" stroke-width="0.45"/><circle cx="505.75" cy="323.85" r="0.95" fill="#a994dc" fill-opacity="0.7" stroke="#a994dc" stroke-width="0.45"/><circle cx="507.93" cy="324.01" r="0.95" fill="#a994dc" fill-opacity="0.7" stroke="#a994dc" stroke-width="0.45"/><circle cx="510.27" cy="323.73" r="0.95" fill="#8ca6ea" fill-opacity="0.7" stroke="#8ca6ea" stroke-width="0.45"/><circle cx="512.21" cy="323.57" r="0.95" fill="#8ca6ea" fill-opacity="0.7" stroke="#8ca6ea" stroke-width="0.45"/><circle cx="514.66" cy="323.60" r="0.95" fill="#f2c898" fill-opacity="0.7" stroke="#f2c898" stroke-width="0.45"/><circle cx="516.63" cy="323.48" r="0.95" fill="#c0a4e4" fill-opacity="0.7" stroke="#c0a4e4" stroke-width="0.45"/><circle cx="518.91" cy="323.78" r="0.95" fill="#7ccfca" fill-opacity="0.7" stroke="#7ccfca" stroke-width="0.45"/><circle cx="521.54" cy="323.80" r="0.95" fill="#a994dc" fill-opacity="0.7" stroke="#a994dc" stroke-width="0.45"/><circle cx="523.56" cy="323.61" r="0.95" fill="#e0707e" fill-opacity="0.7" stroke="#e0707e" stroke-width="0.45"/><circle cx="525.86" cy="323.84" r="0.95" fill="#8ca6ea" fill-opacity="0.7" stroke="#8ca6ea" stroke-width="0.45"/><circle cx="527.67" cy="323.43" r="0.95" fill="#c0a4e4" fill-opacity="0.7" stroke="#c0a4e4" stroke-width="0.45"/><circle cx="473.83" cy="325.59" r="0.95" fill="#a994dc" fill-opacity="0.7" stroke="#a994dc" stroke-width="0.45"/><circle cx="475.91" cy="325.66" r="0.95" fill="#9cbcf0" fill-opacity="0.7" stroke="#9cbcf0" stroke-width="0.45"/><circle cx="478.30" cy="325.94" r="0.95" fill="#a994dc" fill-opacity="0.7" stroke="#a994dc" stroke-width="0.45"/><circle cx="480.72" cy="325.93" r="0.95" fill="#e88aa0" fill-opacity="0.7" stroke="#e88aa0" stroke-width="0.45"/><circle cx="482.40" cy="326.08" r="0.95" fill="#a994dc" fill-opacity="0.7" stroke="#a994dc" stroke-width="0.45"/><circle cx="485.37" cy="325.66" r="0.95" fill="#a994dc" fill-opacity="0.7" stroke="#a994dc" stroke-width="0.45"/><circle cx="487.14" cy="325.99" r="0.95" fill="#c0a4e4" fill-opacity="0.7" stroke="#c0a4e4" stroke-width="0.45"/><circle cx="489.27" cy="325.91" r="0.95" fill="#e0707e" fill-opacity="0.7" stroke="#e0707e" stroke-width="0.45"/><circle cx="491.77" cy="325.82" r="0.95" fill="#e88aa0" fill-opacity="0.7" stroke="#e88aa0" stroke-width="0.45"/><circle cx="493.53" cy="325.72" r="0.95" fill="#e88aa0" fill-opacity="0.7" stroke="#e88aa0" stroke-width="0.45"/><circle cx="496.03" cy="325.71" r="0.95" fill="#c0a4e4" fill-opacity="0.7" stroke="#c0a4e4" stroke-width="0.45"/><circle cx="498.47" cy="325.36" r="0.95" fill="#e88aa0" fill-opacity="0.7" stroke="#e88aa0" stroke-width="0.45"/><circle cx="500.38" cy="325.42" r="0.95" fill="#f2c898" fill-opacity="0.7" stroke="#f2c898" stroke-width="0.45"/><circle cx="502.34" cy="325.46" r="0.95" fill="#f2c898" fill-opacity="0.7" stroke="#f2c898" stroke-width="0.45"/><circle cx="504.93" cy="325.64" r="0.95" fill="#8ca6ea" fill-opacity="0.7" stroke="#8ca6ea" stroke-width="0.45"/><circle cx="506.91" cy="325.84" r="0.95" fill="#f2c898" fill-opacity="0.7" stroke="#f2c898" stroke-width="0.45"/><circle cx="509.32" cy="326.06" r="0.95" fill="#f2c898" fill-opacity="0.7" stroke="#f2c898" stroke-width="0.45"/><circle cx="511.53" cy="325.79" r="0.95" fill="#e0707e" fill-opacity="0.7" stroke="#e0707e" stroke-width="0.45"/><circle cx="513.55" cy="325.57" r="0.95" fill="#8ca6ea" fill-opacity="0.7" stroke="#8ca6ea" stroke-width="0.45"/><circle cx="515.70" cy="325.80" r="0.95" fill="#c0a4e4" fill-opacity="0.7" stroke="#c0a4e4" stroke-width="0.45"/><circle cx="518.23" cy="325.91" r="0.95" fill="#a994dc" fill-opacity="0.7" stroke="#a994dc" stroke-width="0.45"/><circle cx="520.22" cy="325.33" r="0.95" fill="#9cbcf0" fill-opacity="0.7" stroke="#9cbcf0" stroke-width="0.45"/><circle cx="522.05" cy="325.34" r="0.95" fill="#f2c898" fill-opacity="0.7" stroke="#f2c898" stroke-width="0.45"/><circle cx="524.29" cy="325.69" r="0.95" fill="#c0a4e4" fill-opacity="0.7" stroke="#c0a4e4" stroke-width="0.45"/><circle cx="527.12" cy="325.70" r="0.95" fill="#a994dc" fill-opacity="0.7" stroke="#a994dc" stroke-width="0.45"/><circle cx="473.00" cy="327.91" r="0.95" fill="#f2c898" fill-opacity="0.7" stroke="#f2c898" stroke-width="0.45"/><circle cx="474.72" cy="327.95" r="0.95" fill="#f2c898" fill-opacity="0.7" stroke="#f2c898" stroke-width="0.45"/><circle cx="477.67" cy="327.80" r="0.95" fill="#f2c898" fill-opacity="0.7" stroke="#f2c898" stroke-width="0.45"/><circle cx="479.18" cy="327.53" r="0.95" fill="#8ca6ea" fill-opacity="0.7" stroke="#8ca6ea" stroke-width="0.45"/><circle cx="481.44" cy="327.55" r="0.95" fill="#e88aa0" fill-opacity="0.7" stroke="#e88aa0" stroke-width="0.45"/><circle cx="483.84" cy="327.48" r="0.95" fill="#9cbcf0" fill-opacity="0.7" stroke="#9cbcf0" stroke-width="0.45"/><circle cx="486.01" cy="327.86" r="0.95" fill="#8ca6ea" fill-opacity="0.7" stroke="#8ca6ea" stroke-width="0.45"/><circle cx="488.62" cy="327.79" r="0.95" fill="#f2c898" fill-opacity="0.7" stroke="#f2c898" stroke-width="0.45"/><circle cx="490.21" cy="327.96" r="0.95" fill="#7ccfca" fill-opacity="0.7" stroke="#7ccfca" stroke-width="0.45"/><circle cx="492.63" cy="327.26" r="0.95" fill="#c0a4e4" fill-opacity="0.7" stroke="#c0a4e4" stroke-width="0.45"/><circle cx="494.92" cy="327.40" r="0.95" fill="#a994dc" fill-opacity="0.7" stroke="#a994dc" stroke-width="0.45"/><circle cx="497.31" cy="327.93" r="0.95" fill="#9cbcf0" fill-opacity="0.7" stroke="#9cbcf0" stroke-width="0.45"/><circle cx="499.53" cy="327.57" r="0.95" fill="#c0a4e4" fill-opacity="0.7" stroke="#c0a4e4" stroke-width="0.45"/><circle cx="501.69" cy="327.40" r="0.95" fill="#a994dc" fill-opacity="0.7" stroke="#a994dc" stroke-width="0.45"/><circle cx="503.87" cy="327.93" r="0.95" fill="#e88aa0" fill-opacity="0.7" stroke="#e88aa0" stroke-width="0.45"/><circle cx="505.65" cy="327.66" r="0.95" fill="#7ccfca" fill-opacity="0.7" stroke="#7ccfca" stroke-width="0.45"/><circle cx="507.99" cy="327.31" r="0.95" fill="#9cbcf0" fill-opacity="0.7" stroke="#9cbcf0" stroke-width="0.45"/><circle cx="510.19" cy="327.35" r="0.95" fill="#a994dc" fill-opacity="0.7" stroke="#a994dc" stroke-width="0.45"/><circle cx="512.25" cy="327.67" r="0.95" fill="#9cbcf0" fill-opacity="0.7" stroke="#9cbcf0" stroke-width="0.45"/><circle cx="515.06" cy="327.83" r="0.95" fill="#c0a4e4" fill-opacity="0.7" stroke="#c0a4e4" stroke-width="0.45"/><circle cx="517.27" cy="327.91" r="0.95" fill="#e0707e" fill-opacity="0.7" stroke="#e0707e" stroke-width="0.45"/><circle cx="519.28" cy="327.95" r="0.95" fill="#c0a4e4" fill-opacity="0.7" stroke="#c0a4e4" stroke-width="0.45"/><circle cx="521.02" cy="327.24" r="0.95" fill="#e88aa0" fill-opacity="0.7" stroke="#e88aa0" stroke-width="0.45"/><circle cx="523.68" cy="327.53" r="0.95" fill="#c0a4e4" fill-opacity="0.7" stroke="#c0a4e4" stroke-width="0.45"/><circle cx="525.51" cy="327.70" r="0.95" fill="#e0707e" fill-opacity="0.7" stroke="#e0707e" stroke-width="0.45"/><circle cx="473.78" cy="329.39" r="0.95" fill="#8ca6ea" fill-opacity="0.7" stroke="#8ca6ea" stroke-width="0.45"/><circle cx="476.42" cy="329.54" r="0.95" fill="#8ca6ea" fill-opacity="0.7" stroke="#8ca6ea" stroke-width="0.45"/><circle cx="478.53" cy="329.63" r="0.95" fill="#8ca6ea" fill-opacity="0.7" stroke="#8ca6ea" stroke-width="0.45"/><circle cx="480.26" cy="329.41" r="0.95" fill="#7ccfca" fill-opacity="0.7" stroke="#7ccfca" stroke-width="0.45"/><circle cx="482.66" cy="329.84" r="0.95" fill="#e88aa0" fill-opacity="0.7" stroke="#e88aa0" stroke-width="0.45"/><circle cx="484.85" cy="329.69" r="0.95" fill="#8ca6ea" fill-opacity="0.7" stroke="#8ca6ea" stroke-width="0.45"/><circle cx="487.54" cy="329.86" r="0.95" fill="#8ca6ea" fill-opacity="0.7" stroke="#8ca6ea" stroke-width="0.45"/><circle cx="489.03" cy="329.56" r="0.95" fill="#c0a4e4" fill-opacity="0.7" stroke="#c0a4e4" stroke-width="0.45"/><circle cx="491.37" cy="329.40" r="0.95" fill="#9cbcf0" fill-opacity="0.7" stroke="#9cbcf0" stroke-width="0.45"/><circle cx="493.62" cy="329.51" r="0.95" fill="#8ca6ea" fill-opacity="0.7" stroke="#8ca6ea" stroke-width="0.45"/><circle cx="496.38" cy="329.57" r="0.95" fill="#a994dc" fill-opacity="0.7" stroke="#a994dc" stroke-width="0.45"/><circle cx="498.47" cy="329.62" r="0.95" fill="#8ca6ea" fill-opacity="0.7" stroke="#8ca6ea" stroke-width="0.45"/><circle cx="500.74" cy="329.39" r="0.95" fill="#8ca6ea" fill-opacity="0.7" stroke="#8ca6ea" stroke-width="0.45"/><circle cx="502.33" cy="329.65" r="0.95" fill="#9cbcf0" fill-opacity="0.7" stroke="#9cbcf0" stroke-width="0.45"/><circle cx="504.47" cy="329.43" r="0.95" fill="#f2c898" fill-opacity="0.7" stroke="#f2c898" stroke-width="0.45"/><circle cx="506.88" cy="329.24" r="0.95" fill="#e0707e" fill-opacity="0.7" stroke="#e0707e" stroke-width="0.45"/><circle cx="508.88" cy="329.84" r="0.95" fill="#e0707e" fill-opacity="0.7" stroke="#e0707e" stroke-width="0.45"/><circle cx="511.03" cy="329.92" r="0.95" fill="#e88aa0" fill-opacity="0.7" stroke="#e88aa0" stroke-width="0.45"/><circle cx="513.68" cy="329.86" r="0.95" fill="#a994dc" fill-opacity="0.7" stroke="#a994dc" stroke-width="0.45"/><circle cx="515.61" cy="329.81" r="0.95" fill="#e0707e" fill-opacity="0.7" stroke="#e0707e" stroke-width="0.45"/><circle cx="518.01" cy="329.23" r="0.95" fill="#c0a4e4" fill-opacity="0.7" stroke="#c0a4e4" stroke-width="0.45"/><circle cx="520.13" cy="329.31" r="0.95" fill="#9cbcf0" fill-opacity="0.7" stroke="#9cbcf0" stroke-width="0.45"/><circle cx="522.75" cy="329.25" r="0.95" fill="#8ca6ea" fill-opacity="0.7" stroke="#8ca6ea" stroke-width="0.45"/><circle cx="473.09" cy="331.10" r="0.95" fill="#8ca6ea" fill-opacity="0.7" stroke="#8ca6ea" stroke-width="0.45"/><circle cx="475.17" cy="331.63" r="0.95" fill="#e88aa0" fill-opacity="0.7" stroke="#e88aa0" stroke-width="0.45"/><circle cx="476.95" cy="331.13" r="0.95" fill="#a994dc" fill-opacity="0.7" stroke="#a994dc" stroke-width="0.45"/><circle cx="479.33" cy="331.59" r="0.95" fill="#e88aa0" fill-opacity="0.7" stroke="#e88aa0" stroke-width="0.45"/><circle cx="481.65" cy="331.30" r="0.95" fill="#e0707e" fill-opacity="0.7" stroke="#e0707e" stroke-width="0.45"/><circle cx="483.92" cy="331.86" r="0.95" fill="#9cbcf0" fill-opacity="0.7" stroke="#9cbcf0" stroke-width="0.45"/><circle cx="486.37" cy="331.56" r="0.95" fill="#e88aa0" fill-opacity="0.7" stroke="#e88aa0" stroke-width="0.45"/><circle cx="488.04" cy="331.45" r="0.95" fill="#e0707e" fill-opacity="0.7" stroke="#e0707e" stroke-width="0.45"/><circle cx="490.78" cy="331.14" r="0.95" fill="#c0a4e4" fill-opacity="0.7" stroke="#c0a4e4" stroke-width="0.45"/><circle cx="493.01" cy="331.36" r="0.95" fill="#e0707e" fill-opacity="0.7" stroke="#e0707e" stroke-width="0.45"/><circle cx="495.25" cy="331.82" r="0.95" fill="#9cbcf0" fill-opacity="0.7" stroke="#9cbcf0" stroke-width="0.45"/><circle cx="497.02" cy="331.43" r="0.95" fill="#a994dc" fill-opacity="0.7" stroke="#a994dc" stroke-width="0.45"/><circle cx="499.00" cy="331.66" r="0.95" fill="#c0a4e4" fill-opacity="0.7" stroke="#c0a4e4" stroke-width="0.45"/><circle cx="501.39" cy="331.21" r="0.95" fill="#9cbcf0" fill-opacity="0.7" stroke="#9cbcf0" stroke-width="0.45"/><circle cx="503.31" cy="331.61" r="0.95" fill="#e0707e" fill-opacity="0.7" stroke="#e0707e" stroke-width="0.45"/><circle cx="505.70" cy="331.56" r="0.95" fill="#9cbcf0" fill-opacity="0.7" stroke="#9cbcf0" stroke-width="0.45"/><circle cx="508.43" cy="331.48" r="0.95" fill="#8ca6ea" fill-opacity="0.7" stroke="#8ca6ea" stroke-width="0.45"/><circle cx="510.13" cy="331.09" r="0.95" fill="#f2c898" fill-opacity="0.7" stroke="#f2c898" stroke-width="0.45"/><circle cx="512.63" cy="331.26" r="0.95" fill="#c0a4e4" fill-opacity="0.7" stroke="#c0a4e4" stroke-width="0.45"/><circle cx="515.00" cy="331.60" r="0.95" fill="#e88aa0" fill-opacity="0.7" stroke="#e88aa0" stroke-width="0.45"/><circle cx="517.22" cy="331.69" r="0.95" fill="#a994dc" fill-opacity="0.7" stroke="#a994dc" stroke-width="0.45"/><circle cx="518.78" cy="331.34" r="0.95" fill="#e0707e" fill-opacity="0.7" stroke="#e0707e" stroke-width="0.45"/><circle cx="473.63" cy="333.08" r="0.95" fill="#f2c898" fill-opacity="0.7" stroke="#f2c898" stroke-width="0.45"/><circle cx="475.89" cy="333.53" r="0.95" fill="#8ca6ea" fill-opacity="0.7" stroke="#8ca6ea" stroke-width="0.45"/><circle cx="478.20" cy="333.03" r="0.95" fill="#8ca6ea" fill-opacity="0.7" stroke="#8ca6ea" stroke-width="0.45"/><circle cx="480.82" cy="333.70" r="0.95" fill="#e0707e" fill-opacity="0.7" stroke="#e0707e" stroke-width="0.45"/><circle cx="483.03" cy="333.18" r="0.95" fill="#7ccfca" fill-opacity="0.7" stroke="#7ccfca" stroke-width="0.45"/><circle cx="485.22" cy="333.23" r="0.95" fill="#9cbcf0" fill-opacity="0.7" stroke="#9cbcf0" stroke-width="0.45"/><circle cx="486.94" cy="333.56" r="0.95" fill="#c0a4e4" fill-opacity="0.7" stroke="#c0a4e4" stroke-width="0.45"/><circle cx="489.67" cy="333.59" r="0.95" fill="#c0a4e4" fill-opacity="0.7" stroke="#c0a4e4" stroke-width="0.45"/><circle cx="491.88" cy="333.66" r="0.95" fill="#f2c898" fill-opacity="0.7" stroke="#f2c898" stroke-width="0.45"/><circle cx="493.71" cy="333.44" r="0.95" fill="#a994dc" fill-opacity="0.7" stroke="#a994dc" stroke-width="0.45"/><circle cx="495.99" cy="333.53" r="0.95" fill="#e88aa0" fill-opacity="0.7" stroke="#e88aa0" stroke-width="0.45"/><circle cx="498.17" cy="333.08" r="0.95" fill="#8ca6ea" fill-opacity="0.7" stroke="#8ca6ea" stroke-width="0.45"/><circle cx="500.74" cy="333.24" r="0.95" fill="#f2c898" fill-opacity="0.7" stroke="#f2c898" stroke-width="0.45"/><circle cx="502.97" cy="333.37" r="0.95" fill="#e88aa0" fill-opacity="0.7" stroke="#e88aa0" stroke-width="0.45"/><circle cx="504.87" cy="333.24" r="0.95" fill="#9cbcf0" fill-opacity="0.7" stroke="#9cbcf0" stroke-width="0.45"/><circle cx="506.88" cy="333.19" r="0.95" fill="#f2c898" fill-opacity="0.7" stroke="#f2c898" stroke-width="0.45"/><circle cx="509.48" cy="333.61" r="0.95" fill="#a994dc" fill-opacity="0.7" stroke="#a994dc" stroke-width="0.45"/><circle cx="511.36" cy="333.53" r="0.95" fill="#f2c898" fill-opacity="0.7" stroke="#f2c898" stroke-width="0.45"/><circle cx="513.38" cy="332.98" r="0.95" fill="#a994dc" fill-opacity="0.7" stroke="#a994dc" stroke-width="0.45"/><circle cx="515.47" cy="333.17" r="0.95" fill="#9cbcf0" fill-opacity="0.7" stroke="#9cbcf0" stroke-width="0.45"/><circle cx="472.56" cy="335.04" r="0.95" fill="#c0a4e4" fill-opacity="0.7" stroke="#c0a4e4" stroke-width="0.45"/><circle cx="475.34" cy="335.41" r="0.95" fill="#e0707e" fill-opacity="0.7" stroke="#e0707e" stroke-width="0.45"/><circle cx="477.35" cy="335.65" r="0.95" fill="#e88aa0" fill-opacity="0.7" stroke="#e88aa0" stroke-width="0.45"/><circle cx="479.34" cy="335.34" r="0.95" fill="#7ccfca" fill-opacity="0.7" stroke="#7ccfca" stroke-width="0.45"/><circle cx="481.82" cy="335.14" r="0.95" fill="#a994dc" fill-opacity="0.7" stroke="#a994dc" stroke-width="0.45"/><circle cx="484.17" cy="335.58" r="0.95" fill="#e0707e" fill-opacity="0.7" stroke="#e0707e" stroke-width="0.45"/><circle cx="485.81" cy="335.25" r="0.95" fill="#f2c898" fill-opacity="0.7" stroke="#f2c898" stroke-width="0.45"/><circle cx="488.49" cy="335.38" r="0.95" fill="#e88aa0" fill-opacity="0.7" stroke="#e88aa0" stroke-width="0.45"/><circle cx="490.83" cy="335.04" r="0.95" fill="#e88aa0" fill-opacity="0.7" stroke="#e88aa0" stroke-width="0.45"/><circle cx="492.46" cy="335.47" r="0.95" fill="#a994dc" fill-opacity="0.7" stroke="#a994dc" stroke-width="0.45"/><circle cx="494.82" cy="335.62" r="0.95" fill="#8ca6ea" fill-opacity="0.7" stroke="#8ca6ea" stroke-width="0.45"/><circle cx="497.21" cy="335.14" r="0.95" fill="#8ca6ea" fill-opacity="0.7" stroke="#8ca6ea" stroke-width="0.45"/><circle cx="499.40" cy="334.91" r="0.95" fill="#f2c898" fill-opacity="0.7" stroke="#f2c898" stroke-width="0.45"/><circle cx="501.85" cy="335.54" r="0.95" fill="#9cbcf0" fill-opacity="0.7" stroke="#9cbcf0" stroke-width="0.45"/><circle cx="503.65" cy="335.10" r="0.95" fill="#c0a4e4" fill-opacity="0.7" stroke="#c0a4e4" stroke-width="0.45"/><circle cx="505.82" cy="335.68" r="0.95" fill="#9cbcf0" fill-opacity="0.7" stroke="#9cbcf0" stroke-width="0.45"/><circle cx="508.23" cy="335.47" r="0.95" fill="#c0a4e4" fill-opacity="0.7" stroke="#c0a4e4" stroke-width="0.45"/><circle cx="510.65" cy="334.94" r="0.95" fill="#9cbcf0" fill-opacity="0.7" stroke="#9cbcf0" stroke-width="0.45"/><circle cx="512.59" cy="334.93" r="0.95" fill="#a994dc" fill-opacity="0.7" stroke="#a994dc" stroke-width="0.45"/><circle cx="474.18" cy="337.42" r="0.95" fill="#c0a4e4" fill-opacity="0.7" stroke="#c0a4e4" stroke-width="0.45"/><circle cx="476.18" cy="337.20" r="0.95" fill="#f2c898" fill-opacity="0.7" stroke="#f2c898" stroke-width="0.45"/><circle cx="478.79" cy="337.07" r="0.95" fill="#f2c898" fill-opacity="0.7" stroke="#f2c898" stroke-width="0.45"/><circle cx="480.97" cy="336.88" r="0.95" fill="#c0a4e4" fill-opacity="0.7" stroke="#c0a4e4" stroke-width="0.45"/><circle cx="482.92" cy="337.24" r="0.95" fill="#e88aa0" fill-opacity="0.7" stroke="#e88aa0" stroke-width="0.45"/><circle cx="485.29" cy="336.93" r="0.95" fill="#c0a4e4" fill-opacity="0.7" stroke="#c0a4e4" stroke-width="0.45"/><circle cx="487.36" cy="337.35" r="0.95" fill="#7ccfca" fill-opacity="0.7" stroke="#7ccfca" stroke-width="0.45"/><circle cx="489.77" cy="337.45" r="0.95" fill="#8ca6ea" fill-opacity="0.7" stroke="#8ca6ea" stroke-width="0.45"/><circle cx="491.87" cy="337.16" r="0.95" fill="#7ccfca" fill-opacity="0.7" stroke="#7ccfca" stroke-width="0.45"/><circle cx="494.16" cy="337.41" r="0.95" fill="#e0707e" fill-opacity="0.7" stroke="#e0707e" stroke-width="0.45"/><circle cx="496.23" cy="337.16" r="0.95" fill="#e0707e" fill-opacity="0.7" stroke="#e0707e" stroke-width="0.45"/><circle cx="498.37" cy="337.58" r="0.95" fill="#c0a4e4" fill-opacity="0.7" stroke="#c0a4e4" stroke-width="0.45"/><circle cx="500.41" cy="337.49" r="0.95" fill="#e0707e" fill-opacity="0.7" stroke="#e0707e" stroke-width="0.45"/><circle cx="502.24" cy="337.58" r="0.95" fill="#e0707e" fill-opacity="0.7" stroke="#e0707e" stroke-width="0.45"/><circle cx="504.41" cy="337.60" r="0.95" fill="#f2c898" fill-opacity="0.7" stroke="#f2c898" stroke-width="0.45"/><circle cx="506.75" cy="337.55" r="0.95" fill="#a994dc" fill-opacity="0.7" stroke="#a994dc" stroke-width="0.45"/><circle cx="509.58" cy="336.99" r="0.95" fill="#f2c898" fill-opacity="0.7" stroke="#f2c898" stroke-width="0.45"/><circle cx="511.35" cy="336.86" r="0.95" fill="#c0a4e4" fill-opacity="0.7" stroke="#c0a4e4" stroke-width="0.45"/><circle cx="475.33" cy="338.81" r="0.95" fill="#c0a4e4" fill-opacity="0.7" stroke="#c0a4e4" stroke-width="0.45"/><circle cx="477.14" cy="338.84" r="0.95" fill="#f2c898" fill-opacity="0.7" stroke="#f2c898" stroke-width="0.45"/><circle cx="479.35" cy="339.48" r="0.95" fill="#e88aa0" fill-opacity="0.7" stroke="#e88aa0" stroke-width="0.45"/><circle cx="481.64" cy="339.24" r="0.95" fill="#9cbcf0" fill-opacity="0.7" stroke="#9cbcf0" stroke-width="0.45"/><circle cx="483.50" cy="338.93" r="0.95" fill="#9cbcf0" fill-opacity="0.7" stroke="#9cbcf0" stroke-width="0.45"/><circle cx="486.29" cy="339.37" r="0.95" fill="#e88aa0" fill-opacity="0.7" stroke="#e88aa0" stroke-width="0.45"/><circle cx="488.15" cy="339.17" r="0.95" fill="#7ccfca" fill-opacity="0.7" stroke="#7ccfca" stroke-width="0.45"/><circle cx="490.83" cy="339.45" r="0.95" fill="#7ccfca" fill-opacity="0.7" stroke="#7ccfca" stroke-width="0.45"/><circle cx="492.59" cy="339.49" r="0.95" fill="#a994dc" fill-opacity="0.7" stroke="#a994dc" stroke-width="0.45"/><circle cx="494.72" cy="339.07" r="0.95" fill="#e88aa0" fill-opacity="0.7" stroke="#e88aa0" stroke-width="0.45"/><circle cx="497.06" cy="338.97" r="0.95" fill="#c0a4e4" fill-opacity="0.7" stroke="#c0a4e4" stroke-width="0.45"/><circle cx="498.98" cy="339.14" r="0.95" fill="#8ca6ea" fill-opacity="0.7" stroke="#8ca6ea" stroke-width="0.45"/><circle cx="501.30" cy="339.06" r="0.95" fill="#8ca6ea" fill-opacity="0.7" stroke="#8ca6ea" stroke-width="0.45"/><circle cx="503.77" cy="339.24" r="0.95" fill="#9cbcf0" fill-opacity="0.7" stroke="#9cbcf0" stroke-width="0.45"/><circle cx="505.92" cy="339.26" r="0.95" fill="#c0a4e4" fill-opacity="0.7" stroke="#c0a4e4" stroke-width="0.45"/><circle cx="508.12" cy="339.02" r="0.95" fill="#7ccfca" fill-opacity="0.7" stroke="#7ccfca" stroke-width="0.45"/><circle cx="476.21" cy="341.33" r="0.95" fill="#7ccfca" fill-opacity="0.7" stroke="#7ccfca" stroke-width="0.45"/><circle cx="478.17" cy="340.82" r="0.95" fill="#8ca6ea" fill-opacity="0.7" stroke="#8ca6ea" stroke-width="0.45"/><circle cx="480.82" cy="340.98" r="0.95" fill="#f2c898" fill-opacity="0.7" stroke="#f2c898" stroke-width="0.45"/><circle cx="482.76" cy="341.35" r="0.95" fill="#c0a4e4" fill-opacity="0.7" stroke="#c0a4e4" stroke-width="0.45"/><circle cx="485.06" cy="341.33" r="0.95" fill="#c0a4e4" fill-opacity="0.7" stroke="#c0a4e4" stroke-width="0.45"/><circle cx="487.56" cy="341.33" r="0.95" fill="#c0a4e4" fill-opacity="0.7" stroke="#c0a4e4" stroke-width="0.45"/><circle cx="489.09" cy="341.01" r="0.95" fill="#8ca6ea" fill-opacity="0.7" stroke="#8ca6ea" stroke-width="0.45"/><circle cx="491.98" cy="340.89" r="0.95" fill="#e0707e" fill-opacity="0.7" stroke="#e0707e" stroke-width="0.45"/><circle cx="494.07" cy="341.38" r="0.95" fill="#f2c898" fill-opacity="0.7" stroke="#f2c898" stroke-width="0.45"/><circle cx="495.66" cy="340.86" r="0.95" fill="#e0707e" fill-opacity="0.7" stroke="#e0707e" stroke-width="0.45"/><circle cx="498.53" cy="341.18" r="0.95" fill="#e88aa0" fill-opacity="0.7" stroke="#e88aa0" stroke-width="0.45"/><circle cx="500.59" cy="340.93" r="0.95" fill="#7ccfca" fill-opacity="0.7" stroke="#7ccfca" stroke-width="0.45"/><circle cx="502.88" cy="340.94" r="0.95" fill="#9cbcf0" fill-opacity="0.7" stroke="#9cbcf0" stroke-width="0.45"/><circle cx="504.70" cy="340.85" r="0.95" fill="#9cbcf0" fill-opacity="0.7" stroke="#9cbcf0" stroke-width="0.45"/><circle cx="507.27" cy="340.81" r="0.95" fill="#7ccfca" fill-opacity="0.7" stroke="#7ccfca" stroke-width="0.45"/><circle cx="475.41" cy="343.29" r="0.95" fill="#e88aa0" fill-opacity="0.7" stroke="#e88aa0" stroke-width="0.45"/><circle cx="477.51" cy="342.81" r="0.95" fill="#8ca6ea" fill-opacity="0.7" stroke="#8ca6ea" stroke-width="0.45"/><circle cx="479.61" cy="342.84" r="0.95" fill="#a994dc" fill-opacity="0.7" stroke="#a994dc" stroke-width="0.45"/><circle cx="481.37" cy="342.67" r="0.95" fill="#e0707e" fill-opacity="0.7" stroke="#e0707e" stroke-width="0.45"/><circle cx="483.90" cy="342.94" r="0.95" fill="#7ccfca" fill-opacity="0.7" stroke="#7ccfca" stroke-width="0.45"/><circle cx="486.08" cy="343.31" r="0.95" fill="#c0a4e4" fill-opacity="0.7" stroke="#c0a4e4" stroke-width="0.45"/><circle cx="488.69" cy="342.77" r="0.95" fill="#e88aa0" fill-opacity="0.7" stroke="#e88aa0" stroke-width="0.45"/><circle cx="490.73" cy="343.12" r="0.95" fill="#f2c898" fill-opacity="0.7" stroke="#f2c898" stroke-width="0.45"/><circle cx="492.38" cy="343.15" r="0.95" fill="#e88aa0" fill-opacity="0.7" stroke="#e88aa0" stroke-width="0.45"/><circle cx="495.07" cy="343.01" r="0.95" fill="#a994dc" fill-opacity="0.7" stroke="#a994dc" stroke-width="0.45"/><circle cx="497.32" cy="343.23" r="0.95" fill="#e0707e" fill-opacity="0.7" stroke="#e0707e" stroke-width="0.45"/><circle cx="499.65" cy="343.10" r="0.95" fill="#8ca6ea" fill-opacity="0.7" stroke="#8ca6ea" stroke-width="0.45"/><circle cx="501.66" cy="342.73" r="0.95" fill="#7ccfca" fill-opacity="0.7" stroke="#7ccfca" stroke-width="0.45"/><circle cx="475.83" cy="344.95" r="0.95" fill="#e0707e" fill-opacity="0.7" stroke="#e0707e" stroke-width="0.45"/><circle cx="478.61" cy="344.92" r="0.95" fill="#8ca6ea" fill-opacity="0.7" stroke="#8ca6ea" stroke-width="0.45"/><circle cx="480.88" cy="345.26" r="0.95" fill="#f2c898" fill-opacity="0.7" stroke="#f2c898" stroke-width="0.45"/><circle cx="482.87" cy="344.92" r="0.95" fill="#8ca6ea" fill-opacity="0.7" stroke="#8ca6ea" stroke-width="0.45"/><circle cx="485.00" cy="345.19" r="0.95" fill="#8ca6ea" fill-opacity="0.7" stroke="#8ca6ea" stroke-width="0.45"/><circle cx="487.08" cy="344.57" r="0.95" fill="#f2c898" fill-opacity="0.7" stroke="#f2c898" stroke-width="0.45"/><circle cx="489.61" cy="344.77" r="0.95" fill="#7ccfca" fill-opacity="0.7" stroke="#7ccfca" stroke-width="0.45"/><circle cx="491.56" cy="344.53" r="0.95" fill="#c0a4e4" fill-opacity="0.7" stroke="#c0a4e4" stroke-width="0.45"/><circle cx="493.96" cy="344.68" r="0.95" fill="#e88aa0" fill-opacity="0.7" stroke="#e88aa0" stroke-width="0.45"/><circle cx="495.68" cy="344.88" r="0.95" fill="#f2c898" fill-opacity="0.7" stroke="#f2c898" stroke-width="0.45"/><circle cx="498.27" cy="345.25" r="0.95" fill="#f2c898" fill-opacity="0.7" stroke="#f2c898" stroke-width="0.45"/><circle cx="479.46" cy="346.49" r="0.95" fill="#e0707e" fill-opacity="0.7" stroke="#e0707e" stroke-width="0.45"/><circle cx="481.83" cy="346.89" r="0.95" fill="#8ca6ea" fill-opacity="0.7" stroke="#8ca6ea" stroke-width="0.45"/><circle cx="483.77" cy="346.69" r="0.95" fill="#8ca6ea" fill-opacity="0.7" stroke="#8ca6ea" stroke-width="0.45"/><circle cx="485.76" cy="346.44" r="0.95" fill="#7ccfca" fill-opacity="0.7" stroke="#7ccfca" stroke-width="0.45"/><circle cx="487.96" cy="347.09" r="0.95" fill="#c0a4e4" fill-opacity="0.7" stroke="#c0a4e4" stroke-width="0.45"/><circle cx="490.45" cy="347.05" r="0.95" fill="#9cbcf0" fill-opacity="0.7" stroke="#9cbcf0" stroke-width="0.45"/><circle cx="492.49" cy="346.67" r="0.95" fill="#f2c898" fill-opacity="0.7" stroke="#f2c898" stroke-width="0.45"/><circle cx="494.57" cy="346.91" r="0.95" fill="#a994dc" fill-opacity="0.7" stroke="#a994dc" stroke-width="0.45"/><circle cx="480.58" cy="348.51" r="0.95" fill="#e0707e" fill-opacity="0.7" stroke="#e0707e" stroke-width="0.45"/><circle cx="483.18" cy="348.74" r="0.95" fill="#f2c898" fill-opacity="0.7" stroke="#f2c898" stroke-width="0.45"/><circle cx="484.79" cy="348.45" r="0.95" fill="#7ccfca" fill-opacity="0.7" stroke="#7ccfca" stroke-width="0.45"/><circle cx="487.51" cy="348.39" r="0.95" fill="#9cbcf0" fill-opacity="0.7" stroke="#9cbcf0" stroke-width="0.45"/><circle cx="489.50" cy="348.30" r="0.95" fill="#a994dc" fill-opacity="0.7" stroke="#a994dc" stroke-width="0.45"/><circle cx="491.95" cy="348.68" r="0.95" fill="#e88aa0" fill-opacity="0.7" stroke="#e88aa0" stroke-width="0.45"/><circle cx="493.58" cy="348.73" r="0.95" fill="#9cbcf0" fill-opacity="0.7" stroke="#9cbcf0" stroke-width="0.45"/><circle cx="484.03" cy="350.96" r="0.95" fill="#e88aa0" fill-opacity="0.7" stroke="#e88aa0" stroke-width="0.45"/><circle cx="485.91" cy="350.54" r="0.95" fill="#e0707e" fill-opacity="0.7" stroke="#e0707e" stroke-width="0.45"/><circle cx="487.99" cy="350.91" r="0.95" fill="#c0a4e4" fill-opacity="0.7" stroke="#c0a4e4" stroke-width="0.45"/><circle cx="490.69" cy="350.67" r="0.95" fill="#e0707e" fill-opacity="0.7" stroke="#e0707e" stroke-width="0.45"/><circle cx="485.23" cy="352.31" r="0.95" fill="#f2c898" fill-opacity="0.7" stroke="#f2c898" stroke-width="0.45"/><circle cx="487.01" cy="352.25" r="0.95" fill="#e0707e" fill-opacity="0.7" stroke="#e0707e" stroke-width="0.45"/>
<line x1="496" y1="321.6" x2="509" y2="347.6" stroke="#333" stroke-width="0.8" />
<line x1="505.8" y1="317.2" x2="542" y2="347.6" stroke="#333" stroke-width="0.8" />
<rect x="509" y="347.6" width="33" height="22" fill="#f3eef3" stroke="#444" stroke-width="0.9"/>
<circle cx="518.02" cy="359.46" r="2.6" fill="#e0707e" fill-opacity="0.7" stroke="#fff" stroke-opacity="0.5" stroke-width="0.4"/><circle cx="538.02" cy="358.18" r="2.6" fill="#6a78b8" fill-opacity="0.7" stroke="#fff" stroke-opacity="0.5" stroke-width="0.4"/><circle cx="512.93" cy="349.74" r="2.6" fill="#c0a4e4" fill-opacity="0.7" stroke="#fff" stroke-opacity="0.5" stroke-width="0.4"/><circle cx="518.65" cy="353.79" r="2.6" fill="#c0a4e4" fill-opacity="0.7" stroke="#fff" stroke-opacity="0.5" stroke-width="0.4"/><circle cx="526.96" cy="359.56" r="2.6" fill="#9cbcf0" fill-opacity="0.7" stroke="#fff" stroke-opacity="0.5" stroke-width="0.4"/><circle cx="529.85" cy="352.26" r="2.6" fill="#7ccfca" fill-opacity="0.7" stroke="#fff" stroke-opacity="0.5" stroke-width="0.4"/><circle cx="536.61" cy="359.07" r="2.6" fill="#e88aa0" fill-opacity="0.7" stroke="#fff" stroke-opacity="0.5" stroke-width="0.4"/><circle cx="530.81" cy="350.67" r="2.6" fill="#6a78b8" fill-opacity="0.7" stroke="#fff" stroke-opacity="0.5" stroke-width="0.4"/><circle cx="512.26" cy="363.78" r="2.6" fill="#a994dc" fill-opacity="0.7" stroke="#fff" stroke-opacity="0.5" stroke-width="0.4"/><circle cx="524.95" cy="362.65" r="2.6" fill="#9cbcf0" fill-opacity="0.7" stroke="#fff" stroke-opacity="0.5" stroke-width="0.4"/><circle cx="532.07" cy="366.36" r="2.6" fill="#9cbcf0" fill-opacity="0.7" stroke="#fff" stroke-opacity="0.5" stroke-width="0.4"/><circle cx="532.48" cy="360.06" r="2.6" fill="#7ccfca" fill-opacity="0.7" stroke="#fff" stroke-opacity="0.5" stroke-width="0.4"/><circle cx="536.93" cy="351.28" r="2.6" fill="#7ccfca" fill-opacity="0.7" stroke="#fff" stroke-opacity="0.5" stroke-width="0.4"/><circle cx="525.60" cy="354.22" r="2.6" fill="#9cbcf0" fill-opacity="0.7" stroke="#fff" stroke-opacity="0.5" stroke-width="0.4"/><circle cx="533.98" cy="365.15" r="2.6" fill="#9cbcf0" fill-opacity="0.7" stroke="#fff" stroke-opacity="0.5" stroke-width="0.4"/><circle cx="525.96" cy="356.56" r="2.6" fill="#e0707e" fill-opacity="0.7" stroke="#fff" stroke-opacity="0.5" stroke-width="0.4"/><circle cx="526.76" cy="356.96" r="2.6" fill="#f2c898" fill-opacity="0.7" stroke="#fff" stroke-opacity="0.5" stroke-width="0.4"/><circle cx="537.67" cy="361.98" r="2.6" fill="#e88aa0" fill-opacity="0.7" stroke="#fff" stroke-opacity="0.5" stroke-width="0.4"/><circle cx="536.26" cy="367.64" r="2.6" fill="#7ccfca" fill-opacity="0.7" stroke="#fff" stroke-opacity="0.5" stroke-width="0.4"/><circle cx="531.61" cy="355.47" r="2.6" fill="#8a8ec8" fill-opacity="0.7" stroke="#fff" stroke-opacity="0.5" stroke-width="0.4"/><circle cx="537.69" cy="359.91" r="2.6" fill="#f2c898" fill-opacity="0.7" stroke="#fff" stroke-opacity="0.5" stroke-width="0.4"/><circle cx="529.67" cy="367.58" r="2.6" fill="#a994dc" fill-opacity="0.7" stroke="#fff" stroke-opacity="0.5" stroke-width="0.4"/><circle cx="519.41" cy="350.66" r="2.6" fill="#c0a4e4" fill-opacity="0.7" stroke="#fff" stroke-opacity="0.5" stroke-width="0.4"/><circle cx="513.61" cy="364.15" r="2.6" fill="#9cbcf0" fill-opacity="0.7" stroke="#fff" stroke-opacity="0.5" stroke-width="0.4"/><circle cx="537.46" cy="349.87" r="2.6" fill="#9cbcf0" fill-opacity="0.7" stroke="#fff" stroke-opacity="0.5" stroke-width="0.4"/><circle cx="533.68" cy="365.47" r="2.6" fill="#e88aa0" fill-opacity="0.7" stroke="#fff" stroke-opacity="0.5" stroke-width="0.4"/><circle cx="528.85" cy="363.44" r="2.6" fill="#9cbcf0" fill-opacity="0.7" stroke="#fff" stroke-opacity="0.5" stroke-width="0.4"/><circle cx="532.19" cy="355.56" r="2.6" fill="#a994dc" fill-opacity="0.7" stroke="#fff" stroke-opacity="0.5" stroke-width="0.4"/><circle cx="525.91" cy="367.77" r="2.6" fill="#a994dc" fill-opacity="0.7" stroke="#fff" stroke-opacity="0.5" stroke-width="0.4"/><circle cx="511.21" cy="351.48" r="2.6" fill="#8a8ec8" fill-opacity="0.7" stroke="#fff" stroke-opacity="0.5" stroke-width="0.4"/><circle cx="511.93" cy="353.11" r="2.6" fill="#9cbcf0" fill-opacity="0.7" stroke="#fff" stroke-opacity="0.5" stroke-width="0.4"/><circle cx="519.60" cy="354.32" r="2.6" fill="#e88aa0" fill-opacity="0.7" stroke="#fff" stroke-opacity="0.5" stroke-width="0.4"/><circle cx="539.91" cy="355.72" r="2.6" fill="#e0707e" fill-opacity="0.7" stroke="#fff" stroke-opacity="0.5" stroke-width="0.4"/><circle cx="539.28" cy="365.91" r="2.6" fill="#9cbcf0" fill-opacity="0.7" stroke="#fff" stroke-opacity="0.5" stroke-width="0.4"/><circle cx="522.11" cy="365.42" r="2.6" fill="#9cbcf0" fill-opacity="0.7" stroke="#fff" stroke-opacity="0.5" stroke-width="0.4"/><circle cx="529.99" cy="360.40" r="2.6" fill="#8a8ec8" fill-opacity="0.7" stroke="#fff" stroke-opacity="0.5" stroke-width="0.4"/><circle cx="514.03" cy="367.30" r="2.6" fill="#8a8ec8" fill-opacity="0.7" stroke="#fff" stroke-opacity="0.5" stroke-width="0.4"/><circle cx="519.00" cy="361.11" r="2.6" fill="#f2c898" fill-opacity="0.7" stroke="#fff" stroke-opacity="0.5" stroke-width="0.4"/><circle cx="538.62" cy="357.51" r="2.6" fill="#a994dc" fill-opacity="0.7" stroke="#fff" stroke-opacity="0.5" stroke-width="0.4"/><circle cx="526.37" cy="359.54" r="2.6" fill="#e88aa0" fill-opacity="0.7" stroke="#fff" stroke-opacity="0.5" stroke-width="0.4"/><circle cx="534.26" cy="367.57" r="2.6" fill="#e0707e" fill-opacity="0.7" stroke="#fff" stroke-opacity="0.5" stroke-width="0.4"/><circle cx="511.59" cy="360.77" r="2.6" fill="#7ccfca" fill-opacity="0.7" stroke="#fff" stroke-opacity="0.5" stroke-width="0.4"/><circle cx="512.77" cy="360.98" r="2.6" fill="#c0a4e4" fill-opacity="0.7" stroke="#fff" stroke-opacity="0.5" stroke-width="0.4"/><circle cx="521.41" cy="366.29" r="2.6" fill="#6a78b8" fill-opacity="0.7" stroke="#fff" stroke-opacity="0.5" stroke-width="0.4"/><circle cx="531.86" cy="363.01" r="2.6" fill="#e88aa0" fill-opacity="0.7" stroke="#fff" stroke-opacity="0.5" stroke-width="0.4"/><circle cx="528.39" cy="366.97" r="2.6" fill="#e88aa0" fill-opacity="0.7" stroke="#fff" stroke-opacity="0.5" stroke-width="0.4"/><circle cx="539.42" cy="354.10" r="2.6" fill="#c0a4e4" fill-opacity="0.7" stroke="#fff" stroke-opacity="0.5" stroke-width="0.4"/><circle cx="519.81" cy="360.51" r="2.6" fill="#7ccfca" fill-opacity="0.7" stroke="#fff" stroke-opacity="0.5" stroke-width="0.4"/><circle cx="521.74" cy="355.22" r="2.6" fill="#e0707e" fill-opacity="0.7" stroke="#fff" stroke-opacity="0.5" stroke-width="0.4"/><circle cx="535.89" cy="354.33" r="2.6" fill="#9cbcf0" fill-opacity="0.7" stroke="#fff" stroke-opacity="0.5" stroke-width="0.4"/><circle cx="514.09" cy="364.38" r="2.6" fill="#6a78b8" fill-opacity="0.7" stroke="#fff" stroke-opacity="0.5" stroke-width="0.4"/><circle cx="531.17" cy="351.91" r="2.6" fill="#8a8ec8" fill-opacity="0.7" stroke="#fff" stroke-opacity="0.5" stroke-width="0.4"/><circle cx="517.56" cy="364.21" r="2.6" fill="#f2c898" fill-opacity="0.7" stroke="#fff" stroke-opacity="0.5" stroke-width="0.4"/><circle cx="520.67" cy="361.91" r="2.6" fill="#8ca6ea" fill-opacity="0.7" stroke="#fff" stroke-opacity="0.5" stroke-width="0.4"/><circle cx="514.00" cy="355.39" r="2.6" fill="#e0707e" fill-opacity="0.7" stroke="#fff" stroke-opacity="0.5" stroke-width="0.4"/><circle cx="530.91" cy="353.61" r="2.6" fill="#7ccfca" fill-opacity="0.7" stroke="#fff" stroke-opacity="0.5" stroke-width="0.4"/><circle cx="513.36" cy="363.08" r="2.6" fill="#f2c898" fill-opacity="0.7" stroke="#fff" stroke-opacity="0.5" stroke-width="0.4"/><circle cx="537.10" cy="357.76" r="2.6" fill="#f2c898" fill-opacity="0.7" stroke="#fff" stroke-opacity="0.5" stroke-width="0.4"/><circle cx="534.22" cy="350.12" r="2.6" fill="#f2c898" fill-opacity="0.7" stroke="#fff" stroke-opacity="0.5" stroke-width="0.4"/><circle cx="520.30" cy="364.80" r="2.6" fill="#6a78b8" fill-opacity="0.7" stroke="#fff" stroke-opacity="0.5" stroke-width="0.4"/>
<rect x="557.7" y="293.0" width="159.69999999999993" height="80.19999999999999" fill="#fff" stroke="#4a4a4a" stroke-width="1.2"/>
<path d="M566.1,337.4 L572.2,313.2 L584.2,304.1 L600.3,300.7 L612.0,303.0 L618.5,309.0 L625.5,325.3 L620.0,334.0 L602.4,345.4 L590.0,352.0 L580.2,360.5 L569.1,351.5 Z" fill="#f0ecf2"/><circle cx="593.98" cy="302.93" r="0.95" fill="#c0a4e4" fill-opacity="0.7" stroke="#c0a4e4" stroke-width="0.45"/><circle cx="595.76" cy="302.88" r="0.95" fill="#8ca6ea" fill-opacity="0.7" stroke="#8ca6ea" stroke-width="0.45"/><circle cx="598.01" cy="302.59" r="0.95" fill="#9cbcf0" fill-opacity="0.7" stroke="#9cbcf0" stroke-width="0.45"/><circle cx="600.55" cy="302.37" r="0.95" fill="#a994dc" fill-opacity="0.7" stroke="#a994dc" stroke-width="0.45"/><circle cx="602.36" cy="302.79" r="0.95" fill="#7ccfca" fill-opacity="0.7" stroke="#7ccfca" stroke-width="0.45"/><circle cx="604.21" cy="302.64" r="0.95" fill="#a994dc" fill-opacity="0.7" stroke="#a994dc" stroke-width="0.45"/><circle cx="606.87" cy="302.50" r="0.95" fill="#a994dc" fill-opacity="0.7" stroke="#a994dc" stroke-width="0.45"/><circle cx="609.00" cy="302.48" r="0.95" fill="#a994dc" fill-opacity="0.7" stroke="#a994dc" stroke-width="0.45"/><circle cx="611.59" cy="302.96" r="0.95" fill="#9cbcf0" fill-opacity="0.7" stroke="#9cbcf0" stroke-width="0.45"/><circle cx="584.05" cy="304.81" r="0.95" fill="#e88aa0" fill-opacity="0.7" stroke="#e88aa0" stroke-width="0.45"/><circle cx="586.24" cy="304.25" r="0.95" fill="#a994dc" fill-opacity="0.7" stroke="#a994dc" stroke-width="0.45"/><circle cx="588.19" cy="304.47" r="0.95" fill="#c0a4e4" fill-opacity="0.7" stroke="#c0a4e4" stroke-width="0.45"/><circle cx="589.96" cy="304.31" r="0.95" fill="#e0707e" fill-opacity="0.7" stroke="#e0707e" stroke-width="0.45"/><circle cx="592.39" cy="304.24" r="0.95" fill="#f2c898" fill-opacity="0.7" stroke="#f2c898" stroke-width="0.45"/><circle cx="594.79" cy="304.24" r="0.95" fill="#8ca6ea" fill-opacity="0.7" stroke="#8ca6ea" stroke-width="0.45"/><circle cx="597.07" cy="304.16" r="0.95" fill="#c0a4e4" fill-opacity="0.7" stroke="#c0a4e4" stroke-width="0.45"/><circle cx="599.07" cy="304.85" r="0.95" fill="#e88aa0" fill-opacity="0.7" stroke="#e88aa0" stroke-width="0.45"/><circle cx="601.46" cy="304.23" r="0.95" fill="#8ca6ea" fill-opacity="0.7" stroke="#8ca6ea" stroke-width="0.45"/><circle cx="603.23" cy="304.63" r="0.95" fill="#a994dc" fill-opacity="0.7" stroke="#a994dc" stroke-width="0.45"/><circle cx="606.03" cy="304.84" r="0.95" fill="#c0a4e4" fill-opacity="0.7" stroke="#c0a4e4" stroke-width="0.45"/><circle cx="607.90" cy="304.14" r="0.95" fill="#7ccfca" fill-opacity="0.7" stroke="#7ccfca" stroke-width="0.45"/><circle cx="610.35" cy="304.28" r="0.95" fill="#c0a4e4" fill-opacity="0.7" stroke="#c0a4e4" stroke-width="0.45"/><circle cx="612.28" cy="304.48" r="0.95" fill="#a994dc" fill-opacity="0.7" stroke="#a994dc" stroke-width="0.45"/><circle cx="582.37" cy="306.39" r="0.95" fill="#8ca6ea" fill-opacity="0.7" stroke="#8ca6ea" stroke-width="0.45"/><circle cx="584.53" cy="306.58" r="0.95" fill="#9cbcf0" fill-opacity="0.7" stroke="#9cbcf0" stroke-width="0.45"/><circle cx="587.04" cy="306.41" r="0.95" fill="#c0a4e4" fill-opacity="0.7" stroke="#c0a4e4" stroke-width="0.45"/><circle cx="589.31" cy="306.14" r="0.95" fill="#e0707e" fill-opacity="0.7" stroke="#e0707e" stroke-width="0.45"/><circle cx="591.42" cy="306.07" r="0.95" fill="#7ccfca" fill-opacity="0.7" stroke="#7ccfca" stroke-width="0.45"/><circle cx="593.35" cy="306.63" r="0.95" fill="#9cbcf0" fill-opacity="0.7" stroke="#9cbcf0" stroke-width="0.45"/><circle cx="596.04" cy="306.80" r="0.95" fill="#7ccfca" fill-opacity="0.7" stroke="#7ccfca" stroke-width="0.45"/><circle cx="597.94" cy="306.17" r="0.95" fill="#e0707e" fill-opacity="0.7" stroke="#e0707e" stroke-width="0.45"/><circle cx="600.59" cy="306.49" r="0.95" fill="#e88aa0" fill-opacity="0.7" stroke="#e88aa0" stroke-width="0.45"/><circle cx="602.63" cy="306.50" r="0.95" fill="#f2c898" fill-opacity="0.7" stroke="#f2c898" stroke-width="0.45"/><circle cx="604.81" cy="306.73" r="0.95" fill="#c0a4e4" fill-opacity="0.7" stroke="#c0a4e4" stroke-width="0.45"/><circle cx="606.41" cy="306.72" r="0.95" fill="#7ccfca" fill-opacity="0.7" stroke="#7ccfca" stroke-width="0.45"/><circle cx="609.17" cy="306.56" r="0.95" fill="#e0707e" fill-opacity="0.7" stroke="#e0707e" stroke-width="0.45"/><circle cx="611.02" cy="306.19" r="0.95" fill="#7ccfca" fill-opacity="0.7" stroke="#7ccfca" stroke-width="0.45"/><circle cx="613.13" cy="306.54" r="0.95" fill="#9cbcf0" fill-opacity="0.7" stroke="#9cbcf0" stroke-width="0.45"/><circle cx="615.26" cy="306.05" r="0.95" fill="#c0a4e4" fill-opacity="0.7" stroke="#c0a4e4" stroke-width="0.45"/><circle cx="578.94" cy="308.69" r="0.95" fill="#9cbcf0" fill-opacity="0.7" stroke="#9cbcf0" stroke-width="0.45"/><circle cx="581.62" cy="308.19" r="0.95" fill="#c0a4e4" fill-opacity="0.7" stroke="#c0a4e4" stroke-width="0.45"/><circle cx="583.49" cy="308.61" r="0.95" fill="#f2c898" fill-opacity="0.7" stroke="#f2c898" stroke-width="0.45"/><circle cx="585.72" cy="307.97" r="0.95" fill="#e0707e" fill-opacity="0.7" stroke="#e0707e" stroke-width="0.45"/><circle cx="588.32" cy="308.03" r="0.95" fill="#e88aa0" fill-opacity="0.7" stroke="#e88aa0" stroke-width="0.45"/><circle cx="590.19" cy="308.51" r="0.95" fill="#f2c898" fill-opacity="0.7" stroke="#f2c898" stroke-width="0.45"/><circle cx="592.86" cy="307.98" r="0.95" fill="#e0707e" fill-opacity="0.7" stroke="#e0707e" stroke-width="0.45"/><circle cx="594.65" cy="308.62" r="0.95" fill="#e88aa0" fill-opacity="0.7" stroke="#e88aa0" stroke-width="0.45"/><circle cx="596.78" cy="307.98" r="0.95" fill="#e0707e" fill-opacity="0.7" stroke="#e0707e" stroke-width="0.45"/><circle cx="598.75" cy="307.96" r="0.95" fill="#a994dc" fill-opacity="0.7" stroke="#a994dc" stroke-width="0.45"/><circle cx="600.97" cy="308.43" r="0.95" fill="#a994dc" fill-opacity="0.7" stroke="#a994dc" stroke-width="0.45"/><circle cx="603.28" cy="308.06" r="0.95" fill="#7ccfca" fill-opacity="0.7" stroke="#7ccfca" stroke-width="0.45"/><circle cx="605.49" cy="308.49" r="0.95" fill="#9cbcf0" fill-opacity="0.7" stroke="#9cbcf0" stroke-width="0.45"/><circle cx="607.95" cy="308.46" r="0.95" fill="#c0a4e4" fill-opacity="0.7" stroke="#c0a4e4" stroke-width="0.45"/><circle cx="610.44" cy="308.16" r="0.95" fill="#a994dc" fill-opacity="0.7" stroke="#a994dc" stroke-width="0.45"/><circle cx="612.61" cy="308.11" r="0.95" fill="#c0a4e4" fill-opacity="0.7" stroke="#c0a4e4" stroke-width="0.45"/><circle cx="614.18" cy="308.10" r="0.95" fill="#8ca6ea" fill-opacity="0.7" stroke="#8ca6ea" stroke-width="0.45"/><circle cx="617.06" cy="308.60" r="0.95" fill="#7ccfca" fill-opacity="0.7" stroke="#7ccfca" stroke-width="0.45"/><circle cx="577.91" cy="310.17" r="0.95" fill="#e0707e" fill-opacity="0.7" stroke="#e0707e" stroke-width="0.45"/><circle cx="580.18" cy="310.49" r="0.95" fill="#7ccfca" fill-opacity="0.7" stroke="#7ccfca" stroke-width="0.45"/><circle cx="582.27" cy="310.37" r="0.95" fill="#f2c898" fill-opacity="0.7" stroke="#f2c898" stroke-width="0.45"/><circle cx="585.14" cy="309.94" r="0.95" fill="#9cbcf0" fill-opacity="0.7" stroke="#9cbcf0" stroke-width="0.45"/><circle cx="586.93" cy="310.47" r="0.95" fill="#7ccfca" fill-opacity="0.7" stroke="#7ccfca" stroke-width="0.45"/><circle cx="589.22" cy="310.63" r="0.95" fill="#c0a4e4" fill-opacity="0.7" stroke="#c0a4e4" stroke-width="0.45"/><circle cx="591.74" cy="310.58" r="0.95" fill="#e0707e" fill-opacity="0.7" stroke="#e0707e" stroke-width="0.45"/><circle cx="593.87" cy="310.34" r="0.95" fill="#a994dc" fill-opacity="0.7" stroke="#a994dc" stroke-width="0.45"/><circle cx="595.92" cy="310.51" r="0.95" fill="#8ca6ea" fill-opacity="0.7" stroke="#8ca6ea" stroke-width="0.45"/><circle cx="597.81" cy="309.90" r="0.95" fill="#7ccfca" fill-opacity="0.7" stroke="#7ccfca" stroke-width="0.45"/><circle cx="600.46" cy="310.28" r="0.95" fill="#8ca6ea" fill-opacity="0.7" stroke="#8ca6ea" stroke-width="0.45"/><circle cx="602.07" cy="310.54" r="0.95" fill="#8ca6ea" fill-opacity="0.7" stroke="#8ca6ea" stroke-width="0.45"/><circle cx="604.37" cy="310.14" r="0.95" fill="#f2c898" fill-opacity="0.7" stroke="#f2c898" stroke-width="0.45"/><circle cx="606.54" cy="310.02" r="0.95" fill="#7ccfca" fill-opacity="0.7" stroke="#7ccfca" stroke-width="0.45"/><circle cx="609.29" cy="310.46" r="0.95" fill="#c0a4e4" fill-opacity="0.7" stroke="#c0a4e4" stroke-width="0.45"/><circle cx="611.30" cy="310.45" r="0.95" fill="#7ccfca" fill-opacity="0.7" stroke="#7ccfca" stroke-width="0.45"/><circle cx="613.36" cy="310.51" r="0.95" fill="#e0707e" fill-opacity="0.7" stroke="#e0707e" stroke-width="0.45"/><circle cx="615.79" cy="310.65" r="0.95" fill="#a994dc" fill-opacity="0.7" stroke="#a994dc" stroke-width="0.45"/><circle cx="618.13" cy="310.09" r="0.95" fill="#e88aa0" fill-opacity="0.7" stroke="#e88aa0" stroke-width="0.45"/><circle cx="574.80" cy="312.39" r="0.95" fill="#9cbcf0" fill-opacity="0.7" stroke="#9cbcf0" stroke-width="0.45"/><circle cx="577.33" cy="312.54" r="0.95" fill="#7ccfca" fill-opacity="0.7" stroke="#7ccfca" stroke-width="0.45"/><circle cx="578.98" cy="312.14" r="0.95" fill="#e88aa0" fill-opacity="0.7" stroke="#e88aa0" stroke-width="0.45"/><circle cx="581.81" cy="312.54" r="0.95" fill="#7ccfca" fill-opacity="0.7" stroke="#7ccfca" stroke-width="0.45"/><circle cx="583.84" cy="312.17" r="0.95" fill="#8ca6ea" fill-opacity="0.7" stroke="#8ca6ea" stroke-width="0.45"/><circle cx="585.88" cy="312.10" r="0.95" fill="#f2c898" fill-opacity="0.7" stroke="#f2c898" stroke-width="0.45"/><circle cx="588.34" cy="312.58" r="0.95" fill="#7ccfca" fill-opacity="0.7" stroke="#7ccfca" stroke-width="0.45"/><circle cx="590.25" cy="311.99" r="0.95" fill="#e0707e" fill-opacity="0.7" stroke="#e0707e" stroke-width="0.45"/><circle cx="592.34" cy="312.33" r="0.95" fill="#a994dc" fill-opacity="0.7" stroke="#a994dc" stroke-width="0.45"/><circle cx="594.66" cy="312.57" r="0.95" fill="#e88aa0" fill-opacity="0.7" stroke="#e88aa0" stroke-width="0.45"/><circle cx="596.90" cy="311.98" r="0.95" fill="#e88aa0" fill-opacity="0.7" stroke="#e88aa0" stroke-width="0.45"/><circle cx="599.12" cy="312.44" r="0.95" fill="#a994dc" fill-opacity="0.7" stroke="#a994dc" stroke-width="0.45"/><circle cx="601.04" cy="311.81" r="0.95" fill="#e88aa0" fill-opacity="0.7" stroke="#e88aa0" stroke-width="0.45"/><circle cx="603.79" cy="312.24" r="0.95" fill="#f2c898" fill-opacity="0.7" stroke="#f2c898" stroke-width="0.45"/><circle cx="605.42" cy="311.83" r="0.95" fill="#a994dc" fill-opacity="0.7" stroke="#a994dc" stroke-width="0.45"/><circle cx="608.06" cy="312.49" r="0.95" fill="#f2c898" fill-opacity="0.7" stroke="#f2c898" stroke-width="0.45"/><circle cx="610.27" cy="311.92" r="0.95" fill="#e88aa0" fill-opacity="0.7" stroke="#e88aa0" stroke-width="0.45"/><circle cx="611.97" cy="312.48" r="0.95" fill="#e0707e" fill-opacity="0.7" stroke="#e0707e" stroke-width="0.45"/><circle cx="614.56" cy="312.06" r="0.95" fill="#c0a4e4" fill-opacity="0.7" stroke="#c0a4e4" stroke-width="0.45"/><circle cx="617.04" cy="311.96" r="0.95" fill="#9cbcf0" fill-opacity="0.7" stroke="#9cbcf0" stroke-width="0.45"/><circle cx="619.21" cy="312.28" r="0.95" fill="#8ca6ea" fill-opacity="0.7" stroke="#8ca6ea" stroke-width="0.45"/><circle cx="571.98" cy="314.08" r="0.95" fill="#a994dc" fill-opacity="0.7" stroke="#a994dc" stroke-width="0.45"/><circle cx="573.82" cy="314.21" r="0.95" fill="#e0707e" fill-opacity="0.7" stroke="#e0707e" stroke-width="0.45"/><circle cx="575.84" cy="314.04" r="0.95" fill="#e0707e" fill-opacity="0.7" stroke="#e0707e" stroke-width="0.45"/><circle cx="577.88" cy="314.31" r="0.95" fill="#9cbcf0" fill-opacity="0.7" stroke="#9cbcf0" stroke-width="0.45"/><circle cx="580.72" cy="313.83" r="0.95" fill="#a994dc" fill-opacity="0.7" stroke="#a994dc" stroke-width="0.45"/><circle cx="582.25" cy="314.10" r="0.95" fill="#e88aa0" fill-opacity="0.7" stroke="#e88aa0" stroke-width="0.45"/><circle cx="584.46" cy="313.79" r="0.95" fill="#c0a4e4" fill-opacity="0.7" stroke="#c0a4e4" stroke-width="0.45"/><circle cx="586.94" cy="313.77" r="0.95" fill="#a994dc" fill-opacity="0.7" stroke="#a994dc" stroke-width="0.45"/><circle cx="589.08" cy="313.75" r="0.95" fill="#a994dc" fill-opacity="0.7" stroke="#a994dc" stroke-width="0.45"/><circle cx="591.28" cy="314.02" r="0.95" fill="#8ca6ea" fill-opacity="0.7" stroke="#8ca6ea" stroke-width="0.45"/><circle cx="593.79" cy="313.92" r="0.95" fill="#c0a4e4" fill-opacity="0.7" stroke="#c0a4e4" stroke-width="0.45"/><circle cx="595.76" cy="313.90" r="0.95" fill="#a994dc" fill-opacity="0.7" stroke="#a994dc" stroke-width="0.45"/><circle cx="597.79" cy="313.71" r="0.95" fill="#e88aa0" fill-opacity="0.7" stroke="#e88aa0" stroke-width="0.45"/><circle cx="600.42" cy="314.13" r="0.95" fill="#9cbcf0" fill-opacity="0.7" stroke="#9cbcf0" stroke-width="0.45"/><circle cx="602.12" cy="314.33" r="0.95" fill="#e88aa0" fill-opacity="0.7" stroke="#e88aa0" stroke-width="0.45"/><circle cx="604.29" cy="314.33" r="0.95" fill="#7ccfca" fill-opacity="0.7" stroke="#7ccfca" stroke-width="0.45"/><circle cx="606.85" cy="313.72" r="0.95" fill="#a994dc" fill-opacity="0.7" stroke="#a994dc" stroke-width="0.45"/><circle cx="608.99" cy="313.75" r="0.95" fill="#a994dc" fill-opacity="0.7" stroke="#a994dc" stroke-width="0.45"/><circle cx="611.41" cy="314.41" r="0.95" fill="#7ccfca" fill-opacity="0.7" stroke="#7ccfca" stroke-width="0.45"/><circle cx="613.08" cy="313.72" r="0.95" fill="#f2c898" fill-opacity="0.7" stroke="#f2c898" stroke-width="0.45"/><circle cx="615.68" cy="314.41" r="0.95" fill="#c0a4e4" fill-opacity="0.7" stroke="#c0a4e4" stroke-width="0.45"/><circle cx="617.89" cy="314.09" r="0.95" fill="#e0707e" fill-opacity="0.7" stroke="#e0707e" stroke-width="0.45"/><circle cx="620.37" cy="314.06" r="0.95" fill="#7ccfca" fill-opacity="0.7" stroke="#7ccfca" stroke-width="0.45"/><circle cx="572.76" cy="315.79" r="0.95" fill="#e88aa0" fill-opacity="0.7" stroke="#e88aa0" stroke-width="0.45"/><circle cx="574.83" cy="315.93" r="0.95" fill="#8ca6ea" fill-opacity="0.7" stroke="#8ca6ea" stroke-width="0.45"/><circle cx="577.43" cy="315.64" r="0.95" fill="#e0707e" fill-opacity="0.7" stroke="#e0707e" stroke-width="0.45"/><circle cx="579.19" cy="316.01" r="0.95" fill="#a994dc" fill-opacity="0.7" stroke="#a994dc" stroke-width="0.45"/><circle cx="581.90" cy="315.96" r="0.95" fill="#a994dc" fill-opacity="0.7" stroke="#a994dc" stroke-width="0.45"/><circle cx="583.59" cy="316.18" r="0.95" fill="#e0707e" fill-opacity="0.7" stroke="#e0707e" stroke-width="0.45"/><circle cx="585.97" cy="315.66" r="0.95" fill="#7ccfca" fill-opacity="0.7" stroke="#7ccfca" stroke-width="0.45"/><circle cx="587.94" cy="316.08" r="0.95" fill="#c0a4e4" fill-opacity="0.7" stroke="#c0a4e4" stroke-width="0.45"/><circle cx="590.09" cy="315.98" r="0.95" fill="#7ccfca" fill-opacity="0.7" stroke="#7ccfca" stroke-width="0.45"/><circle cx="592.39" cy="315.95" r="0.95" fill="#c0a4e4" fill-opacity="0.7" stroke="#c0a4e4" stroke-width="0.45"/><circle cx="594.94" cy="315.67" r="0.95" fill="#9cbcf0" fill-opacity="0.7" stroke="#9cbcf0" stroke-width="0.45"/><circle cx="597.30" cy="315.62" r="0.95" fill="#8ca6ea" fill-opacity="0.7" stroke="#8ca6ea" stroke-width="0.45"/><circle cx="599.19" cy="316.00" r="0.95" fill="#e88aa0" fill-opacity="0.7" stroke="#e88aa0" stroke-width="0.45"/><circle cx="601.41" cy="316.28" r="0.95" fill="#e0707e" fill-opacity="0.7" stroke="#e0707e" stroke-width="0.45"/><circle cx="603.90" cy="315.74" r="0.95" fill="#7ccfca" fill-opacity="0.7" stroke="#7ccfca" stroke-width="0.45"/><circle cx="605.68" cy="315.67" r="0.95" fill="#8ca6ea" fill-opacity="0.7" stroke="#8ca6ea" stroke-width="0.45"/><circle cx="607.52" cy="316.27" r="0.95" fill="#f2c898" fill-opacity="0.7" stroke="#f2c898" stroke-width="0.45"/><circle cx="610.19" cy="316.04" r="0.95" fill="#a994dc" fill-opacity="0.7" stroke="#a994dc" stroke-width="0.45"/><circle cx="612.57" cy="315.92" r="0.95" fill="#e88aa0" fill-opacity="0.7" stroke="#e88aa0" stroke-width="0.45"/><circle cx="614.60" cy="315.95" r="0.95" fill="#7ccfca" fill-opacity="0.7" stroke="#7ccfca" stroke-width="0.45"/><circle cx="616.70" cy="316.24" r="0.95" fill="#e88aa0" fill-opacity="0.7" stroke="#e88aa0" stroke-width="0.45"/><circle cx="618.51" cy="316.25" r="0.95" fill="#e88aa0" fill-opacity="0.7" stroke="#e88aa0" stroke-width="0.45"/><circle cx="621.32" cy="316.27" r="0.95" fill="#c0a4e4" fill-opacity="0.7" stroke="#c0a4e4" stroke-width="0.45"/><circle cx="572.00" cy="317.61" r="0.95" fill="#e88aa0" fill-opacity="0.7" stroke="#e88aa0" stroke-width="0.45"/><circle cx="574.15" cy="318.22" r="0.95" fill="#a994dc" fill-opacity="0.7" stroke="#a994dc" stroke-width="0.45"/><circle cx="575.93" cy="317.81" r="0.95" fill="#e0707e" fill-opacity="0.7" stroke="#e0707e" stroke-width="0.45"/><circle cx="577.92" cy="318.08" r="0.95" fill="#a994dc" fill-opacity="0.7" stroke="#a994dc" stroke-width="0.45"/><circle cx="580.67" cy="318.12" r="0.95" fill="#e88aa0" fill-opacity="0.7" stroke="#e88aa0" stroke-width="0.45"/><circle cx="582.60" cy="317.69" r="0.95" fill="#e88aa0" fill-opacity="0.7" stroke="#e88aa0" stroke-width="0.45"/><circle cx="584.94" cy="318.04" r="0.95" fill="#e88aa0" fill-opacity="0.7" stroke="#e88aa0" stroke-width="0.45"/><circle cx="587.34" cy="318.28" r="0.95" fill="#8ca6ea" fill-opacity="0.7" stroke="#8ca6ea" stroke-width="0.45"/><circle cx="589.39" cy="317.62" r="0.95" fill="#f2c898" fill-opacity="0.7" stroke="#f2c898" stroke-width="0.45"/><circle cx="591.40" cy="318.13" r="0.95" fill="#c0a4e4" fill-opacity="0.7" stroke="#c0a4e4" stroke-width="0.45"/><circle cx="593.98" cy="318.23" r="0.95" fill="#7ccfca" fill-opacity="0.7" stroke="#7ccfca" stroke-width="0.45"/><circle cx="595.75" cy="318.14" r="0.95" fill="#e88aa0" fill-opacity="0.7" stroke="#e88aa0" stroke-width="0.45"/><circle cx="597.78" cy="317.70" r="0.95" fill="#a994dc" fill-opacity="0.7" stroke="#a994dc" stroke-width="0.45"/><circle cx="599.92" cy="317.53" r="0.95" fill="#a994dc" fill-opacity="0.7" stroke="#a994dc" stroke-width="0.45"/><circle cx="602.08" cy="317.94" r="0.95" fill="#f2c898" fill-opacity="0.7" stroke="#f2c898" stroke-width="0.45"/><circle cx="604.73" cy="318.11" r="0.95" fill="#c0a4e4" fill-opacity="0.7" stroke="#c0a4e4" stroke-width="0.45"/><circle cx="606.47" cy="318.22" r="0.95" fill="#7ccfca" fill-opacity="0.7" stroke="#7ccfca" stroke-width="0.45"/><circle cx="609.35" cy="318.06" r="0.95" fill="#f2c898" fill-opacity="0.7" stroke="#f2c898" stroke-width="0.45"/><circle cx="611.30" cy="318.21" r="0.95" fill="#9cbcf0" fill-opacity="0.7" stroke="#9cbcf0" stroke-width="0.45"/><circle cx="613.24" cy="317.85" r="0.95" fill="#e88aa0" fill-opacity="0.7" stroke="#e88aa0" stroke-width="0.45"/><circle cx="615.98" cy="317.70" r="0.95" fill="#a994dc" fill-opacity="0.7" stroke="#a994dc" stroke-width="0.45"/><circle cx="617.59" cy="317.87" r="0.95" fill="#e88aa0" fill-opacity="0.7" stroke="#e88aa0" stroke-width="0.45"/><circle cx="620.12" cy="317.78" r="0.95" fill="#e0707e" fill-opacity="0.7" stroke="#e0707e" stroke-width="0.45"/><circle cx="622.12" cy="317.81" r="0.95" fill="#9cbcf0" fill-opacity="0.7" stroke="#9cbcf0" stroke-width="0.45"/><circle cx="572.74" cy="319.56" r="0.95" fill="#f2c898" fill-opacity="0.7" stroke="#f2c898" stroke-width="0.45"/><circle cx="574.93" cy="319.81" r="0.95" fill="#e88aa0" fill-opacity="0.7" stroke="#e88aa0" stroke-width="0.45"/><circle cx="577.47" cy="319.88" r="0.95" fill="#e88aa0" fill-opacity="0.7" stroke="#e88aa0" stroke-width="0.45"/><circle cx="579.67" cy="320.11" r="0.95" fill="#e88aa0" fill-opacity="0.7" stroke="#e88aa0" stroke-width="0.45"/><circle cx="581.49" cy="319.54" r="0.95" fill="#e0707e" fill-opacity="0.7" stroke="#e0707e" stroke-width="0.45"/><circle cx="583.41" cy="319.67" r="0.95" fill="#e88aa0" fill-opacity="0.7" stroke="#e88aa0" stroke-width="0.45"/><circle cx="586.23" cy="319.66" r="0.95" fill="#7ccfca" fill-opacity="0.7" stroke="#7ccfca" stroke-width="0.45"/><circle cx="587.92" cy="319.70" r="0.95" fill="#e0707e" fill-opacity="0.7" stroke="#e0707e" stroke-width="0.45"/><circle cx="590.70" cy="319.90" r="0.95" fill="#e88aa0" fill-opacity="0.7" stroke="#e88aa0" stroke-width="0.45"/><circle cx="592.29" cy="319.94" r="0.95" fill="#f2c898" fill-opacity="0.7" stroke="#f2c898" stroke-width="0.45"/><circle cx="594.47" cy="319.78" r="0.95" fill="#e88aa0" fill-opacity="0.7" stroke="#e88aa0" stroke-width="0.45"/><circle cx="596.99" cy="320.07" r="0.95" fill="#f2c898" fill-opacity="0.7" stroke="#f2c898" stroke-width="0.45"/><circle cx="599.44" cy="319.90" r="0.95" fill="#9cbcf0" fill-opacity="0.7" stroke="#9cbcf0" stroke-width="0.45"/><circle cx="601.21" cy="319.89" r="0.95" fill="#e88aa0" fill-opacity="0.7" stroke="#e88aa0" stroke-width="0.45"/><circle cx="603.15" cy="319.96" r="0.95" fill="#f2c898" fill-opacity="0.7" stroke="#f2c898" stroke-width="0.45"/><circle cx="605.72" cy="319.64" r="0.95" fill="#7ccfca" fill-opacity="0.7" stroke="#7ccfca" stroke-width="0.45"/><circle cx="607.71" cy="319.93" r="0.95" fill="#e0707e" fill-opacity="0.7" stroke="#e0707e" stroke-width="0.45"/><circle cx="609.93" cy="320.06" r="0.95" fill="#7ccfca" fill-opacity="0.7" stroke="#7ccfca" stroke-width="0.45"/><circle cx="611.96" cy="319.90" r="0.95" fill="#c0a4e4" fill-opacity="0.7" stroke="#c0a4e4" stroke-width="0.45"/><circle cx="614.14" cy="319.50" r="0.95" fill="#e88aa0" fill-opacity="0.7" stroke="#e88aa0" stroke-width="0.45"/><circle cx="616.59" cy="319.80" r="0.95" fill="#a994dc" fill-opacity="0.7" stroke="#a994dc" stroke-width="0.45"/><circle cx="618.91" cy="319.63" r="0.95" fill="#9cbcf0" fill-opacity="0.7" stroke="#9cbcf0" stroke-width="0.45"/><circle cx="620.96" cy="319.95" r="0.95" fill="#9cbcf0" fill-opacity="0.7" stroke="#9cbcf0" stroke-width="0.45"/><circle cx="571.91" cy="321.88" r="0.95" fill="#9cbcf0" fill-opacity="0.7" stroke="#9cbcf0" stroke-width="0.45"/><circle cx="573.49" cy="321.76" r="0.95" fill="#e0707e" fill-opacity="0.7" stroke="#e0707e" stroke-width="0.45"/><circle cx="576.06" cy="322.09" r="0.95" fill="#7ccfca" fill-opacity="0.7" stroke="#7ccfca" stroke-width="0.45"/><circle cx="577.88" cy="321.41" r="0.95" fill="#f2c898" fill-opacity="0.7" stroke="#f2c898" stroke-width="0.45"/><circle cx="580.16" cy="321.90" r="0.95" fill="#f2c898" fill-opacity="0.7" stroke="#f2c898" stroke-width="0.45"/><circle cx="582.83" cy="321.36" r="0.95" fill="#7ccfca" fill-opacity="0.7" stroke="#7ccfca" stroke-width="0.45"/><circle cx="585.07" cy="321.38" r="0.95" fill="#e88aa0" fill-opacity="0.7" stroke="#e88aa0" stroke-width="0.45"/><circle cx="586.83" cy="321.71" r="0.95" fill="#8ca6ea" fill-opacity="0.7" stroke="#8ca6ea" stroke-width="0.45"/><circle cx="588.96" cy="321.48" r="0.95" fill="#e88aa0" fill-opacity="0.7" stroke="#e88aa0" stroke-width="0.45"/><circle cx="591.38" cy="321.87" r="0.95" fill="#e0707e" fill-opacity="0.7" stroke="#e0707e" stroke-width="0.45"/><circle cx="593.40" cy="321.47" r="0.95" fill="#9cbcf0" fill-opacity="0.7" stroke="#9cbcf0" stroke-width="0.45"/><circle cx="595.73" cy="321.80" r="0.95" fill="#e0707e" fill-opacity="0.7" stroke="#e0707e" stroke-width="0.45"/><circle cx="598.30" cy="321.86" r="0.95" fill="#8ca6ea" fill-opacity="0.7" stroke="#8ca6ea" stroke-width="0.45"/><circle cx="600.54" cy="321.86" r="0.95" fill="#c0a4e4" fill-opacity="0.7" stroke="#c0a4e4" stroke-width="0.45"/><circle cx="602.59" cy="321.39" r="0.95" fill="#a994dc" fill-opacity="0.7" stroke="#a994dc" stroke-width="0.45"/><circle cx="604.65" cy="321.86" r="0.95" fill="#8ca6ea" fill-opacity="0.7" stroke="#8ca6ea" stroke-width="0.45"/><circle cx="606.85" cy="321.54" r="0.95" fill="#e0707e" fill-opacity="0.7" stroke="#e0707e" stroke-width="0.45"/><circle cx="609.22" cy="321.83" r="0.95" fill="#a994dc" fill-opacity="0.7" stroke="#a994dc" stroke-width="0.45"/><circle cx="611.02" cy="321.70" r="0.95" fill="#e0707e" fill-opacity="0.7" stroke="#e0707e" stroke-width="0.45"/><circle cx="613.36" cy="321.63" r="0.95" fill="#8ca6ea" fill-opacity="0.7" stroke="#8ca6ea" stroke-width="0.45"/><circle cx="615.67" cy="322.05" r="0.95" fill="#a994dc" fill-opacity="0.7" stroke="#a994dc" stroke-width="0.45"/><circle cx="617.47" cy="321.63" r="0.95" fill="#e88aa0" fill-opacity="0.7" stroke="#e88aa0" stroke-width="0.45"/><circle cx="619.66" cy="322.09" r="0.95" fill="#7ccfca" fill-opacity="0.7" stroke="#7ccfca" stroke-width="0.45"/><circle cx="622.48" cy="322.01" r="0.95" fill="#e0707e" fill-opacity="0.7" stroke="#e0707e" stroke-width="0.45"/><circle cx="570.85" cy="323.45" r="0.95" fill="#8ca6ea" fill-opacity="0.7" stroke="#8ca6ea" stroke-width="0.45"/><circle cx="572.77" cy="323.82" r="0.95" fill="#e88aa0" fill-opacity="0.7" stroke="#e88aa0" stroke-width="0.45"/><circle cx="575.05" cy="323.53" r="0.95" fill="#9cbcf0" fill-opacity="0.7" stroke="#9cbcf0" stroke-width="0.45"/><circle cx="576.76" cy="323.29" r="0.95" fill="#e0707e" fill-opacity="0.7" stroke="#e0707e" stroke-width="0.45"/><circle cx="579.34" cy="323.39" r="0.95" fill="#c0a4e4" fill-opacity="0.7" stroke="#c0a4e4" stroke-width="0.45"/><circle cx="581.83" cy="324.04" r="0.95" fill="#9cbcf0" fill-opacity="0.7" stroke="#9cbcf0" stroke-width="0.45"/><circle cx="583.52" cy="323.72" r="0.95" fill="#9cbcf0" fill-opacity="0.7" stroke="#9cbcf0" stroke-width="0.45"/><circle cx="586.23" cy="323.90" r="0.95" fill="#c0a4e4" fill-opacity="0.7" stroke="#c0a4e4" stroke-width="0.45"/><circle cx="588.21" cy="323.75" r="0.95" fill="#e88aa0" fill-opacity="0.7" stroke="#e88aa0" stroke-width="0.45"/><circle cx="590.41" cy="323.51" r="0.95" fill="#7ccfca" fill-opacity="0.7" stroke="#7ccfca" stroke-width="0.45"/><circle cx="592.10" cy="323.51" r="0.95" fill="#7ccfca" fill-opacity="0.7" stroke="#7ccfca" stroke-width="0.45"/><circle cx="594.80" cy="323.72" r="0.95" fill="#e0707e" fill-opacity="0.7" stroke="#e0707e" stroke-width="0.45"/><circle cx="596.79" cy="323.84" r="0.95" fill="#f2c898" fill-opacity="0.7" stroke="#f2c898" stroke-width="0.45"/><circle cx="599.36" cy="323.78" r="0.95" fill="#e0707e" fill-opacity="0.7" stroke="#e0707e" stroke-width="0.45"/><circle cx="601.51" cy="323.36" r="0.95" fill="#a994dc" fill-opacity="0.7" stroke="#a994dc" stroke-width="0.45"/><circle cx="603.75" cy="323.63" r="0.95" fill="#9cbcf0" fill-opacity="0.7" stroke="#9cbcf0" stroke-width="0.45"/><circle cx="605.39" cy="323.56" r="0.95" fill="#f2c898" fill-opacity="0.7" stroke="#f2c898" stroke-width="0.45"/><circle cx="607.51" cy="323.97" r="0.95" fill="#8ca6ea" fill-opacity="0.7" stroke="#8ca6ea" stroke-width="0.45"/><circle cx="609.84" cy="323.29" r="0.95" fill="#e88aa0" fill-opacity="0.7" stroke="#e88aa0" stroke-width="0.45"/><circle cx="612.55" cy="323.52" r="0.95" fill="#c0a4e4" fill-opacity="0.7" stroke="#c0a4e4" stroke-width="0.45"/><circle cx="614.86" cy="324.07" r="0.95" fill="#7ccfca" fill-opacity="0.7" stroke="#7ccfca" stroke-width="0.45"/><circle cx="616.52" cy="323.86" r="0.95" fill="#f2c898" fill-opacity="0.7" stroke="#f2c898" stroke-width="0.45"/><circle cx="618.68" cy="323.53" r="0.95" fill="#a994dc" fill-opacity="0.7" stroke="#a994dc" stroke-width="0.45"/><circle cx="621.47" cy="324.05" r="0.95" fill="#8ca6ea" fill-opacity="0.7" stroke="#8ca6ea" stroke-width="0.45"/><circle cx="623.09" cy="323.36" r="0.95" fill="#9cbcf0" fill-opacity="0.7" stroke="#9cbcf0" stroke-width="0.45"/><circle cx="569.31" cy="325.29" r="0.95" fill="#8ca6ea" fill-opacity="0.7" stroke="#8ca6ea" stroke-width="0.45"/><circle cx="571.32" cy="325.38" r="0.95" fill="#f2c898" fill-opacity="0.7" stroke="#f2c898" stroke-width="0.45"/><circle cx="573.98" cy="325.44" r="0.95" fill="#e88aa0" fill-opacity="0.7" stroke="#e88aa0" stroke-width="0.45"/><circle cx="575.90" cy="325.69" r="0.95" fill="#7ccfca" fill-opacity="0.7" stroke="#7ccfca" stroke-width="0.45"/><circle cx="578.16" cy="325.83" r="0.95" fill="#e0707e" fill-opacity="0.7" stroke="#e0707e" stroke-width="0.45"/><circle cx="580.67" cy="325.81" r="0.95" fill="#7ccfca" fill-opacity="0.7" stroke="#7ccfca" stroke-width="0.45"/><circle cx="582.35" cy="325.25" r="0.95" fill="#c0a4e4" fill-opacity="0.7" stroke="#c0a4e4" stroke-width="0.45"/><circle cx="585.17" cy="325.38" r="0.95" fill="#e88aa0" fill-opacity="0.7" stroke="#e88aa0" stroke-width="0.45"/><circle cx="586.95" cy="325.54" r="0.95" fill="#e88aa0" fill-opacity="0.7" stroke="#e88aa0" stroke-width="0.45"/><circle cx="589.48" cy="325.72" r="0.95" fill="#e0707e" fill-opacity="0.7" stroke="#e0707e" stroke-width="0.45"/><circle cx="591.01" cy="325.43" r="0.95" fill="#c0a4e4" fill-opacity="0.7" stroke="#c0a4e4" stroke-width="0.45"/><circle cx="593.57" cy="325.38" r="0.95" fill="#9cbcf0" fill-opacity="0.7" stroke="#9cbcf0" stroke-width="0.45"/><circle cx="596.11" cy="325.20" r="0.95" fill="#7ccfca" fill-opacity="0.7" stroke="#7ccfca" stroke-width="0.45"/><circle cx="597.61" cy="325.23" r="0.95" fill="#8ca6ea" fill-opacity="0.7" stroke="#8ca6ea" stroke-width="0.45"/><circle cx="600.46" cy="325.24" r="0.95" fill="#f2c898" fill-opacity="0.7" stroke="#f2c898" stroke-width="0.45"/><circle cx="602.16" cy="325.34" r="0.95" fill="#f2c898" fill-opacity="0.7" stroke="#f2c898" stroke-width="0.45"/><circle cx="604.27" cy="325.26" r="0.95" fill="#e0707e" fill-opacity="0.7" stroke="#e0707e" stroke-width="0.45"/><circle cx="606.50" cy="325.27" r="0.95" fill="#c0a4e4" fill-opacity="0.7" stroke="#c0a4e4" stroke-width="0.45"/><circle cx="608.62" cy="325.45" r="0.95" fill="#f2c898" fill-opacity="0.7" stroke="#f2c898" stroke-width="0.45"/><circle cx="611.36" cy="325.74" r="0.95" fill="#c0a4e4" fill-opacity="0.7" stroke="#c0a4e4" stroke-width="0.45"/><circle cx="613.21" cy="325.91" r="0.95" fill="#f2c898" fill-opacity="0.7" stroke="#f2c898" stroke-width="0.45"/><circle cx="615.68" cy="325.87" r="0.95" fill="#e0707e" fill-opacity="0.7" stroke="#e0707e" stroke-width="0.45"/><circle cx="618.08" cy="325.35" r="0.95" fill="#e88aa0" fill-opacity="0.7" stroke="#e88aa0" stroke-width="0.45"/><circle cx="619.87" cy="325.92" r="0.95" fill="#8ca6ea" fill-opacity="0.7" stroke="#8ca6ea" stroke-width="0.45"/><circle cx="621.90" cy="325.28" r="0.95" fill="#9cbcf0" fill-opacity="0.7" stroke="#9cbcf0" stroke-width="0.45"/><circle cx="624.50" cy="325.23" r="0.95" fill="#7ccfca" fill-opacity="0.7" stroke="#7ccfca" stroke-width="0.45"/><circle cx="570.12" cy="327.10" r="0.95" fill="#8ca6ea" fill-opacity="0.7" stroke="#8ca6ea" stroke-width="0.45"/><circle cx="572.41" cy="327.76" r="0.95" fill="#9cbcf0" fill-opacity="0.7" stroke="#9cbcf0" stroke-width="0.45"/><circle cx="574.97" cy="327.60" r="0.95" fill="#9cbcf0" fill-opacity="0.7" stroke="#9cbcf0" stroke-width="0.45"/><circle cx="576.77" cy="327.37" r="0.95" fill="#8ca6ea" fill-opacity="0.7" stroke="#8ca6ea" stroke-width="0.45"/><circle cx="579.12" cy="327.29" r="0.95" fill="#9cbcf0" fill-opacity="0.7" stroke="#9cbcf0" stroke-width="0.45"/><circle cx="581.67" cy="327.27" r="0.95" fill="#e0707e" fill-opacity="0.7" stroke="#e0707e" stroke-width="0.45"/><circle cx="583.92" cy="327.76" r="0.95" fill="#e0707e" fill-opacity="0.7" stroke="#e0707e" stroke-width="0.45"/><circle cx="585.59" cy="327.40" r="0.95" fill="#a994dc" fill-opacity="0.7" stroke="#a994dc" stroke-width="0.45"/><circle cx="587.83" cy="327.84" r="0.95" fill="#9cbcf0" fill-opacity="0.7" stroke="#9cbcf0" stroke-width="0.45"/><circle cx="589.92" cy="327.36" r="0.95" fill="#a994dc" fill-opacity="0.7" stroke="#a994dc" stroke-width="0.45"/><circle cx="592.11" cy="327.78" r="0.95" fill="#f2c898" fill-opacity="0.7" stroke="#f2c898" stroke-width="0.45"/><circle cx="594.83" cy="327.59" r="0.95" fill="#f2c898" fill-opacity="0.7" stroke="#f2c898" stroke-width="0.45"/><circle cx="596.68" cy="327.10" r="0.95" fill="#e88aa0" fill-opacity="0.7" stroke="#e88aa0" stroke-width="0.45"/><circle cx="599.37" cy="327.43" r="0.95" fill="#c0a4e4" fill-opacity="0.7" stroke="#c0a4e4" stroke-width="0.45"/><circle cx="601.09" cy="327.54" r="0.95" fill="#c0a4e4" fill-opacity="0.7" stroke="#c0a4e4" stroke-width="0.45"/><circle cx="603.40" cy="327.26" r="0.95" fill="#e88aa0" fill-opacity="0.7" stroke="#e88aa0" stroke-width="0.45"/><circle cx="605.39" cy="327.50" r="0.95" fill="#c0a4e4" fill-opacity="0.7" stroke="#c0a4e4" stroke-width="0.45"/><circle cx="608.05" cy="327.21" r="0.95" fill="#c0a4e4" fill-opacity="0.7" stroke="#c0a4e4" stroke-width="0.45"/><circle cx="610.22" cy="327.39" r="0.95" fill="#a994dc" fill-opacity="0.7" stroke="#a994dc" stroke-width="0.45"/><circle cx="612.09" cy="327.88" r="0.95" fill="#c0a4e4" fill-opacity="0.7" stroke="#c0a4e4" stroke-width="0.45"/><circle cx="614.22" cy="327.78" r="0.95" fill="#f2c898" fill-opacity="0.7" stroke="#f2c898" stroke-width="0.45"/><circle cx="617.02" cy="327.33" r="0.95" fill="#a994dc" fill-opacity="0.7" stroke="#a994dc" stroke-width="0.45"/><circle cx="619.28" cy="327.67" r="0.95" fill="#7ccfca" fill-opacity="0.7" stroke="#7ccfca" stroke-width="0.45"/><circle cx="621.18" cy="327.76" r="0.95" fill="#8ca6ea" fill-opacity="0.7" stroke="#8ca6ea" stroke-width="0.45"/><circle cx="623.33" cy="327.62" r="0.95" fill="#c0a4e4" fill-opacity="0.7" stroke="#c0a4e4" stroke-width="0.45"/><circle cx="569.72" cy="329.18" r="0.95" fill="#f2c898" fill-opacity="0.7" stroke="#f2c898" stroke-width="0.45"/><circle cx="571.88" cy="329.42" r="0.95" fill="#8ca6ea" fill-opacity="0.7" stroke="#8ca6ea" stroke-width="0.45"/><circle cx="574.12" cy="329.62" r="0.95" fill="#e88aa0" fill-opacity="0.7" stroke="#e88aa0" stroke-width="0.45"/><circle cx="575.94" cy="329.35" r="0.95" fill="#a994dc" fill-opacity="0.7" stroke="#a994dc" stroke-width="0.45"/><circle cx="578.24" cy="329.59" r="0.95" fill="#f2c898" fill-opacity="0.7" stroke="#f2c898" stroke-width="0.45"/><circle cx="580.08" cy="329.38" r="0.95" fill="#c0a4e4" fill-opacity="0.7" stroke="#c0a4e4" stroke-width="0.45"/><circle cx="582.39" cy="329.42" r="0.95" fill="#e88aa0" fill-opacity="0.7" stroke="#e88aa0" stroke-width="0.45"/><circle cx="585.02" cy="329.71" r="0.95" fill="#9cbcf0" fill-opacity="0.7" stroke="#9cbcf0" stroke-width="0.45"/><circle cx="586.88" cy="329.16" r="0.95" fill="#f2c898" fill-opacity="0.7" stroke="#f2c898" stroke-width="0.45"/><circle cx="589.55" cy="329.14" r="0.95" fill="#a994dc" fill-opacity="0.7" stroke="#a994dc" stroke-width="0.45"/><circle cx="591.25" cy="329.54" r="0.95" fill="#7ccfca" fill-opacity="0.7" stroke="#7ccfca" stroke-width="0.45"/><circle cx="593.57" cy="329.79" r="0.95" fill="#f2c898" fill-opacity="0.7" stroke="#f2c898" stroke-width="0.45"/><circle cx="595.60" cy="329.05" r="0.95" fill="#c0a4e4" fill-opacity="0.7" stroke="#c0a4e4" stroke-width="0.45"/><circle cx="598.17" cy="329.75" r="0.95" fill="#7ccfca" fill-opacity="0.7" stroke="#7ccfca" stroke-width="0.45"/><circle cx="600.48" cy="329.24" r="0.95" fill="#8ca6ea" fill-opacity="0.7" stroke="#8ca6ea" stroke-width="0.45"/><circle cx="602.07" cy="329.07" r="0.95" fill="#8ca6ea" fill-opacity="0.7" stroke="#8ca6ea" stroke-width="0.45"/><circle cx="604.98" cy="329.32" r="0.95" fill="#c0a4e4" fill-opacity="0.7" stroke="#c0a4e4" stroke-width="0.45"/><circle cx="607.20" cy="329.61" r="0.95" fill="#7ccfca" fill-opacity="0.7" stroke="#7ccfca" stroke-width="0.45"/><circle cx="609.22" cy="329.24" r="0.95" fill="#e88aa0" fill-opacity="0.7" stroke="#e88aa0" stroke-width="0.45"/><circle cx="611.34" cy="329.53" r="0.95" fill="#9cbcf0" fill-opacity="0.7" stroke="#9cbcf0" stroke-width="0.45"/><circle cx="613.55" cy="329.05" r="0.95" fill="#e88aa0" fill-opacity="0.7" stroke="#e88aa0" stroke-width="0.45"/><circle cx="615.96" cy="329.65" r="0.95" fill="#c0a4e4" fill-opacity="0.7" stroke="#c0a4e4" stroke-width="0.45"/><circle cx="617.63" cy="329.41" r="0.95" fill="#e0707e" fill-opacity="0.7" stroke="#e0707e" stroke-width="0.45"/><circle cx="619.64" cy="329.23" r="0.95" fill="#9cbcf0" fill-opacity="0.7" stroke="#9cbcf0" stroke-width="0.45"/><circle cx="622.56" cy="329.46" r="0.95" fill="#7ccfca" fill-opacity="0.7" stroke="#7ccfca" stroke-width="0.45"/><circle cx="568.27" cy="331.08" r="0.95" fill="#c0a4e4" fill-opacity="0.7" stroke="#c0a4e4" stroke-width="0.45"/><circle cx="570.20" cy="331.13" r="0.95" fill="#e88aa0" fill-opacity="0.7" stroke="#e88aa0" stroke-width="0.45"/><circle cx="572.68" cy="331.04" r="0.95" fill="#f2c898" fill-opacity="0.7" stroke="#f2c898" stroke-width="0.45"/><circle cx="574.95" cy="331.11" r="0.95" fill="#8ca6ea" fill-opacity="0.7" stroke="#8ca6ea" stroke-width="0.45"/><circle cx="577.44" cy="331.05" r="0.95" fill="#8ca6ea" fill-opacity="0.7" stroke="#8ca6ea" stroke-width="0.45"/><circle cx="578.93" cy="331.55" r="0.95" fill="#9cbcf0" fill-opacity="0.7" stroke="#9cbcf0" stroke-width="0.45"/><circle cx="581.22" cy="331.57" r="0.95" fill="#7ccfca" fill-opacity="0.7" stroke="#7ccfca" stroke-width="0.45"/><circle cx="583.69" cy="331.01" r="0.95" fill="#e88aa0" fill-opacity="0.7" stroke="#e88aa0" stroke-width="0.45"/><circle cx="586.25" cy="331.69" r="0.95" fill="#8ca6ea" fill-opacity="0.7" stroke="#8ca6ea" stroke-width="0.45"/><circle cx="588.10" cy="331.09" r="0.95" fill="#a994dc" fill-opacity="0.7" stroke="#a994dc" stroke-width="0.45"/><circle cx="590.09" cy="331.47" r="0.95" fill="#7ccfca" fill-opacity="0.7" stroke="#7ccfca" stroke-width="0.45"/><circle cx="592.88" cy="331.36" r="0.95" fill="#e0707e" fill-opacity="0.7" stroke="#e0707e" stroke-width="0.45"/><circle cx="595.02" cy="331.16" r="0.95" fill="#c0a4e4" fill-opacity="0.7" stroke="#c0a4e4" stroke-width="0.45"/><circle cx="596.69" cy="331.54" r="0.95" fill="#8ca6ea" fill-opacity="0.7" stroke="#8ca6ea" stroke-width="0.45"/><circle cx="599.43" cy="331.49" r="0.95" fill="#e0707e" fill-opacity="0.7" stroke="#e0707e" stroke-width="0.45"/><circle cx="601.45" cy="330.93" r="0.95" fill="#c0a4e4" fill-opacity="0.7" stroke="#c0a4e4" stroke-width="0.45"/><circle cx="603.25" cy="331.27" r="0.95" fill="#f2c898" fill-opacity="0.7" stroke="#f2c898" stroke-width="0.45"/><circle cx="605.65" cy="331.58" r="0.95" fill="#9cbcf0" fill-opacity="0.7" stroke="#9cbcf0" stroke-width="0.45"/><circle cx="608.02" cy="331.29" r="0.95" fill="#e88aa0" fill-opacity="0.7" stroke="#e88aa0" stroke-width="0.45"/><circle cx="610.00" cy="331.03" r="0.95" fill="#c0a4e4" fill-opacity="0.7" stroke="#c0a4e4" stroke-width="0.45"/><circle cx="612.36" cy="331.31" r="0.95" fill="#c0a4e4" fill-opacity="0.7" stroke="#c0a4e4" stroke-width="0.45"/><circle cx="614.24" cy="331.63" r="0.95" fill="#8ca6ea" fill-opacity="0.7" stroke="#8ca6ea" stroke-width="0.45"/><circle cx="616.78" cy="331.66" r="0.95" fill="#c0a4e4" fill-opacity="0.7" stroke="#c0a4e4" stroke-width="0.45"/><circle cx="619.05" cy="331.21" r="0.95" fill="#9cbcf0" fill-opacity="0.7" stroke="#9cbcf0" stroke-width="0.45"/><circle cx="621.39" cy="331.38" r="0.95" fill="#9cbcf0" fill-opacity="0.7" stroke="#9cbcf0" stroke-width="0.45"/><circle cx="567.55" cy="333.11" r="0.95" fill="#9cbcf0" fill-opacity="0.7" stroke="#9cbcf0" stroke-width="0.45"/><circle cx="569.56" cy="333.51" r="0.95" fill="#c0a4e4" fill-opacity="0.7" stroke="#c0a4e4" stroke-width="0.45"/><circle cx="571.29" cy="332.89" r="0.95" fill="#7ccfca" fill-opacity="0.7" stroke="#7ccfca" stroke-width="0.45"/><circle cx="573.78" cy="333.01" r="0.95" fill="#9cbcf0" fill-opacity="0.7" stroke="#9cbcf0" stroke-width="0.45"/><circle cx="575.61" cy="333.08" r="0.95" fill="#a994dc" fill-opacity="0.7" stroke="#a994dc" stroke-width="0.45"/><circle cx="578.31" cy="333.55" r="0.95" fill="#e0707e" fill-opacity="0.7" stroke="#e0707e" stroke-width="0.45"/><circle cx="580.00" cy="333.14" r="0.95" fill="#7ccfca" fill-opacity="0.7" stroke="#7ccfca" stroke-width="0.45"/><circle cx="582.44" cy="333.60" r="0.95" fill="#8ca6ea" fill-opacity="0.7" stroke="#8ca6ea" stroke-width="0.45"/><circle cx="584.86" cy="333.00" r="0.95" fill="#c0a4e4" fill-opacity="0.7" stroke="#c0a4e4" stroke-width="0.45"/><circle cx="587.39" cy="332.95" r="0.95" fill="#f2c898" fill-opacity="0.7" stroke="#f2c898" stroke-width="0.45"/><circle cx="589.56" cy="333.49" r="0.95" fill="#f2c898" fill-opacity="0.7" stroke="#f2c898" stroke-width="0.45"/><circle cx="591.15" cy="332.88" r="0.95" fill="#e88aa0" fill-opacity="0.7" stroke="#e88aa0" stroke-width="0.45"/><circle cx="593.21" cy="333.52" r="0.95" fill="#f2c898" fill-opacity="0.7" stroke="#f2c898" stroke-width="0.45"/><circle cx="595.64" cy="333.04" r="0.95" fill="#e0707e" fill-opacity="0.7" stroke="#e0707e" stroke-width="0.45"/><circle cx="597.65" cy="332.89" r="0.95" fill="#c0a4e4" fill-opacity="0.7" stroke="#c0a4e4" stroke-width="0.45"/><circle cx="600.17" cy="333.01" r="0.95" fill="#9cbcf0" fill-opacity="0.7" stroke="#9cbcf0" stroke-width="0.45"/><circle cx="602.01" cy="333.51" r="0.95" fill="#9cbcf0" fill-opacity="0.7" stroke="#9cbcf0" stroke-width="0.45"/><circle cx="604.38" cy="333.01" r="0.95" fill="#9cbcf0" fill-opacity="0.7" stroke="#9cbcf0" stroke-width="0.45"/><circle cx="606.53" cy="333.09" r="0.95" fill="#e0707e" fill-opacity="0.7" stroke="#e0707e" stroke-width="0.45"/><circle cx="609.14" cy="333.38" r="0.95" fill="#f2c898" fill-opacity="0.7" stroke="#f2c898" stroke-width="0.45"/><circle cx="611.32" cy="332.98" r="0.95" fill="#9cbcf0" fill-opacity="0.7" stroke="#9cbcf0" stroke-width="0.45"/><circle cx="613.16" cy="333.56" r="0.95" fill="#8ca6ea" fill-opacity="0.7" stroke="#8ca6ea" stroke-width="0.45"/><circle cx="615.80" cy="333.20" r="0.95" fill="#e88aa0" fill-opacity="0.7" stroke="#e88aa0" stroke-width="0.45"/><circle cx="618.20" cy="333.25" r="0.95" fill="#f2c898" fill-opacity="0.7" stroke="#f2c898" stroke-width="0.45"/><circle cx="620.35" cy="333.17" r="0.95" fill="#c0a4e4" fill-opacity="0.7" stroke="#c0a4e4" stroke-width="0.45"/><circle cx="568.20" cy="335.02" r="0.95" fill="#a994dc" fill-opacity="0.7" stroke="#a994dc" stroke-width="0.45"/><circle cx="570.36" cy="334.99" r="0.95" fill="#8ca6ea" fill-opacity="0.7" stroke="#8ca6ea" stroke-width="0.45"/><circle cx="572.78" cy="334.83" r="0.95" fill="#e0707e" fill-opacity="0.7" stroke="#e0707e" stroke-width="0.45"/><circle cx="574.85" cy="334.93" r="0.95" fill="#f2c898" fill-opacity="0.7" stroke="#f2c898" stroke-width="0.45"/><circle cx="577.32" cy="334.85" r="0.95" fill="#9cbcf0" fill-opacity="0.7" stroke="#9cbcf0" stroke-width="0.45"/><circle cx="579.04" cy="335.06" r="0.95" fill="#f2c898" fill-opacity="0.7" stroke="#f2c898" stroke-width="0.45"/><circle cx="581.86" cy="335.55" r="0.95" fill="#e88aa0" fill-opacity="0.7" stroke="#e88aa0" stroke-width="0.45"/><circle cx="583.80" cy="334.80" r="0.95" fill="#c0a4e4" fill-opacity="0.7" stroke="#c0a4e4" stroke-width="0.45"/><circle cx="586.09" cy="335.45" r="0.95" fill="#8ca6ea" fill-opacity="0.7" stroke="#8ca6ea" stroke-width="0.45"/><circle cx="588.22" cy="334.86" r="0.95" fill="#8ca6ea" fill-opacity="0.7" stroke="#8ca6ea" stroke-width="0.45"/><circle cx="590.14" cy="334.75" r="0.95" fill="#f2c898" fill-opacity="0.7" stroke="#f2c898" stroke-width="0.45"/><circle cx="592.36" cy="335.23" r="0.95" fill="#e88aa0" fill-opacity="0.7" stroke="#e88aa0" stroke-width="0.45"/><circle cx="594.84" cy="335.43" r="0.95" fill="#7ccfca" fill-opacity="0.7" stroke="#7ccfca" stroke-width="0.45"/><circle cx="596.90" cy="335.33" r="0.95" fill="#e88aa0" fill-opacity="0.7" stroke="#e88aa0" stroke-width="0.45"/><circle cx="599.50" cy="334.95" r="0.95" fill="#e88aa0" fill-opacity="0.7" stroke="#e88aa0" stroke-width="0.45"/><circle cx="601.26" cy="335.45" r="0.95" fill="#f2c898" fill-opacity="0.7" stroke="#f2c898" stroke-width="0.45"/><circle cx="603.16" cy="335.26" r="0.95" fill="#8ca6ea" fill-opacity="0.7" stroke="#8ca6ea" stroke-width="0.45"/><circle cx="605.52" cy="335.34" r="0.95" fill="#a994dc" fill-opacity="0.7" stroke="#a994dc" stroke-width="0.45"/><circle cx="607.91" cy="335.04" r="0.95" fill="#e0707e" fill-opacity="0.7" stroke="#e0707e" stroke-width="0.45"/><circle cx="610.42" cy="335.21" r="0.95" fill="#e88aa0" fill-opacity="0.7" stroke="#e88aa0" stroke-width="0.45"/><circle cx="612.40" cy="334.90" r="0.95" fill="#a994dc" fill-opacity="0.7" stroke="#a994dc" stroke-width="0.45"/><circle cx="614.64" cy="334.94" r="0.95" fill="#8ca6ea" fill-opacity="0.7" stroke="#8ca6ea" stroke-width="0.45"/><circle cx="616.86" cy="335.14" r="0.95" fill="#a994dc" fill-opacity="0.7" stroke="#a994dc" stroke-width="0.45"/><circle cx="567.19" cy="337.30" r="0.95" fill="#c0a4e4" fill-opacity="0.7" stroke="#c0a4e4" stroke-width="0.45"/><circle cx="569.66" cy="337.46" r="0.95" fill="#7ccfca" fill-opacity="0.7" stroke="#7ccfca" stroke-width="0.45"/><circle cx="571.95" cy="336.68" r="0.95" fill="#e0707e" fill-opacity="0.7" stroke="#e0707e" stroke-width="0.45"/><circle cx="573.81" cy="337.07" r="0.95" fill="#c0a4e4" fill-opacity="0.7" stroke="#c0a4e4" stroke-width="0.45"/><circle cx="576.15" cy="337.25" r="0.95" fill="#7ccfca" fill-opacity="0.7" stroke="#7ccfca" stroke-width="0.45"/><circle cx="578.60" cy="337.04" r="0.95" fill="#f2c898" fill-opacity="0.7" stroke="#f2c898" stroke-width="0.45"/><circle cx="580.32" cy="337.07" r="0.95" fill="#e88aa0" fill-opacity="0.7" stroke="#e88aa0" stroke-width="0.45"/><circle cx="582.96" cy="337.07" r="0.95" fill="#c0a4e4" fill-opacity="0.7" stroke="#c0a4e4" stroke-width="0.45"/><circle cx="584.87" cy="337.31" r="0.95" fill="#a994dc" fill-opacity="0.7" stroke="#a994dc" stroke-width="0.45"/><circle cx="586.68" cy="337.16" r="0.95" fill="#f2c898" fill-opacity="0.7" stroke="#f2c898" stroke-width="0.45"/><circle cx="589.20" cy="337.24" r="0.95" fill="#e0707e" fill-opacity="0.7" stroke="#e0707e" stroke-width="0.45"/><circle cx="591.23" cy="337.22" r="0.95" fill="#8ca6ea" fill-opacity="0.7" stroke="#8ca6ea" stroke-width="0.45"/><circle cx="593.47" cy="337.12" r="0.95" fill="#8ca6ea" fill-opacity="0.7" stroke="#8ca6ea" stroke-width="0.45"/><circle cx="595.44" cy="337.25" r="0.95" fill="#e0707e" fill-opacity="0.7" stroke="#e0707e" stroke-width="0.45"/><circle cx="597.63" cy="336.97" r="0.95" fill="#f2c898" fill-opacity="0.7" stroke="#f2c898" stroke-width="0.45"/><circle cx="600.17" cy="337.22" r="0.95" fill="#9cbcf0" fill-opacity="0.7" stroke="#9cbcf0" stroke-width="0.45"/><circle cx="602.20" cy="337.41" r="0.95" fill="#a994dc" fill-opacity="0.7" stroke="#a994dc" stroke-width="0.45"/><circle cx="604.23" cy="336.74" r="0.95" fill="#7ccfca" fill-opacity="0.7" stroke="#7ccfca" stroke-width="0.45"/><circle cx="607.06" cy="337.30" r="0.95" fill="#e0707e" fill-opacity="0.7" stroke="#e0707e" stroke-width="0.45"/><circle cx="609.19" cy="337.40" r="0.95" fill="#e0707e" fill-opacity="0.7" stroke="#e0707e" stroke-width="0.45"/><circle cx="611.31" cy="337.39" r="0.95" fill="#f2c898" fill-opacity="0.7" stroke="#f2c898" stroke-width="0.45"/><circle cx="613.68" cy="336.93" r="0.95" fill="#9cbcf0" fill-opacity="0.7" stroke="#9cbcf0" stroke-width="0.45"/><circle cx="567.93" cy="338.91" r="0.95" fill="#8ca6ea" fill-opacity="0.7" stroke="#8ca6ea" stroke-width="0.45"/><circle cx="570.41" cy="339.21" r="0.95" fill="#f2c898" fill-opacity="0.7" stroke="#f2c898" stroke-width="0.45"/><circle cx="572.92" cy="339.22" r="0.95" fill="#8ca6ea" fill-opacity="0.7" stroke="#8ca6ea" stroke-width="0.45"/><circle cx="575.15" cy="339.32" r="0.95" fill="#f2c898" fill-opacity="0.7" stroke="#f2c898" stroke-width="0.45"/><circle cx="576.97" cy="338.80" r="0.95" fill="#e0707e" fill-opacity="0.7" stroke="#e0707e" stroke-width="0.45"/><circle cx="579.23" cy="339.09" r="0.95" fill="#c0a4e4" fill-opacity="0.7" stroke="#c0a4e4" stroke-width="0.45"/><circle cx="581.73" cy="338.81" r="0.95" fill="#f2c898" fill-opacity="0.7" stroke="#f2c898" stroke-width="0.45"/><circle cx="583.65" cy="339.22" r="0.95" fill="#8ca6ea" fill-opacity="0.7" stroke="#8ca6ea" stroke-width="0.45"/><circle cx="585.77" cy="338.72" r="0.95" fill="#f2c898" fill-opacity="0.7" stroke="#f2c898" stroke-width="0.45"/><circle cx="588.08" cy="338.83" r="0.95" fill="#e0707e" fill-opacity="0.7" stroke="#e0707e" stroke-width="0.45"/><circle cx="590.23" cy="338.93" r="0.95" fill="#c0a4e4" fill-opacity="0.7" stroke="#c0a4e4" stroke-width="0.45"/><circle cx="592.85" cy="339.22" r="0.95" fill="#c0a4e4" fill-opacity="0.7" stroke="#c0a4e4" stroke-width="0.45"/><circle cx="594.89" cy="338.96" r="0.95" fill="#a994dc" fill-opacity="0.7" stroke="#a994dc" stroke-width="0.45"/><circle cx="597.15" cy="339.04" r="0.95" fill="#e88aa0" fill-opacity="0.7" stroke="#e88aa0" stroke-width="0.45"/><circle cx="599.37" cy="338.82" r="0.95" fill="#a994dc" fill-opacity="0.7" stroke="#a994dc" stroke-width="0.45"/><circle cx="601.27" cy="338.82" r="0.95" fill="#8ca6ea" fill-opacity="0.7" stroke="#8ca6ea" stroke-width="0.45"/><circle cx="603.87" cy="339.12" r="0.95" fill="#a994dc" fill-opacity="0.7" stroke="#a994dc" stroke-width="0.45"/><circle cx="605.34" cy="338.66" r="0.95" fill="#8ca6ea" fill-opacity="0.7" stroke="#8ca6ea" stroke-width="0.45"/><circle cx="607.57" cy="338.83" r="0.95" fill="#f2c898" fill-opacity="0.7" stroke="#f2c898" stroke-width="0.45"/><circle cx="610.00" cy="339.10" r="0.95" fill="#8ca6ea" fill-opacity="0.7" stroke="#8ca6ea" stroke-width="0.45"/><circle cx="567.51" cy="341.14" r="0.95" fill="#8ca6ea" fill-opacity="0.7" stroke="#8ca6ea" stroke-width="0.45"/><circle cx="569.17" cy="340.96" r="0.95" fill="#f2c898" fill-opacity="0.7" stroke="#f2c898" stroke-width="0.45"/><circle cx="571.54" cy="340.60" r="0.95" fill="#c0a4e4" fill-opacity="0.7" stroke="#c0a4e4" stroke-width="0.45"/><circle cx="573.97" cy="341.08" r="0.95" fill="#a994dc" fill-opacity="0.7" stroke="#a994dc" stroke-width="0.45"/><circle cx="575.76" cy="340.97" r="0.95" fill="#7ccfca" fill-opacity="0.7" stroke="#7ccfca" stroke-width="0.45"/><circle cx="578.07" cy="340.94" r="0.95" fill="#e88aa0" fill-opacity="0.7" stroke="#e88aa0" stroke-width="0.45"/><circle cx="580.15" cy="341.29" r="0.95" fill="#f2c898" fill-opacity="0.7" stroke="#f2c898" stroke-width="0.45"/><circle cx="582.76" cy="340.95" r="0.95" fill="#a994dc" fill-opacity="0.7" stroke="#a994dc" stroke-width="0.45"/><circle cx="584.85" cy="340.67" r="0.95" fill="#9cbcf0" fill-opacity="0.7" stroke="#9cbcf0" stroke-width="0.45"/><circle cx="586.80" cy="341.04" r="0.95" fill="#a994dc" fill-opacity="0.7" stroke="#a994dc" stroke-width="0.45"/><circle cx="588.94" cy="341.13" r="0.95" fill="#9cbcf0" fill-opacity="0.7" stroke="#9cbcf0" stroke-width="0.45"/><circle cx="591.08" cy="340.67" r="0.95" fill="#7ccfca" fill-opacity="0.7" stroke="#7ccfca" stroke-width="0.45"/><circle cx="593.32" cy="340.54" r="0.95" fill="#e0707e" fill-opacity="0.7" stroke="#e0707e" stroke-width="0.45"/><circle cx="596.09" cy="341.20" r="0.95" fill="#c0a4e4" fill-opacity="0.7" stroke="#c0a4e4" stroke-width="0.45"/><circle cx="598.10" cy="341.27" r="0.95" fill="#c0a4e4" fill-opacity="0.7" stroke="#c0a4e4" stroke-width="0.45"/><circle cx="600.27" cy="341.27" r="0.95" fill="#f2c898" fill-opacity="0.7" stroke="#f2c898" stroke-width="0.45"/><circle cx="602.67" cy="340.62" r="0.95" fill="#f2c898" fill-opacity="0.7" stroke="#f2c898" stroke-width="0.45"/><circle cx="604.80" cy="340.70" r="0.95" fill="#e88aa0" fill-opacity="0.7" stroke="#e88aa0" stroke-width="0.45"/><circle cx="606.50" cy="340.70" r="0.95" fill="#a994dc" fill-opacity="0.7" stroke="#a994dc" stroke-width="0.45"/><circle cx="608.72" cy="340.54" r="0.95" fill="#e88aa0" fill-opacity="0.7" stroke="#e88aa0" stroke-width="0.45"/><circle cx="568.29" cy="343.06" r="0.95" fill="#7ccfca" fill-opacity="0.7" stroke="#7ccfca" stroke-width="0.45"/><circle cx="570.31" cy="342.82" r="0.95" fill="#f2c898" fill-opacity="0.7" stroke="#f2c898" stroke-width="0.45"/><circle cx="572.63" cy="342.73" r="0.95" fill="#e0707e" fill-opacity="0.7" stroke="#e0707e" stroke-width="0.45"/><circle cx="575.11" cy="342.58" r="0.95" fill="#8ca6ea" fill-opacity="0.7" stroke="#8ca6ea" stroke-width="0.45"/><circle cx="577.38" cy="342.60" r="0.95" fill="#c0a4e4" fill-opacity="0.7" stroke="#c0a4e4" stroke-width="0.45"/><circle cx="579.01" cy="342.89" r="0.95" fill="#7ccfca" fill-opacity="0.7" stroke="#7ccfca" stroke-width="0.45"/><circle cx="581.37" cy="342.67" r="0.95" fill="#7ccfca" fill-opacity="0.7" stroke="#7ccfca" stroke-width="0.45"/><circle cx="583.44" cy="342.92" r="0.95" fill="#c0a4e4" fill-opacity="0.7" stroke="#c0a4e4" stroke-width="0.45"/><circle cx="586.26" cy="343.02" r="0.95" fill="#a994dc" fill-opacity="0.7" stroke="#a994dc" stroke-width="0.45"/><circle cx="588.37" cy="343.17" r="0.95" fill="#c0a4e4" fill-opacity="0.7" stroke="#c0a4e4" stroke-width="0.45"/><circle cx="590.49" cy="342.49" r="0.95" fill="#c0a4e4" fill-opacity="0.7" stroke="#c0a4e4" stroke-width="0.45"/><circle cx="592.19" cy="342.60" r="0.95" fill="#e88aa0" fill-opacity="0.7" stroke="#e88aa0" stroke-width="0.45"/><circle cx="594.77" cy="343.03" r="0.95" fill="#a994dc" fill-opacity="0.7" stroke="#a994dc" stroke-width="0.45"/><circle cx="596.60" cy="343.09" r="0.95" fill="#8ca6ea" fill-opacity="0.7" stroke="#8ca6ea" stroke-width="0.45"/><circle cx="599.03" cy="342.70" r="0.95" fill="#a994dc" fill-opacity="0.7" stroke="#a994dc" stroke-width="0.45"/><circle cx="601.49" cy="342.98" r="0.95" fill="#7ccfca" fill-opacity="0.7" stroke="#7ccfca" stroke-width="0.45"/><circle cx="603.27" cy="342.72" r="0.95" fill="#8ca6ea" fill-opacity="0.7" stroke="#8ca6ea" stroke-width="0.45"/><circle cx="605.31" cy="342.59" r="0.95" fill="#a994dc" fill-opacity="0.7" stroke="#a994dc" stroke-width="0.45"/><circle cx="569.42" cy="344.65" r="0.95" fill="#c0a4e4" fill-opacity="0.7" stroke="#c0a4e4" stroke-width="0.45"/><circle cx="571.51" cy="344.63" r="0.95" fill="#e0707e" fill-opacity="0.7" stroke="#e0707e" stroke-width="0.45"/><circle cx="573.48" cy="344.93" r="0.95" fill="#c0a4e4" fill-opacity="0.7" stroke="#c0a4e4" stroke-width="0.45"/><circle cx="575.63" cy="344.45" r="0.95" fill="#8ca6ea" fill-opacity="0.7" stroke="#8ca6ea" stroke-width="0.45"/><circle cx="577.84" cy="344.56" r="0.95" fill="#e0707e" fill-opacity="0.7" stroke="#e0707e" stroke-width="0.45"/><circle cx="580.15" cy="344.41" r="0.95" fill="#e88aa0" fill-opacity="0.7" stroke="#e88aa0" stroke-width="0.45"/><circle cx="582.69" cy="344.79" r="0.95" fill="#7ccfca" fill-opacity="0.7" stroke="#7ccfca" stroke-width="0.45"/><circle cx="584.88" cy="344.60" r="0.95" fill="#f2c898" fill-opacity="0.7" stroke="#f2c898" stroke-width="0.45"/><circle cx="586.62" cy="344.65" r="0.95" fill="#e88aa0" fill-opacity="0.7" stroke="#e88aa0" stroke-width="0.45"/><circle cx="589.38" cy="344.91" r="0.95" fill="#e88aa0" fill-opacity="0.7" stroke="#e88aa0" stroke-width="0.45"/><circle cx="591.65" cy="344.37" r="0.95" fill="#a994dc" fill-opacity="0.7" stroke="#a994dc" stroke-width="0.45"/><circle cx="593.54" cy="344.47" r="0.95" fill="#e88aa0" fill-opacity="0.7" stroke="#e88aa0" stroke-width="0.45"/><circle cx="595.86" cy="344.72" r="0.95" fill="#f2c898" fill-opacity="0.7" stroke="#f2c898" stroke-width="0.45"/><circle cx="598.16" cy="344.68" r="0.95" fill="#8ca6ea" fill-opacity="0.7" stroke="#8ca6ea" stroke-width="0.45"/><circle cx="600.33" cy="344.81" r="0.95" fill="#9cbcf0" fill-opacity="0.7" stroke="#9cbcf0" stroke-width="0.45"/><circle cx="602.48" cy="344.91" r="0.95" fill="#a994dc" fill-opacity="0.7" stroke="#a994dc" stroke-width="0.45"/><circle cx="570.17" cy="346.82" r="0.95" fill="#c0a4e4" fill-opacity="0.7" stroke="#c0a4e4" stroke-width="0.45"/><circle cx="572.51" cy="347.03" r="0.95" fill="#8ca6ea" fill-opacity="0.7" stroke="#8ca6ea" stroke-width="0.45"/><circle cx="574.95" cy="346.36" r="0.95" fill="#8ca6ea" fill-opacity="0.7" stroke="#8ca6ea" stroke-width="0.45"/><circle cx="577.18" cy="347.03" r="0.95" fill="#f2c898" fill-opacity="0.7" stroke="#f2c898" stroke-width="0.45"/><circle cx="579.09" cy="346.49" r="0.95" fill="#e88aa0" fill-opacity="0.7" stroke="#e88aa0" stroke-width="0.45"/><circle cx="581.43" cy="346.90" r="0.95" fill="#7ccfca" fill-opacity="0.7" stroke="#7ccfca" stroke-width="0.45"/><circle cx="583.80" cy="346.62" r="0.95" fill="#e88aa0" fill-opacity="0.7" stroke="#e88aa0" stroke-width="0.45"/><circle cx="586.29" cy="346.25" r="0.95" fill="#8ca6ea" fill-opacity="0.7" stroke="#8ca6ea" stroke-width="0.45"/><circle cx="587.84" cy="346.47" r="0.95" fill="#8ca6ea" fill-opacity="0.7" stroke="#8ca6ea" stroke-width="0.45"/><circle cx="590.10" cy="346.57" r="0.95" fill="#7ccfca" fill-opacity="0.7" stroke="#7ccfca" stroke-width="0.45"/><circle cx="592.69" cy="346.86" r="0.95" fill="#9cbcf0" fill-opacity="0.7" stroke="#9cbcf0" stroke-width="0.45"/><circle cx="594.38" cy="346.77" r="0.95" fill="#e0707e" fill-opacity="0.7" stroke="#e0707e" stroke-width="0.45"/><circle cx="597.07" cy="346.54" r="0.95" fill="#9cbcf0" fill-opacity="0.7" stroke="#9cbcf0" stroke-width="0.45"/><circle cx="599.27" cy="346.48" r="0.95" fill="#7ccfca" fill-opacity="0.7" stroke="#7ccfca" stroke-width="0.45"/><circle cx="569.21" cy="348.17" r="0.95" fill="#9cbcf0" fill-opacity="0.7" stroke="#9cbcf0" stroke-width="0.45"/><circle cx="571.97" cy="348.46" r="0.95" fill="#e88aa0" fill-opacity="0.7" stroke="#e88aa0" stroke-width="0.45"/><circle cx="573.65" cy="348.61" r="0.95" fill="#e0707e" fill-opacity="0.7" stroke="#e0707e" stroke-width="0.45"/><circle cx="576.27" cy="348.62" r="0.95" fill="#7ccfca" fill-opacity="0.7" stroke="#7ccfca" stroke-width="0.45"/><circle cx="578.33" cy="348.80" r="0.95" fill="#8ca6ea" fill-opacity="0.7" stroke="#8ca6ea" stroke-width="0.45"/><circle cx="580.65" cy="348.16" r="0.95" fill="#f2c898" fill-opacity="0.7" stroke="#f2c898" stroke-width="0.45"/><circle cx="582.96" cy="348.57" r="0.95" fill="#e0707e" fill-opacity="0.7" stroke="#e0707e" stroke-width="0.45"/><circle cx="585.17" cy="348.51" r="0.95" fill="#9cbcf0" fill-opacity="0.7" stroke="#9cbcf0" stroke-width="0.45"/><circle cx="586.64" cy="348.22" r="0.95" fill="#8ca6ea" fill-opacity="0.7" stroke="#8ca6ea" stroke-width="0.45"/><circle cx="589.28" cy="348.89" r="0.95" fill="#f2c898" fill-opacity="0.7" stroke="#f2c898" stroke-width="0.45"/><circle cx="591.53" cy="348.69" r="0.95" fill="#9cbcf0" fill-opacity="0.7" stroke="#9cbcf0" stroke-width="0.45"/><circle cx="593.42" cy="348.42" r="0.95" fill="#e0707e" fill-opacity="0.7" stroke="#e0707e" stroke-width="0.45"/><circle cx="595.47" cy="348.75" r="0.95" fill="#8ca6ea" fill-opacity="0.7" stroke="#8ca6ea" stroke-width="0.45"/><circle cx="570.38" cy="350.41" r="0.95" fill="#8ca6ea" fill-opacity="0.7" stroke="#8ca6ea" stroke-width="0.45"/><circle cx="572.30" cy="350.23" r="0.95" fill="#9cbcf0" fill-opacity="0.7" stroke="#9cbcf0" stroke-width="0.45"/><circle cx="575.16" cy="350.82" r="0.95" fill="#f2c898" fill-opacity="0.7" stroke="#f2c898" stroke-width="0.45"/><circle cx="576.93" cy="350.28" r="0.95" fill="#8ca6ea" fill-opacity="0.7" stroke="#8ca6ea" stroke-width="0.45"/><circle cx="579.13" cy="350.16" r="0.95" fill="#e88aa0" fill-opacity="0.7" stroke="#e88aa0" stroke-width="0.45"/><circle cx="581.40" cy="350.15" r="0.95" fill="#c0a4e4" fill-opacity="0.7" stroke="#c0a4e4" stroke-width="0.45"/><circle cx="583.50" cy="350.26" r="0.95" fill="#e0707e" fill-opacity="0.7" stroke="#e0707e" stroke-width="0.45"/><circle cx="586.14" cy="350.69" r="0.95" fill="#c0a4e4" fill-opacity="0.7" stroke="#c0a4e4" stroke-width="0.45"/><circle cx="588.11" cy="350.76" r="0.95" fill="#8ca6ea" fill-opacity="0.7" stroke="#8ca6ea" stroke-width="0.45"/><circle cx="590.61" cy="350.08" r="0.95" fill="#9cbcf0" fill-opacity="0.7" stroke="#9cbcf0" stroke-width="0.45"/><circle cx="592.25" cy="350.12" r="0.95" fill="#f2c898" fill-opacity="0.7" stroke="#f2c898" stroke-width="0.45"/><circle cx="571.28" cy="352.55" r="0.95" fill="#7ccfca" fill-opacity="0.7" stroke="#7ccfca" stroke-width="0.45"/><circle cx="573.66" cy="352.16" r="0.95" fill="#a994dc" fill-opacity="0.7" stroke="#a994dc" stroke-width="0.45"/><circle cx="575.71" cy="352.78" r="0.95" fill="#e88aa0" fill-opacity="0.7" stroke="#e88aa0" stroke-width="0.45"/><circle cx="578.58" cy="352.53" r="0.95" fill="#c0a4e4" fill-opacity="0.7" stroke="#c0a4e4" stroke-width="0.45"/><circle cx="580.05" cy="352.32" r="0.95" fill="#e0707e" fill-opacity="0.7" stroke="#e0707e" stroke-width="0.45"/><circle cx="582.91" cy="352.29" r="0.95" fill="#e0707e" fill-opacity="0.7" stroke="#e0707e" stroke-width="0.45"/><circle cx="584.83" cy="352.39" r="0.95" fill="#a994dc" fill-opacity="0.7" stroke="#a994dc" stroke-width="0.45"/><circle cx="586.96" cy="352.06" r="0.95" fill="#e88aa0" fill-opacity="0.7" stroke="#e88aa0" stroke-width="0.45"/><circle cx="574.80" cy="354.35" r="0.95" fill="#c0a4e4" fill-opacity="0.7" stroke="#c0a4e4" stroke-width="0.45"/><circle cx="576.79" cy="353.96" r="0.95" fill="#e88aa0" fill-opacity="0.7" stroke="#e88aa0" stroke-width="0.45"/><circle cx="579.07" cy="354.64" r="0.95" fill="#8ca6ea" fill-opacity="0.7" stroke="#8ca6ea" stroke-width="0.45"/><circle cx="581.67" cy="354.57" r="0.95" fill="#c0a4e4" fill-opacity="0.7" stroke="#c0a4e4" stroke-width="0.45"/><circle cx="583.68" cy="354.03" r="0.95" fill="#e0707e" fill-opacity="0.7" stroke="#e0707e" stroke-width="0.45"/><circle cx="586.28" cy="354.39" r="0.95" fill="#7ccfca" fill-opacity="0.7" stroke="#7ccfca" stroke-width="0.45"/><circle cx="575.96" cy="356.13" r="0.95" fill="#9cbcf0" fill-opacity="0.7" stroke="#9cbcf0" stroke-width="0.45"/><circle cx="577.99" cy="356.25" r="0.95" fill="#a994dc" fill-opacity="0.7" stroke="#a994dc" stroke-width="0.45"/><circle cx="580.71" cy="356.21" r="0.95" fill="#7ccfca" fill-opacity="0.7" stroke="#7ccfca" stroke-width="0.45"/><circle cx="582.80" cy="356.24" r="0.95" fill="#9cbcf0" fill-opacity="0.7" stroke="#9cbcf0" stroke-width="0.45"/><circle cx="584.91" cy="356.02" r="0.95" fill="#a994dc" fill-opacity="0.7" stroke="#a994dc" stroke-width="0.45"/><circle cx="579.06" cy="358.29" r="0.95" fill="#9cbcf0" fill-opacity="0.7" stroke="#9cbcf0" stroke-width="0.45"/><circle cx="581.12" cy="358.50" r="0.95" fill="#8ca6ea" fill-opacity="0.7" stroke="#8ca6ea" stroke-width="0.45"/><circle cx="580.74" cy="359.74" r="0.95" fill="#e88aa0" fill-opacity="0.7" stroke="#e88aa0" stroke-width="0.45"/>
<path d="M652.7,337.4 L658.8,313.2 L670.8,304.1 L686.9,300.7 L698.6,303.0 L705.1,309.0 L712.1,325.3 L706.6,334.0 L689.0,345.4 L676.6,352.0 L666.8,360.5 L655.7,351.5 Z" fill="#f0ecf2"/><circle cx="677.76" cy="302.83" r="0.95" fill="#a994dc" fill-opacity="0.7" stroke="#a994dc" stroke-width="0.45"/><circle cx="679.89" cy="302.85" r="0.95" fill="#9cbcf0" fill-opacity="0.7" stroke="#9cbcf0" stroke-width="0.45"/><circle cx="682.27" cy="302.35" r="0.95" fill="#9cbcf0" fill-opacity="0.7" stroke="#9cbcf0" stroke-width="0.45"/><circle cx="684.92" cy="302.33" r="0.95" fill="#c0a4e4" fill-opacity="0.7" stroke="#c0a4e4" stroke-width="0.45"/><circle cx="686.73" cy="302.28" r="0.95" fill="#8ca6ea" fill-opacity="0.7" stroke="#8ca6ea" stroke-width="0.45"/><circle cx="688.83" cy="302.29" r="0.95" fill="#8ca6ea" fill-opacity="0.7" stroke="#8ca6ea" stroke-width="0.45"/><circle cx="691.33" cy="302.83" r="0.95" fill="#e0707e" fill-opacity="0.7" stroke="#e0707e" stroke-width="0.45"/><circle cx="693.12" cy="302.96" r="0.95" fill="#c0a4e4" fill-opacity="0.7" stroke="#c0a4e4" stroke-width="0.45"/><circle cx="695.77" cy="303.00" r="0.95" fill="#8ca6ea" fill-opacity="0.7" stroke="#8ca6ea" stroke-width="0.45"/><circle cx="697.55" cy="302.94" r="0.95" fill="#e0707e" fill-opacity="0.7" stroke="#e0707e" stroke-width="0.45"/><circle cx="670.47" cy="304.51" r="0.95" fill="#9cbcf0" fill-opacity="0.7" stroke="#9cbcf0" stroke-width="0.45"/><circle cx="672.75" cy="304.49" r="0.95" fill="#e88aa0" fill-opacity="0.7" stroke="#e88aa0" stroke-width="0.45"/><circle cx="674.46" cy="304.48" r="0.95" fill="#8ca6ea" fill-opacity="0.7" stroke="#8ca6ea" stroke-width="0.45"/><circle cx="676.67" cy="304.13" r="0.95" fill="#e88aa0" fill-opacity="0.7" stroke="#e88aa0" stroke-width="0.45"/><circle cx="679.22" cy="304.79" r="0.95" fill="#8ca6ea" fill-opacity="0.7" stroke="#8ca6ea" stroke-width="0.45"/><circle cx="681.68" cy="304.73" r="0.95" fill="#f2c898" fill-opacity="0.7" stroke="#f2c898" stroke-width="0.45"/><circle cx="683.50" cy="304.39" r="0.95" fill="#9cbcf0" fill-opacity="0.7" stroke="#9cbcf0" stroke-width="0.45"/><circle cx="685.90" cy="304.65" r="0.95" fill="#e88aa0" fill-opacity="0.7" stroke="#e88aa0" stroke-width="0.45"/><circle cx="687.73" cy="304.37" r="0.95" fill="#8ca6ea" fill-opacity="0.7" stroke="#8ca6ea" stroke-width="0.45"/><circle cx="690.29" cy="304.87" r="0.95" fill="#9cbcf0" fill-opacity="0.7" stroke="#9cbcf0" stroke-width="0.45"/><circle cx="692.08" cy="304.37" r="0.95" fill="#9cbcf0" fill-opacity="0.7" stroke="#9cbcf0" stroke-width="0.45"/><circle cx="694.88" cy="304.42" r="0.95" fill="#e0707e" fill-opacity="0.7" stroke="#e0707e" stroke-width="0.45"/><circle cx="696.71" cy="304.63" r="0.95" fill="#e0707e" fill-opacity="0.7" stroke="#e0707e" stroke-width="0.45"/><circle cx="699.13" cy="304.36" r="0.95" fill="#8ca6ea" fill-opacity="0.7" stroke="#8ca6ea" stroke-width="0.45"/><circle cx="669.46" cy="306.26" r="0.95" fill="#a994dc" fill-opacity="0.7" stroke="#a994dc" stroke-width="0.45"/><circle cx="671.22" cy="306.70" r="0.95" fill="#a994dc" fill-opacity="0.7" stroke="#a994dc" stroke-width="0.45"/><circle cx="673.42" cy="306.75" r="0.95" fill="#9cbcf0" fill-opacity="0.7" stroke="#9cbcf0" stroke-width="0.45"/><circle cx="675.60" cy="306.24" r="0.95" fill="#f2c898" fill-opacity="0.7" stroke="#f2c898" stroke-width="0.45"/><circle cx="678.23" cy="306.64" r="0.95" fill="#f2c898" fill-opacity="0.7" stroke="#f2c898" stroke-width="0.45"/><circle cx="679.99" cy="306.69" r="0.95" fill="#f2c898" fill-opacity="0.7" stroke="#f2c898" stroke-width="0.45"/><circle cx="682.29" cy="306.67" r="0.95" fill="#8ca6ea" fill-opacity="0.7" stroke="#8ca6ea" stroke-width="0.45"/><circle cx="684.51" cy="306.57" r="0.95" fill="#9cbcf0" fill-opacity="0.7" stroke="#9cbcf0" stroke-width="0.45"/><circle cx="687.14" cy="306.67" r="0.95" fill="#7ccfca" fill-opacity="0.7" stroke="#7ccfca" stroke-width="0.45"/><circle cx="688.62" cy="306.19" r="0.95" fill="#a994dc" fill-opacity="0.7" stroke="#a994dc" stroke-width="0.45"/><circle cx="690.87" cy="306.41" r="0.95" fill="#a994dc" fill-opacity="0.7" stroke="#a994dc" stroke-width="0.45"/><circle cx="693.74" cy="306.12" r="0.95" fill="#e0707e" fill-opacity="0.7" stroke="#e0707e" stroke-width="0.45"/><circle cx="695.89" cy="306.56" r="0.95" fill="#e0707e" fill-opacity="0.7" stroke="#e0707e" stroke-width="0.45"/><circle cx="698.03" cy="306.71" r="0.95" fill="#8ca6ea" fill-opacity="0.7" stroke="#8ca6ea" stroke-width="0.45"/><circle cx="700.29" cy="306.56" r="0.95" fill="#e0707e" fill-opacity="0.7" stroke="#e0707e" stroke-width="0.45"/><circle cx="665.66" cy="308.71" r="0.95" fill="#e88aa0" fill-opacity="0.7" stroke="#e88aa0" stroke-width="0.45"/><circle cx="668.14" cy="308.54" r="0.95" fill="#7ccfca" fill-opacity="0.7" stroke="#7ccfca" stroke-width="0.45"/><circle cx="670.35" cy="308.22" r="0.95" fill="#f2c898" fill-opacity="0.7" stroke="#f2c898" stroke-width="0.45"/><circle cx="672.69" cy="308.34" r="0.95" fill="#8ca6ea" fill-opacity="0.7" stroke="#8ca6ea" stroke-width="0.45"/><circle cx="675.10" cy="308.70" r="0.95" fill="#7ccfca" fill-opacity="0.7" stroke="#7ccfca" stroke-width="0.45"/><circle cx="676.68" cy="308.13" r="0.95" fill="#7ccfca" fill-opacity="0.7" stroke="#7ccfca" stroke-width="0.45"/><circle cx="678.84" cy="308.57" r="0.95" fill="#e88aa0" fill-opacity="0.7" stroke="#e88aa0" stroke-width="0.45"/><circle cx="681.46" cy="308.31" r="0.95" fill="#a994dc" fill-opacity="0.7" stroke="#a994dc" stroke-width="0.45"/><circle cx="683.43" cy="308.71" r="0.95" fill="#e0707e" fill-opacity="0.7" stroke="#e0707e" stroke-width="0.45"/><circle cx="685.85" cy="308.74" r="0.95" fill="#c0a4e4" fill-opacity="0.7" stroke="#c0a4e4" stroke-width="0.45"/><circle cx="688.19" cy="308.54" r="0.95" fill="#7c8ec0" fill-opacity="0.7" stroke="#7c8ec0" stroke-width="0.45"/><circle cx="690.24" cy="308.34" r="0.95" fill="#7c8ec0" fill-opacity="0.7" stroke="#7c8ec0" stroke-width="0.45"/><circle cx="692.12" cy="308.46" r="0.95" fill="#7c8ec0" fill-opacity="0.7" stroke="#7c8ec0" stroke-width="0.45"/><circle cx="694.55" cy="308.27" r="0.95" fill="#7c8ec0" fill-opacity="0.7" stroke="#7c8ec0" stroke-width="0.45"/><circle cx="696.82" cy="308.06" r="0.95" fill="#7c8ec0" fill-opacity="0.7" stroke="#7c8ec0" stroke-width="0.45"/><circle cx="699.20" cy="308.36" r="0.95" fill="#a994dc" fill-opacity="0.7" stroke="#a994dc" stroke-width="0.45"/><circle cx="700.98" cy="308.52" r="0.95" fill="#7ccfca" fill-opacity="0.7" stroke="#7ccfca" stroke-width="0.45"/><circle cx="703.56" cy="307.97" r="0.95" fill="#7ccfca" fill-opacity="0.7" stroke="#7ccfca" stroke-width="0.45"/><circle cx="665.07" cy="310.39" r="0.95" fill="#c0a4e4" fill-opacity="0.7" stroke="#c0a4e4" stroke-width="0.45"/><circle cx="666.89" cy="310.15" r="0.95" fill="#e0707e" fill-opacity="0.7" stroke="#e0707e" stroke-width="0.45"/><circle cx="669.40" cy="310.21" r="0.95" fill="#e88aa0" fill-opacity="0.7" stroke="#e88aa0" stroke-width="0.45"/><circle cx="671.59" cy="310.61" r="0.95" fill="#e0707e" fill-opacity="0.7" stroke="#e0707e" stroke-width="0.45"/><circle cx="673.25" cy="310.64" r="0.95" fill="#e0707e" fill-opacity="0.7" stroke="#e0707e" stroke-width="0.45"/><circle cx="675.79" cy="310.25" r="0.95" fill="#7ccfca" fill-opacity="0.7" stroke="#7ccfca" stroke-width="0.45"/><circle cx="677.84" cy="310.39" r="0.95" fill="#e88aa0" fill-opacity="0.7" stroke="#e88aa0" stroke-width="0.45"/><circle cx="680.43" cy="310.46" r="0.95" fill="#a994dc" fill-opacity="0.7" stroke="#a994dc" stroke-width="0.45"/><circle cx="682.36" cy="310.11" r="0.95" fill="#9cbcf0" fill-opacity="0.7" stroke="#9cbcf0" stroke-width="0.45"/><circle cx="684.89" cy="310.23" r="0.95" fill="#8ca6ea" fill-opacity="0.7" stroke="#8ca6ea" stroke-width="0.45"/><circle cx="686.80" cy="310.39" r="0.95" fill="#7c8ec0" fill-opacity="0.7" stroke="#7c8ec0" stroke-width="0.45"/><circle cx="689.38" cy="309.96" r="0.95" fill="#7c8ec0" fill-opacity="0.7" stroke="#7c8ec0" stroke-width="0.45"/><circle cx="691.26" cy="310.03" r="0.95" fill="#7c8ec0" fill-opacity="0.7" stroke="#7c8ec0" stroke-width="0.45"/><circle cx="693.40" cy="309.90" r="0.95" fill="#7c8ec0" fill-opacity="0.7" stroke="#7c8ec0" stroke-width="0.45"/><circle cx="695.71" cy="310.07" r="0.95" fill="#e8dde6" fill-opacity="0.7" stroke="#e8dde6" stroke-width="0.45"/><circle cx="697.41" cy="310.22" r="0.95" fill="#7c8ec0" fill-opacity="0.7" stroke="#7c8ec0" stroke-width="0.45"/><circle cx="699.62" cy="309.87" r="0.95" fill="#e88aa0" fill-opacity="0.7" stroke="#e88aa0" stroke-width="0.45"/><circle cx="702.39" cy="310.33" r="0.95" fill="#a994dc" fill-opacity="0.7" stroke="#a994dc" stroke-width="0.45"/><circle cx="704.01" cy="310.52" r="0.95" fill="#e0707e" fill-opacity="0.7" stroke="#e0707e" stroke-width="0.45"/><circle cx="661.16" cy="312.31" r="0.95" fill="#e0707e" fill-opacity="0.7" stroke="#e0707e" stroke-width="0.45"/><circle cx="664.05" cy="312.13" r="0.95" fill="#e88aa0" fill-opacity="0.7" stroke="#e88aa0" stroke-width="0.45"/><circle cx="665.70" cy="312.34" r="0.95" fill="#f2c898" fill-opacity="0.7" stroke="#f2c898" stroke-width="0.45"/><circle cx="668.49" cy="312.01" r="0.95" fill="#c0a4e4" fill-opacity="0.7" stroke="#c0a4e4" stroke-width="0.45"/><circle cx="670.15" cy="311.91" r="0.95" fill="#e88aa0" fill-opacity="0.7" stroke="#e88aa0" stroke-width="0.45"/><circle cx="672.42" cy="312.34" r="0.95" fill="#a994dc" fill-opacity="0.7" stroke="#a994dc" stroke-width="0.45"/><circle cx="674.55" cy="312.01" r="0.95" fill="#e88aa0" fill-opacity="0.7" stroke="#e88aa0" stroke-width="0.45"/><circle cx="676.82" cy="311.95" r="0.95" fill="#f2c898" fill-opacity="0.7" stroke="#f2c898" stroke-width="0.45"/><circle cx="678.85" cy="312.43" r="0.95" fill="#c0a4e4" fill-opacity="0.7" stroke="#c0a4e4" stroke-width="0.45"/><circle cx="681.02" cy="312.44" r="0.95" fill="#f2c898" fill-opacity="0.7" stroke="#f2c898" stroke-width="0.45"/><circle cx="683.62" cy="311.85" r="0.95" fill="#e0707e" fill-opacity="0.7" stroke="#e0707e" stroke-width="0.45"/><circle cx="686.01" cy="312.44" r="0.95" fill="#7c8ec0" fill-opacity="0.7" stroke="#7c8ec0" stroke-width="0.45"/><circle cx="688.20" cy="312.56" r="0.95" fill="#7c8ec0" fill-opacity="0.7" stroke="#7c8ec0" stroke-width="0.45"/><circle cx="690.08" cy="311.96" r="0.95" fill="#7c8ec0" fill-opacity="0.7" stroke="#7c8ec0" stroke-width="0.45"/><circle cx="692.03" cy="311.98" r="0.95" fill="#7c8ec0" fill-opacity="0.7" stroke="#7c8ec0" stroke-width="0.45"/><circle cx="694.64" cy="312.52" r="0.95" fill="#7c8ec0" fill-opacity="0.7" stroke="#7c8ec0" stroke-width="0.45"/><circle cx="696.75" cy="312.00" r="0.95" fill="#7c8ec0" fill-opacity="0.7" stroke="#7c8ec0" stroke-width="0.45"/><circle cx="698.96" cy="312.31" r="0.95" fill="#7c8ec0" fill-opacity="0.7" stroke="#7c8ec0" stroke-width="0.45"/><circle cx="701.44" cy="312.10" r="0.95" fill="#a994dc" fill-opacity="0.7" stroke="#a994dc" stroke-width="0.45"/><circle cx="702.99" cy="312.09" r="0.95" fill="#c0a4e4" fill-opacity="0.7" stroke="#c0a4e4" stroke-width="0.45"/><circle cx="705.43" cy="311.79" r="0.95" fill="#e0707e" fill-opacity="0.7" stroke="#e0707e" stroke-width="0.45"/><circle cx="660.46" cy="314.19" r="0.95" fill="#8ca6ea" fill-opacity="0.7" stroke="#8ca6ea" stroke-width="0.45"/><circle cx="662.24" cy="314.05" r="0.95" fill="#8ca6ea" fill-opacity="0.7" stroke="#8ca6ea" stroke-width="0.45"/><circle cx="664.84" cy="313.86" r="0.95" fill="#8ca6ea" fill-opacity="0.7" stroke="#8ca6ea" stroke-width="0.45"/><circle cx="666.65" cy="313.97" r="0.95" fill="#e0707e" fill-opacity="0.7" stroke="#e0707e" stroke-width="0.45"/><circle cx="669.54" cy="314.18" r="0.95" fill="#c0a4e4" fill-opacity="0.7" stroke="#c0a4e4" stroke-width="0.45"/><circle cx="671.59" cy="313.92" r="0.95" fill="#e88aa0" fill-opacity="0.7" stroke="#e88aa0" stroke-width="0.45"/><circle cx="673.58" cy="314.07" r="0.95" fill="#f2c898" fill-opacity="0.7" stroke="#f2c898" stroke-width="0.45"/><circle cx="676.10" cy="314.13" r="0.95" fill="#e88aa0" fill-opacity="0.7" stroke="#e88aa0" stroke-width="0.45"/><circle cx="678.01" cy="314.10" r="0.95" fill="#9cbcf0" fill-opacity="0.7" stroke="#9cbcf0" stroke-width="0.45"/><circle cx="680.55" cy="314.12" r="0.95" fill="#7ccfca" fill-opacity="0.7" stroke="#7ccfca" stroke-width="0.45"/><circle cx="682.79" cy="314.16" r="0.95" fill="#7ccfca" fill-opacity="0.7" stroke="#7ccfca" stroke-width="0.45"/><circle cx="684.93" cy="314.29" r="0.95" fill="#7c8ec0" fill-opacity="0.7" stroke="#7c8ec0" stroke-width="0.45"/><circle cx="686.76" cy="313.84" r="0.95" fill="#7c8ec0" fill-opacity="0.7" stroke="#7c8ec0" stroke-width="0.45"/><circle cx="689.31" cy="314.49" r="0.95" fill="#7c8ec0" fill-opacity="0.7" stroke="#7c8ec0" stroke-width="0.45"/><circle cx="691.34" cy="314.18" r="0.95" fill="#7c8ec0" fill-opacity="0.7" stroke="#7c8ec0" stroke-width="0.45"/><circle cx="693.20" cy="314.36" r="0.95" fill="#7c8ec0" fill-opacity="0.7" stroke="#7c8ec0" stroke-width="0.45"/><circle cx="695.76" cy="313.85" r="0.95" fill="#7c8ec0" fill-opacity="0.7" stroke="#7c8ec0" stroke-width="0.45"/><circle cx="697.90" cy="313.93" r="0.95" fill="#7c8ec0" fill-opacity="0.7" stroke="#7c8ec0" stroke-width="0.45"/><circle cx="700.04" cy="313.84" r="0.95" fill="#7c8ec0" fill-opacity="0.7" stroke="#7c8ec0" stroke-width="0.45"/><circle cx="701.99" cy="313.85" r="0.95" fill="#f2c898" fill-opacity="0.7" stroke="#f2c898" stroke-width="0.45"/><circle cx="704.61" cy="313.72" r="0.95" fill="#e0707e" fill-opacity="0.7" stroke="#e0707e" stroke-width="0.45"/><circle cx="706.44" cy="314.12" r="0.95" fill="#c0a4e4" fill-opacity="0.7" stroke="#c0a4e4" stroke-width="0.45"/><circle cx="659.58" cy="315.63" r="0.95" fill="#7ccfca" fill-opacity="0.7" stroke="#7ccfca" stroke-width="0.45"/><circle cx="661.41" cy="316.33" r="0.95" fill="#9cbcf0" fill-opacity="0.7" stroke="#9cbcf0" stroke-width="0.45"/><circle cx="663.78" cy="316.24" r="0.95" fill="#c0a4e4" fill-opacity="0.7" stroke="#c0a4e4" stroke-width="0.45"/><circle cx="666.26" cy="316.12" r="0.95" fill="#7ccfca" fill-opacity="0.7" stroke="#7ccfca" stroke-width="0.45"/><circle cx="668.32" cy="316.19" r="0.95" fill="#f2c898" fill-opacity="0.7" stroke="#f2c898" stroke-width="0.45"/><circle cx="670.26" cy="315.83" r="0.95" fill="#7ccfca" fill-opacity="0.7" stroke="#7ccfca" stroke-width="0.45"/><circle cx="672.27" cy="316.03" r="0.95" fill="#e0707e" fill-opacity="0.7" stroke="#e0707e" stroke-width="0.45"/><circle cx="675.09" cy="315.90" r="0.95" fill="#7ccfca" fill-opacity="0.7" stroke="#7ccfca" stroke-width="0.45"/><circle cx="676.90" cy="316.06" r="0.95" fill="#9cbcf0" fill-opacity="0.7" stroke="#9cbcf0" stroke-width="0.45"/><circle cx="679.45" cy="315.85" r="0.95" fill="#f2c898" fill-opacity="0.7" stroke="#f2c898" stroke-width="0.45"/><circle cx="681.20" cy="315.62" r="0.95" fill="#8ca6ea" fill-opacity="0.7" stroke="#8ca6ea" stroke-width="0.45"/><circle cx="683.82" cy="315.79" r="0.95" fill="#7c8ec0" fill-opacity="0.7" stroke="#7c8ec0" stroke-width="0.45"/><circle cx="685.70" cy="316.31" r="0.95" fill="#7c8ec0" fill-opacity="0.7" stroke="#7c8ec0" stroke-width="0.45"/><circle cx="688.07" cy="316.38" r="0.95" fill="#7c8ec0" fill-opacity="0.7" stroke="#7c8ec0" stroke-width="0.45"/><circle cx="690.10" cy="315.88" r="0.95" fill="#7c8ec0" fill-opacity="0.7" stroke="#7c8ec0" stroke-width="0.45"/><circle cx="692.68" cy="316.34" r="0.95" fill="#7c8ec0" fill-opacity="0.7" stroke="#7c8ec0" stroke-width="0.45"/><circle cx="694.83" cy="315.90" r="0.95" fill="#7c8ec0" fill-opacity="0.7" stroke="#7c8ec0" stroke-width="0.45"/><circle cx="696.51" cy="316.37" r="0.95" fill="#7c8ec0" fill-opacity="0.7" stroke="#7c8ec0" stroke-width="0.45"/><circle cx="699.00" cy="316.11" r="0.95" fill="#e8dde6" fill-opacity="0.7" stroke="#e8dde6" stroke-width="0.45"/><circle cx="700.74" cy="315.63" r="0.95" fill="#7c8ec0" fill-opacity="0.7" stroke="#7c8ec0" stroke-width="0.45"/><circle cx="703.10" cy="316.40" r="0.95" fill="#e0707e" fill-opacity="0.7" stroke="#e0707e" stroke-width="0.45"/><circle cx="705.74" cy="316.14" r="0.95" fill="#e0707e" fill-opacity="0.7" stroke="#e0707e" stroke-width="0.45"/><circle cx="707.97" cy="315.80" r="0.95" fill="#f2c898" fill-opacity="0.7" stroke="#f2c898" stroke-width="0.45"/><circle cx="658.13" cy="317.64" r="0.95" fill="#a994dc" fill-opacity="0.7" stroke="#a994dc" stroke-width="0.45"/><circle cx="660.18" cy="317.57" r="0.95" fill="#e0707e" fill-opacity="0.7" stroke="#e0707e" stroke-width="0.45"/><circle cx="662.91" cy="317.94" r="0.95" fill="#7ccfca" fill-opacity="0.7" stroke="#7ccfca" stroke-width="0.45"/><circle cx="665.09" cy="317.78" r="0.95" fill="#a994dc" fill-opacity="0.7" stroke="#a994dc" stroke-width="0.45"/><circle cx="666.73" cy="318.08" r="0.95" fill="#e88aa0" fill-opacity="0.7" stroke="#e88aa0" stroke-width="0.45"/><circle cx="669.22" cy="318.02" r="0.95" fill="#a994dc" fill-opacity="0.7" stroke="#a994dc" stroke-width="0.45"/><circle cx="671.44" cy="317.77" r="0.95" fill="#f2c898" fill-opacity="0.7" stroke="#f2c898" stroke-width="0.45"/><circle cx="673.22" cy="318.08" r="0.95" fill="#7ccfca" fill-opacity="0.7" stroke="#7ccfca" stroke-width="0.45"/><circle cx="675.68" cy="317.88" r="0.95" fill="#a994dc" fill-opacity="0.7" stroke="#a994dc" stroke-width="0.45"/><circle cx="677.88" cy="318.30" r="0.95" fill="#a994dc" fill-opacity="0.7" stroke="#a994dc" stroke-width="0.45"/><circle cx="680.37" cy="318.07" r="0.95" fill="#e0707e" fill-opacity="0.7" stroke="#e0707e" stroke-width="0.45"/><circle cx="682.37" cy="318.32" r="0.95" fill="#f2c898" fill-opacity="0.7" stroke="#f2c898" stroke-width="0.45"/><circle cx="684.81" cy="318.23" r="0.95" fill="#7c8ec0" fill-opacity="0.7" stroke="#7c8ec0" stroke-width="0.45"/><circle cx="686.83" cy="318.29" r="0.95" fill="#7c8ec0" fill-opacity="0.7" stroke="#7c8ec0" stroke-width="0.45"/><circle cx="688.87" cy="317.93" r="0.95" fill="#7c8ec0" fill-opacity="0.7" stroke="#7c8ec0" stroke-width="0.45"/><circle cx="691.27" cy="318.08" r="0.95" fill="#7c8ec0" fill-opacity="0.7" stroke="#7c8ec0" stroke-width="0.45"/><circle cx="693.55" cy="317.63" r="0.95" fill="#7c8ec0" fill-opacity="0.7" stroke="#7c8ec0" stroke-width="0.45"/><circle cx="695.87" cy="317.97" r="0.95" fill="#7c8ec0" fill-opacity="0.7" stroke="#7c8ec0" stroke-width="0.45"/><circle cx="697.84" cy="318.28" r="0.95" fill="#7c8ec0" fill-opacity="0.7" stroke="#7c8ec0" stroke-width="0.45"/><circle cx="699.84" cy="318.10" r="0.95" fill="#7c8ec0" fill-opacity="0.7" stroke="#7c8ec0" stroke-width="0.45"/><circle cx="702.40" cy="317.60" r="0.95" fill="#9cbcf0" fill-opacity="0.7" stroke="#9cbcf0" stroke-width="0.45"/><circle cx="704.42" cy="317.87" r="0.95" fill="#c0a4e4" fill-opacity="0.7" stroke="#c0a4e4" stroke-width="0.45"/><circle cx="706.64" cy="318.01" r="0.95" fill="#e88aa0" fill-opacity="0.7" stroke="#e88aa0" stroke-width="0.45"/><circle cx="659.30" cy="320.13" r="0.95" fill="#f2c898" fill-opacity="0.7" stroke="#f2c898" stroke-width="0.45"/><circle cx="661.43" cy="319.87" r="0.95" fill="#c0a4e4" fill-opacity="0.7" stroke="#c0a4e4" stroke-width="0.45"/><circle cx="663.57" cy="319.83" r="0.95" fill="#f2c898" fill-opacity="0.7" stroke="#f2c898" stroke-width="0.45"/><circle cx="666.19" cy="320.17" r="0.95" fill="#e0707e" fill-opacity="0.7" stroke="#e0707e" stroke-width="0.45"/><circle cx="668.47" cy="320.14" r="0.95" fill="#7ccfca" fill-opacity="0.7" stroke="#7ccfca" stroke-width="0.45"/><circle cx="670.50" cy="319.59" r="0.95" fill="#e88aa0" fill-opacity="0.7" stroke="#e88aa0" stroke-width="0.45"/><circle cx="672.86" cy="319.96" r="0.95" fill="#f2c898" fill-opacity="0.7" stroke="#f2c898" stroke-width="0.45"/><circle cx="674.75" cy="320.15" r="0.95" fill="#7ccfca" fill-opacity="0.7" stroke="#7ccfca" stroke-width="0.45"/><circle cx="677.03" cy="319.68" r="0.95" fill="#7ccfca" fill-opacity="0.7" stroke="#7ccfca" stroke-width="0.45"/><circle cx="679.25" cy="319.50" r="0.95" fill="#8ca6ea" fill-opacity="0.7" stroke="#8ca6ea" stroke-width="0.45"/><circle cx="681.39" cy="319.85" r="0.95" fill="#a994dc" fill-opacity="0.7" stroke="#a994dc" stroke-width="0.45"/><circle cx="683.72" cy="319.96" r="0.95" fill="#7c8ec0" fill-opacity="0.7" stroke="#7c8ec0" stroke-width="0.45"/><circle cx="685.34" cy="319.53" r="0.95" fill="#7c8ec0" fill-opacity="0.7" stroke="#7c8ec0" stroke-width="0.45"/><circle cx="687.72" cy="320.07" r="0.95" fill="#7c8ec0" fill-opacity="0.7" stroke="#7c8ec0" stroke-width="0.45"/><circle cx="690.21" cy="319.57" r="0.95" fill="#7c8ec0" fill-opacity="0.7" stroke="#7c8ec0" stroke-width="0.45"/><circle cx="692.61" cy="319.81" r="0.95" fill="#7c8ec0" fill-opacity="0.7" stroke="#7c8ec0" stroke-width="0.45"/><circle cx="694.63" cy="319.73" r="0.95" fill="#7c8ec0" fill-opacity="0.7" stroke="#7c8ec0" stroke-width="0.45"/><circle cx="697.03" cy="319.77" r="0.95" fill="#e8dde6" fill-opacity="0.7" stroke="#e8dde6" stroke-width="0.45"/><circle cx="698.56" cy="319.62" r="0.95" fill="#7c8ec0" fill-opacity="0.7" stroke="#7c8ec0" stroke-width="0.45"/><circle cx="701.02" cy="319.80" r="0.95" fill="#7c8ec0" fill-opacity="0.7" stroke="#7c8ec0" stroke-width="0.45"/><circle cx="703.16" cy="319.66" r="0.95" fill="#e88aa0" fill-opacity="0.7" stroke="#e88aa0" stroke-width="0.45"/><circle cx="705.10" cy="319.78" r="0.95" fill="#e88aa0" fill-opacity="0.7" stroke="#e88aa0" stroke-width="0.45"/><circle cx="707.82" cy="319.62" r="0.95" fill="#8ca6ea" fill-opacity="0.7" stroke="#8ca6ea" stroke-width="0.45"/><circle cx="658.20" cy="321.92" r="0.95" fill="#8ca6ea" fill-opacity="0.7" stroke="#8ca6ea" stroke-width="0.45"/><circle cx="660.64" cy="321.80" r="0.95" fill="#a994dc" fill-opacity="0.7" stroke="#a994dc" stroke-width="0.45"/><circle cx="662.24" cy="322.10" r="0.95" fill="#8ca6ea" fill-opacity="0.7" stroke="#8ca6ea" stroke-width="0.45"/><circle cx="664.62" cy="321.76" r="0.95" fill="#a994dc" fill-opacity="0.7" stroke="#a994dc" stroke-width="0.45"/><circle cx="666.97" cy="321.54" r="0.95" fill="#e88aa0" fill-opacity="0.7" stroke="#e88aa0" stroke-width="0.45"/><circle cx="668.86" cy="321.71" r="0.95" fill="#e88aa0" fill-opacity="0.7" stroke="#e88aa0" stroke-width="0.45"/><circle cx="671.68" cy="321.70" r="0.95" fill="#d4608a" fill-opacity="0.7" stroke="#d4608a" stroke-width="0.45"/><circle cx="673.78" cy="321.89" r="0.95" fill="#d4608a" fill-opacity="0.7" stroke="#d4608a" stroke-width="0.45"/><circle cx="675.65" cy="321.69" r="0.95" fill="#d4608a" fill-opacity="0.7" stroke="#d4608a" stroke-width="0.45"/><circle cx="677.90" cy="321.90" r="0.95" fill="#d4608a" fill-opacity="0.7" stroke="#d4608a" stroke-width="0.45"/><circle cx="680.07" cy="321.61" r="0.95" fill="#a994dc" fill-opacity="0.7" stroke="#a994dc" stroke-width="0.45"/><circle cx="682.23" cy="321.71" r="0.95" fill="#f2c898" fill-opacity="0.7" stroke="#f2c898" stroke-width="0.45"/><circle cx="684.26" cy="321.41" r="0.95" fill="#e88aa0" fill-opacity="0.7" stroke="#e88aa0" stroke-width="0.45"/><circle cx="687.04" cy="321.38" r="0.95" fill="#7c8ec0" fill-opacity="0.7" stroke="#7c8ec0" stroke-width="0.45"/><circle cx="689.33" cy="321.77" r="0.95" fill="#7c8ec0" fill-opacity="0.7" stroke="#7c8ec0" stroke-width="0.45"/><circle cx="690.87" cy="321.80" r="0.95" fill="#7c8ec0" fill-opacity="0.7" stroke="#7c8ec0" stroke-width="0.45"/><circle cx="693.12" cy="321.85" r="0.95" fill="#7c8ec0" fill-opacity="0.7" stroke="#7c8ec0" stroke-width="0.45"/><circle cx="695.43" cy="321.50" r="0.95" fill="#7c8ec0" fill-opacity="0.7" stroke="#7c8ec0" stroke-width="0.45"/><circle cx="697.42" cy="321.91" r="0.95" fill="#7c8ec0" fill-opacity="0.7" stroke="#7c8ec0" stroke-width="0.45"/><circle cx="699.78" cy="321.68" r="0.95" fill="#7c8ec0" fill-opacity="0.7" stroke="#7c8ec0" stroke-width="0.45"/><circle cx="702.46" cy="322.05" r="0.95" fill="#8ca6ea" fill-opacity="0.7" stroke="#8ca6ea" stroke-width="0.45"/><circle cx="704.14" cy="321.56" r="0.95" fill="#c0a4e4" fill-opacity="0.7" stroke="#c0a4e4" stroke-width="0.45"/><circle cx="706.91" cy="321.50" r="0.95" fill="#f2c898" fill-opacity="0.7" stroke="#f2c898" stroke-width="0.45"/><circle cx="708.95" cy="321.60" r="0.95" fill="#9cbcf0" fill-opacity="0.7" stroke="#9cbcf0" stroke-width="0.45"/><circle cx="657.30" cy="323.36" r="0.95" fill="#a994dc" fill-opacity="0.7" stroke="#a994dc" stroke-width="0.45"/><circle cx="658.98" cy="323.33" r="0.95" fill="#7ccfca" fill-opacity="0.7" stroke="#7ccfca" stroke-width="0.45"/><circle cx="661.72" cy="323.60" r="0.95" fill="#e88aa0" fill-opacity="0.7" stroke="#e88aa0" stroke-width="0.45"/><circle cx="663.63" cy="323.30" r="0.95" fill="#e88aa0" fill-opacity="0.7" stroke="#e88aa0" stroke-width="0.45"/><circle cx="666.27" cy="323.38" r="0.95" fill="#c0a4e4" fill-opacity="0.7" stroke="#c0a4e4" stroke-width="0.45"/><circle cx="668.21" cy="323.37" r="0.95" fill="#d4608a" fill-opacity="0.7" stroke="#d4608a" stroke-width="0.45"/><circle cx="670.28" cy="323.87" r="0.95" fill="#d4608a" fill-opacity="0.7" stroke="#d4608a" stroke-width="0.45"/><circle cx="672.76" cy="323.73" r="0.95" fill="#d4608a" fill-opacity="0.7" stroke="#d4608a" stroke-width="0.45"/><circle cx="674.88" cy="323.58" r="0.95" fill="#d4608a" fill-opacity="0.7" stroke="#d4608a" stroke-width="0.45"/><circle cx="676.74" cy="323.40" r="0.95" fill="#d4608a" fill-opacity="0.7" stroke="#d4608a" stroke-width="0.45"/><circle cx="679.20" cy="323.62" r="0.95" fill="#d4608a" fill-opacity="0.7" stroke="#d4608a" stroke-width="0.45"/><circle cx="681.60" cy="323.95" r="0.95" fill="#d4608a" fill-opacity="0.7" stroke="#d4608a" stroke-width="0.45"/><circle cx="683.68" cy="323.68" r="0.95" fill="#9cbcf0" fill-opacity="0.7" stroke="#9cbcf0" stroke-width="0.45"/><circle cx="686.05" cy="323.88" r="0.95" fill="#7ccfca" fill-opacity="0.7" stroke="#7ccfca" stroke-width="0.45"/><circle cx="688.13" cy="323.33" r="0.95" fill="#7c8ec0" fill-opacity="0.7" stroke="#7c8ec0" stroke-width="0.45"/><circle cx="689.77" cy="323.36" r="0.95" fill="#7c8ec0" fill-opacity="0.7" stroke="#7c8ec0" stroke-width="0.45"/><circle cx="692.53" cy="323.80" r="0.95" fill="#e8dde6" fill-opacity="0.7" stroke="#e8dde6" stroke-width="0.45"/><circle cx="694.50" cy="323.88" r="0.95" fill="#7c8ec0" fill-opacity="0.7" stroke="#7c8ec0" stroke-width="0.45"/><circle cx="696.63" cy="323.29" r="0.95" fill="#7c8ec0" fill-opacity="0.7" stroke="#7c8ec0" stroke-width="0.45"/><circle cx="699.14" cy="323.28" r="0.95" fill="#e8dde6" fill-opacity="0.7" stroke="#e8dde6" stroke-width="0.45"/><circle cx="701.00" cy="323.48" r="0.95" fill="#c0a4e4" fill-opacity="0.7" stroke="#c0a4e4" stroke-width="0.45"/><circle cx="703.65" cy="323.37" r="0.95" fill="#c0a4e4" fill-opacity="0.7" stroke="#c0a4e4" stroke-width="0.45"/><circle cx="705.72" cy="324.04" r="0.95" fill="#7ccfca" fill-opacity="0.7" stroke="#7ccfca" stroke-width="0.45"/><circle cx="707.55" cy="323.53" r="0.95" fill="#7ccfca" fill-opacity="0.7" stroke="#7ccfca" stroke-width="0.45"/><circle cx="709.61" cy="324.03" r="0.95" fill="#7ccfca" fill-opacity="0.7" stroke="#7ccfca" stroke-width="0.45"/><circle cx="656.23" cy="325.24" r="0.95" fill="#e88aa0" fill-opacity="0.7" stroke="#e88aa0" stroke-width="0.45"/><circle cx="658.08" cy="325.22" r="0.95" fill="#c0a4e4" fill-opacity="0.7" stroke="#c0a4e4" stroke-width="0.45"/><circle cx="660.15" cy="325.28" r="0.95" fill="#9cbcf0" fill-opacity="0.7" stroke="#9cbcf0" stroke-width="0.45"/><circle cx="662.71" cy="325.83" r="0.95" fill="#e0707e" fill-opacity="0.7" stroke="#e0707e" stroke-width="0.45"/><circle cx="665.03" cy="325.46" r="0.95" fill="#d4608a" fill-opacity="0.7" stroke="#d4608a" stroke-width="0.45"/><circle cx="667.04" cy="325.24" r="0.95" fill="#d4608a" fill-opacity="0.7" stroke="#d4608a" stroke-width="0.45"/><circle cx="669.22" cy="325.78" r="0.95" fill="#d4608a" fill-opacity="0.7" stroke="#d4608a" stroke-width="0.45"/><circle cx="671.48" cy="325.68" r="0.95" fill="#d4608a" fill-opacity="0.7" stroke="#d4608a" stroke-width="0.45"/><circle cx="673.64" cy="325.72" r="0.95" fill="#e8dde6" fill-opacity="0.7" stroke="#e8dde6" stroke-width="0.45"/><circle cx="675.88" cy="325.44" r="0.95" fill="#d4608a" fill-opacity="0.7" stroke="#d4608a" stroke-width="0.45"/><circle cx="678.11" cy="325.87" r="0.95" fill="#d4608a" fill-opacity="0.7" stroke="#d4608a" stroke-width="0.45"/><circle cx="680.14" cy="325.75" r="0.95" fill="#d4608a" fill-opacity="0.7" stroke="#d4608a" stroke-width="0.45"/><circle cx="682.14" cy="325.49" r="0.95" fill="#d4608a" fill-opacity="0.7" stroke="#d4608a" stroke-width="0.45"/><circle cx="684.46" cy="325.19" r="0.95" fill="#e88aa0" fill-opacity="0.7" stroke="#e88aa0" stroke-width="0.45"/><circle cx="687.04" cy="325.91" r="0.95" fill="#a994dc" fill-opacity="0.7" stroke="#a994dc" stroke-width="0.45"/><circle cx="689.06" cy="325.19" r="0.95" fill="#7c8ec0" fill-opacity="0.7" stroke="#7c8ec0" stroke-width="0.45"/><circle cx="690.94" cy="325.51" r="0.95" fill="#7c8ec0" fill-opacity="0.7" stroke="#7c8ec0" stroke-width="0.45"/><circle cx="693.51" cy="325.84" r="0.95" fill="#7c8ec0" fill-opacity="0.7" stroke="#7c8ec0" stroke-width="0.45"/><circle cx="695.86" cy="325.97" r="0.95" fill="#7ccfca" fill-opacity="0.7" stroke="#7ccfca" stroke-width="0.45"/><circle cx="697.69" cy="325.95" r="0.95" fill="#9cbcf0" fill-opacity="0.7" stroke="#9cbcf0" stroke-width="0.45"/><circle cx="699.93" cy="325.29" r="0.95" fill="#8ca6ea" fill-opacity="0.7" stroke="#8ca6ea" stroke-width="0.45"/><circle cx="702.44" cy="325.92" r="0.95" fill="#9cbcf0" fill-opacity="0.7" stroke="#9cbcf0" stroke-width="0.45"/><circle cx="704.52" cy="325.50" r="0.95" fill="#e0707e" fill-opacity="0.7" stroke="#e0707e" stroke-width="0.45"/><circle cx="706.62" cy="325.77" r="0.95" fill="#7ccfca" fill-opacity="0.7" stroke="#7ccfca" stroke-width="0.45"/><circle cx="708.52" cy="325.84" r="0.95" fill="#8ca6ea" fill-opacity="0.7" stroke="#8ca6ea" stroke-width="0.45"/><circle cx="710.83" cy="325.66" r="0.95" fill="#8ca6ea" fill-opacity="0.7" stroke="#8ca6ea" stroke-width="0.45"/><circle cx="657.21" cy="327.72" r="0.95" fill="#f2c898" fill-opacity="0.7" stroke="#f2c898" stroke-width="0.45"/><circle cx="659.09" cy="327.86" r="0.95" fill="#a994dc" fill-opacity="0.7" stroke="#a994dc" stroke-width="0.45"/><circle cx="661.38" cy="327.66" r="0.95" fill="#9cbcf0" fill-opacity="0.7" stroke="#9cbcf0" stroke-width="0.45"/><circle cx="663.35" cy="327.24" r="0.95" fill="#d4608a" fill-opacity="0.7" stroke="#d4608a" stroke-width="0.45"/><circle cx="665.82" cy="327.14" r="0.95" fill="#e8dde6" fill-opacity="0.7" stroke="#e8dde6" stroke-width="0.45"/><circle cx="667.88" cy="327.80" r="0.95" fill="#e8dde6" fill-opacity="0.7" stroke="#e8dde6" stroke-width="0.45"/><circle cx="670.49" cy="327.37" r="0.95" fill="#d4608a" fill-opacity="0.7" stroke="#d4608a" stroke-width="0.45"/><circle cx="672.16" cy="327.60" r="0.95" fill="#d4608a" fill-opacity="0.7" stroke="#d4608a" stroke-width="0.45"/><circle cx="674.82" cy="327.49" r="0.95" fill="#d4608a" fill-opacity="0.7" stroke="#d4608a" stroke-width="0.45"/><circle cx="676.96" cy="327.77" r="0.95" fill="#d4608a" fill-opacity="0.7" stroke="#d4608a" stroke-width="0.45"/><circle cx="679.42" cy="327.31" r="0.95" fill="#d4608a" fill-opacity="0.7" stroke="#d4608a" stroke-width="0.45"/><circle cx="680.99" cy="327.79" r="0.95" fill="#d4608a" fill-opacity="0.7" stroke="#d4608a" stroke-width="0.45"/><circle cx="683.81" cy="327.90" r="0.95" fill="#d4608a" fill-opacity="0.7" stroke="#d4608a" stroke-width="0.45"/><circle cx="685.87" cy="327.11" r="0.95" fill="#7ccfca" fill-opacity="0.7" stroke="#7ccfca" stroke-width="0.45"/><circle cx="687.68" cy="327.56" r="0.95" fill="#8ca6ea" fill-opacity="0.7" stroke="#8ca6ea" stroke-width="0.45"/><circle cx="690.35" cy="327.78" r="0.95" fill="#8ca6ea" fill-opacity="0.7" stroke="#8ca6ea" stroke-width="0.45"/><circle cx="692.35" cy="327.12" r="0.95" fill="#a994dc" fill-opacity="0.7" stroke="#a994dc" stroke-width="0.45"/><circle cx="694.49" cy="327.87" r="0.95" fill="#9cbcf0" fill-opacity="0.7" stroke="#9cbcf0" stroke-width="0.45"/><circle cx="696.43" cy="327.60" r="0.95" fill="#f2c898" fill-opacity="0.7" stroke="#f2c898" stroke-width="0.45"/><circle cx="698.92" cy="327.44" r="0.95" fill="#e0707e" fill-opacity="0.7" stroke="#e0707e" stroke-width="0.45"/><circle cx="701.24" cy="327.48" r="0.95" fill="#e88aa0" fill-opacity="0.7" stroke="#e88aa0" stroke-width="0.45"/><circle cx="703.59" cy="327.69" r="0.95" fill="#a994dc" fill-opacity="0.7" stroke="#a994dc" stroke-width="0.45"/><circle cx="705.81" cy="327.33" r="0.95" fill="#a994dc" fill-opacity="0.7" stroke="#a994dc" stroke-width="0.45"/><circle cx="707.72" cy="327.66" r="0.95" fill="#a994dc" fill-opacity="0.7" stroke="#a994dc" stroke-width="0.45"/><circle cx="710.15" cy="327.69" r="0.95" fill="#8ca6ea" fill-opacity="0.7" stroke="#8ca6ea" stroke-width="0.45"/><circle cx="655.75" cy="329.34" r="0.95" fill="#a994dc" fill-opacity="0.7" stroke="#a994dc" stroke-width="0.45"/><circle cx="658.37" cy="329.07" r="0.95" fill="#7ccfca" fill-opacity="0.7" stroke="#7ccfca" stroke-width="0.45"/><circle cx="660.49" cy="329.33" r="0.95" fill="#7ccfca" fill-opacity="0.7" stroke="#7ccfca" stroke-width="0.45"/><circle cx="662.51" cy="329.70" r="0.95" fill="#d4608a" fill-opacity="0.7" stroke="#d4608a" stroke-width="0.45"/><circle cx="664.82" cy="329.14" r="0.95" fill="#d4608a" fill-opacity="0.7" stroke="#d4608a" stroke-width="0.45"/><circle cx="666.75" cy="329.23" r="0.95" fill="#d4608a" fill-opacity="0.7" stroke="#d4608a" stroke-width="0.45"/><circle cx="669.53" cy="329.27" r="0.95" fill="#d4608a" fill-opacity="0.7" stroke="#d4608a" stroke-width="0.45"/><circle cx="671.52" cy="329.78" r="0.95" fill="#d4608a" fill-opacity="0.7" stroke="#d4608a" stroke-width="0.45"/><circle cx="673.65" cy="329.16" r="0.95" fill="#d4608a" fill-opacity="0.7" stroke="#d4608a" stroke-width="0.45"/><circle cx="675.66" cy="329.80" r="0.95" fill="#e8dde6" fill-opacity="0.7" stroke="#e8dde6" stroke-width="0.45"/><circle cx="677.77" cy="329.56" r="0.95" fill="#d4608a" fill-opacity="0.7" stroke="#d4608a" stroke-width="0.45"/><circle cx="679.92" cy="329.67" r="0.95" fill="#d4608a" fill-opacity="0.7" stroke="#d4608a" stroke-width="0.45"/><circle cx="682.52" cy="329.56" r="0.95" fill="#d4608a" fill-opacity="0.7" stroke="#d4608a" stroke-width="0.45"/><circle cx="684.39" cy="329.30" r="0.95" fill="#d4608a" fill-opacity="0.7" stroke="#d4608a" stroke-width="0.45"/><circle cx="686.47" cy="329.02" r="0.95" fill="#d4608a" fill-opacity="0.7" stroke="#d4608a" stroke-width="0.45"/><circle cx="689.27" cy="329.24" r="0.95" fill="#8ca6ea" fill-opacity="0.7" stroke="#8ca6ea" stroke-width="0.45"/><circle cx="691.49" cy="329.03" r="0.95" fill="#c0a4e4" fill-opacity="0.7" stroke="#c0a4e4" stroke-width="0.45"/><circle cx="693.45" cy="329.78" r="0.95" fill="#a994dc" fill-opacity="0.7" stroke="#a994dc" stroke-width="0.45"/><circle cx="695.98" cy="329.38" r="0.95" fill="#f2c898" fill-opacity="0.7" stroke="#f2c898" stroke-width="0.45"/><circle cx="697.95" cy="329.59" r="0.95" fill="#8ca6ea" fill-opacity="0.7" stroke="#8ca6ea" stroke-width="0.45"/><circle cx="700.21" cy="329.19" r="0.95" fill="#7ccfca" fill-opacity="0.7" stroke="#7ccfca" stroke-width="0.45"/><circle cx="702.42" cy="329.22" r="0.95" fill="#9cbcf0" fill-opacity="0.7" stroke="#9cbcf0" stroke-width="0.45"/><circle cx="704.62" cy="329.64" r="0.95" fill="#9cbcf0" fill-opacity="0.7" stroke="#9cbcf0" stroke-width="0.45"/><circle cx="706.32" cy="329.08" r="0.95" fill="#7ccfca" fill-opacity="0.7" stroke="#7ccfca" stroke-width="0.45"/><circle cx="709.12" cy="329.56" r="0.95" fill="#7ccfca" fill-opacity="0.7" stroke="#7ccfca" stroke-width="0.45"/><circle cx="654.71" cy="330.97" r="0.95" fill="#a994dc" fill-opacity="0.7" stroke="#a994dc" stroke-width="0.45"/><circle cx="657.37" cy="331.10" r="0.95" fill="#e0707e" fill-opacity="0.7" stroke="#e0707e" stroke-width="0.45"/><circle cx="659.17" cy="331.35" r="0.95" fill="#9cbcf0" fill-opacity="0.7" stroke="#9cbcf0" stroke-width="0.45"/><circle cx="661.37" cy="331.14" r="0.95" fill="#8ca6ea" fill-opacity="0.7" stroke="#8ca6ea" stroke-width="0.45"/><circle cx="664.09" cy="330.96" r="0.95" fill="#d4608a" fill-opacity="0.7" stroke="#d4608a" stroke-width="0.45"/><circle cx="665.63" cy="330.95" r="0.95" fill="#d4608a" fill-opacity="0.7" stroke="#d4608a" stroke-width="0.45"/><circle cx="667.80" cy="331.60" r="0.95" fill="#d4608a" fill-opacity="0.7" stroke="#d4608a" stroke-width="0.45"/><circle cx="670.22" cy="330.99" r="0.95" fill="#d4608a" fill-opacity="0.7" stroke="#d4608a" stroke-width="0.45"/><circle cx="672.15" cy="331.17" r="0.95" fill="#d4608a" fill-opacity="0.7" stroke="#d4608a" stroke-width="0.45"/><circle cx="675.01" cy="331.37" r="0.95" fill="#d4608a" fill-opacity="0.7" stroke="#d4608a" stroke-width="0.45"/><circle cx="677.13" cy="331.66" r="0.95" fill="#e8dde6" fill-opacity="0.7" stroke="#e8dde6" stroke-width="0.45"/><circle cx="679.32" cy="331.67" r="0.95" fill="#d4608a" fill-opacity="0.7" stroke="#d4608a" stroke-width="0.45"/><circle cx="681.14" cy="331.50" r="0.95" fill="#d4608a" fill-opacity="0.7" stroke="#d4608a" stroke-width="0.45"/><circle cx="683.84" cy="331.01" r="0.95" fill="#d4608a" fill-opacity="0.7" stroke="#d4608a" stroke-width="0.45"/><circle cx="685.31" cy="331.24" r="0.95" fill="#d4608a" fill-opacity="0.7" stroke="#d4608a" stroke-width="0.45"/><circle cx="687.90" cy="330.93" r="0.95" fill="#f2c898" fill-opacity="0.7" stroke="#f2c898" stroke-width="0.45"/><circle cx="690.46" cy="331.44" r="0.95" fill="#e88aa0" fill-opacity="0.7" stroke="#e88aa0" stroke-width="0.45"/><circle cx="692.52" cy="330.99" r="0.95" fill="#e0707e" fill-opacity="0.7" stroke="#e0707e" stroke-width="0.45"/><circle cx="694.52" cy="331.68" r="0.95" fill="#f2c898" fill-opacity="0.7" stroke="#f2c898" stroke-width="0.45"/><circle cx="697.03" cy="331.59" r="0.95" fill="#f2c898" fill-opacity="0.7" stroke="#f2c898" stroke-width="0.45"/><circle cx="698.75" cy="331.72" r="0.95" fill="#e0707e" fill-opacity="0.7" stroke="#e0707e" stroke-width="0.45"/><circle cx="700.90" cy="331.41" r="0.95" fill="#c0a4e4" fill-opacity="0.7" stroke="#c0a4e4" stroke-width="0.45"/><circle cx="702.97" cy="330.98" r="0.95" fill="#9cbcf0" fill-opacity="0.7" stroke="#9cbcf0" stroke-width="0.45"/><circle cx="705.25" cy="331.04" r="0.95" fill="#f2c898" fill-opacity="0.7" stroke="#f2c898" stroke-width="0.45"/><circle cx="707.44" cy="331.53" r="0.95" fill="#8ca6ea" fill-opacity="0.7" stroke="#8ca6ea" stroke-width="0.45"/><circle cx="656.11" cy="332.92" r="0.95" fill="#c0a4e4" fill-opacity="0.7" stroke="#c0a4e4" stroke-width="0.45"/><circle cx="658.00" cy="332.98" r="0.95" fill="#7ccfca" fill-opacity="0.7" stroke="#7ccfca" stroke-width="0.45"/><circle cx="660.01" cy="333.05" r="0.95" fill="#e0707e" fill-opacity="0.7" stroke="#e0707e" stroke-width="0.45"/><circle cx="662.54" cy="333.55" r="0.95" fill="#d4608a" fill-opacity="0.7" stroke="#d4608a" stroke-width="0.45"/><circle cx="665.00" cy="333.05" r="0.95" fill="#d4608a" fill-opacity="0.7" stroke="#d4608a" stroke-width="0.45"/><circle cx="666.79" cy="333.18" r="0.95" fill="#d4608a" fill-opacity="0.7" stroke="#d4608a" stroke-width="0.45"/><circle cx="669.10" cy="333.45" r="0.95" fill="#d4608a" fill-opacity="0.7" stroke="#d4608a" stroke-width="0.45"/><circle cx="671.58" cy="333.01" r="0.95" fill="#d4608a" fill-opacity="0.7" stroke="#d4608a" stroke-width="0.45"/><circle cx="673.86" cy="333.60" r="0.95" fill="#d4608a" fill-opacity="0.7" stroke="#d4608a" stroke-width="0.45"/><circle cx="675.56" cy="332.86" r="0.95" fill="#d4608a" fill-opacity="0.7" stroke="#d4608a" stroke-width="0.45"/><circle cx="677.86" cy="333.00" r="0.95" fill="#d4608a" fill-opacity="0.7" stroke="#d4608a" stroke-width="0.45"/><circle cx="679.88" cy="333.25" r="0.95" fill="#d4608a" fill-opacity="0.7" stroke="#d4608a" stroke-width="0.45"/><circle cx="682.45" cy="333.40" r="0.95" fill="#d4608a" fill-opacity="0.7" stroke="#d4608a" stroke-width="0.45"/><circle cx="684.47" cy="333.02" r="0.95" fill="#d4608a" fill-opacity="0.7" stroke="#d4608a" stroke-width="0.45"/><circle cx="687.16" cy="333.20" r="0.95" fill="#d4608a" fill-opacity="0.7" stroke="#d4608a" stroke-width="0.45"/><circle cx="688.89" cy="332.91" r="0.95" fill="#e0707e" fill-opacity="0.7" stroke="#e0707e" stroke-width="0.45"/><circle cx="691.37" cy="333.09" r="0.95" fill="#a994dc" fill-opacity="0.7" stroke="#a994dc" stroke-width="0.45"/><circle cx="693.61" cy="333.40" r="0.95" fill="#9cbcf0" fill-opacity="0.7" stroke="#9cbcf0" stroke-width="0.45"/><circle cx="695.45" cy="333.23" r="0.95" fill="#a994dc" fill-opacity="0.7" stroke="#a994dc" stroke-width="0.45"/><circle cx="698.00" cy="333.62" r="0.95" fill="#7ccfca" fill-opacity="0.7" stroke="#7ccfca" stroke-width="0.45"/><circle cx="700.04" cy="332.92" r="0.95" fill="#a994dc" fill-opacity="0.7" stroke="#a994dc" stroke-width="0.45"/><circle cx="702.12" cy="333.56" r="0.95" fill="#9cbcf0" fill-opacity="0.7" stroke="#9cbcf0" stroke-width="0.45"/><circle cx="704.58" cy="333.01" r="0.95" fill="#c0a4e4" fill-opacity="0.7" stroke="#c0a4e4" stroke-width="0.45"/><circle cx="655.03" cy="334.95" r="0.95" fill="#f2c898" fill-opacity="0.7" stroke="#f2c898" stroke-width="0.45"/><circle cx="656.90" cy="334.97" r="0.95" fill="#c0a4e4" fill-opacity="0.7" stroke="#c0a4e4" stroke-width="0.45"/><circle cx="659.46" cy="335.41" r="0.95" fill="#8ca6ea" fill-opacity="0.7" stroke="#8ca6ea" stroke-width="0.45"/><circle cx="661.88" cy="335.21" r="0.95" fill="#d4608a" fill-opacity="0.7" stroke="#d4608a" stroke-width="0.45"/><circle cx="663.35" cy="335.46" r="0.95" fill="#d4608a" fill-opacity="0.7" stroke="#d4608a" stroke-width="0.45"/><circle cx="665.53" cy="335.29" r="0.95" fill="#d4608a" fill-opacity="0.7" stroke="#d4608a" stroke-width="0.45"/><circle cx="668.28" cy="334.99" r="0.95" fill="#d4608a" fill-opacity="0.7" stroke="#d4608a" stroke-width="0.45"/><circle cx="670.05" cy="334.82" r="0.95" fill="#d4608a" fill-opacity="0.7" stroke="#d4608a" stroke-width="0.45"/><circle cx="672.59" cy="335.06" r="0.95" fill="#d4608a" fill-opacity="0.7" stroke="#d4608a" stroke-width="0.45"/><circle cx="674.64" cy="335.21" r="0.95" fill="#d4608a" fill-opacity="0.7" stroke="#d4608a" stroke-width="0.45"/><circle cx="677.12" cy="335.28" r="0.95" fill="#d4608a" fill-opacity="0.7" stroke="#d4608a" stroke-width="0.45"/><circle cx="679.13" cy="334.98" r="0.95" fill="#d4608a" fill-opacity="0.7" stroke="#d4608a" stroke-width="0.45"/><circle cx="681.44" cy="335.05" r="0.95" fill="#d4608a" fill-opacity="0.7" stroke="#d4608a" stroke-width="0.45"/><circle cx="683.59" cy="335.07" r="0.95" fill="#d4608a" fill-opacity="0.7" stroke="#d4608a" stroke-width="0.45"/><circle cx="685.85" cy="335.52" r="0.95" fill="#d4608a" fill-opacity="0.7" stroke="#d4608a" stroke-width="0.45"/><circle cx="687.54" cy="335.31" r="0.95" fill="#d4608a" fill-opacity="0.7" stroke="#d4608a" stroke-width="0.45"/><circle cx="689.75" cy="335.39" r="0.95" fill="#c0a4e4" fill-opacity="0.7" stroke="#c0a4e4" stroke-width="0.45"/><circle cx="691.98" cy="335.20" r="0.95" fill="#c0a4e4" fill-opacity="0.7" stroke="#c0a4e4" stroke-width="0.45"/><circle cx="694.69" cy="335.13" r="0.95" fill="#e88aa0" fill-opacity="0.7" stroke="#e88aa0" stroke-width="0.45"/><circle cx="696.41" cy="335.18" r="0.95" fill="#c0a4e4" fill-opacity="0.7" stroke="#c0a4e4" stroke-width="0.45"/><circle cx="699.22" cy="335.38" r="0.95" fill="#7ccfca" fill-opacity="0.7" stroke="#7ccfca" stroke-width="0.45"/><circle cx="701.14" cy="335.10" r="0.95" fill="#a994dc" fill-opacity="0.7" stroke="#a994dc" stroke-width="0.45"/><circle cx="703.41" cy="334.86" r="0.95" fill="#a994dc" fill-opacity="0.7" stroke="#a994dc" stroke-width="0.45"/><circle cx="654.17" cy="336.69" r="0.95" fill="#9cbcf0" fill-opacity="0.7" stroke="#9cbcf0" stroke-width="0.45"/><circle cx="655.63" cy="336.70" r="0.95" fill="#e0707e" fill-opacity="0.7" stroke="#e0707e" stroke-width="0.45"/><circle cx="658.02" cy="337.43" r="0.95" fill="#a994dc" fill-opacity="0.7" stroke="#a994dc" stroke-width="0.45"/><circle cx="660.22" cy="337.08" r="0.95" fill="#c0a4e4" fill-opacity="0.7" stroke="#c0a4e4" stroke-width="0.45"/><circle cx="662.54" cy="336.68" r="0.95" fill="#d4608a" fill-opacity="0.7" stroke="#d4608a" stroke-width="0.45"/><circle cx="664.97" cy="337.34" r="0.95" fill="#e8dde6" fill-opacity="0.7" stroke="#e8dde6" stroke-width="0.45"/><circle cx="666.90" cy="336.67" r="0.95" fill="#d4608a" fill-opacity="0.7" stroke="#d4608a" stroke-width="0.45"/><circle cx="669.10" cy="337.30" r="0.95" fill="#d4608a" fill-opacity="0.7" stroke="#d4608a" stroke-width="0.45"/><circle cx="671.74" cy="336.77" r="0.95" fill="#d4608a" fill-opacity="0.7" stroke="#d4608a" stroke-width="0.45"/><circle cx="673.43" cy="337.09" r="0.95" fill="#d4608a" fill-opacity="0.7" stroke="#d4608a" stroke-width="0.45"/><circle cx="675.67" cy="337.16" r="0.95" fill="#d4608a" fill-opacity="0.7" stroke="#d4608a" stroke-width="0.45"/><circle cx="677.93" cy="337.02" r="0.95" fill="#d4608a" fill-opacity="0.7" stroke="#d4608a" stroke-width="0.45"/><circle cx="680.13" cy="337.37" r="0.95" fill="#d4608a" fill-opacity="0.7" stroke="#d4608a" stroke-width="0.45"/><circle cx="682.08" cy="337.34" r="0.95" fill="#d4608a" fill-opacity="0.7" stroke="#d4608a" stroke-width="0.45"/><circle cx="684.39" cy="337.46" r="0.95" fill="#d4608a" fill-opacity="0.7" stroke="#d4608a" stroke-width="0.45"/><circle cx="686.63" cy="337.39" r="0.95" fill="#d4608a" fill-opacity="0.7" stroke="#d4608a" stroke-width="0.45"/><circle cx="688.81" cy="337.05" r="0.95" fill="#e88aa0" fill-opacity="0.7" stroke="#e88aa0" stroke-width="0.45"/><circle cx="691.44" cy="336.79" r="0.95" fill="#7ccfca" fill-opacity="0.7" stroke="#7ccfca" stroke-width="0.45"/><circle cx="693.69" cy="337.10" r="0.95" fill="#e88aa0" fill-opacity="0.7" stroke="#e88aa0" stroke-width="0.45"/><circle cx="695.31" cy="336.68" r="0.95" fill="#c0a4e4" fill-opacity="0.7" stroke="#c0a4e4" stroke-width="0.45"/><circle cx="697.40" cy="336.97" r="0.95" fill="#c0a4e4" fill-opacity="0.7" stroke="#c0a4e4" stroke-width="0.45"/><circle cx="700.16" cy="336.77" r="0.95" fill="#e88aa0" fill-opacity="0.7" stroke="#e88aa0" stroke-width="0.45"/><circle cx="701.87" cy="336.89" r="0.95" fill="#8ca6ea" fill-opacity="0.7" stroke="#8ca6ea" stroke-width="0.45"/><circle cx="654.52" cy="338.83" r="0.95" fill="#c0a4e4" fill-opacity="0.7" stroke="#c0a4e4" stroke-width="0.45"/><circle cx="657.08" cy="338.58" r="0.95" fill="#e0707e" fill-opacity="0.7" stroke="#e0707e" stroke-width="0.45"/><circle cx="658.96" cy="338.98" r="0.95" fill="#a994dc" fill-opacity="0.7" stroke="#a994dc" stroke-width="0.45"/><circle cx="661.80" cy="338.95" r="0.95" fill="#d4608a" fill-opacity="0.7" stroke="#d4608a" stroke-width="0.45"/><circle cx="663.73" cy="339.29" r="0.95" fill="#d4608a" fill-opacity="0.7" stroke="#d4608a" stroke-width="0.45"/><circle cx="666.07" cy="339.27" r="0.95" fill="#d4608a" fill-opacity="0.7" stroke="#d4608a" stroke-width="0.45"/><circle cx="668.32" cy="339.08" r="0.95" fill="#d4608a" fill-opacity="0.7" stroke="#d4608a" stroke-width="0.45"/><circle cx="670.42" cy="338.97" r="0.95" fill="#d4608a" fill-opacity="0.7" stroke="#d4608a" stroke-width="0.45"/><circle cx="672.53" cy="339.37" r="0.95" fill="#d4608a" fill-opacity="0.7" stroke="#d4608a" stroke-width="0.45"/><circle cx="674.68" cy="339.00" r="0.95" fill="#d4608a" fill-opacity="0.7" stroke="#d4608a" stroke-width="0.45"/><circle cx="676.71" cy="339.11" r="0.95" fill="#d4608a" fill-opacity="0.7" stroke="#d4608a" stroke-width="0.45"/><circle cx="679.35" cy="338.99" r="0.95" fill="#d4608a" fill-opacity="0.7" stroke="#d4608a" stroke-width="0.45"/><circle cx="681.11" cy="338.62" r="0.95" fill="#d4608a" fill-opacity="0.7" stroke="#d4608a" stroke-width="0.45"/><circle cx="683.84" cy="339.33" r="0.95" fill="#d4608a" fill-opacity="0.7" stroke="#d4608a" stroke-width="0.45"/><circle cx="685.48" cy="339.05" r="0.95" fill="#d4608a" fill-opacity="0.7" stroke="#d4608a" stroke-width="0.45"/><circle cx="687.83" cy="338.96" r="0.95" fill="#a994dc" fill-opacity="0.7" stroke="#a994dc" stroke-width="0.45"/><circle cx="690.25" cy="339.16" r="0.95" fill="#a994dc" fill-opacity="0.7" stroke="#a994dc" stroke-width="0.45"/><circle cx="692.19" cy="338.99" r="0.95" fill="#7ccfca" fill-opacity="0.7" stroke="#7ccfca" stroke-width="0.45"/><circle cx="694.14" cy="339.23" r="0.95" fill="#e0707e" fill-opacity="0.7" stroke="#e0707e" stroke-width="0.45"/><circle cx="696.59" cy="338.71" r="0.95" fill="#8ca6ea" fill-opacity="0.7" stroke="#8ca6ea" stroke-width="0.45"/><circle cx="699.15" cy="338.71" r="0.95" fill="#e88aa0" fill-opacity="0.7" stroke="#e88aa0" stroke-width="0.45"/><circle cx="653.91" cy="340.99" r="0.95" fill="#7ccfca" fill-opacity="0.7" stroke="#7ccfca" stroke-width="0.45"/><circle cx="655.95" cy="341.14" r="0.95" fill="#e88aa0" fill-opacity="0.7" stroke="#e88aa0" stroke-width="0.45"/><circle cx="658.17" cy="341.20" r="0.95" fill="#c0a4e4" fill-opacity="0.7" stroke="#c0a4e4" stroke-width="0.45"/><circle cx="660.80" cy="341.22" r="0.95" fill="#e88aa0" fill-opacity="0.7" stroke="#e88aa0" stroke-width="0.45"/><circle cx="662.55" cy="340.86" r="0.95" fill="#9cbcf0" fill-opacity="0.7" stroke="#9cbcf0" stroke-width="0.45"/><circle cx="664.90" cy="340.68" r="0.95" fill="#e8dde6" fill-opacity="0.7" stroke="#e8dde6" stroke-width="0.45"/><circle cx="667.11" cy="340.51" r="0.95" fill="#d4608a" fill-opacity="0.7" stroke="#d4608a" stroke-width="0.45"/><circle cx="669.28" cy="340.90" r="0.95" fill="#d4608a" fill-opacity="0.7" stroke="#d4608a" stroke-width="0.45"/><circle cx="671.50" cy="341.06" r="0.95" fill="#d4608a" fill-opacity="0.7" stroke="#d4608a" stroke-width="0.45"/><circle cx="673.60" cy="341.21" r="0.95" fill="#d4608a" fill-opacity="0.7" stroke="#d4608a" stroke-width="0.45"/><circle cx="675.93" cy="340.74" r="0.95" fill="#d4608a" fill-opacity="0.7" stroke="#d4608a" stroke-width="0.45"/><circle cx="678.31" cy="340.65" r="0.95" fill="#d4608a" fill-opacity="0.7" stroke="#d4608a" stroke-width="0.45"/><circle cx="680.40" cy="340.75" r="0.95" fill="#e8dde6" fill-opacity="0.7" stroke="#e8dde6" stroke-width="0.45"/><circle cx="682.60" cy="341.22" r="0.95" fill="#d4608a" fill-opacity="0.7" stroke="#d4608a" stroke-width="0.45"/><circle cx="684.35" cy="341.27" r="0.95" fill="#d4608a" fill-opacity="0.7" stroke="#d4608a" stroke-width="0.45"/><circle cx="686.77" cy="341.15" r="0.95" fill="#e88aa0" fill-opacity="0.7" stroke="#e88aa0" stroke-width="0.45"/><circle cx="688.99" cy="340.78" r="0.95" fill="#c0a4e4" fill-opacity="0.7" stroke="#c0a4e4" stroke-width="0.45"/><circle cx="691.19" cy="340.84" r="0.95" fill="#a994dc" fill-opacity="0.7" stroke="#a994dc" stroke-width="0.45"/><circle cx="693.59" cy="340.60" r="0.95" fill="#f2c898" fill-opacity="0.7" stroke="#f2c898" stroke-width="0.45"/><circle cx="695.27" cy="341.01" r="0.95" fill="#c0a4e4" fill-opacity="0.7" stroke="#c0a4e4" stroke-width="0.45"/><circle cx="655.15" cy="342.78" r="0.95" fill="#7ccfca" fill-opacity="0.7" stroke="#7ccfca" stroke-width="0.45"/><circle cx="657.28" cy="343.06" r="0.95" fill="#9cbcf0" fill-opacity="0.7" stroke="#9cbcf0" stroke-width="0.45"/><circle cx="659.08" cy="342.65" r="0.95" fill="#f2c898" fill-opacity="0.7" stroke="#f2c898" stroke-width="0.45"/><circle cx="661.73" cy="342.84" r="0.95" fill="#f2c898" fill-opacity="0.7" stroke="#f2c898" stroke-width="0.45"/><circle cx="663.82" cy="343.19" r="0.95" fill="#e0707e" fill-opacity="0.7" stroke="#e0707e" stroke-width="0.45"/><circle cx="665.94" cy="342.58" r="0.95" fill="#e8dde6" fill-opacity="0.7" stroke="#e8dde6" stroke-width="0.45"/><circle cx="668.29" cy="342.73" r="0.95" fill="#d4608a" fill-opacity="0.7" stroke="#d4608a" stroke-width="0.45"/><circle cx="670.29" cy="343.10" r="0.95" fill="#d4608a" fill-opacity="0.7" stroke="#d4608a" stroke-width="0.45"/><circle cx="672.48" cy="342.84" r="0.95" fill="#d4608a" fill-opacity="0.7" stroke="#d4608a" stroke-width="0.45"/><circle cx="674.50" cy="343.00" r="0.95" fill="#d4608a" fill-opacity="0.7" stroke="#d4608a" stroke-width="0.45"/><circle cx="677.20" cy="343.20" r="0.95" fill="#d4608a" fill-opacity="0.7" stroke="#d4608a" stroke-width="0.45"/><circle cx="678.89" cy="343.17" r="0.95" fill="#d4608a" fill-opacity="0.7" stroke="#d4608a" stroke-width="0.45"/><circle cx="681.27" cy="342.63" r="0.95" fill="#d4608a" fill-opacity="0.7" stroke="#d4608a" stroke-width="0.45"/><circle cx="683.73" cy="342.76" r="0.95" fill="#d4608a" fill-opacity="0.7" stroke="#d4608a" stroke-width="0.45"/><circle cx="685.79" cy="342.73" r="0.95" fill="#c0a4e4" fill-opacity="0.7" stroke="#c0a4e4" stroke-width="0.45"/><circle cx="688.29" cy="342.56" r="0.95" fill="#a994dc" fill-opacity="0.7" stroke="#a994dc" stroke-width="0.45"/><circle cx="689.79" cy="342.51" r="0.95" fill="#7ccfca" fill-opacity="0.7" stroke="#7ccfca" stroke-width="0.45"/><circle cx="692.59" cy="342.89" r="0.95" fill="#e0707e" fill-opacity="0.7" stroke="#e0707e" stroke-width="0.45"/><circle cx="655.89" cy="344.96" r="0.95" fill="#e0707e" fill-opacity="0.7" stroke="#e0707e" stroke-width="0.45"/><circle cx="658.57" cy="344.90" r="0.95" fill="#e88aa0" fill-opacity="0.7" stroke="#e88aa0" stroke-width="0.45"/><circle cx="660.38" cy="344.77" r="0.95" fill="#7ccfca" fill-opacity="0.7" stroke="#7ccfca" stroke-width="0.45"/><circle cx="662.54" cy="344.87" r="0.95" fill="#e88aa0" fill-opacity="0.7" stroke="#e88aa0" stroke-width="0.45"/><circle cx="665.19" cy="344.68" r="0.95" fill="#f2c898" fill-opacity="0.7" stroke="#f2c898" stroke-width="0.45"/><circle cx="666.83" cy="344.45" r="0.95" fill="#d4608a" fill-opacity="0.7" stroke="#d4608a" stroke-width="0.45"/><circle cx="668.87" cy="344.94" r="0.95" fill="#d4608a" fill-opacity="0.7" stroke="#d4608a" stroke-width="0.45"/><circle cx="671.23" cy="344.56" r="0.95" fill="#e8dde6" fill-opacity="0.7" stroke="#e8dde6" stroke-width="0.45"/><circle cx="673.99" cy="344.60" r="0.95" fill="#d4608a" fill-opacity="0.7" stroke="#d4608a" stroke-width="0.45"/><circle cx="675.76" cy="344.70" r="0.95" fill="#d4608a" fill-opacity="0.7" stroke="#d4608a" stroke-width="0.45"/><circle cx="678.32" cy="344.96" r="0.95" fill="#d4608a" fill-opacity="0.7" stroke="#d4608a" stroke-width="0.45"/><circle cx="679.95" cy="345.12" r="0.95" fill="#d4608a" fill-opacity="0.7" stroke="#d4608a" stroke-width="0.45"/><circle cx="682.66" cy="344.59" r="0.95" fill="#d4608a" fill-opacity="0.7" stroke="#d4608a" stroke-width="0.45"/><circle cx="684.86" cy="344.40" r="0.95" fill="#8ca6ea" fill-opacity="0.7" stroke="#8ca6ea" stroke-width="0.45"/><circle cx="686.91" cy="344.47" r="0.95" fill="#e88aa0" fill-opacity="0.7" stroke="#e88aa0" stroke-width="0.45"/><circle cx="689.04" cy="344.69" r="0.95" fill="#a994dc" fill-opacity="0.7" stroke="#a994dc" stroke-width="0.45"/><circle cx="654.80" cy="346.49" r="0.95" fill="#9cbcf0" fill-opacity="0.7" stroke="#9cbcf0" stroke-width="0.45"/><circle cx="657.33" cy="346.37" r="0.95" fill="#c0a4e4" fill-opacity="0.7" stroke="#c0a4e4" stroke-width="0.45"/><circle cx="659.09" cy="346.24" r="0.95" fill="#9cbcf0" fill-opacity="0.7" stroke="#9cbcf0" stroke-width="0.45"/><circle cx="661.71" cy="346.85" r="0.95" fill="#e0707e" fill-opacity="0.7" stroke="#e0707e" stroke-width="0.45"/><circle cx="663.70" cy="347.02" r="0.95" fill="#7ccfca" fill-opacity="0.7" stroke="#7ccfca" stroke-width="0.45"/><circle cx="665.57" cy="346.47" r="0.95" fill="#e88aa0" fill-opacity="0.7" stroke="#e88aa0" stroke-width="0.45"/><circle cx="667.82" cy="346.58" r="0.95" fill="#f2c898" fill-opacity="0.7" stroke="#f2c898" stroke-width="0.45"/><circle cx="670.57" cy="346.50" r="0.95" fill="#e8dde6" fill-opacity="0.7" stroke="#e8dde6" stroke-width="0.45"/><circle cx="672.52" cy="346.58" r="0.95" fill="#d4608a" fill-opacity="0.7" stroke="#d4608a" stroke-width="0.45"/><circle cx="674.56" cy="346.38" r="0.95" fill="#d4608a" fill-opacity="0.7" stroke="#d4608a" stroke-width="0.45"/><circle cx="676.98" cy="346.54" r="0.95" fill="#d4608a" fill-opacity="0.7" stroke="#d4608a" stroke-width="0.45"/><circle cx="679.00" cy="346.85" r="0.95" fill="#d4608a" fill-opacity="0.7" stroke="#d4608a" stroke-width="0.45"/><circle cx="681.15" cy="347.02" r="0.95" fill="#f2c898" fill-opacity="0.7" stroke="#f2c898" stroke-width="0.45"/><circle cx="683.75" cy="346.92" r="0.95" fill="#f2c898" fill-opacity="0.7" stroke="#f2c898" stroke-width="0.45"/><circle cx="685.58" cy="346.93" r="0.95" fill="#e0707e" fill-opacity="0.7" stroke="#e0707e" stroke-width="0.45"/><circle cx="656.26" cy="348.63" r="0.95" fill="#7ccfca" fill-opacity="0.7" stroke="#7ccfca" stroke-width="0.45"/><circle cx="658.08" cy="348.91" r="0.95" fill="#8ca6ea" fill-opacity="0.7" stroke="#8ca6ea" stroke-width="0.45"/><circle cx="660.54" cy="348.79" r="0.95" fill="#a994dc" fill-opacity="0.7" stroke="#a994dc" stroke-width="0.45"/><circle cx="662.67" cy="348.19" r="0.95" fill="#a994dc" fill-opacity="0.7" stroke="#a994dc" stroke-width="0.45"/><circle cx="665.07" cy="348.44" r="0.95" fill="#7ccfca" fill-opacity="0.7" stroke="#7ccfca" stroke-width="0.45"/><circle cx="667.15" cy="348.91" r="0.95" fill="#9cbcf0" fill-opacity="0.7" stroke="#9cbcf0" stroke-width="0.45"/><circle cx="669.22" cy="348.94" r="0.95" fill="#9cbcf0" fill-opacity="0.7" stroke="#9cbcf0" stroke-width="0.45"/><circle cx="671.14" cy="348.45" r="0.95" fill="#9cbcf0" fill-opacity="0.7" stroke="#9cbcf0" stroke-width="0.45"/><circle cx="673.36" cy="348.69" r="0.95" fill="#f2c898" fill-opacity="0.7" stroke="#f2c898" stroke-width="0.45"/><circle cx="675.63" cy="348.21" r="0.95" fill="#f2c898" fill-opacity="0.7" stroke="#f2c898" stroke-width="0.45"/><circle cx="677.73" cy="348.92" r="0.95" fill="#c0a4e4" fill-opacity="0.7" stroke="#c0a4e4" stroke-width="0.45"/><circle cx="680.29" cy="348.62" r="0.95" fill="#f2c898" fill-opacity="0.7" stroke="#f2c898" stroke-width="0.45"/><circle cx="682.14" cy="348.16" r="0.95" fill="#e88aa0" fill-opacity="0.7" stroke="#e88aa0" stroke-width="0.45"/><circle cx="657.01" cy="350.63" r="0.95" fill="#e88aa0" fill-opacity="0.7" stroke="#e88aa0" stroke-width="0.45"/><circle cx="659.67" cy="350.33" r="0.95" fill="#8ca6ea" fill-opacity="0.7" stroke="#8ca6ea" stroke-width="0.45"/><circle cx="661.63" cy="350.19" r="0.95" fill="#e88aa0" fill-opacity="0.7" stroke="#e88aa0" stroke-width="0.45"/><circle cx="663.58" cy="350.34" r="0.95" fill="#a994dc" fill-opacity="0.7" stroke="#a994dc" stroke-width="0.45"/><circle cx="666.26" cy="350.18" r="0.95" fill="#9cbcf0" fill-opacity="0.7" stroke="#9cbcf0" stroke-width="0.45"/><circle cx="668.18" cy="350.07" r="0.95" fill="#c0a4e4" fill-opacity="0.7" stroke="#c0a4e4" stroke-width="0.45"/><circle cx="670.06" cy="350.83" r="0.95" fill="#a994dc" fill-opacity="0.7" stroke="#a994dc" stroke-width="0.45"/><circle cx="672.39" cy="350.22" r="0.95" fill="#a994dc" fill-opacity="0.7" stroke="#a994dc" stroke-width="0.45"/><circle cx="674.74" cy="350.58" r="0.95" fill="#a994dc" fill-opacity="0.7" stroke="#a994dc" stroke-width="0.45"/><circle cx="677.05" cy="350.81" r="0.95" fill="#f2c898" fill-opacity="0.7" stroke="#f2c898" stroke-width="0.45"/><circle cx="678.85" cy="350.60" r="0.95" fill="#e0707e" fill-opacity="0.7" stroke="#e0707e" stroke-width="0.45"/><circle cx="658.32" cy="352.47" r="0.95" fill="#9cbcf0" fill-opacity="0.7" stroke="#9cbcf0" stroke-width="0.45"/><circle cx="660.51" cy="352.65" r="0.95" fill="#7ccfca" fill-opacity="0.7" stroke="#7ccfca" stroke-width="0.45"/><circle cx="662.44" cy="352.10" r="0.95" fill="#7ccfca" fill-opacity="0.7" stroke="#7ccfca" stroke-width="0.45"/><circle cx="664.70" cy="352.54" r="0.95" fill="#f2c898" fill-opacity="0.7" stroke="#f2c898" stroke-width="0.45"/><circle cx="666.76" cy="352.12" r="0.95" fill="#7ccfca" fill-opacity="0.7" stroke="#7ccfca" stroke-width="0.45"/><circle cx="669.21" cy="352.56" r="0.95" fill="#9cbcf0" fill-opacity="0.7" stroke="#9cbcf0" stroke-width="0.45"/><circle cx="671.39" cy="352.05" r="0.95" fill="#e88aa0" fill-opacity="0.7" stroke="#e88aa0" stroke-width="0.45"/><circle cx="673.41" cy="352.78" r="0.95" fill="#f2c898" fill-opacity="0.7" stroke="#f2c898" stroke-width="0.45"/><circle cx="675.87" cy="352.16" r="0.95" fill="#7ccfca" fill-opacity="0.7" stroke="#7ccfca" stroke-width="0.45"/><circle cx="661.33" cy="354.16" r="0.95" fill="#f2c898" fill-opacity="0.7" stroke="#f2c898" stroke-width="0.45"/><circle cx="663.86" cy="354.47" r="0.95" fill="#e88aa0" fill-opacity="0.7" stroke="#e88aa0" stroke-width="0.45"/><circle cx="665.52" cy="354.32" r="0.95" fill="#9cbcf0" fill-opacity="0.7" stroke="#9cbcf0" stroke-width="0.45"/><circle cx="668.12" cy="354.38" r="0.95" fill="#9cbcf0" fill-opacity="0.7" stroke="#9cbcf0" stroke-width="0.45"/><circle cx="670.29" cy="354.63" r="0.95" fill="#a994dc" fill-opacity="0.7" stroke="#a994dc" stroke-width="0.45"/><circle cx="672.39" cy="354.60" r="0.95" fill="#c0a4e4" fill-opacity="0.7" stroke="#c0a4e4" stroke-width="0.45"/><circle cx="662.51" cy="355.88" r="0.95" fill="#7ccfca" fill-opacity="0.7" stroke="#7ccfca" stroke-width="0.45"/><circle cx="665.07" cy="355.81" r="0.95" fill="#9cbcf0" fill-opacity="0.7" stroke="#9cbcf0" stroke-width="0.45"/><circle cx="666.78" cy="356.09" r="0.95" fill="#c0a4e4" fill-opacity="0.7" stroke="#c0a4e4" stroke-width="0.45"/><circle cx="668.90" cy="355.83" r="0.95" fill="#c0a4e4" fill-opacity="0.7" stroke="#c0a4e4" stroke-width="0.45"/><circle cx="671.62" cy="355.94" r="0.95" fill="#e0707e" fill-opacity="0.7" stroke="#e0707e" stroke-width="0.45"/><circle cx="666.28" cy="357.88" r="0.95" fill="#f2c898" fill-opacity="0.7" stroke="#f2c898" stroke-width="0.45"/><circle cx="667.79" cy="357.74" r="0.95" fill="#8ca6ea" fill-opacity="0.7" stroke="#8ca6ea" stroke-width="0.45"/>
<path d="M644.2,312.6 L652.4,312.4 L646.4,319.6 L649.6,320.0 L642.6,325.8 L644.6,326.6 L632.4,334.4 L637.2,327.6 L634.6,328.2 L639.4,322.4 L637.0,321.8 Z" fill="#f4cf1c" stroke="#dfae10" stroke-width="0.5" stroke-linejoin="round"/>
<line x1="626.1" y1="337.8" x2="644.8" y2="337.8" stroke="#111" stroke-width="1.0" />
<path d="M649.30,337.80 L644.80,340.05 L644.80,335.55 Z" fill="#111"/>
<rect x="726.2" y="293.0" width="80.79999999999995" height="80.19999999999999" fill="#fff" stroke="#4a4a4a" stroke-width="1.2"/>
<circle cx="742.1" cy="309.3" r="10.7" fill="#eaa8a6"/><ellipse cx="739.5" cy="309.7" rx="3.6" ry="4.6" fill="#dc8c98"/>
<path d="M777.3,295.7 C782,300 788,303 794.8,305.1 C788,306 781,308.5 776.5,312 C774.5,316 774,321 774,325.9 C769,322.5 763,321.5 757.8,321.9 C765,316 770,304 777.3,295.7 Z" fill="#b2b0cc"/>
<ellipse cx="770.3" cy="314.3" rx="3.6" ry="5" fill="#7a3a78"/>
<ellipse cx="788.0" cy="324.3" rx="9.6" ry="8.6" fill="#f2d6a8"/><ellipse cx="789.2" cy="326.7" rx="3.8" ry="3.0" fill="#eab09c"/>
<path d="M753.1,320.5 C748,326 743,331 740.4,335.3 C746,337.5 752,339 756,340.5 C759,343.5 761.5,346.5 762.5,349.4 C763,346 765,341 767.9,338.2 C762,335.5 757.5,332 756,328 C755.5,325 754.5,322.5 753.1,320.5 Z" fill="#bfe4b6"/>
<ellipse cx="757.2" cy="338.0" rx="4.2" ry="3.6" fill="#74c474" transform="rotate(30 757.2 338)"/>
<ellipse cx="741.1" cy="356.5" rx="10.8" ry="14" fill="#dacaeb"/><ellipse cx="742.5" cy="353.6" rx="3.6" ry="4.6" fill="#bb9cd4"/>
<ellipse cx="783.4" cy="353.4" rx="18" ry="13.4" fill="#abcbea"/><ellipse cx="789.0" cy="353.4" rx="3.6" ry="4.6" fill="#74aadc"/>
<rect x="815.1" y="293.0" width="79.89999999999998" height="80.19999999999999" fill="#fff" stroke="#4a4a4a" stroke-width="1.2"/>
<clipPath id="p8"><rect x="815.6" y="293.5" width="78.9" height="79.2"/></clipPath><g clip-path="url(#p8)">
<rect x="815.6" y="293.5" width="78.9" height="79.2" fill="#f4f4f6"/>
<circle cx="816.8" cy="295.0" r="1.45" fill="#d8d8de"/><circle cx="821.1" cy="295.0" r="1.45" fill="#d8d8de"/><circle cx="825.4" cy="295.0" r="1.45" fill="#d8d8de"/><circle cx="829.7" cy="295.0" r="1.45" fill="#d8d8de"/><circle cx="834.0" cy="295.0" r="1.45" fill="#d8d8de"/><circle cx="838.3" cy="295.0" r="1.45" fill="#d8d8de"/><circle cx="842.6" cy="295.0" r="1.45" fill="#d8d8de"/><circle cx="846.9" cy="295.0" r="1.45" fill="#d8d8de"/><circle cx="851.2" cy="295.0" r="1.45" fill="#d8d8de"/><circle cx="855.5" cy="295.0" r="1.45" fill="#d8d8de"/><circle cx="859.8" cy="295.0" r="1.45" fill="#d8d8de"/><circle cx="864.1" cy="295.0" r="1.45" fill="#d8d8de"/><circle cx="868.4" cy="295.0" r="1.45" fill="#d8d8de"/><circle cx="872.7" cy="295.0" r="1.45" fill="#d8d8de"/><circle cx="877.0" cy="295.0" r="1.45" fill="#d8d8de"/><circle cx="881.3" cy="295.0" r="1.45" fill="#d8d8de"/><circle cx="885.6" cy="295.0" r="1.45" fill="#d8d8de"/><circle cx="889.9" cy="295.0" r="1.45" fill="#d8d8de"/><circle cx="894.2" cy="295.0" r="1.45" fill="#d8d8de"/><circle cx="818.9" cy="298.9" r="1.45" fill="#d8d8de"/><circle cx="823.2" cy="298.9" r="1.45" fill="#d8d8de"/><circle cx="827.5" cy="298.9" r="1.45" fill="#d8d8de"/><circle cx="831.8" cy="298.9" r="1.45" fill="#d8d8de"/><circle cx="836.1" cy="298.9" r="1.45" fill="#d8d8de"/><circle cx="840.4" cy="298.9" r="1.45" fill="#d8d8de"/><circle cx="844.7" cy="298.9" r="1.45" fill="#d8d8de"/><circle cx="849.0" cy="298.9" r="1.45" fill="#d8d8de"/><circle cx="853.3" cy="298.9" r="1.45" fill="#d8d8de"/><circle cx="857.6" cy="298.9" r="1.45" fill="#d8d8de"/><circle cx="861.9" cy="298.9" r="1.45" fill="#d8d8de"/><circle cx="866.2" cy="298.9" r="1.45" fill="#d8d8de"/><circle cx="870.5" cy="298.9" r="1.45" fill="#d8d8de"/><circle cx="874.8" cy="298.9" r="1.45" fill="#d8d8de"/><circle cx="879.1" cy="298.9" r="1.45" fill="#d8d8de"/><circle cx="883.4" cy="298.9" r="1.45" fill="#d8d8de"/><circle cx="887.7" cy="298.9" r="1.45" fill="#d8d8de"/><circle cx="892.0" cy="298.9" r="1.45" fill="#d8d8de"/><circle cx="816.8" cy="302.8" r="1.45" fill="#d8d8de"/><circle cx="821.1" cy="302.8" r="1.45" fill="#d8d8de"/><circle cx="825.4" cy="302.8" r="1.45" fill="#d8d8de"/><circle cx="829.7" cy="302.8" r="1.45" fill="#d8d8de"/><circle cx="834.0" cy="302.8" r="1.45" fill="#d8d8de"/><circle cx="838.3" cy="302.8" r="1.45" fill="#d8d8de"/><circle cx="842.6" cy="302.8" r="1.45" fill="#d8d8de"/><circle cx="846.9" cy="302.8" r="1.45" fill="#d8d8de"/><circle cx="851.2" cy="302.8" r="1.45" fill="#d8d8de"/><circle cx="855.5" cy="302.8" r="1.45" fill="#d8d8de"/><circle cx="859.8" cy="302.8" r="1.45" fill="#d8d8de"/><circle cx="864.1" cy="302.8" r="1.45" fill="#d8d8de"/><circle cx="868.4" cy="302.8" r="1.45" fill="#d8d8de"/><circle cx="872.7" cy="302.8" r="1.45" fill="#d8d8de"/><circle cx="877.0" cy="302.8" r="1.45" fill="#d8d8de"/><circle cx="881.3" cy="302.8" r="1.45" fill="#d8d8de"/><circle cx="885.6" cy="302.8" r="1.45" fill="#d8d8de"/><circle cx="889.9" cy="302.8" r="1.45" fill="#d8d8de"/><circle cx="894.2" cy="302.8" r="1.45" fill="#d8d8de"/><circle cx="818.9" cy="306.7" r="1.45" fill="#d8d8de"/><circle cx="823.2" cy="306.7" r="1.45" fill="#d8d8de"/><circle cx="827.5" cy="306.7" r="1.45" fill="#d8d8de"/><circle cx="831.8" cy="306.7" r="1.45" fill="#d8d8de"/><circle cx="836.1" cy="306.7" r="1.45" fill="#d8d8de"/><circle cx="840.4" cy="306.7" r="1.45" fill="#d8d8de"/><circle cx="844.7" cy="306.7" r="1.45" fill="#d8d8de"/><circle cx="849.0" cy="306.7" r="1.45" fill="#d8d8de"/><circle cx="853.3" cy="306.7" r="1.45" fill="#d8d8de"/><circle cx="857.6" cy="306.7" r="1.45" fill="#d8d8de"/><circle cx="861.9" cy="306.7" r="1.45" fill="#d8d8de"/><circle cx="866.2" cy="306.7" r="1.45" fill="#d8d8de"/><circle cx="870.5" cy="306.7" r="1.45" fill="#d8d8de"/><circle cx="874.8" cy="306.7" r="1.45" fill="#d8d8de"/><circle cx="879.1" cy="306.7" r="1.45" fill="#d8d8de"/><circle cx="883.4" cy="306.7" r="1.45" fill="#d8d8de"/><circle cx="887.7" cy="306.7" r="1.45" fill="#d8d8de"/><circle cx="892.0" cy="306.7" r="1.45" fill="#d8d8de"/><circle cx="816.8" cy="310.6" r="1.45" fill="#d8d8de"/><circle cx="821.1" cy="310.6" r="1.45" fill="#d8d8de"/><circle cx="825.4" cy="310.6" r="1.45" fill="#d8d8de"/><circle cx="829.7" cy="310.6" r="1.45" fill="#d8d8de"/><circle cx="834.0" cy="310.6" r="1.45" fill="#d8d8de"/><circle cx="838.3" cy="310.6" r="1.45" fill="#d8d8de"/><circle cx="842.6" cy="310.6" r="1.45" fill="#d8d8de"/><circle cx="846.9" cy="310.6" r="1.45" fill="#d8d8de"/><circle cx="851.2" cy="310.6" r="1.45" fill="#d8d8de"/><circle cx="855.5" cy="310.6" r="1.45" fill="#d8d8de"/><circle cx="859.8" cy="310.6" r="1.45" fill="#d8d8de"/><circle cx="864.1" cy="310.6" r="1.45" fill="#d8d8de"/><circle cx="868.4" cy="310.6" r="1.45" fill="#d8d8de"/><circle cx="872.7" cy="310.6" r="1.45" fill="#d8d8de"/><circle cx="877.0" cy="310.6" r="1.45" fill="#d8d8de"/><circle cx="881.3" cy="310.6" r="1.45" fill="#d8d8de"/><circle cx="885.6" cy="310.6" r="1.45" fill="#d8d8de"/><circle cx="889.9" cy="310.6" r="1.45" fill="#d8d8de"/><circle cx="894.2" cy="310.6" r="1.45" fill="#d8d8de"/><circle cx="818.9" cy="314.5" r="1.45" fill="#d8d8de"/><circle cx="823.2" cy="314.5" r="1.45" fill="#d8d8de"/><circle cx="827.5" cy="314.5" r="1.45" fill="#d8d8de"/><circle cx="831.8" cy="314.5" r="1.45" fill="#d8d8de"/><circle cx="836.1" cy="314.5" r="1.45" fill="#d8d8de"/><circle cx="840.4" cy="314.5" r="1.45" fill="#d8d8de"/><circle cx="844.7" cy="314.5" r="1.45" fill="#d8d8de"/><circle cx="849.0" cy="314.5" r="1.45" fill="#d8d8de"/><circle cx="853.3" cy="314.5" r="1.45" fill="#d8d8de"/><circle cx="857.6" cy="314.5" r="1.45" fill="#d8d8de"/><circle cx="861.9" cy="314.5" r="1.45" fill="#d8d8de"/><circle cx="866.2" cy="314.5" r="1.45" fill="#d8d8de"/><circle cx="870.5" cy="314.5" r="1.45" fill="#d8d8de"/><circle cx="874.8" cy="314.5" r="1.45" fill="#d8d8de"/><circle cx="879.1" cy="314.5" r="1.45" fill="#d8d8de"/><circle cx="883.4" cy="314.5" r="1.45" fill="#d8d8de"/><circle cx="887.7" cy="314.5" r="1.45" fill="#d8d8de"/><circle cx="892.0" cy="314.5" r="1.45" fill="#d8d8de"/><circle cx="816.8" cy="318.4" r="1.45" fill="#d8d8de"/><circle cx="821.1" cy="318.4" r="1.45" fill="#d8d8de"/><circle cx="825.4" cy="318.4" r="1.45" fill="#d8d8de"/><circle cx="829.7" cy="318.4" r="1.45" fill="#d8d8de"/><circle cx="834.0" cy="318.4" r="1.45" fill="#d8d8de"/><circle cx="838.3" cy="318.4" r="1.45" fill="#d8d8de"/><circle cx="842.6" cy="318.4" r="1.45" fill="#d8d8de"/><circle cx="846.9" cy="318.4" r="1.45" fill="#d8d8de"/><circle cx="851.2" cy="318.4" r="1.45" fill="#d8d8de"/><circle cx="855.5" cy="318.4" r="1.45" fill="#d8d8de"/><circle cx="859.8" cy="318.4" r="1.45" fill="#d8d8de"/><circle cx="864.1" cy="318.4" r="1.45" fill="#d8d8de"/><circle cx="868.4" cy="318.4" r="1.45" fill="#d8d8de"/><circle cx="872.7" cy="318.4" r="1.45" fill="#d8d8de"/><circle cx="877.0" cy="318.4" r="1.45" fill="#d8d8de"/><circle cx="881.3" cy="318.4" r="1.45" fill="#d8d8de"/><circle cx="885.6" cy="318.4" r="1.45" fill="#d8d8de"/><circle cx="889.9" cy="318.4" r="1.45" fill="#d8d8de"/><circle cx="894.2" cy="318.4" r="1.45" fill="#d8d8de"/><circle cx="818.9" cy="322.3" r="1.45" fill="#d8d8de"/><circle cx="823.2" cy="322.3" r="1.45" fill="#d8d8de"/><circle cx="827.5" cy="322.3" r="1.45" fill="#d8d8de"/><circle cx="831.8" cy="322.3" r="1.45" fill="#d8d8de"/><circle cx="836.1" cy="322.3" r="1.45" fill="#d8d8de"/><circle cx="840.4" cy="322.3" r="1.45" fill="#d8d8de"/><circle cx="844.7" cy="322.3" r="1.45" fill="#d8d8de"/><circle cx="849.0" cy="322.3" r="1.45" fill="#d8d8de"/><circle cx="853.3" cy="322.3" r="1.45" fill="#d8d8de"/><circle cx="857.6" cy="322.3" r="1.45" fill="#d8d8de"/><circle cx="861.9" cy="322.3" r="1.45" fill="#d8d8de"/><circle cx="866.2" cy="322.3" r="1.45" fill="#d8d8de"/><circle cx="870.5" cy="322.3" r="1.45" fill="#d8d8de"/><circle cx="874.8" cy="322.3" r="1.45" fill="#d8d8de"/><circle cx="879.1" cy="322.3" r="1.45" fill="#d8d8de"/><circle cx="883.4" cy="322.3" r="1.45" fill="#d8d8de"/><circle cx="887.7" cy="322.3" r="1.45" fill="#d8d8de"/><circle cx="892.0" cy="322.3" r="1.45" fill="#d8d8de"/><circle cx="816.8" cy="326.2" r="1.45" fill="#d8d8de"/><circle cx="821.1" cy="326.2" r="1.45" fill="#d8d8de"/><circle cx="825.4" cy="326.2" r="1.45" fill="#d8d8de"/><circle cx="829.7" cy="326.2" r="1.45" fill="#d8d8de"/><circle cx="834.0" cy="326.2" r="1.45" fill="#d8d8de"/><circle cx="838.3" cy="326.2" r="1.45" fill="#d8d8de"/><circle cx="842.6" cy="326.2" r="1.45" fill="#d8d8de"/><circle cx="846.9" cy="326.2" r="1.45" fill="#d8d8de"/><circle cx="851.2" cy="326.2" r="1.45" fill="#d8d8de"/><circle cx="855.5" cy="326.2" r="1.45" fill="#d8d8de"/><circle cx="859.8" cy="326.2" r="1.45" fill="#d8d8de"/><circle cx="864.1" cy="326.2" r="1.45" fill="#d8d8de"/><circle cx="868.4" cy="326.2" r="1.45" fill="#d8d8de"/><circle cx="872.7" cy="326.2" r="1.45" fill="#d8d8de"/><circle cx="877.0" cy="326.2" r="1.45" fill="#d8d8de"/><circle cx="881.3" cy="326.2" r="1.45" fill="#d8d8de"/><circle cx="885.6" cy="326.2" r="1.45" fill="#d8d8de"/><circle cx="889.9" cy="326.2" r="1.45" fill="#d8d8de"/><circle cx="894.2" cy="326.2" r="1.45" fill="#d8d8de"/><circle cx="818.9" cy="330.1" r="1.45" fill="#d8d8de"/><circle cx="823.2" cy="330.1" r="1.45" fill="#d8d8de"/><circle cx="827.5" cy="330.1" r="1.45" fill="#d8d8de"/><circle cx="831.8" cy="330.1" r="1.45" fill="#d8d8de"/><circle cx="836.1" cy="330.1" r="1.45" fill="#d8d8de"/><circle cx="840.4" cy="330.1" r="1.45" fill="#d8d8de"/><circle cx="844.7" cy="330.1" r="1.45" fill="#d8d8de"/><circle cx="849.0" cy="330.1" r="1.45" fill="#d8d8de"/><circle cx="853.3" cy="330.1" r="1.45" fill="#d8d8de"/><circle cx="857.6" cy="330.1" r="1.45" fill="#d8d8de"/><circle cx="861.9" cy="330.1" r="1.45" fill="#d8d8de"/><circle cx="866.2" cy="330.1" r="1.45" fill="#d8d8de"/><circle cx="870.5" cy="330.1" r="1.45" fill="#d8d8de"/><circle cx="874.8" cy="330.1" r="1.45" fill="#d8d8de"/><circle cx="879.1" cy="330.1" r="1.45" fill="#d8d8de"/><circle cx="883.4" cy="330.1" r="1.45" fill="#d8d8de"/><circle cx="887.7" cy="330.1" r="1.45" fill="#d8d8de"/><circle cx="892.0" cy="330.1" r="1.45" fill="#d8d8de"/><circle cx="816.8" cy="334.0" r="1.45" fill="#d8d8de"/><circle cx="821.1" cy="334.0" r="1.45" fill="#d8d8de"/><circle cx="825.4" cy="334.0" r="1.45" fill="#d8d8de"/><circle cx="829.7" cy="334.0" r="1.45" fill="#d8d8de"/><circle cx="834.0" cy="334.0" r="1.45" fill="#d8d8de"/><circle cx="838.3" cy="334.0" r="1.45" fill="#d8d8de"/><circle cx="842.6" cy="334.0" r="1.45" fill="#d8d8de"/><circle cx="846.9" cy="334.0" r="1.45" fill="#d8d8de"/><circle cx="851.2" cy="334.0" r="1.45" fill="#d8d8de"/><circle cx="855.5" cy="334.0" r="1.45" fill="#d8d8de"/><circle cx="859.8" cy="334.0" r="1.45" fill="#d8d8de"/><circle cx="864.1" cy="334.0" r="1.45" fill="#d8d8de"/><circle cx="868.4" cy="334.0" r="1.45" fill="#d8d8de"/><circle cx="872.7" cy="334.0" r="1.45" fill="#d8d8de"/><circle cx="877.0" cy="334.0" r="1.45" fill="#d8d8de"/><circle cx="881.3" cy="334.0" r="1.45" fill="#d8d8de"/><circle cx="885.6" cy="334.0" r="1.45" fill="#d8d8de"/><circle cx="889.9" cy="334.0" r="1.45" fill="#d8d8de"/><circle cx="894.2" cy="334.0" r="1.45" fill="#d8d8de"/><circle cx="818.9" cy="337.9" r="1.45" fill="#d8d8de"/><circle cx="823.2" cy="337.9" r="1.45" fill="#d8d8de"/><circle cx="827.5" cy="337.9" r="1.45" fill="#d8d8de"/><circle cx="831.8" cy="337.9" r="1.45" fill="#d8d8de"/><circle cx="836.1" cy="337.9" r="1.45" fill="#d8d8de"/><circle cx="840.4" cy="337.9" r="1.45" fill="#d8d8de"/><circle cx="844.7" cy="337.9" r="1.45" fill="#d8d8de"/><circle cx="849.0" cy="337.9" r="1.45" fill="#d8d8de"/><circle cx="853.3" cy="337.9" r="1.45" fill="#d8d8de"/><circle cx="857.6" cy="337.9" r="1.45" fill="#d8d8de"/><circle cx="861.9" cy="337.9" r="1.45" fill="#d8d8de"/><circle cx="866.2" cy="337.9" r="1.45" fill="#d8d8de"/><circle cx="870.5" cy="337.9" r="1.45" fill="#d8d8de"/><circle cx="874.8" cy="337.9" r="1.45" fill="#d8d8de"/><circle cx="879.1" cy="337.9" r="1.45" fill="#d8d8de"/><circle cx="883.4" cy="337.9" r="1.45" fill="#d8d8de"/><circle cx="887.7" cy="337.9" r="1.45" fill="#d8d8de"/><circle cx="892.0" cy="337.9" r="1.45" fill="#d8d8de"/><circle cx="816.8" cy="341.8" r="1.45" fill="#d8d8de"/><circle cx="821.1" cy="341.8" r="1.45" fill="#d8d8de"/><circle cx="825.4" cy="341.8" r="1.45" fill="#d8d8de"/><circle cx="829.7" cy="341.8" r="1.45" fill="#d8d8de"/><circle cx="834.0" cy="341.8" r="1.45" fill="#d8d8de"/><circle cx="838.3" cy="341.8" r="1.45" fill="#d8d8de"/><circle cx="842.6" cy="341.8" r="1.45" fill="#d8d8de"/><circle cx="846.9" cy="341.8" r="1.45" fill="#d8d8de"/><circle cx="851.2" cy="341.8" r="1.45" fill="#d8d8de"/><circle cx="855.5" cy="341.8" r="1.45" fill="#d8d8de"/><circle cx="859.8" cy="341.8" r="1.45" fill="#d8d8de"/><circle cx="864.1" cy="341.8" r="1.45" fill="#d8d8de"/><circle cx="868.4" cy="341.8" r="1.45" fill="#d8d8de"/><circle cx="872.7" cy="341.8" r="1.45" fill="#d8d8de"/><circle cx="877.0" cy="341.8" r="1.45" fill="#d8d8de"/><circle cx="881.3" cy="341.8" r="1.45" fill="#d8d8de"/><circle cx="885.6" cy="341.8" r="1.45" fill="#d8d8de"/><circle cx="889.9" cy="341.8" r="1.45" fill="#d8d8de"/><circle cx="894.2" cy="341.8" r="1.45" fill="#d8d8de"/><circle cx="818.9" cy="345.7" r="1.45" fill="#d8d8de"/><circle cx="823.2" cy="345.7" r="1.45" fill="#d8d8de"/><circle cx="827.5" cy="345.7" r="1.45" fill="#d8d8de"/><circle cx="831.8" cy="345.7" r="1.45" fill="#d8d8de"/><circle cx="836.1" cy="345.7" r="1.45" fill="#d8d8de"/><circle cx="840.4" cy="345.7" r="1.45" fill="#d8d8de"/><circle cx="844.7" cy="345.7" r="1.45" fill="#d8d8de"/><circle cx="849.0" cy="345.7" r="1.45" fill="#d8d8de"/><circle cx="853.3" cy="345.7" r="1.45" fill="#d8d8de"/><circle cx="857.6" cy="345.7" r="1.45" fill="#d8d8de"/><circle cx="861.9" cy="345.7" r="1.45" fill="#d8d8de"/><circle cx="866.2" cy="345.7" r="1.45" fill="#d8d8de"/><circle cx="870.5" cy="345.7" r="1.45" fill="#d8d8de"/><circle cx="874.8" cy="345.7" r="1.45" fill="#d8d8de"/><circle cx="879.1" cy="345.7" r="1.45" fill="#d8d8de"/><circle cx="883.4" cy="345.7" r="1.45" fill="#d8d8de"/><circle cx="887.7" cy="345.7" r="1.45" fill="#d8d8de"/><circle cx="892.0" cy="345.7" r="1.45" fill="#d8d8de"/><circle cx="816.8" cy="349.6" r="1.45" fill="#d8d8de"/><circle cx="821.1" cy="349.6" r="1.45" fill="#d8d8de"/><circle cx="825.4" cy="349.6" r="1.45" fill="#d8d8de"/><circle cx="829.7" cy="349.6" r="1.45" fill="#d8d8de"/><circle cx="834.0" cy="349.6" r="1.45" fill="#d8d8de"/><circle cx="838.3" cy="349.6" r="1.45" fill="#d8d8de"/><circle cx="842.6" cy="349.6" r="1.45" fill="#d8d8de"/><circle cx="846.9" cy="349.6" r="1.45" fill="#d8d8de"/><circle cx="851.2" cy="349.6" r="1.45" fill="#d8d8de"/><circle cx="855.5" cy="349.6" r="1.45" fill="#d8d8de"/><circle cx="859.8" cy="349.6" r="1.45" fill="#d8d8de"/><circle cx="864.1" cy="349.6" r="1.45" fill="#d8d8de"/><circle cx="868.4" cy="349.6" r="1.45" fill="#d8d8de"/><circle cx="872.7" cy="349.6" r="1.45" fill="#d8d8de"/><circle cx="877.0" cy="349.6" r="1.45" fill="#d8d8de"/><circle cx="881.3" cy="349.6" r="1.45" fill="#d8d8de"/><circle cx="885.6" cy="349.6" r="1.45" fill="#d8d8de"/><circle cx="889.9" cy="349.6" r="1.45" fill="#d8d8de"/><circle cx="894.2" cy="349.6" r="1.45" fill="#d8d8de"/><circle cx="818.9" cy="353.5" r="1.45" fill="#d8d8de"/><circle cx="823.2" cy="353.5" r="1.45" fill="#d8d8de"/><circle cx="827.5" cy="353.5" r="1.45" fill="#d8d8de"/><circle cx="831.8" cy="353.5" r="1.45" fill="#d8d8de"/><circle cx="836.1" cy="353.5" r="1.45" fill="#d8d8de"/><circle cx="840.4" cy="353.5" r="1.45" fill="#d8d8de"/><circle cx="844.7" cy="353.5" r="1.45" fill="#d8d8de"/><circle cx="849.0" cy="353.5" r="1.45" fill="#d8d8de"/><circle cx="853.3" cy="353.5" r="1.45" fill="#d8d8de"/><circle cx="857.6" cy="353.5" r="1.45" fill="#d8d8de"/><circle cx="861.9" cy="353.5" r="1.45" fill="#d8d8de"/><circle cx="866.2" cy="353.5" r="1.45" fill="#d8d8de"/><circle cx="870.5" cy="353.5" r="1.45" fill="#d8d8de"/><circle cx="874.8" cy="353.5" r="1.45" fill="#d8d8de"/><circle cx="879.1" cy="353.5" r="1.45" fill="#d8d8de"/><circle cx="883.4" cy="353.5" r="1.45" fill="#d8d8de"/><circle cx="887.7" cy="353.5" r="1.45" fill="#d8d8de"/><circle cx="892.0" cy="353.5" r="1.45" fill="#d8d8de"/><circle cx="816.8" cy="357.4" r="1.45" fill="#d8d8de"/><circle cx="821.1" cy="357.4" r="1.45" fill="#d8d8de"/><circle cx="825.4" cy="357.4" r="1.45" fill="#d8d8de"/><circle cx="829.7" cy="357.4" r="1.45" fill="#d8d8de"/><circle cx="834.0" cy="357.4" r="1.45" fill="#d8d8de"/><circle cx="838.3" cy="357.4" r="1.45" fill="#d8d8de"/><circle cx="842.6" cy="357.4" r="1.45" fill="#d8d8de"/><circle cx="846.9" cy="357.4" r="1.45" fill="#d8d8de"/><circle cx="851.2" cy="357.4" r="1.45" fill="#d8d8de"/><circle cx="855.5" cy="357.4" r="1.45" fill="#d8d8de"/><circle cx="859.8" cy="357.4" r="1.45" fill="#d8d8de"/><circle cx="864.1" cy="357.4" r="1.45" fill="#d8d8de"/><circle cx="868.4" cy="357.4" r="1.45" fill="#d8d8de"/><circle cx="872.7" cy="357.4" r="1.45" fill="#d8d8de"/><circle cx="877.0" cy="357.4" r="1.45" fill="#d8d8de"/><circle cx="881.3" cy="357.4" r="1.45" fill="#d8d8de"/><circle cx="885.6" cy="357.4" r="1.45" fill="#d8d8de"/><circle cx="889.9" cy="357.4" r="1.45" fill="#d8d8de"/><circle cx="894.2" cy="357.4" r="1.45" fill="#d8d8de"/><circle cx="818.9" cy="361.3" r="1.45" fill="#d8d8de"/><circle cx="823.2" cy="361.3" r="1.45" fill="#d8d8de"/><circle cx="827.5" cy="361.3" r="1.45" fill="#d8d8de"/><circle cx="831.8" cy="361.3" r="1.45" fill="#d8d8de"/><circle cx="836.1" cy="361.3" r="1.45" fill="#d8d8de"/><circle cx="840.4" cy="361.3" r="1.45" fill="#d8d8de"/><circle cx="844.7" cy="361.3" r="1.45" fill="#d8d8de"/><circle cx="849.0" cy="361.3" r="1.45" fill="#d8d8de"/><circle cx="853.3" cy="361.3" r="1.45" fill="#d8d8de"/><circle cx="857.6" cy="361.3" r="1.45" fill="#d8d8de"/><circle cx="861.9" cy="361.3" r="1.45" fill="#d8d8de"/><circle cx="866.2" cy="361.3" r="1.45" fill="#d8d8de"/><circle cx="870.5" cy="361.3" r="1.45" fill="#d8d8de"/><circle cx="874.8" cy="361.3" r="1.45" fill="#d8d8de"/><circle cx="879.1" cy="361.3" r="1.45" fill="#d8d8de"/><circle cx="883.4" cy="361.3" r="1.45" fill="#d8d8de"/><circle cx="887.7" cy="361.3" r="1.45" fill="#d8d8de"/><circle cx="892.0" cy="361.3" r="1.45" fill="#d8d8de"/><circle cx="816.8" cy="365.2" r="1.45" fill="#d8d8de"/><circle cx="821.1" cy="365.2" r="1.45" fill="#d8d8de"/><circle cx="825.4" cy="365.2" r="1.45" fill="#d8d8de"/><circle cx="829.7" cy="365.2" r="1.45" fill="#d8d8de"/><circle cx="834.0" cy="365.2" r="1.45" fill="#d8d8de"/><circle cx="838.3" cy="365.2" r="1.45" fill="#d8d8de"/><circle cx="842.6" cy="365.2" r="1.45" fill="#d8d8de"/><circle cx="846.9" cy="365.2" r="1.45" fill="#d8d8de"/><circle cx="851.2" cy="365.2" r="1.45" fill="#d8d8de"/><circle cx="855.5" cy="365.2" r="1.45" fill="#d8d8de"/><circle cx="859.8" cy="365.2" r="1.45" fill="#d8d8de"/><circle cx="864.1" cy="365.2" r="1.45" fill="#d8d8de"/><circle cx="868.4" cy="365.2" r="1.45" fill="#d8d8de"/><circle cx="872.7" cy="365.2" r="1.45" fill="#d8d8de"/><circle cx="877.0" cy="365.2" r="1.45" fill="#d8d8de"/><circle cx="881.3" cy="365.2" r="1.45" fill="#d8d8de"/><circle cx="885.6" cy="365.2" r="1.45" fill="#d8d8de"/><circle cx="889.9" cy="365.2" r="1.45" fill="#d8d8de"/><circle cx="894.2" cy="365.2" r="1.45" fill="#d8d8de"/><circle cx="818.9" cy="369.1" r="1.45" fill="#d8d8de"/><circle cx="823.2" cy="369.1" r="1.45" fill="#d8d8de"/><circle cx="827.5" cy="369.1" r="1.45" fill="#d8d8de"/><circle cx="831.8" cy="369.1" r="1.45" fill="#d8d8de"/><circle cx="836.1" cy="369.1" r="1.45" fill="#d8d8de"/><circle cx="840.4" cy="369.1" r="1.45" fill="#d8d8de"/><circle cx="844.7" cy="369.1" r="1.45" fill="#d8d8de"/><circle cx="849.0" cy="369.1" r="1.45" fill="#d8d8de"/><circle cx="853.3" cy="369.1" r="1.45" fill="#d8d8de"/><circle cx="857.6" cy="369.1" r="1.45" fill="#d8d8de"/><circle cx="861.9" cy="369.1" r="1.45" fill="#d8d8de"/><circle cx="866.2" cy="369.1" r="1.45" fill="#d8d8de"/><circle cx="870.5" cy="369.1" r="1.45" fill="#d8d8de"/><circle cx="874.8" cy="369.1" r="1.45" fill="#d8d8de"/><circle cx="879.1" cy="369.1" r="1.45" fill="#d8d8de"/><circle cx="883.4" cy="369.1" r="1.45" fill="#d8d8de"/><circle cx="887.7" cy="369.1" r="1.45" fill="#d8d8de"/><circle cx="892.0" cy="369.1" r="1.45" fill="#d8d8de"/>
<path d="M823,309 C817,316 817,329 824,337 L827,333 C823,327 823,318 826,312 Z" fill="#f2c93c" stroke="#d9a020" stroke-width="0.4"/>
<path d="M823.0,311.0 L832.0,309.5 L843.0,312.0 L848.5,319.0 L847.5,328.0 L842.0,334.5 L832.0,335.5 L825.0,332.0 L821.0,323.0 Z" fill="#8cc63e" stroke="#c6ea8a" stroke-width="0.5" stroke-linejoin="round"/>
<circle cx="826.7" cy="311.0" r="1.9" fill="none" stroke="#c6ea8a" stroke-width="0.6"/><circle cx="826.7" cy="311.0" r="0.5" fill="#c6ea8a"/><circle cx="830.9" cy="311.0" r="1.9" fill="none" stroke="#c6ea8a" stroke-width="0.6"/><circle cx="830.9" cy="311.0" r="0.5" fill="#c6ea8a"/><circle cx="835.1" cy="311.0" r="1.9" fill="none" stroke="#c6ea8a" stroke-width="0.6"/><circle cx="835.1" cy="311.0" r="0.5" fill="#c6ea8a"/><circle cx="824.1" cy="314.8" r="1.9" fill="none" stroke="#c6ea8a" stroke-width="0.6"/><circle cx="824.1" cy="314.8" r="0.5" fill="#c6ea8a"/><circle cx="828.3" cy="314.8" r="1.9" fill="none" stroke="#c6ea8a" stroke-width="0.6"/><circle cx="828.3" cy="314.8" r="0.5" fill="#c6ea8a"/><circle cx="832.5" cy="314.8" r="1.9" fill="none" stroke="#c6ea8a" stroke-width="0.6"/><circle cx="832.5" cy="314.8" r="0.5" fill="#c6ea8a"/><circle cx="836.7" cy="314.8" r="1.9" fill="none" stroke="#c6ea8a" stroke-width="0.6"/><circle cx="836.7" cy="314.8" r="0.5" fill="#c6ea8a"/><circle cx="840.9" cy="314.8" r="1.9" fill="none" stroke="#c6ea8a" stroke-width="0.6"/><circle cx="840.9" cy="314.8" r="0.5" fill="#c6ea8a"/><circle cx="845.1" cy="314.8" r="1.9" fill="none" stroke="#c6ea8a" stroke-width="0.6"/><circle cx="845.1" cy="314.8" r="0.5" fill="#c6ea8a"/><circle cx="822.5" cy="318.6" r="1.9" fill="none" stroke="#c6ea8a" stroke-width="0.6"/><circle cx="822.5" cy="318.6" r="0.5" fill="#c6ea8a"/><circle cx="826.7" cy="318.6" r="1.9" fill="none" stroke="#c6ea8a" stroke-width="0.6"/><circle cx="826.7" cy="318.6" r="0.5" fill="#c6ea8a"/><circle cx="830.9" cy="318.6" r="1.9" fill="none" stroke="#c6ea8a" stroke-width="0.6"/><circle cx="830.9" cy="318.6" r="0.5" fill="#c6ea8a"/><circle cx="835.1" cy="318.6" r="1.9" fill="none" stroke="#c6ea8a" stroke-width="0.6"/><circle cx="835.1" cy="318.6" r="0.5" fill="#c6ea8a"/><circle cx="839.3" cy="318.6" r="1.9" fill="none" stroke="#c6ea8a" stroke-width="0.6"/><circle cx="839.3" cy="318.6" r="0.5" fill="#c6ea8a"/><circle cx="843.5" cy="318.6" r="1.9" fill="none" stroke="#c6ea8a" stroke-width="0.6"/><circle cx="843.5" cy="318.6" r="0.5" fill="#c6ea8a"/><circle cx="847.7" cy="318.6" r="1.9" fill="none" stroke="#c6ea8a" stroke-width="0.6"/><circle cx="847.7" cy="318.6" r="0.5" fill="#c6ea8a"/><circle cx="824.1" cy="322.4" r="1.9" fill="none" stroke="#c6ea8a" stroke-width="0.6"/><circle cx="824.1" cy="322.4" r="0.5" fill="#c6ea8a"/><circle cx="828.3" cy="322.4" r="1.9" fill="none" stroke="#c6ea8a" stroke-width="0.6"/><circle cx="828.3" cy="322.4" r="0.5" fill="#c6ea8a"/><circle cx="832.5" cy="322.4" r="1.9" fill="none" stroke="#c6ea8a" stroke-width="0.6"/><circle cx="832.5" cy="322.4" r="0.5" fill="#c6ea8a"/><circle cx="836.7" cy="322.4" r="1.9" fill="none" stroke="#c6ea8a" stroke-width="0.6"/><circle cx="836.7" cy="322.4" r="0.5" fill="#c6ea8a"/><circle cx="840.9" cy="322.4" r="1.9" fill="none" stroke="#c6ea8a" stroke-width="0.6"/><circle cx="840.9" cy="322.4" r="0.5" fill="#c6ea8a"/><circle cx="845.1" cy="322.4" r="1.9" fill="none" stroke="#c6ea8a" stroke-width="0.6"/><circle cx="845.1" cy="322.4" r="0.5" fill="#c6ea8a"/><circle cx="822.5" cy="326.2" r="1.9" fill="none" stroke="#c6ea8a" stroke-width="0.6"/><circle cx="822.5" cy="326.2" r="0.5" fill="#c6ea8a"/><circle cx="826.7" cy="326.2" r="1.9" fill="none" stroke="#c6ea8a" stroke-width="0.6"/><circle cx="826.7" cy="326.2" r="0.5" fill="#c6ea8a"/><circle cx="830.9" cy="326.2" r="1.9" fill="none" stroke="#c6ea8a" stroke-width="0.6"/><circle cx="830.9" cy="326.2" r="0.5" fill="#c6ea8a"/><circle cx="835.1" cy="326.2" r="1.9" fill="none" stroke="#c6ea8a" stroke-width="0.6"/><circle cx="835.1" cy="326.2" r="0.5" fill="#c6ea8a"/><circle cx="839.3" cy="326.2" r="1.9" fill="none" stroke="#c6ea8a" stroke-width="0.6"/><circle cx="839.3" cy="326.2" r="0.5" fill="#c6ea8a"/><circle cx="843.5" cy="326.2" r="1.9" fill="none" stroke="#c6ea8a" stroke-width="0.6"/><circle cx="843.5" cy="326.2" r="0.5" fill="#c6ea8a"/><circle cx="828.3" cy="330.0" r="1.9" fill="none" stroke="#c6ea8a" stroke-width="0.6"/><circle cx="828.3" cy="330.0" r="0.5" fill="#c6ea8a"/><circle cx="832.5" cy="330.0" r="1.9" fill="none" stroke="#c6ea8a" stroke-width="0.6"/><circle cx="832.5" cy="330.0" r="0.5" fill="#c6ea8a"/><circle cx="836.7" cy="330.0" r="1.9" fill="none" stroke="#c6ea8a" stroke-width="0.6"/><circle cx="836.7" cy="330.0" r="0.5" fill="#c6ea8a"/><circle cx="840.9" cy="330.0" r="1.9" fill="none" stroke="#c6ea8a" stroke-width="0.6"/><circle cx="840.9" cy="330.0" r="0.5" fill="#c6ea8a"/><circle cx="845.1" cy="330.0" r="1.9" fill="none" stroke="#c6ea8a" stroke-width="0.6"/><circle cx="845.1" cy="330.0" r="0.5" fill="#c6ea8a"/><circle cx="830.9" cy="333.8" r="1.9" fill="none" stroke="#c6ea8a" stroke-width="0.6"/><circle cx="830.9" cy="333.8" r="0.5" fill="#c6ea8a"/><circle cx="835.1" cy="333.8" r="1.9" fill="none" stroke="#c6ea8a" stroke-width="0.6"/><circle cx="835.1" cy="333.8" r="0.5" fill="#c6ea8a"/><circle cx="839.3" cy="333.8" r="1.9" fill="none" stroke="#c6ea8a" stroke-width="0.6"/><circle cx="839.3" cy="333.8" r="0.5" fill="#c6ea8a"/>
<path d="M863,307 C867,301.5 876,301 882,303.5 L879,306.5 C874,305 868,305 866,309 Z" fill="#f2c93c" stroke="#d9a020" stroke-width="0.4"/>
<path d="M886,308 C891,314 891,324 886,330 L883.5,327 C886.5,322 886.5,315 884,310 Z" fill="#f2c93c" stroke="#d9a020" stroke-width="0.4"/>
<path d="M864.0,307.0 L872.0,304.5 L882.0,305.5 L887.5,312.0 L887.0,322.0 L882.0,328.5 L871.0,329.0 L864.0,325.0 L862.0,316.0 Z" fill="#e160a4" stroke="#f6aad0" stroke-width="0.5" stroke-linejoin="round"/>
<circle cx="867.7" cy="306.0" r="1.9" fill="none" stroke="#f6aad0" stroke-width="0.6"/><circle cx="867.7" cy="306.0" r="0.5" fill="#f6aad0"/><circle cx="871.9" cy="306.0" r="1.9" fill="none" stroke="#f6aad0" stroke-width="0.6"/><circle cx="871.9" cy="306.0" r="0.5" fill="#f6aad0"/><circle cx="876.1" cy="306.0" r="1.9" fill="none" stroke="#f6aad0" stroke-width="0.6"/><circle cx="876.1" cy="306.0" r="0.5" fill="#f6aad0"/><circle cx="880.3" cy="306.0" r="1.9" fill="none" stroke="#f6aad0" stroke-width="0.6"/><circle cx="880.3" cy="306.0" r="0.5" fill="#f6aad0"/><circle cx="865.1" cy="309.8" r="1.9" fill="none" stroke="#f6aad0" stroke-width="0.6"/><circle cx="865.1" cy="309.8" r="0.5" fill="#f6aad0"/><circle cx="869.3" cy="309.8" r="1.9" fill="none" stroke="#f6aad0" stroke-width="0.6"/><circle cx="869.3" cy="309.8" r="0.5" fill="#f6aad0"/><circle cx="873.5" cy="309.8" r="1.9" fill="none" stroke="#f6aad0" stroke-width="0.6"/><circle cx="873.5" cy="309.8" r="0.5" fill="#f6aad0"/><circle cx="877.7" cy="309.8" r="1.9" fill="none" stroke="#f6aad0" stroke-width="0.6"/><circle cx="877.7" cy="309.8" r="0.5" fill="#f6aad0"/><circle cx="881.9" cy="309.8" r="1.9" fill="none" stroke="#f6aad0" stroke-width="0.6"/><circle cx="881.9" cy="309.8" r="0.5" fill="#f6aad0"/><circle cx="863.5" cy="313.6" r="1.9" fill="none" stroke="#f6aad0" stroke-width="0.6"/><circle cx="863.5" cy="313.6" r="0.5" fill="#f6aad0"/><circle cx="867.7" cy="313.6" r="1.9" fill="none" stroke="#f6aad0" stroke-width="0.6"/><circle cx="867.7" cy="313.6" r="0.5" fill="#f6aad0"/><circle cx="871.9" cy="313.6" r="1.9" fill="none" stroke="#f6aad0" stroke-width="0.6"/><circle cx="871.9" cy="313.6" r="0.5" fill="#f6aad0"/><circle cx="876.1" cy="313.6" r="1.9" fill="none" stroke="#f6aad0" stroke-width="0.6"/><circle cx="876.1" cy="313.6" r="0.5" fill="#f6aad0"/><circle cx="880.3" cy="313.6" r="1.9" fill="none" stroke="#f6aad0" stroke-width="0.6"/><circle cx="880.3" cy="313.6" r="0.5" fill="#f6aad0"/><circle cx="884.5" cy="313.6" r="1.9" fill="none" stroke="#f6aad0" stroke-width="0.6"/><circle cx="884.5" cy="313.6" r="0.5" fill="#f6aad0"/><circle cx="865.1" cy="317.4" r="1.9" fill="none" stroke="#f6aad0" stroke-width="0.6"/><circle cx="865.1" cy="317.4" r="0.5" fill="#f6aad0"/><circle cx="869.3" cy="317.4" r="1.9" fill="none" stroke="#f6aad0" stroke-width="0.6"/><circle cx="869.3" cy="317.4" r="0.5" fill="#f6aad0"/><circle cx="873.5" cy="317.4" r="1.9" fill="none" stroke="#f6aad0" stroke-width="0.6"/><circle cx="873.5" cy="317.4" r="0.5" fill="#f6aad0"/><circle cx="877.7" cy="317.4" r="1.9" fill="none" stroke="#f6aad0" stroke-width="0.6"/><circle cx="877.7" cy="317.4" r="0.5" fill="#f6aad0"/><circle cx="881.9" cy="317.4" r="1.9" fill="none" stroke="#f6aad0" stroke-width="0.6"/><circle cx="881.9" cy="317.4" r="0.5" fill="#f6aad0"/><circle cx="886.1" cy="317.4" r="1.9" fill="none" stroke="#f6aad0" stroke-width="0.6"/><circle cx="886.1" cy="317.4" r="0.5" fill="#f6aad0"/><circle cx="863.5" cy="321.2" r="1.9" fill="none" stroke="#f6aad0" stroke-width="0.6"/><circle cx="863.5" cy="321.2" r="0.5" fill="#f6aad0"/><circle cx="867.7" cy="321.2" r="1.9" fill="none" stroke="#f6aad0" stroke-width="0.6"/><circle cx="867.7" cy="321.2" r="0.5" fill="#f6aad0"/><circle cx="871.9" cy="321.2" r="1.9" fill="none" stroke="#f6aad0" stroke-width="0.6"/><circle cx="871.9" cy="321.2" r="0.5" fill="#f6aad0"/><circle cx="876.1" cy="321.2" r="1.9" fill="none" stroke="#f6aad0" stroke-width="0.6"/><circle cx="876.1" cy="321.2" r="0.5" fill="#f6aad0"/><circle cx="880.3" cy="321.2" r="1.9" fill="none" stroke="#f6aad0" stroke-width="0.6"/><circle cx="880.3" cy="321.2" r="0.5" fill="#f6aad0"/><circle cx="884.5" cy="321.2" r="1.9" fill="none" stroke="#f6aad0" stroke-width="0.6"/><circle cx="884.5" cy="321.2" r="0.5" fill="#f6aad0"/><circle cx="865.1" cy="325.0" r="1.9" fill="none" stroke="#f6aad0" stroke-width="0.6"/><circle cx="865.1" cy="325.0" r="0.5" fill="#f6aad0"/><circle cx="869.3" cy="325.0" r="1.9" fill="none" stroke="#f6aad0" stroke-width="0.6"/><circle cx="869.3" cy="325.0" r="0.5" fill="#f6aad0"/><circle cx="873.5" cy="325.0" r="1.9" fill="none" stroke="#f6aad0" stroke-width="0.6"/><circle cx="873.5" cy="325.0" r="0.5" fill="#f6aad0"/><circle cx="877.7" cy="325.0" r="1.9" fill="none" stroke="#f6aad0" stroke-width="0.6"/><circle cx="877.7" cy="325.0" r="0.5" fill="#f6aad0"/><circle cx="881.9" cy="325.0" r="1.9" fill="none" stroke="#f6aad0" stroke-width="0.6"/><circle cx="881.9" cy="325.0" r="0.5" fill="#f6aad0"/><circle cx="871.9" cy="328.8" r="1.9" fill="none" stroke="#f6aad0" stroke-width="0.6"/><circle cx="871.9" cy="328.8" r="0.5" fill="#f6aad0"/>
<path d="M862,337 C868,332 877,332 883,335.5 L880,338.5 C875,336 869,336 865,340 Z" fill="#f2c93c" stroke="#d9a020" stroke-width="0.4"/>
<path d="M883,339 C889,346 888,357 881,363 L878.5,360 C883.5,355 884,347 880.5,342 Z" fill="#f2c93c" stroke="#d9a020" stroke-width="0.4"/>
<path d="M860,351 C860.5,358 864,362 869,364.5 L866,366 C860,364 856.5,358 856.5,352 Z" fill="#f2c93c" stroke="#d9a020" stroke-width="0.4"/>
<path d="M861.0,340.0 L868.0,336.0 L878.0,336.5 L884.0,342.0 L884.5,352.0 L880.0,360.5 L870.0,363.0 L862.0,359.0 L858.0,350.0 Z" fill="#5590dc" stroke="#a6cef4" stroke-width="0.5" stroke-linejoin="round"/>
<circle cx="867.9" cy="337.5" r="1.9" fill="none" stroke="#a6cef4" stroke-width="0.6"/><circle cx="867.9" cy="337.5" r="0.5" fill="#a6cef4"/><circle cx="872.1" cy="337.5" r="1.9" fill="none" stroke="#a6cef4" stroke-width="0.6"/><circle cx="872.1" cy="337.5" r="0.5" fill="#a6cef4"/><circle cx="876.3" cy="337.5" r="1.9" fill="none" stroke="#a6cef4" stroke-width="0.6"/><circle cx="876.3" cy="337.5" r="0.5" fill="#a6cef4"/><circle cx="861.1" cy="341.3" r="1.9" fill="none" stroke="#a6cef4" stroke-width="0.6"/><circle cx="861.1" cy="341.3" r="0.5" fill="#a6cef4"/><circle cx="865.3" cy="341.3" r="1.9" fill="none" stroke="#a6cef4" stroke-width="0.6"/><circle cx="865.3" cy="341.3" r="0.5" fill="#a6cef4"/><circle cx="869.5" cy="341.3" r="1.9" fill="none" stroke="#a6cef4" stroke-width="0.6"/><circle cx="869.5" cy="341.3" r="0.5" fill="#a6cef4"/><circle cx="873.7" cy="341.3" r="1.9" fill="none" stroke="#a6cef4" stroke-width="0.6"/><circle cx="873.7" cy="341.3" r="0.5" fill="#a6cef4"/><circle cx="877.9" cy="341.3" r="1.9" fill="none" stroke="#a6cef4" stroke-width="0.6"/><circle cx="877.9" cy="341.3" r="0.5" fill="#a6cef4"/><circle cx="882.1" cy="341.3" r="1.9" fill="none" stroke="#a6cef4" stroke-width="0.6"/><circle cx="882.1" cy="341.3" r="0.5" fill="#a6cef4"/><circle cx="859.5" cy="345.1" r="1.9" fill="none" stroke="#a6cef4" stroke-width="0.6"/><circle cx="859.5" cy="345.1" r="0.5" fill="#a6cef4"/><circle cx="863.7" cy="345.1" r="1.9" fill="none" stroke="#a6cef4" stroke-width="0.6"/><circle cx="863.7" cy="345.1" r="0.5" fill="#a6cef4"/><circle cx="867.9" cy="345.1" r="1.9" fill="none" stroke="#a6cef4" stroke-width="0.6"/><circle cx="867.9" cy="345.1" r="0.5" fill="#a6cef4"/><circle cx="872.1" cy="345.1" r="1.9" fill="none" stroke="#a6cef4" stroke-width="0.6"/><circle cx="872.1" cy="345.1" r="0.5" fill="#a6cef4"/><circle cx="876.3" cy="345.1" r="1.9" fill="none" stroke="#a6cef4" stroke-width="0.6"/><circle cx="876.3" cy="345.1" r="0.5" fill="#a6cef4"/><circle cx="880.5" cy="345.1" r="1.9" fill="none" stroke="#a6cef4" stroke-width="0.6"/><circle cx="880.5" cy="345.1" r="0.5" fill="#a6cef4"/><circle cx="861.1" cy="348.9" r="1.9" fill="none" stroke="#a6cef4" stroke-width="0.6"/><circle cx="861.1" cy="348.9" r="0.5" fill="#a6cef4"/><circle cx="865.3" cy="348.9" r="1.9" fill="none" stroke="#a6cef4" stroke-width="0.6"/><circle cx="865.3" cy="348.9" r="0.5" fill="#a6cef4"/><circle cx="869.5" cy="348.9" r="1.9" fill="none" stroke="#a6cef4" stroke-width="0.6"/><circle cx="869.5" cy="348.9" r="0.5" fill="#a6cef4"/><circle cx="873.7" cy="348.9" r="1.9" fill="none" stroke="#a6cef4" stroke-width="0.6"/><circle cx="873.7" cy="348.9" r="0.5" fill="#a6cef4"/><circle cx="877.9" cy="348.9" r="1.9" fill="none" stroke="#a6cef4" stroke-width="0.6"/><circle cx="877.9" cy="348.9" r="0.5" fill="#a6cef4"/><circle cx="882.1" cy="348.9" r="1.9" fill="none" stroke="#a6cef4" stroke-width="0.6"/><circle cx="882.1" cy="348.9" r="0.5" fill="#a6cef4"/><circle cx="859.5" cy="352.7" r="1.9" fill="none" stroke="#a6cef4" stroke-width="0.6"/><circle cx="859.5" cy="352.7" r="0.5" fill="#a6cef4"/><circle cx="863.7" cy="352.7" r="1.9" fill="none" stroke="#a6cef4" stroke-width="0.6"/><circle cx="863.7" cy="352.7" r="0.5" fill="#a6cef4"/><circle cx="867.9" cy="352.7" r="1.9" fill="none" stroke="#a6cef4" stroke-width="0.6"/><circle cx="867.9" cy="352.7" r="0.5" fill="#a6cef4"/><circle cx="872.1" cy="352.7" r="1.9" fill="none" stroke="#a6cef4" stroke-width="0.6"/><circle cx="872.1" cy="352.7" r="0.5" fill="#a6cef4"/><circle cx="876.3" cy="352.7" r="1.9" fill="none" stroke="#a6cef4" stroke-width="0.6"/><circle cx="876.3" cy="352.7" r="0.5" fill="#a6cef4"/><circle cx="880.5" cy="352.7" r="1.9" fill="none" stroke="#a6cef4" stroke-width="0.6"/><circle cx="880.5" cy="352.7" r="0.5" fill="#a6cef4"/><circle cx="861.1" cy="356.5" r="1.9" fill="none" stroke="#a6cef4" stroke-width="0.6"/><circle cx="861.1" cy="356.5" r="0.5" fill="#a6cef4"/><circle cx="865.3" cy="356.5" r="1.9" fill="none" stroke="#a6cef4" stroke-width="0.6"/><circle cx="865.3" cy="356.5" r="0.5" fill="#a6cef4"/><circle cx="869.5" cy="356.5" r="1.9" fill="none" stroke="#a6cef4" stroke-width="0.6"/><circle cx="869.5" cy="356.5" r="0.5" fill="#a6cef4"/><circle cx="873.7" cy="356.5" r="1.9" fill="none" stroke="#a6cef4" stroke-width="0.6"/><circle cx="873.7" cy="356.5" r="0.5" fill="#a6cef4"/><circle cx="877.9" cy="356.5" r="1.9" fill="none" stroke="#a6cef4" stroke-width="0.6"/><circle cx="877.9" cy="356.5" r="0.5" fill="#a6cef4"/><circle cx="882.1" cy="356.5" r="1.9" fill="none" stroke="#a6cef4" stroke-width="0.6"/><circle cx="882.1" cy="356.5" r="0.5" fill="#a6cef4"/><circle cx="867.9" cy="360.3" r="1.9" fill="none" stroke="#a6cef4" stroke-width="0.6"/><circle cx="867.9" cy="360.3" r="0.5" fill="#a6cef4"/><circle cx="872.1" cy="360.3" r="1.9" fill="none" stroke="#a6cef4" stroke-width="0.6"/><circle cx="872.1" cy="360.3" r="0.5" fill="#a6cef4"/><circle cx="876.3" cy="360.3" r="1.9" fill="none" stroke="#a6cef4" stroke-width="0.6"/><circle cx="876.3" cy="360.3" r="0.5" fill="#a6cef4"/>
<path d="M820,296 C830,302 840,311 847,319 C851,324 855,328 860,329.5 C866,331 870,330.5 873,330" fill="none" stroke="#c0443e" stroke-width="3.2" stroke-linecap="round"/>
<path d="M858,328 C860,334 861,338 862.5,343" fill="none" stroke="#c0443e" stroke-width="1.6" stroke-linecap="round"/>
<path d="M849,323 C845,328 841,334 840,340 C839.5,344 839.5,347 839.5,348" fill="none" stroke="#c0443e" stroke-width="1.3" stroke-linecap="round"/>
<path d="M842,312 C846,310 850,308.5 855,309 C859,309.5 862,311 864,313" fill="none" stroke="#c0443e" stroke-width="1.2" stroke-linecap="round"/>
<polygon points="837.4,313.6 836.5,314.7 836.3,316.1 834.9,316.3 833.8,317.2 832.7,316.3 831.3,316.1 831.1,314.7 830.2,313.6 831.1,312.5 831.3,311.1 832.7,310.9 833.8,310.0 834.9,310.9 836.3,311.1 836.5,312.5" fill="#5866bc" stroke="#8a96dc" stroke-width="0.4" stroke-linejoin="round"/>
<circle cx="833.1999999999999" cy="313.0" r="1.2" fill="#7a88d4"/>
<polygon points="835.6,331.5 834.7,332.6 834.5,334.0 833.1,334.2 832.0,335.1 830.9,334.2 829.5,334.0 829.3,332.6 828.4,331.5 829.3,330.4 829.5,329.0 830.9,328.8 832.0,327.9 833.1,328.8 834.5,329.0 834.7,330.4" fill="#5866bc" stroke="#8a96dc" stroke-width="0.4" stroke-linejoin="round"/>
<circle cx="831.4" cy="330.9" r="1.2" fill="#7a88d4"/>
<polygon points="855.3,331.5 854.4,332.6 854.2,334.0 852.8,334.2 851.7,335.1 850.6,334.2 849.2,334.0 849.0,332.6 848.1,331.5 849.0,330.4 849.2,329.0 850.6,328.8 851.7,327.9 852.8,328.8 854.2,329.0 854.4,330.4" fill="#5866bc" stroke="#8a96dc" stroke-width="0.4" stroke-linejoin="round"/>
<circle cx="851.1" cy="330.9" r="1.2" fill="#7a88d4"/>
<polygon points="883.9,309.1 883.0,310.2 882.8,311.6 881.4,311.8 880.3,312.7 879.2,311.8 877.8,311.6 877.6,310.2 876.7,309.1 877.6,308.0 877.8,306.6 879.2,306.4 880.3,305.5 881.4,306.4 882.8,306.6 883.0,308.0" fill="#5866bc" stroke="#8a96dc" stroke-width="0.4" stroke-linejoin="round"/>
<circle cx="879.6999999999999" cy="308.5" r="1.2" fill="#7a88d4"/>
<polygon points="879.5,325.2 878.6,326.3 878.4,327.7 877.0,327.9 875.9,328.8 874.8,327.9 873.4,327.7 873.2,326.3 872.3,325.2 873.2,324.1 873.4,322.7 874.8,322.5 875.9,321.6 877.0,322.5 878.4,322.7 878.6,324.1" fill="#5866bc" stroke="#8a96dc" stroke-width="0.4" stroke-linejoin="round"/>
<circle cx="875.3" cy="324.59999999999997" r="1.2" fill="#7a88d4"/>
<polygon points="835.6,360.1 834.7,361.2 834.5,362.6 833.1,362.8 832.0,363.7 830.9,362.8 829.5,362.6 829.3,361.2 828.4,360.1 829.3,359.0 829.5,357.6 830.9,357.4 832.0,356.5 833.1,357.4 834.5,357.6 834.7,359.0" fill="#5866bc" stroke="#8a96dc" stroke-width="0.4" stroke-linejoin="round"/>
<circle cx="831.4" cy="359.5" r="1.2" fill="#7a88d4"/>
<polygon points="830.0,344.0 826.4,344.8 828.0,348.1 825.2,345.8 823.6,349.1 823.7,345.4 820.1,346.3 823.0,344.0 820.1,341.7 823.7,342.6 823.6,338.9 825.2,342.2 828.0,339.9 826.4,343.2" fill="#3e9fb2" stroke="none" stroke-width="0.4" stroke-linejoin="round"/>
<circle cx="824.8" cy="344" r="2.3" fill="#3e9fb2"/><circle cx="824.3" cy="343.5" r="1.0" fill="#6ac0cc"/>
<polygon points="848.8,358.3 845.2,359.1 846.8,362.4 844.0,360.1 842.4,363.4 842.5,359.7 838.9,360.6 841.8,358.3 838.9,356.0 842.5,356.9 842.4,353.2 844.0,356.5 846.8,354.2 845.2,357.5" fill="#3e9fb2" stroke="none" stroke-width="0.4" stroke-linejoin="round"/>
<circle cx="843.6" cy="358.3" r="2.3" fill="#3e9fb2"/><circle cx="843.1" cy="357.8" r="1.0" fill="#6ac0cc"/>
<polygon points="893.6,301.1 890.0,301.9 891.6,305.2 888.8,302.9 887.2,306.2 887.3,302.5 883.7,303.4 886.6,301.1 883.7,298.8 887.3,299.7 887.2,296.0 888.8,299.3 891.6,297.0 890.0,300.3" fill="#3e9fb2" stroke="none" stroke-width="0.4" stroke-linejoin="round"/>
<circle cx="888.4" cy="301.1" r="2.3" fill="#3e9fb2"/><circle cx="887.9" cy="300.6" r="1.0" fill="#6ac0cc"/>
<circle cx="825.7" cy="304.6" r="3.0" fill="#c6e48c" stroke="#6a9a50" stroke-width="0.5"/><circle cx="825.0" cy="303.90000000000003" r="1.2" fill="#fff" opacity="0.7"/>
<circle cx="843.6" cy="305.5" r="3.0" fill="#c6e48c" stroke="#6a9a50" stroke-width="0.5"/><circle cx="842.9" cy="304.8" r="1.2" fill="#fff" opacity="0.7"/>
<circle cx="835.6" cy="341.3" r="3.0" fill="#c6e48c" stroke="#6a9a50" stroke-width="0.5"/><circle cx="834.9" cy="340.6" r="1.2" fill="#fff" opacity="0.7"/>
<circle cx="854.4" cy="361.9" r="3.0" fill="#c6e48c" stroke="#6a9a50" stroke-width="0.5"/><circle cx="853.6999999999999" cy="361.2" r="1.2" fill="#fff" opacity="0.7"/>
<circle cx="887.5" cy="361" r="3.0" fill="#c6e48c" stroke="#6a9a50" stroke-width="0.5"/><circle cx="886.8" cy="360.3" r="1.2" fill="#fff" opacity="0.7"/>
<circle cx="866.9" cy="322.5" r="3.0" fill="#c6e48c" stroke="#6a9a50" stroke-width="0.5"/><circle cx="866.1999999999999" cy="321.8" r="1.2" fill="#fff" opacity="0.7"/>
<circle cx="875" cy="308.2" r="3.0" fill="#c6e48c" stroke="#6a9a50" stroke-width="0.5"/><circle cx="874.3" cy="307.5" r="1.2" fill="#fff" opacity="0.7"/>
<circle cx="884.8" cy="318" r="3.0" fill="#c6e48c" stroke="#6a9a50" stroke-width="0.5"/><circle cx="884.0999999999999" cy="317.3" r="1.2" fill="#fff" opacity="0.7"/>
<circle cx="877.6" cy="340.4" r="3.0" fill="#c6e48c" stroke="#6a9a50" stroke-width="0.5"/><circle cx="876.9" cy="339.7" r="1.2" fill="#fff" opacity="0.7"/>
<circle cx="870.5" cy="360.1" r="3.0" fill="#c6e48c" stroke="#6a9a50" stroke-width="0.5"/><circle cx="869.8" cy="359.40000000000003" r="1.2" fill="#fff" opacity="0.7"/>
<circle cx="882.1" cy="299.3" r="3.0" fill="#c6e48c" stroke="#6a9a50" stroke-width="0.5"/><circle cx="881.4" cy="298.6" r="1.2" fill="#fff" opacity="0.7"/>
<ellipse cx="857.1" cy="303.7" rx="4.2" ry="3.8" fill="#ece6f6" stroke="#c8bce4" stroke-width="0.4"/><circle cx="856.1" cy="303.2" r="1.0" fill="#7a5ab8"/><circle cx="858.1" cy="304.5" r="0.9" fill="#7a5ab8"/><circle cx="857.7" cy="302.4" r="0.7" fill="#7a5ab8"/>
<ellipse cx="888.4" cy="330.6" rx="4.2" ry="3.8" fill="#ece6f6" stroke="#c8bce4" stroke-width="0.4"/><circle cx="887.4" cy="330.1" r="1.0" fill="#7a5ab8"/><circle cx="889.4" cy="331.40000000000003" r="0.9" fill="#7a5ab8"/><circle cx="889.0" cy="329.3" r="0.7" fill="#7a5ab8"/>
<ellipse cx="849" cy="350.3" rx="4.2" ry="3.8" fill="#ece6f6" stroke="#c8bce4" stroke-width="0.4"/><circle cx="848" cy="349.8" r="1.0" fill="#7a5ab8"/><circle cx="850" cy="351.1" r="0.9" fill="#7a5ab8"/><circle cx="849.6" cy="349.0" r="0.7" fill="#7a5ab8"/>
<ellipse cx="823.1" cy="365.5" rx="4.2" ry="3.8" fill="#ece6f6" stroke="#c8bce4" stroke-width="0.4"/><circle cx="822.1" cy="365.0" r="1.0" fill="#7a5ab8"/><circle cx="824.1" cy="366.3" r="0.9" fill="#7a5ab8"/><circle cx="823.7" cy="364.2" r="0.7" fill="#7a5ab8"/>
</g>
<text x="684.0" y="421.8" font-family="Liberation Sans" font-size="21.2" font-weight="bold" fill="#000" stroke="#000" stroke-width="0.55" textLength="198" lengthAdjust="spacingAndGlyphs">BioVector NTCC Inc.</text>
</svg></body></html>
